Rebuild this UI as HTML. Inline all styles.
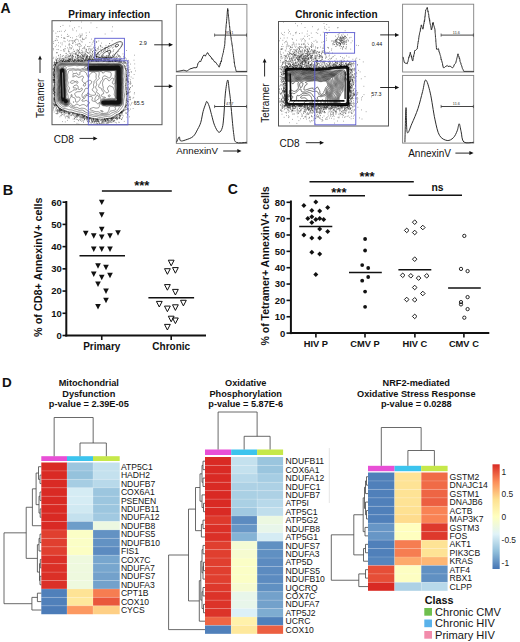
<!DOCTYPE html>
<html><head><meta charset="utf-8"><title>Figure</title>
<style>html,body{margin:0;padding:0;background:#fff;} svg{display:block;} text{font-family:"Liberation Sans",sans-serif;}</style>
</head><body>
<svg width="520" height="642" viewBox="0 0 520 642" font-family="Liberation Sans, sans-serif">
<rect width="520" height="642" fill="#fff"/>
<text x="0.6" y="13.0" font-size="14" font-weight="bold" text-anchor="start" fill="#111" >A</text>
<text x="109.2" y="17.7" font-size="10" font-weight="bold" text-anchor="middle" fill="#111" >Primary infection</text>
<g><path d="M77.0 55.8h.6M125.5 113.3h.6M77.1 60.2h.6M70.8 47.6h.6M70.7 54.3h.6M72.1 71.9h.6M127.5 75.3h.6M53.6 86.2h.6M126.8 105.5h.6M65.6 60.0h.6M74.7 60.4h.6M111.3 118.7h.6M113.8 54.6h.6M77.4 115.2h.6M85.6 59.6h.6M124.9 66.7h.6M76.9 60.5h.6M54.5 99.5h.6M126.4 94.2h.6M94.5 59.8h.6M129.4 74.3h.6M120.0 56.6h.6M70.7 59.0h.6M87.1 60.4h.6M79.0 114.8h.6M116.4 117.1h.6M129.7 69.4h.6M121.2 113.7h.6M110.9 118.3h.6M113.7 57.2h.6M107.0 59.3h.6M72.3 113.0h.6M91.6 56.0h.6M54.3 76.7h.6M117.7 117.5h.6M107.9 52.2h.6M101.4 43.1h.6M75.4 56.5h.6M115.7 60.6h.6M117.7 55.9h.6M119.7 116.4h.6M96.4 61.5h.6M53.4 90.8h.6M74.1 114.0h.6M95.1 118.8h.6M113.1 118.3h.6M100.4 53.3h.6M112.5 56.6h.6M53.1 104.9h.6M71.0 48.6h.6M54.4 95.4h.6M127.7 88.3h.6M81.0 22.0h.6M54.1 95.0h.6M121.9 112.9h.6M54.5 92.0h.6M72.1 55.3h.6M61.9 109.9h.6M55.9 62.4h.6M53.9 98.5h.6M109.7 57.8h.6M106.1 60.8h.6M90.0 59.5h.6M83.2 59.3h.6M106.6 59.6h.6M53.0 108.9h.6M93.7 123.5h.6M59.9 56.6h.6M54.8 104.5h.6M60.3 60.3h.6M98.9 59.5h.6M59.3 110.6h.6M69.4 61.3h.6M78.3 50.5h.6M68.8 59.4h.6M68.2 50.2h.6M83.4 60.9h.6M91.0 120.0h.6M77.5 55.5h.6M92.9 121.0h.6M128.5 95.0h.6M104.5 47.8h.6M74.1 60.7h.6M54.1 82.2h.6M53.8 69.5h.6M54.5 99.2h.6M120.9 112.9h.6M82.7 114.9h.6M110.1 61.7h.6M70.9 57.8h.6M54.0 69.8h.6M77.8 43.7h.6M93.7 58.4h.6M88.1 58.9h.6M112.4 60.2h.6M81.0 54.8h.6M52.8 85.3h.6M62.7 25.4h.6M98.5 60.3h.6M53.5 41.7h.6M124.2 61.1h.6M80.5 59.9h.6M127.2 78.9h.6M126.3 93.8h.6M96.3 59.5h.6M91.6 58.4h.6M66.6 113.5h.6M107.9 59.5h.6M55.6 40.5h.6M78.1 57.3h.6M84.5 56.0h.6M87.3 117.2h.6M125.1 67.8h.6M84.9 60.0h.6M77.0 114.9h.6M70.2 58.6h.6M124.4 61.0h.6M67.5 57.8h.6M53.2 71.4h.6M84.2 119.0h.6M66.9 36.5h.6M81.4 50.3h.6M99.4 123.1h.6M53.0 91.2h.6M98.3 58.6h.6M98.5 41.0h.6M127.1 96.1h.6M92.3 122.0h.6M57.1 109.8h.6M91.6 56.5h.6M132.8 108.5h.6M59.8 110.4h.6M92.5 51.7h.6M57.9 113.1h.6M64.8 41.7h.6M53.5 96.1h.6M94.2 121.7h.6M60.2 26.5h.6M58.8 108.9h.6M72.0 56.0h.6M95.7 56.6h.6M77.2 117.1h.6M74.6 116.2h.6M84.3 60.9h.6M54.0 87.9h.6M80.3 35.9h.6M105.1 120.6h.6M106.7 55.5h.6M56.3 105.4h.6M90.8 58.1h.6M121.5 111.8h.6M75.5 117.4h.6M96.9 53.7h.6M53.1 78.0h.6M81.6 117.9h.6M82.6 119.9h.6M108.2 57.6h.6M101.8 122.2h.6M75.5 39.7h.6M122.1 111.5h.6M65.7 57.7h.6M77.6 44.7h.6M79.6 59.6h.6M62.9 110.0h.6M98.7 56.9h.6M54.2 105.6h.6M89.5 52.3h.6M81.8 54.4h.6M60.6 60.5h.6M60.4 110.4h.6M124.7 62.5h.6M96.4 51.0h.6M91.0 60.0h.6M92.0 51.7h.6M80.8 115.6h.6M112.1 61.5h.6M83.8 116.0h.6M125.2 62.9h.6M106.9 123.6h.6M127.9 82.2h.6M93.9 48.3h.6M104.9 48.2h.6M52.6 80.9h.6M65.6 55.6h.6M61.6 109.8h.6M103.3 58.3h.6M109.4 118.6h.6M75.7 54.8h.6M78.5 58.8h.6M130.3 99.7h.6M114.6 61.3h.6M73.4 113.1h.6M89.6 119.9h.6M83.2 116.6h.6M105.6 56.3h.6M72.3 43.4h.6M90.2 55.5h.6M105.4 47.4h.6M67.6 54.6h.6M89.9 50.2h.6M61.2 113.3h.6M111.3 117.8h.6M109.3 122.5h.6M79.6 37.3h.6M126.5 94.3h.6M72.2 52.9h.6M127.0 104.4h.6M67.8 56.2h.6M85.6 58.6h.6M68.8 56.8h.6M81.1 54.3h.6M113.2 60.0h.6M112.2 48.1h.6M53.9 103.1h.6M77.7 56.2h.6M106.2 58.0h.6M85.0 45.0h.6M72.9 114.3h.6M53.0 93.9h.6M112.5 119.0h.6M56.2 63.2h.6M88.2 59.6h.6M119.4 60.6h.6M97.6 60.5h.6M75.5 57.2h.6M57.7 110.7h.6M127.0 109.6h.6M84.0 47.2h.6M109.6 59.5h.6M64.8 59.0h.6M54.0 99.9h.6M74.0 27.7h.6M65.0 61.3h.6M75.8 117.6h.6M117.6 115.3h.6M73.7 60.9h.6M107.4 61.2h.6M119.4 117.5h.6M108.5 118.5h.6M77.6 57.2h.6M95.3 60.1h.6M69.3 116.9h.6M104.2 119.1h.6M56.7 52.8h.6M91.5 53.8h.6M100.1 57.0h.6M75.1 42.6h.6M95.6 60.5h.6M120.4 62.1h.6M126.8 68.8h.6M125.9 85.2h.6M71.4 55.9h.6M82.1 55.6h.6M57.3 40.3h.6M78.9 43.4h.6M72.0 56.1h.6M84.1 119.3h.6M102.3 58.0h.6M95.6 123.8h.6M101.5 122.2h.6M93.7 121.1h.6M68.9 113.5h.6M119.8 113.8h.6M62.0 111.0h.6M70.3 60.2h.6M52.7 66.8h.6M101.2 58.6h.6M67.6 60.8h.6M92.6 42.3h.6M96.2 58.0h.6M103.0 123.3h.6M102.6 119.1h.6M95.5 121.7h.6M99.4 60.2h.6M127.9 92.3h.6M109.1 61.1h.6M54.0 95.8h.6M115.9 118.6h.6M126.0 91.3h.6M134.3 55.2h.6M55.8 62.7h.6M113.4 117.6h.6M128.1 108.9h.6M128.1 99.7h.6M100.5 45.4h.6M97.9 53.9h.6M52.9 104.4h.6M74.6 60.3h.6M124.3 63.4h.6M82.0 115.2h.6M88.0 60.0h.6M93.3 120.2h.6M93.2 47.1h.6M101.4 55.3h.6M94.5 56.2h.6M76.0 39.1h.6M61.0 112.6h.6M124.2 65.7h.6M58.1 107.5h.6M84.0 60.1h.6M96.3 120.7h.6M130.3 109.1h.6M76.4 58.4h.6M68.4 116.4h.6M69.5 60.7h.6M125.8 65.1h.6M53.6 99.9h.6M52.7 79.5h.6M86.8 117.2h.6M67.9 112.4h.6M84.4 117.9h.6M104.6 60.3h.6M121.6 112.8h.6M59.4 112.1h.6M101.5 123.0h.6M62.2 56.1h.6M86.8 57.0h.6M64.3 112.6h.6M58.6 111.7h.6M80.2 44.3h.6M92.5 54.1h.6M53.9 79.6h.6M60.4 54.7h.6M122.7 111.3h.6M111.7 31.1h.6M127.3 109.2h.6M89.1 118.2h.6M54.4 106.2h.6M82.8 55.7h.6M97.9 54.2h.6M93.2 60.2h.6M53.3 75.8h.6M126.3 100.6h.6M126.0 70.5h.6M126.8 99.0h.6M90.8 123.7h.6M52.7 92.1h.6M76.0 61.4h.6M126.9 80.3h.6M125.6 63.4h.6M53.6 89.2h.6M77.8 55.6h.6M54.2 64.9h.6M99.8 60.5h.6M116.8 52.9h.6M94.0 120.1h.6M53.3 108.0h.6M68.8 61.6h.6M78.3 115.7h.6M74.4 60.6h.6M119.3 59.0h.6M54.2 74.0h.6M118.8 122.5h.6M123.2 61.8h.6M63.3 110.2h.6M112.4 55.4h.6M109.5 61.2h.6M71.7 57.5h.6M72.6 40.9h.6M106.6 47.2h.6M58.8 57.9h.6M55.7 104.1h.6M53.7 73.8h.6M119.2 113.5h.6M108.1 61.6h.6M54.1 72.4h.6M59.3 111.6h.6M67.1 34.4h.6M60.5 43.0h.6M76.3 53.0h.6M78.2 60.7h.6M128.1 60.4h.6M91.0 122.0h.6M58.1 60.6h.6M127.7 89.1h.6M54.2 74.5h.6M63.7 112.4h.6M103.7 56.2h.6M126.6 79.7h.6M106.7 120.6h.6M54.2 76.7h.6M85.9 116.7h.6M56.6 111.7h.6M79.7 117.8h.6M81.8 60.5h.6M91.9 59.9h.6M71.9 57.0h.6M89.7 59.2h.6M56.0 108.0h.6M54.2 83.9h.6M125.8 87.7h.6M130.2 79.8h.6M54.2 70.2h.6M58.1 107.0h.6M65.4 60.7h.6M70.4 55.1h.6M89.6 58.7h.6M81.8 53.0h.6M86.2 57.3h.6M104.1 119.0h.6M120.4 61.8h.6M91.3 60.6h.6M127.6 70.1h.6M122.9 61.7h.6M61.6 110.2h.6M72.8 42.9h.6M81.2 28.0h.6M97.3 54.4h.6M100.7 59.9h.6M54.4 70.1h.6M107.1 119.2h.6M98.6 55.9h.6M126.6 71.6h.6M107.4 118.7h.6M93.2 57.5h.6M68.1 60.4h.6M105.3 60.6h.6M53.3 75.2h.6M107.2 120.0h.6M96.7 121.9h.6M84.4 117.1h.6M107.3 50.9h.6M82.5 38.8h.6M77.8 61.4h.6M91.2 39.1h.6M58.9 58.9h.6M108.6 118.3h.6M83.9 55.1h.6M114.3 120.1h.6M98.8 121.5h.6M120.1 112.9h.6M58.0 107.8h.6M53.3 80.6h.6M104.3 60.2h.6M54.8 62.7h.6M64.8 60.4h.6M75.7 60.6h.6M58.3 55.8h.6M63.7 110.8h.6M98.4 46.9h.6M72.5 60.5h.6M89.2 119.6h.6M100.8 47.0h.6M98.7 61.4h.6M86.3 116.6h.6M56.1 113.7h.6M69.4 114.3h.6M120.7 58.2h.6M116.1 115.2h.6M89.2 58.6h.6M127.6 63.4h.6M73.9 121.5h.6M100.7 59.5h.6M97.2 119.9h.6M107.1 120.2h.6M56.5 52.8h.6M77.7 52.2h.6M103.8 119.7h.6M60.5 115.6h.6M89.7 51.4h.6M53.4 71.0h.6M75.9 50.2h.6M75.4 114.3h.6M77.0 114.2h.6M115.7 59.1h.6M93.7 41.7h.6M104.1 60.1h.6M54.9 62.6h.6M81.6 61.2h.6M90.0 118.9h.6M105.4 60.7h.6M97.4 123.6h.6M107.3 122.0h.6M113.1 59.9h.6M80.0 56.2h.6M120.3 60.1h.6M69.5 26.0h.6M61.6 114.5h.6M68.7 61.1h.6M53.7 75.3h.6M89.2 118.6h.6M69.3 113.2h.6M81.5 116.2h.6M61.7 58.2h.6M60.9 60.0h.6M117.7 60.1h.6M89.0 60.1h.6M108.0 122.8h.6M95.5 60.9h.6M126.1 68.6h.6M54.5 82.5h.6M54.1 71.5h.6M79.5 119.5h.6M90.2 58.9h.6M58.7 109.9h.6M98.3 119.3h.6M92.7 59.4h.6M105.2 119.7h.6M52.9 81.0h.6M87.1 60.8h.6M76.5 59.8h.6M76.0 114.4h.6M87.2 46.5h.6M115.1 60.3h.6M121.4 111.5h.6M55.1 103.0h.6M101.1 52.8h.6M83.5 58.3h.6M53.2 72.5h.6M94.5 54.8h.6M118.5 51.5h.6M83.7 118.2h.6M54.5 92.6h.6M94.2 61.0h.6M55.8 63.5h.6M101.0 119.5h.6M106.6 118.9h.6M112.8 45.9h.6M74.9 59.5h.6M54.6 92.5h.6M126.5 91.4h.6M83.2 117.3h.6M78.1 57.5h.6M78.7 46.6h.6M112.6 61.2h.6M86.8 60.0h.6M79.2 49.4h.6M125.9 79.1h.6M86.0 35.6h.6M99.3 59.5h.6M53.3 103.6h.6M116.8 60.8h.6M95.1 59.8h.6M123.4 110.6h.6M120.9 46.2h.6M73.9 60.0h.6M61.5 109.6h.6M116.7 57.9h.6M126.9 101.4h.6M76.5 116.1h.6M88.9 59.3h.6M58.4 108.2h.6M92.9 118.8h.6M98.6 123.1h.6M59.6 60.7h.6M100.8 58.0h.6M74.7 53.5h.6M53.5 88.3h.6M72.5 58.5h.6M81.8 58.0h.6M86.3 116.8h.6M56.7 52.5h.6M58.0 107.1h.6M98.0 47.9h.6M53.6 102.1h.6M89.7 57.9h.6M86.9 118.5h.6M73.1 61.0h.6M90.9 57.8h.6M97.7 60.1h.6M103.7 59.9h.6M68.2 60.8h.6M126.4 70.7h.6M123.8 62.5h.6M87.6 57.3h.6M85.7 60.4h.6M78.0 61.4h.6M120.6 112.3h.6M61.1 37.5h.6M115.4 60.7h.6M111.7 51.8h.6M97.3 123.8h.6M102.4 119.4h.6M112.6 118.7h.6M104.2 58.8h.6M128.1 101.5h.6M125.5 60.7h.6M53.4 81.8h.6M93.3 57.4h.6M83.0 56.6h.6M57.3 111.4h.6M53.7 75.2h.6M106.8 47.7h.6M116.5 58.0h.6M129.4 99.7h.6M102.9 50.4h.6M92.8 59.4h.6M59.4 109.3h.6M100.2 58.9h.6M121.3 111.6h.6M65.7 111.0h.6M53.0 80.9h.6M127.1 114.6h.6M98.5 121.8h.6M55.4 105.8h.6M128.6 62.0h.6M70.6 48.9h.6M111.6 118.6h.6M66.5 55.2h.6M112.0 61.2h.6M110.7 118.5h.6M95.8 61.4h.6M112.6 120.3h.6M89.1 58.1h.6M53.5 88.6h.6M82.3 58.2h.6M54.9 64.4h.6M54.2 83.1h.6M54.9 101.8h.6M100.3 59.5h.6M127.5 108.4h.6M92.3 52.7h.6M66.7 61.2h.6M86.4 59.4h.6M116.2 117.1h.6M61.1 109.6h.6M82.2 58.3h.6M127.8 76.4h.6M83.0 57.0h.6M128.6 66.8h.6M80.3 61.3h.6M76.2 113.9h.6M82.7 116.8h.6M100.8 59.9h.6M94.0 59.3h.6M88.0 60.6h.6M135.2 70.9h.6M96.3 120.9h.6M93.6 57.7h.6M83.8 61.0h.6M90.7 61.2h.6M117.1 61.5h.6M126.3 76.6h.6M54.1 67.1h.6M129.1 76.0h.6M65.8 111.5h.6M70.5 115.6h.6M76.8 51.4h.6M64.0 115.0h.6M109.2 121.3h.6M79.6 60.0h.6M127.3 65.2h.6M91.4 60.8h.6M81.9 60.2h.6M77.5 114.1h.6M56.3 62.5h.6M60.1 111.0h.6M62.8 111.5h.6M101.3 56.7h.6M81.2 121.2h.6M75.8 54.2h.6M77.5 116.7h.6M126.7 78.7h.6M65.0 57.7h.6M120.5 112.6h.6M83.8 61.1h.6M84.5 53.8h.6M53.7 75.2h.6M92.4 121.2h.6M53.0 93.8h.6M52.7 77.4h.6M111.1 57.0h.6M56.1 62.1h.6M103.5 122.5h.6M120.5 112.8h.6M77.3 115.6h.6M90.1 49.1h.6M103.1 120.0h.6M63.2 60.3h.6M82.3 51.1h.6M101.4 120.1h.6M66.0 60.4h.6M61.1 35.2h.6M88.9 58.0h.6M53.3 89.0h.6M121.2 112.2h.6M113.6 54.0h.6M107.9 61.1h.6M84.4 55.0h.6M126.2 107.2h.6M117.4 60.8h.6M130.5 83.3h.6M108.2 120.5h.6M77.8 60.3h.6M52.7 73.3h.6M112.4 26.8h.6M52.7 103.0h.6M97.0 119.5h.6M127.7 81.3h.6M122.9 115.9h.6M87.5 60.4h.6M53.8 112.0h.6M72.5 113.0h.6M65.6 61.1h.6M54.3 64.5h.6M93.5 118.5h.6M69.1 59.7h.6M65.6 61.1h.6M69.4 59.8h.6M126.3 74.6h.6M65.5 61.7h.6M103.3 61.4h.6M71.8 58.9h.6M95.1 49.7h.6M54.0 79.7h.6M116.7 119.7h.6M88.4 117.3h.6M115.0 57.4h.6M68.9 59.5h.6M95.9 60.6h.6M53.0 73.9h.6M78.1 50.7h.6M58.0 110.8h.6M104.2 58.5h.6M81.7 59.0h.6M59.3 31.4h.6M53.3 100.7h.6M128.6 67.5h.6M96.2 119.3h.6M128.8 92.7h.6M61.0 109.9h.6M53.5 105.9h.6M89.7 54.6h.6M100.9 58.6h.6M114.5 60.4h.6M74.6 59.3h.6M97.0 118.8h.6M64.1 110.4h.6M54.6 65.0h.6M54.1 63.6h.6M128.3 70.1h.6M104.5 119.3h.6M84.8 52.8h.6M68.7 59.3h.6M84.7 56.4h.6M84.2 116.5h.6M105.1 59.9h.6M97.7 56.4h.6M86.3 58.3h.6M82.0 60.3h.6M130.0 105.1h.6M61.0 59.9h.6M65.9 116.0h.6M62.6 59.8h.6M117.6 116.8h.6M66.0 112.7h.6M81.5 114.5h.6M54.3 86.2h.6M86.5 56.5h.6M118.0 61.8h.6M59.1 109.2h.6M58.0 49.6h.6M53.4 65.0h.6M53.5 91.2h.6M116.2 115.2h.6M77.6 56.3h.6M80.6 116.2h.6M80.4 120.5h.6M92.1 48.9h.6M72.0 40.9h.6M86.8 59.4h.6M125.4 66.8h.6M128.3 105.0h.6M53.8 99.1h.6M76.2 30.9h.6M57.7 36.7h.6M78.9 60.8h.6M84.9 118.7h.6M56.7 49.5h.6M120.8 61.5h.6M119.7 57.5h.6M55.0 104.4h.6M134.0 101.2h.6M130.3 64.1h.6M63.5 114.9h.6M87.6 61.0h.6M53.3 98.5h.6M128.3 105.8h.6M119.8 115.6h.6M98.9 123.1h.6M86.2 57.3h.6M77.7 60.3h.6M103.4 121.2h.6M126.2 59.0h.6M106.7 51.5h.6M101.9 60.6h.6M114.3 61.0h.6M89.4 118.1h.6M55.9 59.8h.6M110.5 61.0h.6M105.1 48.4h.6M99.8 120.5h.6M106.1 58.4h.6M128.4 109.2h.6M59.6 61.6h.6M90.5 55.4h.6M80.3 114.9h.6M67.8 118.1h.6M65.3 30.3h.6M54.0 80.5h.6M84.8 115.9h.6M100.2 49.2h.6M111.9 122.0h.6M119.4 113.6h.6M54.2 105.5h.6M114.9 117.6h.6M105.3 120.1h.6M89.5 57.5h.6M111.4 122.4h.6M81.5 59.3h.6M66.4 61.3h.6M68.8 55.7h.6M64.2 61.3h.6M65.1 112.9h.6M85.7 37.4h.6M110.9 118.8h.6M54.2 80.7h.6M124.5 110.4h.6M108.7 59.1h.6M126.3 99.3h.6M63.4 55.5h.6M109.6 60.7h.6M77.5 50.0h.6M56.4 110.3h.6M128.7 78.8h.6M90.8 60.0h.6M52.9 69.6h.6M97.7 121.6h.6M79.2 56.1h.6M95.7 60.3h.6M87.1 56.0h.6M126.7 100.6h.6M119.4 60.9h.6M102.5 56.8h.6M127.2 94.6h.6M70.1 37.5h.6M68.1 111.8h.6M53.8 79.0h.6M74.5 115.0h.6M53.9 79.0h.6M54.0 67.7h.6M126.2 50.5h.6M123.9 62.8h.6M59.9 108.7h.6M92.0 59.7h.6M82.5 56.4h.6M87.3 55.5h.6M104.8 34.0h.6M120.1 59.9h.6M56.8 113.7h.6M93.6 118.8h.6M78.4 41.0h.6M126.7 72.4h.6M97.9 61.4h.6M117.4 118.5h.6M60.0 60.3h.6M71.7 114.2h.6M105.7 124.1h.6M115.8 61.4h.6M79.6 60.0h.6M126.9 73.3h.6M91.9 122.5h.6M81.5 57.2h.6M129.1 97.4h.6M125.4 68.9h.6M99.5 54.9h.6M87.6 121.1h.6M106.1 59.3h.6M107.6 60.0h.6M83.6 59.1h.6M86.9 119.4h.6M58.0 45.9h.6M87.9 53.1h.6M99.5 54.8h.6M125.1 107.0h.6M82.5 116.8h.6M76.5 36.6h.6M54.2 80.3h.6M57.2 62.8h.6M126.7 92.4h.6M111.2 118.4h.6M126.5 92.1h.6M69.4 61.2h.6M106.1 57.0h.6M66.9 60.7h.6M59.5 110.3h.6M72.9 61.1h.6M91.8 59.5h.6M71.6 112.3h.6M102.4 121.8h.6M68.7 41.3h.6M115.9 60.6h.6M112.3 117.6h.6M121.1 112.3h.6M96.8 59.7h.6M63.5 60.4h.6M115.8 58.9h.6M113.2 121.1h.6M87.9 46.6h.6M86.3 57.2h.6M93.1 50.5h.6M121.8 118.7h.6M69.1 58.6h.6M107.0 51.6h.6M119.0 113.5h.6M66.5 61.1h.6M125.4 85.6h.6M80.5 57.7h.6M126.1 69.8h.6M126.9 77.2h.6M126.1 104.8h.6M53.7 97.7h.6M125.1 62.4h.6M111.8 40.7h.6M82.7 115.7h.6M116.7 114.9h.6M85.1 54.1h.6M89.1 117.9h.6M76.0 119.2h.6M66.1 53.4h.6M68.6 113.4h.6M64.0 111.8h.6M54.1 77.9h.6M83.8 115.5h.6M98.7 59.9h.6M70.0 55.6h.6M85.8 60.1h.6M54.0 98.8h.6M90.9 50.3h.6M53.6 68.9h.6M94.6 60.8h.6M120.9 62.1h.6M79.4 43.9h.6M55.4 65.3h.6M87.3 58.7h.6M54.4 101.4h.6M54.0 70.7h.6M75.9 113.6h.6M53.9 91.9h.6M91.4 56.0h.6M74.2 51.3h.6M64.7 110.6h.6M119.3 115.2h.6M103.3 120.0h.6M90.8 118.0h.6M101.6 59.8h.6M128.4 92.9h.6M126.1 78.7h.6M78.3 59.6h.6M84.9 115.9h.6M68.0 112.9h.6M53.3 79.3h.6M113.5 57.6h.6M76.7 123.3h.6M74.4 118.3h.6M78.5 116.1h.6M54.5 79.9h.6M92.0 58.8h.6M98.4 58.0h.6M79.8 60.7h.6M104.4 119.2h.6M108.6 54.0h.6M118.1 55.7h.6M125.0 57.9h.6M53.9 63.8h.6M104.2 121.0h.6M61.6 110.5h.6M126.6 107.9h.6M54.8 102.2h.6M103.5 51.9h.6M62.6 110.4h.6M65.2 60.1h.6M80.9 41.7h.6M96.6 119.1h.6M83.8 56.7h.6M69.5 53.4h.6M72.3 57.7h.6M126.6 75.3h.6M52.8 110.2h.6M97.6 50.1h.6M86.7 116.9h.6M69.8 61.1h.6M55.6 105.4h.6M111.0 118.9h.6M128.9 83.3h.6M64.1 61.6h.6M84.1 119.6h.6M53.9 98.7h.6M72.3 60.7h.6M114.3 58.1h.6M105.1 120.9h.6M107.9 60.0h.6M61.0 110.8h.6M117.7 54.8h.6M82.2 55.5h.6M78.3 114.6h.6M64.5 49.0h.6M124.9 107.5h.6M81.8 56.7h.6M105.3 119.7h.6M78.9 52.5h.6M53.0 82.6h.6M101.0 123.6h.6M110.0 56.1h.6M108.3 53.0h.6M93.6 47.9h.6M57.8 58.8h.6M112.0 119.4h.6M127.7 81.8h.6M70.4 60.5h.6M95.5 120.0h.6M53.9 97.6h.6M67.4 61.6h.6M54.8 40.6h.6M130.3 91.8h.6M111.5 120.0h.6M118.6 59.5h.6M102.0 120.3h.6M81.4 117.5h.6M69.1 115.0h.6M55.1 64.3h.6M128.9 92.1h.6M128.8 104.0h.6M75.1 52.8h.6M63.0 60.8h.6M118.8 118.5h.6M64.7 111.5h.6M113.3 121.4h.6M62.9 59.7h.6M77.2 58.1h.6M91.7 122.0h.6M80.7 57.2h.6M92.3 60.9h.6M84.1 119.8h.6M87.4 52.6h.6M74.6 119.4h.6M55.6 64.6h.6M88.7 59.9h.6M120.0 61.4h.6M82.0 52.3h.6M54.5 69.5h.6M118.7 61.9h.6M54.1 85.6h.6M111.3 61.5h.6M68.6 35.9h.6M77.5 39.6h.6M89.5 118.5h.6M105.7 121.7h.6M114.5 120.6h.6M101.3 60.0h.6M112.3 60.7h.6M128.4 87.2h.6M122.0 112.2h.6M61.5 60.2h.6M121.0 112.4h.6M56.0 63.3h.6M54.4 77.7h.6M87.2 121.3h.6M61.8 56.3h.6M59.8 111.3h.6M85.0 51.3h.6M87.2 56.0h.6M116.1 60.1h.6M98.0 60.3h.6M78.0 55.3h.6M128.2 84.3h.6M54.4 70.2h.6M113.8 59.7h.6M53.5 57.3h.6M96.0 119.5h.6M113.5 118.2h.6M77.1 114.4h.6M65.3 111.4h.6M130.8 77.0h.6M114.2 60.2h.6M133.9 93.9h.6M72.6 60.1h.6M112.0 59.8h.6M119.3 55.6h.6M56.7 60.2h.6M123.9 109.7h.6M125.8 89.6h.6M53.5 72.7h.6M84.6 60.9h.6M82.4 57.0h.6M105.9 122.3h.6M64.7 38.4h.6M108.0 119.3h.6M81.1 60.7h.6M55.1 104.4h.6M68.5 51.8h.6M121.3 60.1h.6M89.1 60.1h.6M120.3 116.3h.6M84.5 54.8h.6M97.1 121.2h.6M128.4 75.6h.6M90.4 52.8h.6M86.2 57.0h.6M115.2 116.6h.6M98.1 120.3h.6M96.4 42.2h.6M67.4 116.7h.6M126.2 113.4h.6M79.8 56.8h.6M78.9 114.6h.6M106.7 51.6h.6M96.5 41.8h.6M54.9 110.8h.6M102.5 120.4h.6M62.0 114.5h.6M84.4 116.3h.6M72.8 119.1h.6M103.2 59.3h.6M82.9 116.8h.6M85.2 117.9h.6M109.2 58.3h.6M62.2 61.4h.6M69.6 59.8h.6M106.6 121.7h.6M119.2 61.3h.6M106.6 123.5h.6M95.4 53.3h.6M53.5 79.7h.6M63.7 38.0h.6M81.0 60.8h.6M122.4 117.6h.6M87.7 119.7h.6M81.2 59.9h.6M64.2 59.2h.6M125.0 109.0h.6M57.0 62.7h.6M107.8 61.5h.6M105.2 50.1h.6M75.0 60.7h.6M123.7 58.6h.6M116.7 119.6h.6M71.4 60.9h.6M55.2 102.2h.6M129.8 97.2h.6M102.6 121.3h.6M54.7 80.4h.6M88.8 56.6h.6M54.3 91.6h.6M57.2 105.9h.6M93.4 119.6h.6M74.8 113.8h.6M97.5 121.5h.6M70.2 21.5h.6M88.6 60.5h.6M107.1 119.8h.6M69.7 47.8h.6M125.7 83.8h.6M99.8 60.4h.6M85.1 60.0h.6M87.2 117.4h.6M64.2 61.5h.6M80.4 61.1h.6M112.9 50.9h.6M105.3 120.7h.6M97.0 59.6h.6M69.2 59.2h.6M60.6 112.7h.6M80.5 58.8h.6M127.2 79.2h.6M125.4 106.1h.6M77.8 114.5h.6M56.5 36.4h.6M94.4 59.1h.6M88.5 59.3h.6M128.9 96.1h.6M88.2 120.3h.6M62.6 61.0h.6M128.5 93.8h.6M54.0 76.4h.6M54.0 94.9h.6M78.6 124.1h.6M95.6 61.0h.6M104.0 119.2h.6M95.8 56.6h.6M106.5 55.5h.6M98.5 121.9h.6M75.5 58.1h.6M55.7 113.5h.6M130.6 83.3h.6M107.4 59.1h.6M105.3 118.9h.6M73.5 113.1h.6M107.8 55.8h.6M127.1 114.9h.6M126.0 65.0h.6M120.6 112.5h.6M93.2 119.5h.6M108.1 121.9h.6M54.6 104.8h.6M76.6 60.4h.6M56.6 63.0h.6M94.2 59.7h.6M84.5 115.8h.6M86.7 55.4h.6M68.0 113.4h.6M54.5 67.8h.6M54.3 70.0h.6M57.3 62.8h.6M63.7 58.4h.6M85.6 38.4h.6M87.4 117.7h.6M83.8 116.9h.6M103.8 61.4h.6M125.7 105.1h.6M69.6 40.6h.6M68.5 111.9h.6M129.4 88.9h.6M63.6 61.7h.6M100.1 61.0h.6M105.1 61.0h.6M80.2 116.6h.6M54.2 84.7h.6M98.6 49.5h.6M108.7 53.6h.6M69.6 44.5h.6M121.8 113.3h.6M76.6 44.4h.6M71.2 115.6h.6M110.0 122.4h.6M53.0 43.5h.6M60.3 109.2h.6M58.9 61.7h.6M106.5 57.1h.6M67.8 36.5h.6M120.5 112.5h.6M104.3 59.7h.6M105.7 45.4h.6M121.2 61.5h.6M56.0 105.4h.6M117.3 118.2h.6M69.0 45.1h.6M53.4 68.7h.6M108.7 48.7h.6M110.9 119.7h.6M78.6 60.6h.6M116.4 56.4h.6M109.5 43.5h.6M83.0 39.5h.6M78.7 60.0h.6M62.1 112.7h.6M80.4 56.9h.6M78.1 115.5h.6M117.6 118.7h.6M86.0 118.5h.6M128.4 90.3h.6M52.6 89.2h.6M112.3 118.4h.6M72.2 59.3h.6M129.9 81.5h.6M95.2 121.1h.6M81.8 35.0h.6M108.7 61.1h.6M126.6 93.0h.6M87.8 59.2h.6M63.8 110.7h.6M129.3 72.5h.6M56.4 61.7h.6M105.0 120.8h.6M75.3 113.3h.6M52.8 72.6h.6M80.3 36.1h.6M111.5 119.9h.6M98.2 121.3h.6M53.6 101.3h.6M52.9 48.5h.6M121.6 62.4h.6M54.7 66.2h.6M98.4 121.1h.6M108.1 119.8h.6M81.2 61.2h.6M112.8 47.5h.6M92.8 120.4h.6M52.7 89.7h.6M119.8 118.3h.6M54.4 61.7h.6M77.5 57.3h.6M102.4 47.4h.6M97.2 119.9h.6M114.5 58.0h.6M54.5 100.3h.6M119.2 61.3h.6M56.9 61.7h.6M73.9 116.9h.6M93.8 53.7h.6M85.1 60.9h.6M132.7 78.3h.6M53.9 97.8h.6M127.4 61.4h.6M119.3 60.3h.6M70.5 53.7h.6M60.7 62.0h.6M107.8 120.4h.6M56.1 105.0h.6M93.0 60.1h.6M76.1 53.0h.6M70.9 53.0h.6M126.7 80.3h.6M90.3 118.1h.6M120.0 112.8h.6M134.5 63.9h.6M129.4 116.8h.6M53.3 79.2h.6M126.6 63.1h.6M103.8 61.1h.6M66.7 56.6h.6M70.6 114.8h.6M54.2 89.3h.6M66.2 58.0h.6M120.8 58.5h.6M82.6 117.2h.6M53.9 62.4h.6M119.5 113.5h.6M127.3 69.6h.6M94.1 122.5h.6M90.7 22.9h.6M71.9 114.3h.6M84.7 48.3h.6M131.1 103.8h.6M54.2 77.0h.6M54.1 79.4h.6M84.6 118.6h.6M117.9 61.6h.6M54.5 82.2h.6M93.2 56.2h.6M86.8 56.8h.6M108.3 45.5h.6M113.2 117.4h.6M52.7 69.4h.6M91.5 119.2h.6M68.0 61.1h.6M91.3 120.3h.6M72.2 54.9h.6M67.5 60.5h.6M76.1 114.8h.6M85.7 57.5h.6M73.1 61.2h.6M79.8 52.4h.6M85.4 53.6h.6M53.7 82.0h.6M54.0 92.2h.6M97.7 119.4h.6M70.4 59.7h.6M106.7 120.7h.6M119.6 115.3h.6M90.9 57.1h.6M53.5 75.1h.6M97.7 48.4h.6M81.3 45.8h.6M87.9 118.9h.6M91.1 60.2h.6M64.9 48.7h.6M82.0 61.2h.6M97.9 59.4h.6M91.5 118.6h.6M97.7 61.3h.6M125.8 85.9h.6M94.3 57.1h.6M76.9 114.3h.6M90.0 117.8h.6M77.4 58.7h.6M119.7 118.1h.6M109.8 59.6h.6M62.5 58.5h.6M123.1 63.1h.6M59.1 61.8h.6M83.3 117.0h.6M86.4 49.3h.6M82.2 48.6h.6M53.7 93.4h.6M102.2 61.2h.6M76.2 115.5h.6M52.9 89.0h.6M112.9 120.6h.6M88.0 60.6h.6M52.7 82.6h.6M119.6 59.7h.6M132.7 98.2h.6M53.1 90.1h.6M57.3 111.9h.6M116.9 116.6h.6M113.7 117.0h.6M54.4 94.4h.6M111.0 59.9h.6M82.4 114.8h.6M59.7 111.2h.6M67.3 60.1h.6M60.7 50.5h.6M59.5 109.4h.6M128.1 102.1h.6M115.1 61.3h.6M110.5 118.4h.6M87.7 59.7h.6M54.0 76.0h.6M113.1 118.6h.6M123.3 110.2h.6M127.1 79.2h.6M69.0 56.2h.6M104.1 121.7h.6M60.9 110.0h.6M77.9 55.3h.6M77.1 49.9h.6M89.1 61.2h.6M96.5 57.8h.6M126.1 79.8h.6M91.0 120.8h.6M72.1 37.9h.6M127.6 81.2h.6M75.4 54.4h.6M105.4 121.4h.6M86.4 56.3h.6M127.5 80.7h.6M76.4 116.5h.6M112.5 60.6h.6M127.1 85.2h.6M108.4 57.5h.6M55.6 33.2h.6M126.1 105.3h.6M111.3 120.3h.6M107.4 119.5h.6M107.6 119.1h.6M128.0 75.2h.6M53.8 68.8h.6M86.3 50.0h.6M52.8 93.0h.6M91.6 60.4h.6M120.3 59.5h.6M121.1 119.3h.6M82.8 116.4h.6M82.0 60.9h.6M108.0 122.9h.6M130.2 82.3h.6M108.5 118.8h.6M125.3 69.1h.6M103.6 120.8h.6M88.8 60.7h.6M108.5 48.4h.6M109.7 56.5h.6M122.7 53.9h.6M126.1 76.3h.6M96.9 56.7h.6M125.8 88.8h.6M97.1 59.6h.6M59.9 55.0h.6M104.1 119.4h.6M63.7 59.8h.6M57.0 113.7h.6M78.3 51.8h.6M70.6 59.6h.6M60.1 110.0h.6M124.7 110.7h.6M92.9 60.6h.6M73.9 40.9h.6M96.5 57.3h.6M105.7 56.4h.6M91.0 61.0h.6M53.6 74.5h.6M61.2 115.7h.6M98.5 60.6h.6M72.8 60.6h.6M108.7 60.2h.6M61.8 61.5h.6M71.0 61.4h.6M53.9 73.8h.6M59.0 109.1h.6M69.7 113.4h.6M116.7 119.0h.6M94.4 52.4h.6M77.6 60.9h.6M126.7 98.8h.6M89.3 57.4h.6M112.5 117.2h.6M105.2 120.6h.6M81.6 115.9h.6M126.3 75.2h.6M101.5 58.9h.6M92.3 54.5h.6M130.4 97.1h.6M116.9 57.6h.6M110.3 121.3h.6M74.5 41.4h.6M74.9 57.3h.6M56.1 108.4h.6M78.0 53.7h.6M103.1 51.5h.6M55.7 64.2h.6M81.9 60.4h.6M82.9 58.5h.6M52.9 87.1h.6M105.4 120.2h.6M75.4 115.8h.6M68.8 61.7h.6M122.9 110.8h.6M63.7 112.1h.6M77.8 60.1h.6M117.0 54.3h.6M134.5 68.1h.6M127.3 101.4h.6M116.6 118.0h.6M134.4 92.6h.6M56.8 60.0h.6M62.1 61.7h.6M116.2 61.7h.6M96.1 56.0h.6M89.8 122.6h.6M59.4 110.3h.6M94.2 43.7h.6M105.7 57.5h.6M83.4 58.1h.6M53.9 64.2h.6M107.7 60.8h.6M126.9 103.3h.6M113.4 51.1h.6M52.8 79.3h.6M95.6 50.6h.6M92.3 51.5h.6M56.5 105.7h.6M55.1 103.3h.6M56.4 60.1h.6M91.1 118.9h.6M76.8 58.0h.6M62.4 61.2h.6M79.6 60.4h.6M132.2 85.7h.6M63.3 60.8h.6M104.9 49.8h.6M128.0 65.3h.6M83.5 55.3h.6M58.3 61.3h.6M61.2 112.2h.6M94.6 55.4h.6M63.3 111.5h.6M80.3 61.4h.6M55.1 64.6h.6M110.2 119.0h.6M125.3 106.5h.6M54.7 82.2h.6M54.1 90.9h.6M72.9 51.3h.6M125.6 109.4h.6M96.3 60.6h.6M55.1 109.1h.6M73.3 57.1h.6M127.2 112.3h.6M64.9 121.9h.6M101.5 60.2h.6M89.1 117.7h.6M67.3 112.1h.6M112.0 118.4h.6M115.4 61.4h.6M63.7 38.0h.6M91.3 61.1h.6M73.8 40.9h.6M87.0 52.6h.6M56.3 107.3h.6M66.7 116.4h.6M114.0 118.1h.6M119.5 59.8h.6M68.7 59.2h.6M95.1 55.0h.6M122.3 111.3h.6M86.4 119.7h.6M70.1 58.3h.6M84.1 115.5h.6M125.9 80.3h.6M64.0 61.6h.6M58.2 42.6h.6M64.3 111.9h.6M110.6 57.9h.6M60.3 46.8h.6M79.7 115.9h.6M109.7 118.5h.6M57.8 62.7h.6M56.8 106.7h.6M123.4 61.0h.6M96.1 59.4h.6M54.9 104.5h.6M56.0 60.5h.6M65.4 56.9h.6M96.3 56.9h.6M129.0 88.9h.6M79.0 114.1h.6M127.0 93.3h.6M71.7 60.6h.6M66.5 111.8h.6M113.6 121.7h.6M78.0 59.4h.6M94.9 52.5h.6M77.3 119.6h.6M52.8 68.2h.6M93.5 122.0h.6M126.9 77.7h.6M126.1 76.5h.6M95.0 59.5h.6M102.0 122.1h.6M103.3 60.2h.6M107.5 60.1h.6M78.9 60.8h.6M77.1 55.5h.6M115.5 118.5h.6M58.9 108.3h.6M125.3 106.2h.6M64.1 31.6h.6M100.9 60.7h.6M110.5 61.5h.6M79.9 46.2h.6M86.3 58.6h.6M76.5 115.4h.6M53.2 49.8h.6M55.9 38.8h.6M93.4 61.1h.6M64.5 50.9h.6M91.4 49.1h.6M103.0 61.0h.6M97.6 58.6h.6M92.0 55.2h.6M89.9 59.5h.6M107.2 118.7h.6M89.5 117.9h.6M81.1 57.4h.6M72.9 114.1h.6M65.2 46.2h.6M94.3 45.6h.6M117.3 60.4h.6M92.1 61.1h.6M86.9 56.6h.6M114.3 61.1h.6M78.8 53.0h.6M91.7 44.2h.6M75.9 54.7h.6M60.1 108.9h.6M68.3 58.6h.6M97.1 60.7h.6M108.7 56.2h.6M81.0 58.5h.6M106.2 118.7h.6M104.0 49.4h.6M114.6 116.2h.6M73.2 115.5h.6M82.8 115.0h.6M90.5 60.7h.6M117.4 60.7h.6M125.7 106.2h.6M130.4 87.5h.6M70.2 59.6h.6M59.6 59.9h.6M59.6 108.7h.6M111.7 60.8h.6M96.8 119.2h.6M115.6 59.9h.6M126.4 87.1h.6M90.4 59.4h.6M110.2 119.9h.6M81.9 42.0h.6M76.7 59.7h.6M93.2 40.8h.6M79.4 52.8h.6M59.3 108.3h.6M128.2 111.1h.6M92.7 118.9h.6M62.1 121.6h.6M128.2 82.2h.6M96.9 48.7h.6M94.5 54.8h.6M65.5 113.7h.6M79.4 116.1h.6M80.0 53.5h.6M130.3 99.1h.6M87.7 121.7h.6M61.8 58.5h.6M81.2 114.6h.6M126.9 93.5h.6M125.9 83.4h.6M57.2 106.9h.6M95.5 119.9h.6M129.5 89.7h.6M55.9 57.1h.6M86.1 50.1h.6M106.8 118.7h.6M94.2 121.5h.6M87.8 117.3h.6M107.2 122.5h.6M69.1 112.7h.6M63.2 58.3h.6M118.7 115.2h.6M128.0 91.7h.6M64.4 113.9h.6M91.4 59.9h.6M81.7 116.3h.6M118.2 60.7h.6M62.2 60.8h.6M67.8 115.5h.6M115.3 60.8h.6M53.9 90.9h.6M71.6 59.4h.6M125.9 109.5h.6M82.8 58.9h.6M83.4 56.6h.6M128.2 93.0h.6M106.7 61.4h.6M73.7 54.1h.6M100.7 120.7h.6M55.9 104.4h.6M76.1 61.3h.6M128.7 110.6h.6M114.7 59.7h.6M53.9 85.1h.6M108.7 60.6h.6M81.8 114.7h.6M53.6 80.0h.6M96.1 60.7h.6M89.1 46.7h.6M129.9 84.5h.6M104.0 61.4h.6M93.6 118.9h.6M57.0 112.7h.6M58.6 107.5h.6M95.6 118.9h.6M126.7 82.5h.6M128.7 97.8h.6M79.6 114.4h.6M52.9 93.7h.6M87.6 58.2h.6M68.8 59.3h.6M112.7 57.2h.6M89.3 60.2h.6M88.1 60.6h.6M110.8 120.8h.6M56.1 105.0h.6M73.5 56.3h.6M83.8 48.6h.6M83.0 47.9h.6M104.8 58.9h.6M62.5 111.0h.6M88.7 61.1h.6M56.7 110.0h.6M133.7 60.2h.6M116.2 60.7h.6M67.7 113.2h.6M59.9 61.8h.6M54.0 104.1h.6M131.0 72.1h.6M53.1 80.4h.6M54.3 70.1h.6M115.3 118.4h.6M72.2 112.9h.6M110.9 58.0h.6M53.7 87.1h.6M96.5 56.4h.6M108.7 59.3h.6M54.4 80.2h.6M96.6 27.6h.6M52.7 68.7h.6M83.1 59.2h.6M72.0 46.9h.6M103.1 55.4h.6M79.5 61.0h.6M109.2 61.3h.6M92.9 119.7h.6M126.6 87.7h.6M107.6 47.8h.6M60.2 110.0h.6M115.5 60.4h.6M83.8 111.4h.6M106.8 119.2h.6M78.8 115.9h.6M81.9 61.2h.6M61.2 109.7h.6M119.3 117.2h.6M63.5 67.1h.6M55.5 64.8h.6M88.6 53.3h.6M53.1 31.0h.6M124.5 66.0h.6M80.3 119.0h.6M61.2 110.7h.6M80.4 55.8h.6M115.8 56.4h.6M93.4 59.3h.6M61.9 43.0h.6M86.6 117.7h.6M54.1 94.3h.6M98.9 58.9h.6M60.8 109.6h.6M68.6 60.2h.6M67.4 60.1h.6M84.1 39.2h.6M66.5 59.7h.6M92.3 59.7h.6M113.6 49.5h.6M97.2 120.0h.6M55.5 105.9h.6M53.1 90.4h.6M78.5 115.4h.6M117.1 115.0h.6M101.5 121.0h.6M67.2 60.7h.6M113.8 117.3h.6M133.5 97.4h.6M110.8 60.5h.6M94.8 59.0h.6M63.1 49.9h.6M72.7 30.2h.6M60.9 31.2h.6M82.8 121.1h.6M118.5 114.1h.6M128.3 70.7h.6M118.9 56.1h.6M86.2 117.1h.6M91.2 119.7h.6M89.6 42.5h.6M53.6 103.8h.6M63.3 60.0h.6M87.4 118.0h.6M127.2 101.1h.6M56.4 45.0h.6M102.3 123.3h.6M62.3 61.3h.6M128.6 72.8h.6M126.9 89.4h.6M69.1 47.1h.6M112.2 117.5h.6M82.3 38.2h.6M126.3 94.2h.6M87.2 57.2h.6M70.8 56.5h.6M118.6 122.1h.6M100.9 60.3h.6M102.8 61.1h.6M54.3 87.3h.6M59.7 58.5h.6M121.7 115.1h.6M63.3 49.8h.6M96.2 56.3h.6M108.9 120.9h.6M72.4 55.6h.6M95.0 121.1h.6M126.6 88.3h.6M82.1 117.9h.6M71.2 112.3h.6M78.7 26.7h.6M74.3 60.1h.6M61.6 112.4h.6M100.0 46.5h.6M73.3 113.0h.6M54.1 88.0h.6M120.0 113.1h.6M53.8 88.7h.6M96.7 120.9h.6M126.1 77.0h.6M86.8 117.7h.6M86.7 120.0h.6M84.9 49.9h.6M53.9 79.5h.6M127.2 93.1h.6M126.6 84.5h.6M54.4 105.0h.6M109.2 43.6h.6M77.3 59.0h.6M69.1 56.9h.6M114.0 60.5h.6M79.4 47.1h.6M110.2 57.1h.6M95.6 59.1h.6M74.9 40.1h.6M113.4 61.7h.6M95.3 54.3h.6M54.3 92.9h.6M95.1 47.7h.6M54.9 64.2h.6M98.9 57.3h.6M126.5 66.8h.6M102.7 59.0h.6M109.0 120.2h.6M69.6 59.8h.6M82.7 53.1h.6M118.9 116.5h.6M111.0 58.5h.6M61.3 109.6h.6M89.7 59.3h.6M68.9 113.8h.6M118.7 60.9h.6M123.9 121.4h.6M105.3 59.2h.6M66.7 111.6h.6M55.0 59.1h.6M59.5 92.7h.6M79.0 56.8h.6M108.9 55.8h.6M54.9 65.0h.6M101.4 51.5h.6M68.4 58.0h.6M79.7 117.7h.6M83.7 52.1h.6M53.5 73.5h.6M108.5 61.5h.6M111.8 121.0h.6M64.7 112.3h.6M68.7 49.0h.6M86.8 60.7h.6M68.2 44.9h.6M86.5 54.5h.6M78.3 120.3h.6M130.8 71.7h.6M53.3 80.1h.6M74.1 51.6h.6M59.6 116.8h.6M88.9 58.8h.6M53.6 89.0h.6M63.7 51.4h.6M81.5 35.8h.6M54.3 89.7h.6M115.1 53.2h.6M61.6 60.3h.6M60.3 57.9h.6M120.4 115.5h.6M123.7 109.8h.6M112.1 61.4h.6M127.4 108.6h.6M115.6 115.6h.6M86.8 118.9h.6M114.8 116.6h.6M127.3 93.4h.6M123.4 110.9h.6M56.3 62.2h.6M127.7 81.4h.6M82.8 120.8h.6M65.4 117.9h.6M77.1 54.6h.6M116.5 117.2h.6M91.8 121.4h.6M53.8 62.5h.6M117.8 60.1h.6M54.0 74.9h.6M109.7 58.4h.6M95.6 119.5h.6M67.3 120.4h.6M97.6 61.3h.6M126.1 73.1h.6M91.8 60.9h.6M58.5 109.3h.6M70.9 40.7h.6M54.3 105.0h.6M110.1 61.6h.6M104.5 123.2h.6M118.8 56.6h.6M88.9 60.3h.6M53.9 99.0h.6M68.0 51.3h.6M85.8 32.9h.6M109.4 61.6h.6M53.8 97.6h.6M126.1 102.5h.6M106.1 61.6h.6M77.2 60.8h.6M124.2 54.7h.6M63.7 41.1h.6M83.4 118.0h.6M97.9 120.7h.6M82.0 39.6h.6M85.8 55.8h.6M127.7 87.2h.6M75.3 44.9h.6M88.2 122.4h.6M81.0 61.0h.6M89.4 56.5h.6M60.7 109.1h.6M73.2 49.3h.6M55.2 64.9h.6M70.3 55.2h.6M53.6 76.1h.6M78.5 120.8h.6M58.3 110.8h.6M66.2 111.6h.6M54.1 84.6h.6M82.9 54.8h.6M119.7 114.6h.6M106.6 118.7h.6M55.8 63.1h.6M81.8 33.9h.6M112.0 119.3h.6M128.4 71.9h.6M119.1 115.5h.6M92.1 58.8h.6M56.2 62.1h.6M53.9 80.3h.6M126.0 74.8h.6M131.7 102.6h.6M92.4 121.2h.6M59.8 112.6h.6M87.7 58.7h.6M111.7 61.7h.6M99.2 57.5h.6M53.5 71.2h.6M84.9 59.7h.6M54.1 87.1h.6M53.4 99.4h.6M69.9 113.1h.6M95.0 52.6h.6M57.2 106.1h.6M119.1 61.0h.6M127.4 68.3h.6M118.5 56.4h.6M53.2 107.3h.6M121.4 119.5h.6M90.0 56.2h.6M108.1 121.4h.6M62.2 61.3h.6M53.0 65.6h.6M56.8 105.7h.6M66.9 112.2h.6M89.3 120.1h.6M54.2 68.7h.6M53.6 74.9h.6M54.2 99.8h.6M122.2 44.7h.6M86.5 52.1h.6M71.2 59.0h.6M63.9 112.0h.6M93.9 53.4h.6M117.2 59.9h.6M63.5 113.2h.6M72.7 58.8h.6M85.0 55.0h.6M118.7 117.7h.6M89.3 48.7h.6M73.9 61.5h.6M68.4 117.5h.6M97.3 120.1h.6M131.8 86.3h.6M133.8 74.5h.6M52.6 74.7h.6M56.6 59.1h.6M106.3 118.7h.6M111.2 46.7h.6M116.3 58.7h.6M77.4 114.3h.6M55.7 60.5h.6M109.1 53.0h.6M54.9 65.8h.6M128.1 72.0h.6M106.3 119.8h.6M104.1 120.2h.6M104.0 50.7h.6M68.0 60.5h.6M99.9 123.6h.6M127.8 62.7h.6M74.1 113.5h.6M99.5 119.1h.6M114.2 56.1h.6M125.7 112.5h.6M119.9 115.9h.6M126.8 101.1h.6M54.4 62.9h.6M128.2 69.1h.6M53.8 75.9h.6M96.3 42.0h.6M88.4 48.9h.6M98.2 59.8h.6M107.3 49.4h.6M63.8 38.2h.6M102.7 121.7h.6M122.7 111.1h.6M105.4 59.1h.6M121.8 61.3h.6M78.3 60.9h.6M129.2 89.7h.6M71.8 58.0h.6M121.7 114.8h.6M88.1 60.0h.6M89.4 32.2h.6M71.7 115.2h.6M96.0 121.4h.6M94.2 57.4h.6M83.1 122.4h.6M95.2 49.8h.6M90.6 46.1h.6M119.1 117.8h.6M121.3 111.8h.6M97.4 120.0h.6M71.9 59.6h.6M77.4 115.9h.6M58.4 55.3h.6M101.1 50.1h.6M91.6 60.8h.6M57.3 110.6h.6M95.5 50.2h.6M114.9 122.4h.6M99.6 123.6h.6M72.9 53.3h.6M125.1 68.6h.6M77.1 45.4h.6M76.8 55.9h.6M67.9 114.4h.6M74.7 60.0h.6M63.0 59.4h.6M93.3 59.9h.6M89.8 56.8h.6M59.0 59.7h.6M85.6 59.2h.6M111.3 118.2h.6M88.0 61.1h.6M54.7 100.6h.6M75.1 117.1h.6M54.0 93.7h.6M85.8 60.8h.6M125.9 81.1h.6M126.6 117.1h.6M99.6 58.6h.6M118.6 114.2h.6M79.5 57.7h.6M86.0 51.4h.6M88.0 50.0h.6M94.1 119.7h.6M86.7 117.9h.6M54.3 70.9h.6M122.0 112.0h.6M95.8 61.0h.6M67.4 40.1h.6M97.7 52.3h.6M64.8 116.7h.6M69.4 118.1h.6M79.6 34.2h.6M99.9 45.5h.6M66.8 58.0h.6M85.7 59.3h.6M74.0 118.5h.6M115.1 61.5h.6M68.1 60.1h.6M68.2 61.2h.6M54.4 96.0h.6M115.4 118.1h.6M73.2 61.5h.6M122.6 63.2h.6M54.0 66.9h.6M55.0 64.0h.6M102.2 52.7h.6M84.3 46.8h.6M118.9 114.1h.6M112.4 55.4h.6M75.1 53.5h.6M80.6 117.4h.6M53.3 77.3h.6M71.5 45.5h.6M61.2 61.1h.6M92.2 118.9h.6M58.3 36.8h.6M114.3 117.8h.6M97.1 56.1h.6M84.5 60.5h.6M109.5 60.8h.6M54.6 92.6h.6M95.3 120.6h.6M94.7 121.7h.6M91.9 60.1h.6M100.9 61.0h.6M127.7 82.0h.6M124.5 59.2h.6M69.8 56.0h.6M67.0 47.9h.6M100.5 120.0h.6M78.0 55.3h.6M69.3 51.8h.6M81.8 55.1h.6M91.7 57.3h.6M84.8 60.8h.6M83.7 118.3h.6M126.9 103.5h.6M83.8 59.6h.6M82.5 61.0h.6M89.2 121.6h.6M116.3 117.6h.6M110.5 121.1h.6M96.3 122.3h.6M83.5 116.4h.6M95.5 50.4h.6M109.8 47.5h.6M109.4 61.0h.6M124.5 61.5h.6M54.4 81.1h.6M96.0 58.1h.6M91.8 55.9h.6M54.1 87.7h.6M108.8 57.4h.6M92.8 118.9h.6M119.3 118.6h.6M69.9 112.1h.6M115.8 61.0h.6M78.1 60.3h.6M68.5 61.5h.6M123.5 57.8h.6M53.7 65.3h.6M88.0 118.6h.6M97.9 53.1h.6M96.1 123.7h.6M54.1 76.8h.6M62.4 61.5h.6M88.7 56.4h.6M89.1 59.8h.6M89.4 121.3h.6M104.0 56.7h.6M78.9 51.2h.6M54.9 46.6h.6M65.6 53.4h.6M86.9 118.2h.6M64.8 111.8h.6M54.6 107.2h.6M78.7 58.3h.6M81.1 52.4h.6M75.2 60.1h.6M93.4 61.0h.6M69.7 112.4h.6M126.3 91.1h.6M125.7 63.3h.6M116.4 122.9h.6M60.6 110.9h.6M85.8 58.0h.6M53.9 101.0h.6M72.7 42.9h.6M53.3 87.4h.6M82.5 58.6h.6M73.7 113.0h.6M103.9 119.4h.6M95.8 119.2h.6M88.7 53.1h.6M68.9 43.4h.6M82.6 115.3h.6M73.3 56.3h.6M129.9 87.8h.6M52.8 58.5h.6M78.2 114.2h.6M82.5 117.7h.6M76.5 116.6h.6M80.5 37.3h.6M126.1 105.2h.6M81.8 118.1h.6M52.9 90.8h.6M68.3 56.2h.6M56.9 109.7h.6M110.5 52.0h.6M55.9 105.3h.6M72.1 28.9h.6M57.4 58.5h.6M80.4 59.0h.6M84.6 57.3h.6M59.9 108.6h.6M53.8 83.6h.6M54.6 81.7h.6M55.6 105.8h.6M114.0 120.8h.6M79.2 48.8h.6M119.4 62.2h.6M116.1 118.2h.6M78.6 35.8h.6M54.1 81.8h.6M54.3 99.7h.6M121.6 111.9h.6M74.5 59.5h.6M85.1 58.4h.6M64.5 57.1h.6M68.8 113.1h.6M120.5 112.6h.6M115.4 61.4h.6M89.1 118.6h.6M54.1 70.9h.6M57.5 31.6h.6M123.2 56.3h.6M89.8 57.0h.6M105.5 61.1h.6M109.6 118.2h.6M86.6 60.8h.6M73.9 59.1h.6M110.8 118.5h.6M77.6 114.9h.6M72.2 113.4h.6M80.9 119.2h.6M90.0 118.5h.6M68.2 113.9h.6M114.8 59.8h.6M61.8 44.8h.6M92.8 119.1h.6M80.5 40.2h.6M64.0 111.1h.6M85.7 117.5h.6" stroke="#222" stroke-width="0.75" stroke-opacity="0.8" fill="none"/>
<path d="M102.1,119.1 101.6,119.1 101.1,119.1 100.8,119.1 100.4,119.1 99.9,119.1 99.4,119.1 98.9,119.1 98.4,119.1 97.9,119.0 97.4,118.9 97.1,118.9 96.6,118.8 96.1,118.7 95.7,118.6 95.4,118.6 94.9,118.5 94.4,118.5 93.9,118.4 93.6,118.4 93.1,118.3 92.6,118.2 92.1,118.1 91.9,118.1 91.4,118.0 90.9,117.9 90.6,117.9 90.1,117.8 89.6,117.7 89.3,117.6 88.9,117.5 88.4,117.4 88.1,117.3 87.8,117.1 87.4,117.0 87.1,116.8 86.6,116.6 86.4,116.5 86.1,116.4 85.6,116.1 85.4,116.0 85.1,115.9 84.6,115.7 84.4,115.6 83.9,115.4 83.6,115.3 83.3,115.1 82.9,115.0 82.6,114.8 82.1,114.6 81.9,114.5 81.4,114.4 81.1,114.4 80.6,114.3 80.1,114.2 79.6,114.2 79.2,114.1 78.9,114.1 78.4,114.0 77.9,113.9 77.6,113.8 77.1,113.7 76.6,113.6 76.4,113.6 75.9,113.5 75.5,113.4 75.1,113.3 74.6,113.1 74.4,113.1 73.9,112.9 73.6,112.8 73.1,112.7 72.8,112.6 72.4,112.5 71.9,112.4 71.6,112.3 71.1,112.3 70.6,112.2 70.1,112.1 69.9,112.1 69.4,112.0 68.9,111.9 68.6,111.9 68.1,111.7 67.8,111.6 67.4,111.4 67.1,111.3 66.6,111.1 66.4,111.0 66.1,110.9 65.6,110.7 65.4,110.6 64.9,110.4 64.6,110.3 64.1,110.2 63.9,110.1 63.4,110.0 62.9,109.9 62.6,109.9 62.1,109.7 61.9,109.6 61.4,109.4 61.1,109.3 60.9,109.1 60.5,108.9 60.1,108.7 59.9,108.5 59.6,108.3 59.4,108.1 59.0,107.9 58.7,107.6 58.4,107.4 58.2,107.1 57.9,106.9 57.7,106.6 57.5,106.4 57.3,106.1 57.1,105.9 56.9,105.5 56.7,105.1 56.5,104.9 56.4,104.6 56.1,104.1 56.0,103.9 55.8,103.6 55.6,103.2 55.4,102.9 55.3,102.6 55.1,102.1 55.1,101.9 54.9,101.4 54.9,100.9 54.8,100.6 54.8,100.1 54.7,99.6 54.7,99.1 54.6,98.6 54.6,98.3 54.6,97.9 54.6,97.4 54.6,97.1 54.7,96.6 54.7,96.1 54.7,95.6 54.8,95.1 54.8,94.6 54.8,94.1 54.8,93.6 54.8,93.1 54.7,92.6 54.7,92.1 54.6,91.6 54.6,91.4 54.5,90.9 54.5,90.4 54.5,89.9 54.4,89.4 54.4,88.9 54.4,88.4 54.4,87.9 54.4,87.4 54.4,86.9 54.4,86.4 54.4,85.9 54.4,85.4 54.4,84.9 54.4,84.4 54.4,83.9 54.5,83.4 54.6,82.9 54.6,82.5 54.7,82.1 54.7,81.6 54.7,81.1 54.7,80.6 54.6,80.3 54.6,79.9 54.5,79.4 54.5,78.9 54.5,78.4 54.5,77.9 54.5,77.4 54.4,76.9 54.4,76.4 54.4,76.1 54.3,75.6 54.3,75.1 54.3,74.6 54.2,74.1 54.2,73.6 54.2,73.1 54.2,72.6 54.2,72.1 54.3,71.6 54.3,71.1 54.4,70.9 54.4,70.4 54.5,69.9 54.5,69.4 54.5,68.9 54.6,68.4 54.6,68.1 54.7,67.6 54.8,67.1 54.9,66.7 55.0,66.4 55.1,65.9 55.3,65.6 55.4,65.4 55.6,64.9 55.8,64.6 56.0,64.4 56.2,64.1 56.5,63.9 56.8,63.6 57.1,63.4 57.4,63.1 57.6,63.0 57.9,62.8 58.3,62.6 58.6,62.5 58.9,62.4 59.4,62.2 59.8,62.1 60.1,62.1 60.6,62.0 61.1,62.0 61.6,61.9 62.1,61.9 62.6,61.9 62.9,61.9 63.4,61.8 63.9,61.8 64.4,61.8 64.9,61.7 65.4,61.7 65.9,61.7 66.4,61.7 66.9,61.7 67.4,61.7 67.9,61.7 68.4,61.6 68.9,61.6 69.1,61.6 69.6,61.6 70.1,61.6 70.6,61.6 70.9,61.6 71.4,61.6 71.9,61.6 72.1,61.6 72.6,61.6 73.1,61.6 73.6,61.5 74.1,61.5 74.6,61.5 75.1,61.5 75.6,61.5 76.1,61.5 76.6,61.5 77.1,61.6 77.6,61.6 78.1,61.6 78.5,61.6 78.7,61.6 79.1,61.6 79.6,61.6 80.1,61.6 80.6,61.5 81.1,61.5 81.6,61.4 82.1,61.4 82.4,61.4 82.9,61.3 83.4,61.3 83.9,61.2 84.4,61.2 84.9,61.2 85.4,61.2 85.9,61.3 86.4,61.3 86.9,61.2 87.4,61.2 87.9,61.2 88.4,61.2 88.9,61.2 89.4,61.2 89.9,61.2 90.4,61.2 90.9,61.2 91.4,61.2 91.9,61.3 92.4,61.3 92.9,61.3 93.4,61.3 93.9,61.3 94.4,61.3 94.9,61.3 95.4,61.3 95.6,61.4 96.1,61.4 96.6,61.5 97.1,61.5 97.6,61.5 98.1,61.5 98.6,61.5 99.1,61.5 99.6,61.5 100.1,61.5 100.6,61.5 101.1,61.5 101.6,61.5 102.1,61.5 102.6,61.6 103.1,61.5 103.6,61.5 104.1,61.5 104.6,61.5 105.1,61.6 105.6,61.6 105.9,61.6 106.4,61.7 106.9,61.7 107.4,61.7 107.9,61.7 108.4,61.7 108.9,61.7 109.4,61.6 109.9,61.6 110.4,61.6 110.9,61.7 111.4,61.7 111.9,61.7 112.4,61.8 112.9,61.7 113.4,61.7 113.9,61.7 114.4,61.7 114.9,61.7 115.4,61.7 115.9,61.7 116.4,61.8 116.6,61.9 117.1,62.0 117.6,62.1 117.9,62.2 118.4,62.2 118.9,62.3 119.4,62.3 119.9,62.3 120.3,62.4 120.6,62.4 121.1,62.6 121.4,62.7 121.8,62.9 122.1,63.1 122.4,63.2 122.6,63.4 122.9,63.6 123.1,63.9 123.4,64.2 123.6,64.5 123.8,64.9 123.9,65.1 124.1,65.6 124.2,65.9 124.3,66.4 124.4,66.6 124.5,67.1 124.6,67.5 124.7,67.9 124.9,68.2 125.1,68.6 125.2,68.9 125.4,69.3 125.5,69.6 125.6,70.1 125.7,70.4 125.7,70.9 125.8,71.4 125.8,71.9 125.9,72.4 125.8,72.9 125.8,73.4 125.8,73.9 125.8,74.4 125.9,74.9 125.9,75.1 126.0,75.6 126.0,76.1 126.0,76.6 126.0,77.1 126.0,77.6 126.0,78.1 125.9,78.6 125.9,78.9 125.8,79.4 125.8,79.9 125.8,80.4 125.8,80.9 125.9,81.2 125.9,81.6 125.9,82.1 125.9,82.6 125.8,82.9 125.7,83.4 125.6,83.8 125.5,84.1 125.4,84.6 125.4,85.0 125.3,85.4 125.3,85.9 125.3,86.4 125.4,86.9 125.4,87.1 125.5,87.6 125.6,88.1 125.7,88.4 125.7,88.9 125.8,89.4 125.9,89.8 125.9,90.1 126.0,90.6 126.0,91.1 126.1,91.6 126.1,92.1 126.1,92.4 126.2,92.9 126.2,93.4 126.2,93.9 126.2,94.4 126.3,94.9 126.3,95.4 126.4,95.9 126.4,96.1 126.4,96.6 126.4,97.1 126.4,97.6 126.4,98.1 126.4,98.6 126.4,98.9 126.3,99.4 126.3,99.9 126.2,100.4 126.2,100.9 126.2,101.4 126.2,101.9 126.1,102.4 126.1,102.6 126.0,103.1 125.9,103.6 125.9,103.9 125.7,104.4 125.6,104.7 125.5,105.1 125.4,105.5 125.3,105.9 125.1,106.3 125.0,106.6 124.9,107.0 124.7,107.4 124.6,107.6 124.4,108.1 124.2,108.4 124.0,108.6 123.8,108.9 123.6,109.2 123.4,109.5 123.1,109.7 122.9,110.0 122.6,110.3 122.4,110.5 122.1,110.7 121.9,111.0 121.6,111.2 121.4,111.5 121.1,111.7 120.9,112.0 120.6,112.2 120.4,112.5 120.1,112.7 119.9,112.9 119.6,113.2 119.4,113.4 119.1,113.6 118.7,113.9 118.4,114.1 118.1,114.2 117.6,114.3 117.4,114.4 116.9,114.5 116.5,114.6 116.1,114.8 115.9,115.0 115.6,115.2 115.4,115.4 115.1,115.6 114.9,115.9 114.5,116.1 114.1,116.4 113.9,116.5 113.6,116.6 113.1,116.9 112.9,117.0 112.6,117.1 112.1,117.4 111.9,117.5 111.5,117.6 111.1,117.8 110.8,117.9 110.4,118.0 109.9,118.1 109.4,118.1 109.1,118.1 108.6,118.2 108.1,118.3 107.8,118.4 107.4,118.5 106.9,118.5 106.4,118.6 105.9,118.6 105.6,118.6 105.1,118.7 104.6,118.8 104.1,118.9 103.9,118.9 103.4,119.0 102.9,119.1 102.4,119.1 102.1,119.1M101.9,117.4 101.4,117.4 100.9,117.4 100.4,117.4 99.9,117.4 99.6,117.4 99.1,117.3 98.6,117.2 98.3,117.1 97.9,117.0 97.6,116.9 97.1,116.7 96.9,116.6 96.4,116.5 95.9,116.5 95.4,116.5 94.9,116.5 94.4,116.6 93.9,116.6 93.4,116.5 92.9,116.4 92.6,116.3 92.2,116.1 91.9,116.0 91.4,115.9 91.1,115.8 90.6,115.7 90.1,115.7 89.6,115.7 89.2,115.6 88.9,115.6 88.4,115.4 88.1,115.3 87.8,115.1 87.4,114.9 87.1,114.7 86.9,114.6 86.5,114.4 86.1,114.2 85.9,114.1 85.4,113.9 85.1,113.8 84.7,113.6 84.4,113.5 84.1,113.4 83.6,113.2 83.4,113.0 83.1,112.9 82.6,112.6 82.4,112.5 81.9,112.4 81.6,112.3 81.1,112.2 80.6,112.2 80.1,112.1 79.9,112.1 79.4,112.1 78.9,112.0 78.4,111.9 78.1,111.9 77.6,111.8 77.1,111.6 76.9,111.6 76.4,111.4 76.1,111.3 75.6,111.2 75.3,111.1 74.9,111.0 74.4,110.9 74.1,110.8 73.6,110.6 73.4,110.5 73.0,110.4 72.6,110.2 72.3,110.1 71.9,110.0 71.4,109.9 71.1,109.9 70.6,109.8 70.1,109.8 69.6,109.8 69.1,109.7 68.6,109.6 68.4,109.6 67.9,109.4 67.6,109.3 67.2,109.1 66.9,109.0 66.5,108.9 66.1,108.8 65.6,108.7 65.4,108.6 64.9,108.5 64.4,108.5 63.9,108.5 63.4,108.4 63.1,108.3 62.6,108.2 62.4,108.0 62.1,107.9 61.7,107.6 61.4,107.4 61.1,107.2 60.9,107.0 60.6,106.8 60.4,106.6 60.1,106.4 59.8,106.1 59.5,105.9 59.2,105.6 58.9,105.4 58.7,105.1 58.4,104.9 58.2,104.6 58.0,104.4 57.8,104.1 57.6,103.8 57.4,103.5 57.1,103.1 57.0,102.9 56.9,102.6 56.6,102.2 56.5,101.9 56.4,101.5 56.3,101.1 56.2,100.6 56.1,100.4 56.1,99.9 56.0,99.4 56.0,98.9 55.9,98.4 55.9,97.9 55.9,97.4 55.9,96.9 55.9,96.4 55.9,95.9 55.9,95.4 55.9,94.9 55.9,94.4 55.9,93.9 56.0,93.4 55.9,92.9 55.9,92.4 55.9,92.0 55.8,91.6 55.8,91.1 55.7,90.6 55.7,90.1 55.7,89.6 55.7,89.1 55.7,88.6 55.7,88.1 55.7,87.6 55.7,87.1 55.7,86.6 55.7,86.1 55.7,85.6 55.7,85.1 55.7,84.6 55.7,84.1 55.7,83.6 55.8,83.1 55.9,82.8 56.0,82.4 56.1,81.9 56.2,81.6 56.2,81.1 56.2,80.6 56.1,80.4 56.0,79.9 55.9,79.4 55.8,79.1 55.8,78.6 55.7,78.1 55.7,77.6 55.7,77.1 55.7,76.6 55.7,76.1 55.6,75.8 55.6,75.4 55.5,74.9 55.5,74.4 55.5,73.9 55.4,73.4 55.4,72.9 55.4,72.4 55.5,71.9 55.5,71.4 55.6,70.9 55.6,70.5 55.7,70.1 55.7,69.6 55.7,69.1 55.7,68.6 55.7,68.1 55.7,67.6 55.8,67.1 55.9,66.8 56.0,66.4 56.1,66.1 56.3,65.6 56.5,65.4 56.7,65.1 56.9,64.9 57.1,64.6 57.4,64.4 57.7,64.1 58.1,63.9 58.4,63.7 58.6,63.6 59.1,63.4 59.4,63.3 59.8,63.1 60.1,63.0 60.6,63.0 61.1,62.9 61.4,62.9 61.9,62.8 62.4,62.8 62.9,62.8 63.4,62.8 63.9,62.8 64.4,62.8 64.9,62.8 65.4,62.7 65.9,62.7 66.4,62.7 66.9,62.7 67.4,62.7 67.9,62.7 68.4,62.7 68.9,62.7 69.4,62.7 69.9,62.7 70.4,62.8 70.9,62.8 71.4,62.8 71.9,62.8 72.4,62.7 72.9,62.7 73.4,62.6 73.7,62.6 74.1,62.6 74.6,62.5 75.1,62.5 75.6,62.5 76.1,62.6 76.6,62.6 76.9,62.6 77.4,62.7 77.9,62.7 78.4,62.8 78.9,62.8 79.4,62.8 79.9,62.8 80.4,62.7 80.9,62.7 81.4,62.7 81.9,62.6 82.1,62.6 82.6,62.6 83.1,62.5 83.6,62.5 84.1,62.5 84.6,62.5 85.1,62.5 85.6,62.6 86.1,62.6 86.4,62.6 86.9,62.7 87.4,62.7 87.9,62.7 88.4,62.7 88.9,62.7 89.4,62.7 89.9,62.8 90.4,62.8 90.6,62.9 91.1,63.0 91.6,63.0 92.1,63.1 92.6,63.1 93.1,63.1 93.6,63.1 94.1,63.1 94.6,63.1 95.1,63.1 95.6,63.1 96.1,63.1 96.4,63.1 96.9,63.1 97.2,63.1 97.6,63.1 98.1,63.1 98.6,63.1 99.1,63.1 99.5,63.1 99.9,63.1 100.4,63.2 100.9,63.2 101.4,63.2 101.9,63.2 102.4,63.2 102.9,63.2 103.4,63.2 103.9,63.3 104.4,63.3 104.9,63.3 105.4,63.3 105.9,63.3 106.4,63.3 106.9,63.3 107.4,63.2 107.9,63.1 108.1,63.1 108.6,63.1 109.1,63.1 109.6,63.1 109.9,63.1 110.4,63.2 110.9,63.3 111.4,63.3 111.9,63.4 112.4,63.3 112.9,63.3 113.4,63.3 113.9,63.3 114.4,63.3 114.9,63.3 115.4,63.3 115.6,63.4 116.1,63.4 116.6,63.5 117.1,63.5 117.6,63.5 118.1,63.5 118.6,63.5 119.1,63.5 119.6,63.6 120.0,63.6 120.4,63.7 120.9,63.9 121.1,64.0 121.4,64.1 121.8,64.4 122.1,64.6 122.3,64.9 122.5,65.1 122.6,65.4 122.9,65.9 123.0,66.1 123.1,66.6 123.1,66.9 123.2,67.4 123.3,67.9 123.3,68.4 123.3,68.9 123.4,69.2 123.4,69.6 123.5,70.1 123.6,70.6 123.7,70.9 123.7,71.4 123.8,71.9 123.8,72.4 123.9,72.9 123.9,73.2 123.9,73.6 123.9,74.1 124.0,74.6 124.0,75.1 124.0,75.6 124.1,76.1 124.1,76.6 124.0,77.1 124.0,77.6 123.9,78.1 123.8,78.4 123.8,78.9 123.7,79.4 123.7,79.9 123.7,80.4 123.8,80.9 123.8,81.4 123.8,81.9 123.8,82.4 123.7,82.9 123.6,83.2 123.5,83.6 123.4,84.1 123.4,84.4 123.3,84.9 123.3,85.4 123.3,85.9 123.4,86.1 123.5,86.6 123.6,87.1 123.6,87.6 123.7,87.9 123.7,88.4 123.7,88.9 123.8,89.4 123.8,89.9 123.8,90.4 123.8,90.9 123.8,91.4 123.9,91.9 123.9,92.1 124.0,92.6 124.1,93.1 124.2,93.4 124.3,93.9 124.4,94.1 124.5,94.6 124.6,95.1 124.6,95.4 124.6,95.9 124.6,96.1 124.5,96.6 124.4,97.1 124.3,97.4 124.2,97.9 124.1,98.1 124.0,98.6 123.9,99.1 123.8,99.4 123.8,99.9 123.7,100.4 123.7,100.9 123.6,101.1 123.6,101.6 123.5,102.1 123.5,102.6 123.5,103.1 123.5,103.6 123.4,104.1 123.4,104.4 123.3,104.9 123.1,105.3 123.0,105.6 122.9,105.9 122.6,106.4 122.5,106.6 122.3,106.9 122.1,107.2 121.9,107.5 121.6,107.8 121.4,108.1 121.2,108.4 121.1,108.6 120.9,108.9 120.6,109.2 120.4,109.5 120.1,109.9 119.9,110.1 119.7,110.4 119.5,110.6 119.2,110.9 119.0,111.1 118.7,111.4 118.4,111.6 118.1,111.8 117.9,112.0 117.6,112.1 117.1,112.4 116.9,112.5 116.5,112.6 116.1,112.8 115.9,112.9 115.4,113.1 115.1,113.2 114.9,113.4 114.5,113.6 114.2,113.9 113.9,114.1 113.6,114.3 113.4,114.5 113.1,114.7 112.8,114.9 112.4,115.1 112.1,115.3 111.9,115.4 111.6,115.6 111.1,115.8 110.9,115.9 110.4,116.1 110.1,116.1 109.6,116.2 109.1,116.2 108.6,116.2 108.1,116.3 107.6,116.4 107.4,116.4 106.9,116.5 106.4,116.6 106.1,116.7 105.6,116.7 105.1,116.8 104.6,116.8 104.2,116.9 103.9,116.9 103.4,117.1 103.1,117.1 102.6,117.3 102.1,117.3 101.9,117.4M101.6,115.6 101.1,115.8 100.6,115.8 100.1,115.9 99.6,115.8 99.1,115.7 98.8,115.6 98.4,115.5 97.9,115.4 97.6,115.3 97.1,115.2 96.8,115.1 96.4,115.1 95.9,115.1 95.4,115.1 94.9,115.1 94.4,115.0 93.9,114.9 93.6,114.9 93.1,114.7 92.9,114.6 92.4,114.5 92.1,114.4 91.6,114.3 91.1,114.2 90.7,114.1 90.4,114.1 89.9,114.0 89.5,113.9 89.1,113.7 88.9,113.6 88.4,113.4 88.1,113.3 87.8,113.1 87.4,112.9 87.1,112.8 86.7,112.6 86.4,112.5 86.1,112.4 85.6,112.1 85.4,112.0 85.1,111.8 84.9,111.6 84.6,111.4 84.3,111.1 84.0,110.9 83.6,110.6 83.4,110.5 83.1,110.4 82.6,110.2 82.1,110.1 81.9,110.1 81.4,110.1 81.1,110.1 80.6,110.2 80.1,110.3 79.6,110.3 79.1,110.2 78.8,110.1 78.4,110.0 78.1,109.9 77.6,109.7 77.4,109.6 76.9,109.4 76.6,109.4 76.1,109.3 75.6,109.2 75.1,109.2 74.9,109.1 74.4,108.9 74.1,108.8 73.8,108.6 73.4,108.4 73.1,108.2 72.9,108.1 72.4,107.9 72.1,107.9 71.6,107.8 71.1,107.6 70.9,107.6 70.6,107.4 70.3,107.1 70.0,106.9 69.9,106.6 69.6,106.3 69.4,106.1 68.9,105.9 68.4,105.9 67.9,106.1 67.6,106.2 67.1,106.3 66.9,106.4 66.4,106.5 66.0,106.6 65.6,106.7 65.1,106.8 64.6,106.9 64.4,106.9 64.0,106.9 63.6,106.8 63.1,106.6 62.9,106.5 62.6,106.3 62.4,106.0 62.1,105.8 61.9,105.5 61.6,105.3 61.4,105.1 61.0,104.9 60.6,104.6 60.4,104.5 60.1,104.3 59.8,104.1 59.4,103.9 59.1,103.6 58.9,103.4 58.6,103.1 58.4,102.9 58.2,102.6 58.0,102.4 57.8,102.1 57.6,101.7 57.5,101.4 57.4,101.1 57.2,100.6 57.2,100.1 57.1,99.9 57.1,99.4 57.0,98.9 57.0,98.4 56.9,97.9 56.9,97.4 56.9,97.0 56.9,96.6 56.8,96.1 56.8,95.6 56.8,95.1 56.8,94.6 56.8,94.1 56.8,93.6 56.9,93.1 56.9,92.6 56.8,92.1 56.8,91.6 56.7,91.1 56.7,90.6 56.7,90.1 56.7,89.6 56.7,89.1 56.8,88.6 56.8,88.1 56.9,87.7 56.9,87.4 56.9,86.9 56.9,86.5 56.8,86.1 56.8,85.6 56.7,85.1 56.7,84.6 56.7,84.1 56.7,83.6 56.8,83.1 56.9,82.9 57.1,82.4 57.1,82.1 57.3,81.6 57.3,81.1 57.3,80.6 57.3,80.1 57.1,79.7 57.0,79.4 56.9,78.9 56.8,78.6 56.8,78.1 56.7,77.6 56.7,77.1 56.7,76.6 56.7,76.1 56.7,75.6 56.6,75.3 56.6,74.9 56.5,74.4 56.5,73.9 56.4,73.4 56.4,73.1 56.3,72.6 56.3,72.1 56.4,71.6 56.4,71.4 56.5,70.9 56.5,70.4 56.5,69.9 56.5,69.4 56.5,68.9 56.5,68.4 56.5,67.9 56.5,67.4 56.6,66.9 56.7,66.6 56.9,66.1 57.0,65.9 57.2,65.6 57.4,65.4 57.6,65.1 57.9,64.9 58.2,64.6 58.6,64.4 58.9,64.2 59.1,64.1 59.6,63.9 59.9,63.8 60.4,63.7 60.6,63.6 61.1,63.5 61.6,63.5 62.1,63.5 62.6,63.5 63.1,63.5 63.6,63.5 64.1,63.5 64.6,63.5 65.1,63.5 65.6,63.4 66.1,63.4 66.6,63.4 67.1,63.4 67.6,63.4 68.1,63.5 68.6,63.5 69.1,63.5 69.6,63.5 70.1,63.5 70.6,63.5 71.1,63.5 71.6,63.5 72.1,63.5 72.6,63.4 73.1,63.4 73.4,63.4 73.9,63.3 74.4,63.3 74.9,63.2 75.4,63.2 75.9,63.2 76.4,63.3 76.9,63.3 77.1,63.4 77.6,63.4 78.1,63.5 78.6,63.5 79.1,63.5 79.6,63.5 80.1,63.5 80.6,63.5 81.1,63.4 81.6,63.4 82.1,63.4 82.4,63.4 82.9,63.3 83.4,63.3 83.9,63.3 84.4,63.4 84.6,63.4 85.1,63.4 85.6,63.5 86.1,63.5 86.6,63.6 87.1,63.6 87.6,63.6 88.1,63.6 88.6,63.6 89.1,63.6 89.6,63.6 89.9,63.6 90.4,63.7 90.9,63.7 91.4,63.8 91.9,63.8 92.3,63.9 92.6,63.9 93.1,63.9 93.6,63.9 94.1,63.9 94.6,63.9 95.1,63.9 95.6,63.9 96.1,63.9 96.4,63.9 96.9,63.9 97.4,63.8 97.9,63.8 98.4,63.8 98.9,63.8 99.4,63.8 99.9,63.9 100.2,63.9 100.6,63.9 101.1,63.9 101.6,63.9 101.9,63.9 102.1,63.9 102.6,63.9 103.1,63.9 103.6,63.9 104.1,64.0 104.6,64.0 105.1,64.0 105.6,64.0 106.1,64.0 106.6,63.9 107.1,63.9 107.5,63.9 107.9,63.8 108.4,63.8 108.9,63.8 109.4,63.8 109.9,63.9 110.1,63.9 110.6,64.0 111.1,64.0 111.6,64.0 112.1,64.0 112.6,64.0 113.1,64.0 113.6,63.9 114.1,63.9 114.6,64.0 115.1,64.0 115.6,64.0 116.1,64.1 116.6,64.1 117.1,64.1 117.6,64.1 118.1,64.1 118.6,64.1 119.1,64.1 119.4,64.1 119.9,64.2 120.4,64.3 120.6,64.4 121.1,64.6 121.4,64.8 121.6,65.0 121.9,65.3 122.1,65.6 122.2,65.9 122.4,66.2 122.5,66.6 122.6,67.1 122.6,67.6 122.6,67.9 122.6,68.4 122.6,68.7 122.6,69.1 122.6,69.6 122.6,70.1 122.6,70.6 122.6,71.0 122.6,71.4 122.7,71.9 122.7,72.4 122.7,72.9 122.8,73.4 122.8,73.9 122.8,74.4 122.8,74.9 122.7,75.4 122.7,75.9 122.7,76.4 122.7,76.9 122.7,77.4 122.7,77.9 122.7,78.4 122.7,78.9 122.7,79.4 122.7,79.9 122.7,80.4 122.7,80.9 122.7,81.4 122.7,81.9 122.6,82.4 122.6,82.6 122.6,83.1 122.5,83.6 122.5,84.1 122.4,84.6 122.4,85.1 122.5,85.6 122.5,86.1 122.6,86.6 122.6,87.1 122.6,87.6 122.6,87.9 122.6,88.2 122.6,88.6 122.6,89.1 122.6,89.6 122.6,90.1 122.6,90.6 122.6,91.1 122.6,91.6 122.6,91.9 122.7,92.4 122.7,92.9 122.8,93.4 122.9,93.8 122.9,94.1 123.0,94.6 123.1,95.1 123.1,95.6 123.1,96.1 123.0,96.6 122.9,97.1 122.9,97.4 122.8,97.9 122.8,98.4 122.7,98.9 122.7,99.4 122.7,99.9 122.7,100.4 122.6,100.6 122.6,101.1 122.5,101.6 122.5,102.1 122.4,102.6 122.4,103.1 122.4,103.6 122.3,103.9 122.2,104.4 122.1,104.6 121.9,105.1 121.7,105.4 121.5,105.6 121.2,105.9 120.9,106.1 120.6,106.3 120.4,106.5 120.1,106.7 119.9,106.9 119.6,107.2 119.4,107.4 119.1,107.8 118.9,108.1 118.8,108.4 118.6,108.7 118.4,109.1 118.3,109.4 118.1,109.6 117.9,110.0 117.6,110.2 117.4,110.5 117.1,110.7 116.8,110.9 116.4,111.1 116.1,111.2 115.7,111.4 115.4,111.5 115.0,111.6 114.6,111.8 114.4,111.9 113.9,112.1 113.6,112.2 113.3,112.4 112.9,112.5 112.6,112.6 112.1,112.8 111.8,112.9 111.4,113.1 111.1,113.3 110.9,113.5 110.6,113.7 110.4,114.0 110.1,114.1 109.6,114.3 109.4,114.4 108.9,114.6 108.6,114.6 108.1,114.7 107.6,114.9 107.4,114.9 106.9,115.1 106.6,115.1 106.1,115.2 105.6,115.2 105.1,115.3 104.6,115.3 104.1,115.3 103.6,115.3 103.1,115.3 102.7,115.4 102.4,115.4 101.9,115.6 101.6,115.6M102.1,114.4 101.6,114.4 101.1,114.5 100.6,114.4 100.2,114.4 99.9,114.3 99.4,114.1 99.1,114.1 98.6,113.9 98.1,113.9 97.9,113.8 97.4,113.8 96.9,113.7 96.4,113.6 96.1,113.6 95.6,113.5 95.1,113.4 94.9,113.3 94.4,113.1 94.1,113.0 93.9,112.8 93.5,112.6 93.1,112.4 92.9,112.3 92.4,112.1 92.1,112.1 91.6,112.1 91.2,112.1 90.9,112.2 90.4,112.2 89.9,112.2 89.6,112.1 89.1,111.9 88.9,111.8 88.6,111.6 88.3,111.4 87.9,111.1 87.6,110.9 87.4,110.7 87.1,110.4 86.9,110.2 86.6,109.9 86.4,109.6 86.1,109.4 85.9,109.2 85.6,109.0 85.4,108.9 84.9,108.6 84.6,108.5 84.1,108.4 83.8,108.4 83.4,108.3 82.9,108.2 82.4,108.2 81.9,108.1 81.4,108.2 80.9,108.3 80.5,108.4 80.1,108.4 79.6,108.5 79.1,108.4 78.9,108.3 78.5,108.1 78.1,107.9 77.9,107.8 77.5,107.6 77.1,107.4 76.9,107.4 76.4,107.3 76.0,107.4 75.6,107.4 75.1,107.5 74.6,107.4 74.4,107.4 73.9,107.2 73.6,107.1 73.1,106.9 72.9,106.8 72.4,106.6 72.1,106.5 71.7,106.4 71.4,106.1 71.1,105.9 70.9,105.6 70.7,105.4 70.5,105.1 70.3,104.9 69.9,104.6 69.6,104.5 69.1,104.6 68.9,104.7 68.4,104.9 68.1,105.0 67.7,105.1 67.4,105.3 66.9,105.4 66.6,105.5 66.1,105.5 65.6,105.6 65.1,105.6 64.6,105.6 64.1,105.5 63.9,105.4 63.4,105.1 63.1,104.9 62.9,104.7 62.6,104.5 62.4,104.4 62.0,104.1 61.6,103.9 61.4,103.8 61.0,103.6 60.6,103.5 60.4,103.3 60.0,103.1 59.7,102.9 59.4,102.6 59.1,102.4 58.9,102.1 58.7,101.9 58.5,101.6 58.4,101.4 58.2,100.9 58.1,100.6 58.0,100.1 57.9,99.6 57.9,99.3 57.8,98.9 57.8,98.4 57.8,97.9 57.7,97.4 57.6,96.9 57.6,96.6 57.6,96.1 57.5,95.6 57.5,95.1 57.5,94.6 57.5,94.1 57.5,93.6 57.5,93.1 57.6,92.6 57.6,92.1 57.5,91.6 57.5,91.1 57.4,90.6 57.4,90.1 57.4,89.6 57.5,89.1 57.5,88.6 57.6,88.2 57.7,87.9 57.7,87.4 57.7,86.9 57.7,86.4 57.7,85.9 57.6,85.6 57.5,85.1 57.5,84.6 57.5,84.1 57.6,83.6 57.6,83.3 57.7,82.9 57.8,82.4 57.9,82.1 58.0,81.6 58.0,81.1 58.1,80.6 58.0,80.1 57.9,79.6 57.9,79.4 57.7,78.9 57.6,78.4 57.6,78.1 57.6,77.6 57.5,77.1 57.5,76.6 57.5,76.1 57.5,75.6 57.4,75.1 57.4,74.6 57.4,74.4 57.3,73.9 57.2,73.4 57.1,73.1 57.1,72.6 57.0,72.1 57.0,71.6 57.1,71.1 57.1,70.6 57.1,70.2 57.1,70.0 57.1,69.6 57.1,69.1 57.1,68.6 57.0,68.1 57.0,67.6 57.1,67.1 57.1,66.9 57.3,66.4 57.5,66.1 57.6,65.9 57.9,65.6 58.1,65.3 58.4,65.1 58.8,64.9 59.1,64.7 59.4,64.5 59.8,64.4 60.1,64.2 60.5,64.1 60.9,64.1 61.4,64.0 61.9,63.9 62.4,63.9 62.9,63.9 63.4,64.0 63.9,64.0 64.4,64.0 64.9,64.0 65.4,64.0 65.9,64.0 66.4,64.0 66.9,64.0 67.4,64.0 67.9,64.0 68.4,64.0 68.9,64.0 69.4,64.0 69.9,64.0 70.4,64.0 70.9,64.0 71.4,64.0 71.9,64.0 72.4,64.0 72.9,63.9 73.2,63.9 73.6,63.8 74.1,63.8 74.6,63.7 75.1,63.7 75.6,63.7 76.1,63.8 76.6,63.8 76.9,63.9 77.4,63.9 77.9,64.0 78.4,64.0 78.9,64.0 79.4,64.0 79.9,64.0 80.4,64.0 80.9,64.0 81.4,64.0 81.9,64.0 82.4,63.9 82.9,63.9 83.4,63.9 83.9,64.0 84.4,64.0 84.9,64.0 85.4,64.1 85.7,64.1 86.1,64.1 86.6,64.1 87.1,64.1 87.6,64.1 87.9,64.1 88.4,64.1 88.9,64.1 89.4,64.1 89.9,64.1 90.4,64.1 90.6,64.1 91.1,64.2 91.6,64.2 92.1,64.3 92.6,64.3 93.1,64.3 93.6,64.3 94.1,64.3 94.6,64.3 95.1,64.3 95.6,64.3 96.1,64.3 96.6,64.3 97.1,64.2 97.6,64.2 98.1,64.2 98.6,64.2 99.1,64.2 99.6,64.2 100.1,64.2 100.6,64.2 101.1,64.2 101.6,64.2 102.1,64.2 102.6,64.3 103.1,64.3 103.6,64.3 104.1,64.3 104.6,64.3 105.1,64.3 105.6,64.4 106.1,64.3 106.6,64.3 107.1,64.3 107.6,64.2 108.1,64.2 108.6,64.2 109.1,64.2 109.6,64.2 110.1,64.3 110.6,64.4 110.9,64.4 111.4,64.4 111.9,64.4 112.4,64.4 112.8,64.4 113.1,64.4 113.6,64.3 114.1,64.3 114.6,64.3 115.1,64.4 115.4,64.4 115.9,64.4 116.4,64.4 116.9,64.4 117.4,64.4 117.9,64.4 118.4,64.4 118.9,64.4 119.4,64.5 119.9,64.5 120.2,64.6 120.6,64.8 120.9,64.9 121.2,65.1 121.4,65.4 121.7,65.6 121.9,66.0 122.1,66.4 122.1,66.6 122.2,67.1 122.3,67.6 122.3,68.1 122.3,68.6 122.2,69.1 122.2,69.6 122.2,70.1 122.2,70.6 122.2,71.1 122.2,71.6 122.2,72.1 122.2,72.6 122.3,73.1 122.3,73.6 122.2,74.1 122.2,74.6 122.2,75.1 122.2,75.6 122.2,76.1 122.2,76.6 122.2,77.1 122.2,77.6 122.2,78.1 122.2,78.6 122.2,79.1 122.2,79.6 122.2,80.1 122.2,80.6 122.2,81.1 122.2,81.6 122.2,82.1 122.2,82.6 122.1,83.1 122.1,83.4 122.1,83.9 122.0,84.4 122.0,84.9 122.0,85.4 122.0,85.9 122.1,86.4 122.1,86.9 122.1,87.1 122.1,87.6 122.1,88.1 122.1,88.4 122.1,88.9 122.1,89.4 122.1,89.9 122.1,90.4 122.1,90.9 122.1,91.4 122.1,91.9 122.1,92.1 122.2,92.6 122.2,93.1 122.3,93.6 122.3,94.1 122.4,94.6 122.4,94.9 122.4,95.4 122.4,95.9 122.4,96.1 122.3,96.6 122.3,97.1 122.2,97.6 122.2,98.1 122.2,98.6 122.2,99.1 122.2,99.6 122.2,100.1 122.2,100.6 122.1,100.9 122.1,101.4 122.0,101.9 122.0,102.4 122.0,102.9 121.9,103.4 121.9,103.7 121.8,104.1 121.6,104.5 121.4,104.9 121.1,105.1 120.9,105.4 120.6,105.6 120.4,105.7 120.0,105.9 119.6,106.0 119.1,106.1 118.6,106.1 118.1,106.1 117.6,106.1 117.3,106.1 116.9,106.2 116.4,106.3 116.1,106.4 115.7,106.6 115.4,106.8 115.1,107.0 115.0,107.4 115.1,107.9 115.3,108.1 115.4,108.4 115.6,108.8 115.7,109.1 115.6,109.5 115.4,109.8 115.1,109.9 114.6,110.1 114.4,110.2 113.9,110.3 113.5,110.4 113.1,110.5 112.7,110.6 112.4,110.7 111.9,110.8 111.4,110.9 111.1,110.9 110.6,111.1 110.4,111.2 110.1,111.4 109.8,111.6 109.6,111.9 109.4,112.2 109.1,112.5 108.9,112.8 108.6,113.1 108.4,113.3 108.1,113.5 107.9,113.6 107.4,113.9 107.1,114.0 106.6,114.1 106.4,114.2 105.9,114.2 105.4,114.2 104.9,114.2 104.4,114.2 103.9,114.2 103.4,114.3 102.9,114.3 102.4,114.4 102.1,114.4M103.6,113.4 103.1,113.5 102.6,113.5 102.1,113.5 101.6,113.5 101.2,113.4 100.9,113.3 100.6,113.1 100.2,112.9 99.9,112.6 99.6,112.4 99.4,112.2 99.1,112.1 98.7,111.9 98.4,111.8 97.9,111.7 97.4,111.7 96.9,111.7 96.4,111.7 96.0,111.6 95.6,111.6 95.1,111.5 94.6,111.4 94.4,111.3 93.9,111.1 93.6,111.0 93.3,110.9 92.9,110.7 92.6,110.6 92.1,110.4 91.9,110.3 91.4,110.2 90.9,110.2 90.6,110.1 90.2,109.9 90.0,109.6 89.9,109.1 90.1,108.7 90.4,108.5 90.8,108.4 91.1,108.3 91.6,108.1 91.9,108.0 92.2,107.9 92.6,107.7 92.9,107.6 93.4,107.5 93.9,107.5 94.2,107.6 94.6,107.8 95.0,107.9 95.4,108.0 95.9,108.1 96.4,108.1 96.9,108.1 97.4,108.0 97.9,108.0 98.2,107.9 98.6,107.7 98.9,107.5 99.1,107.2 99.4,106.9 99.4,106.6 99.5,106.1 99.4,105.6 99.5,105.1 99.6,104.8 99.8,104.4 99.8,103.9 99.9,103.4 99.8,102.9 99.7,102.4 99.6,102.1 99.4,102.1 99.1,102.6 99.0,102.9 98.9,103.3 98.7,103.6 98.5,103.9 98.1,104.0 97.8,103.9 97.4,103.6 97.1,103.4 96.9,103.2 96.6,103.0 96.4,102.7 96.1,102.4 95.9,102.1 95.8,101.9 95.6,101.5 95.6,101.2 95.9,100.9 96.1,100.7 96.4,100.4 96.6,100.2 96.9,99.9 97.1,99.7 97.4,99.6 97.8,99.4 98.1,99.2 98.4,99.1 98.7,98.9 98.9,98.6 99.0,98.1 99.0,97.6 98.9,97.1 98.8,96.9 98.6,96.5 98.4,96.1 98.2,95.9 98.1,95.6 97.8,95.4 97.4,95.2 96.9,95.3 96.6,95.6 96.5,95.9 96.3,96.1 96.1,96.5 95.9,96.9 95.8,97.1 95.6,97.4 95.4,97.6 95.1,97.9 95.0,98.4 94.9,98.9 94.9,99.1 94.9,99.4 94.9,99.9 95.0,100.4 95.0,100.9 94.9,101.2 94.6,101.4 94.1,101.4 93.9,101.3 93.4,101.2 93.1,101.1 92.6,100.9 92.4,100.8 92.1,100.6 91.9,100.3 91.8,99.9 91.9,99.6 92.1,99.1 92.2,98.9 92.4,98.4 92.4,98.1 92.4,97.8 92.2,97.4 92.1,97.1 91.9,96.9 91.6,96.6 91.1,96.4 90.6,96.5 90.1,96.6 89.6,96.6 89.1,96.4 88.9,96.3 88.6,96.1 88.3,95.9 87.9,95.6 87.6,95.5 87.1,95.4 86.6,95.5 86.4,95.7 86.1,95.9 85.9,96.2 85.6,96.5 85.4,96.8 85.2,97.1 85.1,97.4 84.9,97.8 84.7,98.1 84.6,98.4 84.4,98.6 83.9,98.7 83.4,98.7 83.0,98.9 82.8,99.1 82.6,99.4 82.4,99.7 82.1,100.1 82.0,100.4 81.9,100.8 81.9,101.0 82.1,101.2 82.6,101.2 83.1,101.2 83.5,101.1 83.9,101.1 84.4,101.1 84.9,101.0 85.1,100.8 85.4,100.6 85.7,100.4 86.1,100.3 86.5,100.4 86.8,100.6 87.1,100.9 87.4,101.1 87.6,101.3 87.9,101.5 88.2,101.6 88.6,101.8 88.9,102.0 89.2,102.1 89.4,102.4 89.5,102.9 89.4,103.2 89.1,103.5 88.9,103.8 88.6,103.9 88.3,104.1 88.0,104.4 87.7,104.6 87.6,104.9 87.4,105.3 87.3,105.6 87.2,106.1 87.1,106.5 86.6,106.4 86.4,106.2 86.1,106.0 85.9,105.8 85.6,105.5 85.4,105.3 85.1,105.1 84.6,104.9 84.4,104.8 83.9,104.6 83.6,104.6 83.1,104.6 82.7,104.6 82.4,104.7 81.9,104.8 81.6,104.9 81.2,105.1 80.9,105.3 80.6,105.4 80.2,105.6 79.9,105.7 79.4,105.7 79.1,105.5 78.9,105.3 78.6,104.9 78.4,104.7 78.1,104.5 77.8,104.4 77.4,104.3 76.9,104.2 76.4,104.2 75.9,104.4 75.6,104.6 75.4,104.9 75.3,105.1 75.1,105.4 74.9,105.7 74.5,105.9 74.1,105.9 73.6,105.9 73.4,105.8 72.9,105.6 72.6,105.5 72.4,105.3 72.1,105.1 71.9,104.7 71.7,104.4 71.5,104.1 71.4,103.9 71.1,103.5 70.9,103.3 70.6,103.1 70.1,103.1 69.9,103.3 69.6,103.4 69.3,103.6 69.0,103.9 68.6,104.1 68.4,104.3 68.1,104.4 67.7,104.6 67.4,104.8 67.0,104.9 66.6,105.0 66.1,105.0 65.6,105.1 65.1,105.0 64.6,104.9 64.4,104.8 63.9,104.6 63.6,104.5 63.4,104.3 63.1,104.1 62.7,103.9 62.4,103.6 62.1,103.5 61.9,103.4 61.4,103.1 61.1,103.0 60.8,102.9 60.4,102.6 60.1,102.5 59.9,102.3 59.6,102.0 59.4,101.8 59.1,101.5 58.9,101.1 58.8,100.9 58.6,100.4 58.6,100.1 58.5,99.6 58.5,99.1 58.4,98.6 58.4,98.1 58.4,97.6 58.3,97.4 58.3,96.9 58.2,96.4 58.1,95.9 58.1,95.6 58.0,95.1 58.0,94.6 58.0,94.1 58.0,93.6 58.1,93.1 58.1,92.6 58.1,92.1 58.1,91.6 58.1,91.1 58.0,90.6 58.0,90.1 58.0,89.6 58.0,89.1 58.1,88.6 58.1,88.4 58.2,87.9 58.2,87.4 58.3,86.9 58.3,86.4 58.2,85.9 58.2,85.4 58.2,84.9 58.1,84.4 58.2,83.9 58.2,83.4 58.3,82.9 58.4,82.4 58.4,82.1 58.4,81.6 58.5,81.1 58.5,80.6 58.5,80.1 58.5,79.6 58.4,79.1 58.3,78.9 58.3,78.4 58.2,77.9 58.2,77.4 58.1,76.9 58.1,76.4 58.1,76.1 58.1,75.6 58.1,75.1 58.0,74.6 58.0,74.1 57.9,73.6 57.8,73.4 57.7,72.9 57.7,72.4 57.6,72.0 57.6,71.6 57.6,71.1 57.6,70.9 57.6,70.4 57.6,70.1 57.6,69.6 57.5,69.1 57.5,68.6 57.5,68.1 57.5,67.6 57.6,67.1 57.6,66.9 57.8,66.4 58.0,66.1 58.2,65.9 58.4,65.6 58.8,65.4 59.1,65.1 59.4,65.0 59.6,64.9 60.1,64.7 60.4,64.6 60.9,64.5 61.4,64.4 61.6,64.3 62.1,64.3 62.6,64.3 63.1,64.4 63.4,64.4 63.9,64.4 64.4,64.4 64.9,64.4 65.4,64.4 65.9,64.4 66.4,64.4 66.9,64.4 67.4,64.5 67.9,64.5 68.4,64.5 68.9,64.5 69.4,64.5 69.9,64.5 70.4,64.5 70.9,64.5 71.4,64.5 71.9,64.4 72.4,64.4 72.6,64.4 73.1,64.3 73.6,64.3 74.1,64.2 74.6,64.2 75.1,64.2 75.6,64.2 76.1,64.3 76.6,64.3 77.0,64.4 77.4,64.4 77.9,64.5 78.4,64.5 78.9,64.5 79.4,64.5 79.9,64.5 80.4,64.4 80.9,64.4 81.4,64.4 81.9,64.4 82.4,64.4 82.9,64.4 83.4,64.4 83.9,64.5 84.4,64.5 84.9,64.6 85.4,64.6 85.9,64.6 86.4,64.6 86.9,64.6 87.4,64.6 87.9,64.5 88.4,64.5 88.9,64.4 89.4,64.4 89.9,64.4 90.4,64.4 90.9,64.5 91.4,64.5 91.9,64.5 92.4,64.6 92.9,64.6 93.4,64.6 93.9,64.6 94.4,64.6 94.9,64.6 95.4,64.6 95.9,64.6 96.4,64.5 96.9,64.5 97.4,64.5 97.9,64.5 98.4,64.5 98.9,64.5 99.4,64.5 99.9,64.5 100.4,64.5 100.9,64.5 101.4,64.5 101.9,64.5 102.4,64.5 102.9,64.5 103.4,64.5 103.9,64.6 104.4,64.6 104.9,64.6 105.4,64.6 105.9,64.6 106.4,64.6 106.9,64.6 107.4,64.5 107.9,64.5 108.4,64.5 108.9,64.5 109.4,64.5 109.9,64.6 110.4,64.6 110.6,64.6 111.1,64.7 111.6,64.7 112.1,64.7 112.6,64.7 113.1,64.6 113.4,64.6 113.9,64.6 114.4,64.6 114.9,64.6 115.1,64.6 115.6,64.6 116.1,64.7 116.6,64.7 117.1,64.7 117.6,64.7 118.1,64.7 118.6,64.7 119.1,64.7 119.6,64.8 120.1,64.9 120.4,65.0 120.7,65.1 121.0,65.4 121.3,65.6 121.5,65.9 121.6,66.1 121.9,66.6 121.9,66.9 122.0,67.4 122.0,67.9 122.0,68.4 122.0,68.9 121.9,69.4 121.9,69.8 121.9,70.1 121.8,70.6 121.9,71.1 121.9,71.6 121.9,71.9 121.9,72.4 121.9,72.9 121.9,73.4 121.9,73.9 121.9,74.4 121.9,74.7 121.9,75.1 121.8,75.6 121.8,76.1 121.8,76.6 121.8,77.1 121.9,77.6 121.9,78.1 121.9,78.4 121.9,78.9 121.9,79.4 121.9,79.6 121.9,80.1 121.9,80.6 121.9,81.1 121.9,81.6 121.9,82.1 121.9,82.6 121.8,83.1 121.8,83.6 121.8,84.1 121.7,84.6 121.7,85.1 121.7,85.6 121.8,86.1 121.8,86.6 121.8,87.1 121.8,87.6 121.8,88.1 121.8,88.6 121.8,89.1 121.8,89.6 121.7,90.1 121.8,90.6 121.8,91.1 121.8,91.6 121.8,92.1 121.9,92.6 121.9,93.0 121.9,93.4 121.9,93.9 122.0,94.4 122.0,94.9 122.0,95.4 122.0,95.9 122.0,96.4 121.9,96.9 121.9,97.4 121.9,97.6 121.9,98.1 121.9,98.6 121.9,98.9 121.9,99.4 121.9,99.9 121.9,100.2 121.8,100.6 121.8,101.1 121.7,101.6 121.7,102.1 121.7,102.6 121.6,103.1 121.6,103.4 121.5,103.9 121.4,104.2 121.1,104.6 120.9,104.9 120.6,105.1 120.4,105.3 120.1,105.4 119.6,105.6 119.2,105.6 118.9,105.7 118.4,105.7 117.9,105.7 117.4,105.7 116.9,105.7 116.4,105.8 116.0,105.9 115.6,106.0 115.1,106.1 114.7,106.1 114.4,106.2 113.9,106.3 113.4,106.3 112.9,106.3 112.4,106.3 111.9,106.3 111.4,106.3 110.9,106.3 110.6,106.4 110.1,106.5 109.9,106.7 109.6,106.9 109.4,107.4 109.4,107.6 109.3,108.1 109.2,108.6 109.1,109.1 109.1,109.4 109.0,109.9 108.9,110.1 108.7,110.6 108.5,110.9 108.4,111.2 108.1,111.6 108.0,111.9 107.8,112.1 107.6,112.4 107.4,112.6 107.0,112.9 106.6,113.0 106.3,113.1 105.9,113.2 105.4,113.2 104.9,113.2 104.4,113.3 103.9,113.3 103.6,113.4M83.4,97.6 83.6,97.2 83.8,96.9 83.9,96.6 84.1,96.2 84.3,95.9 84.6,95.6 84.8,95.4 85.1,95.1 85.4,95.0 85.7,94.9 86.1,94.8 86.6,94.7 86.9,94.6 87.2,94.4 87.4,94.1 87.6,93.6 87.6,93.1 87.7,92.9 88.1,92.8 88.4,93.0 88.6,93.3 88.8,93.6 89.0,93.9 89.2,94.1 89.5,94.4 89.8,94.6 90.1,94.8 90.4,94.9 90.9,95.0 91.3,95.1 91.6,95.2 92.1,95.3 92.6,95.3 93.1,95.3 93.6,95.3 94.1,95.2 94.6,95.1 94.9,95.1 95.3,94.9 95.5,94.6 95.6,94.1 95.5,93.6 95.4,93.4 95.2,92.9 95.0,92.6 94.8,92.4 94.5,92.1 94.2,91.9 93.9,91.6 93.6,91.4 93.4,91.2 93.1,91.0 92.9,90.8 92.6,90.5 92.4,90.1 92.3,89.9 92.3,89.4 92.4,89.1 92.6,88.7 92.9,88.4 93.1,88.2 93.4,88.0 93.6,87.7 93.7,87.4 93.8,86.9 93.7,86.4 93.6,86.0 93.5,85.6 93.5,85.1 93.5,84.6 93.6,84.2 93.8,83.9 93.9,83.5 94.0,83.1 94.0,82.6 94.0,82.1 94.0,81.6 94.1,81.4 94.4,81.1 94.6,80.8 94.9,80.6 95.1,80.4 95.4,80.0 95.6,79.7 95.9,79.4 96.1,79.1 96.2,78.9 96.3,78.4 96.2,77.9 96.1,77.5 96.0,77.1 96.0,76.6 96.0,76.1 96.1,75.6 96.2,75.4 96.2,74.9 96.2,74.4 96.1,74.1 95.9,73.6 95.7,73.4 95.6,73.1 95.4,72.9 95.1,72.6 94.7,72.4 94.4,72.3 93.9,72.2 93.6,72.1 93.3,72.1 92.9,72.2 92.4,72.3 92.1,72.4 91.6,72.6 91.4,72.9 91.1,73.1 90.9,73.4 90.7,73.6 90.5,73.9 90.3,74.1 90.0,74.4 89.8,74.6 89.5,74.9 89.4,75.1 89.2,75.6 89.1,75.9 89.1,76.4 89.0,76.9 88.9,77.4 88.6,77.4 88.4,77.3 88.1,77.0 87.9,76.6 87.8,76.4 87.6,76.1 87.4,75.6 87.2,75.4 87.1,75.1 86.9,74.8 86.7,74.4 86.6,74.1 86.5,73.6 86.4,73.3 86.2,72.9 85.9,72.6 85.6,72.4 85.4,72.3 85.1,72.1 84.8,71.9 84.5,71.6 84.2,71.4 83.9,71.2 83.6,71.0 83.1,70.9 82.6,71.0 82.3,71.1 81.9,71.3 81.6,71.4 81.1,71.6 80.9,71.7 80.4,71.9 80.1,72.0 79.9,72.3 79.8,72.6 79.8,73.1 79.9,73.4 79.9,73.9 79.9,74.3 79.7,74.6 79.4,74.9 79.1,75.0 78.6,75.0 78.1,74.9 77.9,74.7 77.6,74.5 77.4,74.2 77.2,73.9 77.1,73.6 76.9,73.1 76.6,72.9 76.2,73.1 75.9,73.3 75.6,73.4 75.1,73.5 74.6,73.5 74.1,73.4 73.6,73.4 73.1,73.6 73.0,73.9 73.0,74.4 73.0,74.9 73.1,75.4 73.1,75.9 73.0,76.4 72.9,76.6 72.8,77.1 73.1,77.2 73.4,77.1 73.6,76.9 73.9,76.6 74.1,76.3 74.4,76.1 74.8,75.9 75.1,75.7 75.6,75.7 76.1,75.8 76.4,75.9 76.7,76.1 76.9,76.4 77.2,76.6 77.4,76.9 77.6,77.1 78.1,77.4 78.4,77.4 78.9,77.4 79.1,77.4 79.6,77.2 79.9,77.1 80.4,76.9 80.6,76.8 80.9,76.6 81.3,76.4 81.6,76.2 81.9,76.1 82.4,76.0 82.9,76.1 83.1,76.4 83.3,76.6 83.4,76.9 83.5,77.4 83.4,77.9 83.2,78.1 83.0,78.4 82.7,78.6 82.5,78.9 82.4,79.2 82.2,79.6 82.1,80.1 82.2,80.6 82.4,81.1 82.5,81.4 82.7,81.6 83.0,81.9 83.2,82.1 83.5,82.4 83.9,82.6 84.1,82.8 84.4,82.9 84.8,83.1 84.5,83.4 84.2,83.6 83.9,83.9 83.7,84.1 83.6,84.4 83.4,84.8 83.3,85.1 83.4,85.6 83.6,85.9 83.9,86.0 84.1,86.1 84.6,86.1 84.9,86.0 85.1,85.9 85.4,85.5 85.6,85.1 85.6,84.9 85.7,84.4 85.6,83.9 85.5,83.6 85.3,83.4 85.0,83.1 85.4,82.9 85.6,82.8 85.9,82.6 86.2,82.4 86.5,82.1 86.7,81.9 86.9,81.6 87.1,81.4 87.5,81.1 87.9,81.0 88.2,80.9 88.6,80.7 88.9,80.6 89.3,80.4 89.6,80.3 90.1,80.3 90.5,80.4 90.9,80.6 91.1,80.8 91.4,81.0 91.6,81.4 91.7,81.6 91.7,82.1 91.6,82.4 91.4,82.9 91.3,83.1 91.1,83.4 90.9,83.7 90.6,84.0 90.4,84.2 90.1,84.4 89.7,84.6 89.4,84.9 89.1,85.1 89.0,85.4 88.9,85.7 88.8,86.1 88.7,86.6 88.6,86.9 88.5,87.4 88.4,87.8 88.2,88.1 87.9,88.3 87.5,88.4 87.3,88.4 86.9,88.3 86.4,88.3 85.9,88.3 85.6,88.4 85.4,88.6 85.1,88.9 84.9,89.4 84.8,89.6 84.6,90.1 84.5,90.4 84.4,90.8 84.3,91.1 84.1,91.5 83.9,91.9 83.7,92.1 83.5,92.4 83.2,92.6 83.0,92.9 82.7,93.1 82.6,93.4 82.4,93.7 82.2,94.1 82.1,94.4 82.0,94.9 82.0,95.4 82.0,95.9 82.1,96.4 82.2,96.6 82.3,97.1 82.5,97.4 82.7,97.6 83.1,97.8 83.4,97.6M107.9,106.2 107.4,106.3 106.9,106.3 106.4,106.3 105.9,106.2 105.6,106.1 105.1,106.0 104.6,105.9 104.1,105.9 103.9,105.9 103.4,105.8 102.9,105.7 102.5,105.6 102.1,105.4 101.9,105.3 101.6,105.1 101.4,104.8 101.1,104.4 101.0,104.1 100.9,103.7 100.8,103.4 100.7,102.9 100.7,102.4 100.7,101.9 100.6,101.4 100.6,100.9 100.6,100.4 100.7,99.9 100.8,99.4 100.8,98.9 100.8,98.4 100.6,98.0 100.4,97.6 100.3,97.4 100.1,97.1 99.9,96.6 99.8,96.4 99.7,95.9 99.6,95.6 99.5,95.1 99.4,94.6 99.3,94.4 99.1,94.1 98.8,93.9 98.5,93.6 98.1,93.4 97.9,93.3 97.6,93.1 97.2,92.9 96.9,92.6 96.8,92.4 96.6,92.1 96.5,91.6 96.6,91.2 96.8,90.9 97.0,90.6 97.1,90.4 97.1,89.9 97.0,89.6 96.8,89.4 96.6,89.1 96.3,88.9 96.1,88.6 95.9,88.1 95.8,87.9 95.7,87.4 95.7,86.9 95.8,86.4 96.0,86.1 96.1,85.9 96.4,85.5 96.6,85.1 96.7,84.9 96.7,84.4 96.6,83.9 96.6,83.6 96.4,83.1 96.3,82.9 96.2,82.4 96.2,81.9 96.4,81.5 96.6,81.1 96.8,80.9 97.0,80.6 97.3,80.4 97.6,80.1 97.9,79.9 98.1,79.7 98.4,79.4 98.6,79.2 98.9,78.9 99.1,78.6 99.3,78.4 99.2,77.9 99.0,77.6 98.9,77.4 98.6,76.9 98.6,76.6 98.6,76.1 98.7,75.9 98.9,75.4 99.0,75.1 99.1,74.6 99.1,74.2 99.1,73.9 99.2,73.4 99.2,72.9 99.2,72.4 99.0,72.1 98.7,71.9 98.4,71.7 97.9,71.6 97.6,71.6 97.1,71.6 96.6,71.6 96.1,71.6 95.6,71.6 95.1,71.5 94.6,71.4 94.1,71.4 93.6,71.4 93.1,71.4 92.6,71.4 92.1,71.4 91.6,71.5 91.1,71.5 90.6,71.5 90.1,71.5 89.6,71.5 89.2,71.4 88.9,71.3 88.5,71.1 88.1,71.0 87.9,70.8 87.4,70.6 87.1,70.5 86.6,70.4 86.1,70.4 85.9,70.4 85.4,70.3 84.9,70.2 84.6,70.1 84.2,69.9 83.9,69.7 83.5,69.6 83.1,69.6 82.6,69.6 82.4,69.7 82.0,69.9 81.6,70.1 81.4,70.2 80.9,70.4 80.6,70.4 80.1,70.4 79.8,70.4 79.4,70.3 78.9,70.2 78.6,70.1 78.1,70.0 77.6,70.0 77.1,70.1 76.9,70.2 76.4,70.3 75.9,70.3 75.4,70.3 74.9,70.2 74.5,70.1 74.1,70.0 73.6,70.0 73.1,70.0 72.6,70.0 72.1,70.1 71.7,70.1 71.4,70.2 70.9,70.2 70.4,70.3 70.0,70.4 69.6,70.5 69.4,70.6 69.0,70.9 68.7,71.1 68.5,71.4 68.4,71.8 68.3,72.1 68.2,72.6 68.1,72.9 67.9,73.4 67.8,73.6 67.7,74.1 67.6,74.4 67.6,74.9 67.6,75.4 67.6,75.9 67.6,76.2 67.7,76.6 67.7,77.1 67.8,77.6 67.7,78.1 67.7,78.6 67.6,78.9 67.5,79.4 67.4,79.9 67.4,80.4 67.5,80.9 67.6,81.1 67.8,81.6 67.9,81.9 68.1,82.4 68.1,82.6 68.1,83.1 68.1,83.4 68.0,83.9 67.9,84.2 67.8,84.6 67.7,85.1 67.8,85.6 67.9,85.9 68.1,86.2 68.4,86.6 68.6,86.8 68.9,87.1 69.1,87.3 69.3,87.6 69.5,87.9 69.5,88.4 69.4,88.8 69.2,89.1 69.1,89.4 68.9,89.9 68.7,90.1 68.6,90.4 68.4,90.9 68.4,91.3 68.4,91.5 68.4,91.9 68.6,92.2 68.9,92.5 69.1,92.7 69.6,92.7 69.9,92.4 70.1,92.2 70.4,92.1 70.8,91.9 71.1,91.8 71.5,91.6 71.9,91.4 72.1,91.3 72.4,91.1 72.6,90.9 72.9,90.6 73.1,90.3 73.4,90.1 73.7,89.9 74.1,89.8 74.6,89.8 74.9,89.9 75.4,89.9 75.9,89.9 76.1,89.8 76.5,89.6 76.8,89.4 76.9,89.1 76.9,88.8 76.6,88.5 76.4,88.4 75.9,88.1 75.6,88.0 75.1,87.9 74.6,87.9 74.1,87.9 73.7,87.9 73.4,87.7 73.3,87.4 73.4,86.9 73.4,86.6 73.6,86.2 73.9,85.9 74.1,85.7 74.4,85.6 74.9,85.4 75.1,85.3 75.6,85.2 75.9,85.1 76.4,85.0 76.9,85.0 77.1,85.2 77.4,85.5 77.6,85.8 77.8,86.1 78.0,86.4 78.1,86.8 78.2,87.1 78.2,87.6 78.1,87.9 78.0,88.4 78.0,88.9 78.3,89.1 78.6,89.3 78.9,89.4 79.4,89.5 79.9,89.5 80.2,89.4 80.5,89.1 80.7,88.9 80.9,88.6 81.1,88.3 81.6,88.1 81.7,88.1 82.1,88.4 82.3,88.6 82.4,89.1 82.3,89.6 82.1,90.0 81.9,90.4 81.6,90.6 81.4,90.8 81.1,91.0 80.9,91.2 80.6,91.4 80.1,91.6 79.8,91.6 79.4,91.7 78.9,91.7 78.4,91.7 77.9,91.7 77.4,91.8 77.1,91.9 76.6,92.1 76.4,92.2 76.1,92.4 75.7,92.6 75.4,92.9 75.1,93.1 74.9,93.3 74.7,93.6 74.6,93.9 74.6,94.1 74.9,94.6 75.1,94.9 75.2,95.1 75.4,95.5 75.5,95.9 75.6,96.1 75.9,96.6 76.1,96.9 76.4,97.1 76.6,97.1 77.1,97.2 77.6,97.2 78.1,97.1 78.4,97.1 78.9,97.1 79.1,97.2 79.6,97.4 79.8,97.6 79.9,97.9 80.1,98.4 80.1,98.9 79.9,99.4 79.8,99.6 79.6,99.9 79.4,100.3 79.1,100.6 78.9,100.8 78.6,101.1 78.4,101.4 78.1,101.6 77.9,101.8 77.6,101.9 77.1,102.1 76.9,102.1 76.5,102.1 76.1,102.0 75.8,101.9 75.6,101.6 75.4,101.1 75.5,100.6 75.5,100.1 75.4,99.6 75.4,99.4 75.2,98.9 75.1,98.5 74.9,98.1 74.6,97.9 74.4,97.8 73.9,97.6 73.6,97.5 73.1,97.4 72.9,97.3 72.4,97.1 72.1,96.9 71.9,96.6 71.9,96.4 71.9,96.1 72.0,95.6 72.1,95.1 71.9,94.6 71.6,94.6 71.3,94.6 71.0,94.9 71.0,95.4 71.1,95.9 71.1,96.4 71.0,96.9 70.9,97.1 70.6,97.5 70.4,97.8 70.1,98.1 69.9,98.4 69.8,98.6 69.6,99.0 69.6,99.4 69.6,99.9 69.6,100.4 69.6,100.9 69.6,101.4 69.5,101.9 69.4,102.4 69.3,102.6 69.1,102.9 68.9,103.2 68.6,103.5 68.4,103.7 68.1,103.9 67.8,104.1 67.4,104.4 67.1,104.5 66.6,104.6 66.4,104.6 65.9,104.7 65.4,104.7 65.1,104.6 64.6,104.5 64.4,104.4 63.9,104.1 63.6,104.0 63.4,103.8 63.1,103.6 62.8,103.4 62.4,103.1 62.1,103.0 61.9,102.9 61.4,102.7 61.1,102.5 60.8,102.4 60.4,102.1 60.1,101.9 59.9,101.6 59.7,101.4 59.5,101.1 59.3,100.9 59.1,100.4 59.1,100.1 59.0,99.6 58.9,99.1 58.9,98.6 58.9,98.1 58.9,97.6 58.9,97.3 58.8,96.9 58.7,96.4 58.7,95.9 58.6,95.5 58.6,95.1 58.5,94.6 58.5,94.1 58.5,93.6 58.6,93.1 58.6,92.6 58.6,92.1 58.6,91.6 58.6,91.1 58.5,90.6 58.5,90.1 58.5,89.6 58.5,89.1 58.5,88.6 58.6,88.1 58.6,87.7 58.6,87.4 58.7,86.9 58.7,86.4 58.7,85.9 58.7,85.4 58.7,84.9 58.7,84.4 58.7,83.9 58.7,83.4 58.7,82.9 58.8,82.4 58.8,81.9 58.9,81.4 58.9,81.1 58.9,80.6 58.9,80.1 58.9,79.7 58.9,79.4 58.8,78.9 58.7,78.4 58.7,77.9 58.7,77.4 58.6,76.9 58.6,76.4 58.6,76.1 58.6,75.6 58.6,75.1 58.6,74.6 58.5,74.1 58.5,73.6 58.4,73.1 58.3,72.9 58.3,72.4 58.2,71.9 58.2,71.4 58.2,70.9 58.1,70.4 58.1,70.1 58.1,69.6 58.0,69.1 58.0,68.6 58.0,68.1 58.0,67.6 58.1,67.1 58.2,66.9 58.4,66.4 58.6,66.1 58.9,65.9 59.1,65.7 59.4,65.5 59.6,65.4 60.1,65.1 60.4,65.0 60.9,64.9 61.1,64.8 61.6,64.8 62.1,64.8 62.6,64.8 63.1,64.8 63.5,64.9 63.9,64.9 64.4,64.9 64.9,64.9 65.4,64.9 65.9,64.9 66.4,64.9 66.9,65.0 67.4,65.0 67.9,65.1 68.4,65.1 68.9,65.1 69.1,65.1 69.6,65.1 69.9,65.1 70.4,65.1 70.9,65.1 71.4,65.0 71.9,65.0 72.4,64.9 72.8,64.9 73.1,64.8 73.6,64.8 74.1,64.7 74.6,64.7 75.1,64.7 75.6,64.7 76.1,64.8 76.4,64.9 76.9,65.0 77.4,65.0 77.9,65.0 78.4,65.0 78.9,65.0 79.4,65.0 79.9,64.9 80.4,64.9 80.9,64.9 81.4,65.0 81.9,65.0 82.4,65.0 82.9,65.0 83.4,65.0 83.9,65.0 84.4,65.0 84.9,65.1 85.4,65.1 85.9,65.1 86.4,65.1 86.9,65.0 87.4,65.0 87.9,64.9 88.1,64.9 88.6,64.8 89.1,64.7 89.6,64.7 90.1,64.7 90.6,64.7 91.1,64.8 91.6,64.8 92.1,64.8 92.6,64.8 93.1,64.8 93.6,64.8 94.1,64.8 94.6,64.8 95.1,64.8 95.6,64.8 96.1,64.8 96.6,64.8 97.1,64.8 97.6,64.8 98.1,64.7 98.6,64.7 99.1,64.7 99.6,64.7 100.1,64.8 100.6,64.8 101.1,64.8 101.6,64.8 102.1,64.8 102.6,64.8 103.1,64.8 103.6,64.8 104.1,64.8 104.6,64.8 105.1,64.9 105.6,64.9 106.1,64.8 106.6,64.8 107.1,64.8 107.6,64.8 108.1,64.7 108.6,64.7 109.1,64.8 109.6,64.8 110.1,64.9 110.4,64.9 110.9,64.9 111.4,65.0 111.9,65.0 112.4,64.9 112.9,64.9 113.4,64.9 113.9,64.9 114.1,64.9 114.5,64.9 114.9,64.9 115.4,64.9 115.9,64.9 116.4,64.9 116.9,64.9 117.4,64.9 117.9,64.9 118.4,64.9 118.9,64.9 119.4,65.0 119.9,65.1 120.1,65.2 120.5,65.4 120.9,65.6 121.1,65.9 121.3,66.1 121.5,66.4 121.6,66.8 121.7,67.1 121.7,67.6 121.7,68.1 121.7,68.6 121.7,69.1 121.6,69.4 121.6,69.9 121.6,70.4 121.6,70.9 121.6,71.4 121.6,71.9 121.6,72.4 121.6,72.6 121.6,73.1 121.6,73.6 121.6,73.9 121.6,74.4 121.6,74.9 121.5,75.4 121.5,75.9 121.5,76.4 121.5,76.9 121.5,77.4 121.6,77.9 121.6,78.4 121.6,78.9 121.6,79.4 121.6,79.9 121.6,80.4 121.6,80.9 121.6,81.4 121.6,81.9 121.6,82.4 121.6,82.9 121.6,83.4 121.5,83.9 121.5,84.4 121.5,84.9 121.5,85.4 121.5,85.9 121.5,86.4 121.5,86.9 121.5,87.4 121.5,87.9 121.5,88.4 121.5,88.9 121.5,89.4 121.5,89.9 121.5,90.4 121.5,90.9 121.5,91.4 121.5,91.9 121.6,92.4 121.6,92.9 121.6,93.4 121.6,93.8 121.6,94.1 121.7,94.6 121.7,95.1 121.7,95.6 121.7,96.1 121.6,96.6 121.6,96.9 121.6,97.4 121.6,97.9 121.6,98.4 121.6,98.9 121.6,99.4 121.6,99.9 121.6,100.4 121.5,100.9 121.5,101.4 121.4,101.9 121.4,102.4 121.4,102.7 121.3,103.1 121.2,103.6 121.1,103.9 120.9,104.4 120.7,104.6 120.4,104.9 120.1,105.0 119.9,105.1 119.4,105.3 118.9,105.3 118.4,105.3 117.9,105.3 117.4,105.3 117.0,105.4 116.6,105.4 116.1,105.5 115.6,105.6 115.1,105.6 114.9,105.6 114.4,105.7 113.9,105.7 113.4,105.7 112.9,105.7 112.4,105.6 112.1,105.6 111.6,105.6 111.1,105.6 110.6,105.6 110.3,105.6 109.9,105.7 109.4,105.8 109.1,105.9 108.6,106.0 108.1,106.1 107.9,106.2M73.1,83.2 72.6,83.3 72.1,83.3 71.6,83.3 71.1,83.1 70.9,83.0 70.6,82.9 70.4,82.6 70.3,82.1 70.5,81.9 70.7,81.6 70.9,81.4 71.3,81.1 71.6,80.9 71.9,80.8 72.4,80.7 72.8,80.6 72.9,80.6 73.4,80.7 73.8,80.9 74.1,81.0 74.4,81.2 74.7,81.4 74.9,81.6 74.8,81.9 74.5,82.1 74.2,82.4 73.9,82.6 73.6,82.9 73.4,83.0 73.1,83.2M77.4,83.4 77.0,83.4 76.7,83.1 76.5,82.9 76.3,82.6 76.1,82.4 75.9,82.1 75.6,81.9 75.6,81.4 75.9,81.2 76.1,81.1 76.6,81.1 77.0,81.1 77.4,81.3 77.6,81.5 77.8,81.9 77.9,82.1 77.9,82.6 77.9,82.9 77.6,83.2 77.4,83.4M73.9,102.1 73.4,102.3 73.3,101.9 73.6,101.8 73.9,101.9 73.9,102.1M102.6,111.9 102.1,112.0 101.8,111.9 101.4,111.7 101.1,111.5 100.9,111.2 100.6,110.9 100.5,110.6 100.9,110.4 101.4,110.5 101.7,110.6 102.1,110.8 102.5,110.9 102.9,111.0 103.1,111.4 102.9,111.8 102.6,111.9M108.9,105.4 108.4,105.5 107.9,105.5 107.4,105.5 106.9,105.6 106.4,105.6 105.9,105.5 105.4,105.5 104.9,105.5 104.4,105.4 103.9,105.4 103.6,105.4 103.1,105.3 102.7,105.1 102.4,105.0 102.1,104.8 101.9,104.6 101.6,104.3 101.4,103.9 101.3,103.6 101.2,103.1 101.2,102.6 101.1,102.1 101.1,101.7 101.1,101.4 101.1,101.1 101.2,100.6 101.3,100.1 101.4,99.9 101.6,99.6 101.9,99.3 102.1,99.0 102.4,98.8 102.7,98.6 103.1,98.4 103.4,98.3 103.9,98.2 104.3,98.1 104.6,98.1 105.1,98.0 105.4,97.9 105.4,97.4 105.1,97.3 104.6,97.1 104.4,97.1 103.9,97.1 103.4,97.0 102.9,96.9 102.6,96.8 102.1,96.6 101.9,96.5 101.6,96.3 101.4,96.0 101.3,95.6 101.4,95.1 101.5,94.9 101.7,94.6 102.0,94.4 102.4,94.2 102.9,94.1 103.1,94.1 103.4,93.9 103.6,93.4 103.6,93.1 103.6,92.9 103.5,92.4 103.4,92.1 103.1,91.7 102.9,91.4 102.7,91.1 102.5,90.9 102.3,90.6 102.1,90.4 101.9,90.1 101.6,89.6 101.5,89.4 101.4,88.9 101.3,88.6 101.1,88.3 100.9,88.0 100.6,87.9 100.1,87.7 99.6,87.7 99.4,87.6 98.9,87.4 98.7,87.1 98.6,86.6 98.7,86.1 98.8,85.6 98.9,85.1 99.0,84.9 99.1,84.5 99.4,84.2 99.6,83.9 99.9,83.6 100.1,83.4 100.2,83.1 100.4,82.6 100.4,82.4 100.6,81.9 100.7,81.6 100.9,81.3 101.1,81.0 101.4,80.8 101.6,80.6 101.9,80.3 102.1,80.1 102.4,79.7 102.5,79.4 102.6,78.9 102.6,78.4 102.6,77.9 102.6,77.5 102.7,77.1 102.9,76.9 103.1,76.6 103.4,76.3 103.7,76.1 104.1,75.9 104.5,75.9 104.7,75.9 105.1,75.9 105.6,76.1 105.9,76.3 106.1,76.4 106.6,76.6 106.9,76.8 107.1,76.9 107.5,77.1 107.9,77.4 108.1,77.5 108.4,77.7 108.6,77.9 109.1,78.0 109.6,77.9 109.9,77.8 110.1,77.6 110.4,77.3 110.6,76.9 110.7,76.6 110.9,76.3 111.0,75.9 111.1,75.4 111.1,75.1 111.2,74.6 111.3,74.1 111.2,73.6 111.1,73.2 111.0,72.9 110.8,72.6 110.5,72.4 110.1,72.2 109.9,72.1 109.4,72.0 108.9,71.9 108.5,71.9 108.1,71.8 107.6,71.7 107.3,71.6 106.9,71.6 106.4,71.5 105.9,71.5 105.4,71.5 104.9,71.6 104.6,71.8 104.4,71.9 104.1,72.1 103.9,72.5 103.7,72.9 103.5,73.1 103.1,73.4 103.1,73.4 102.6,73.1 102.5,72.9 102.4,72.4 102.3,72.1 102.0,71.9 101.6,71.7 101.3,71.6 100.9,71.5 100.4,71.4 100.1,71.4 99.6,71.3 99.1,71.2 98.9,71.1 98.4,71.1 97.9,71.0 97.4,71.0 96.9,71.0 96.4,71.1 95.9,71.1 95.4,71.0 94.9,71.0 94.4,71.0 93.9,70.9 93.4,70.9 92.9,70.9 92.4,71.0 91.9,71.0 91.4,71.0 90.9,71.0 90.4,71.0 89.9,71.0 89.4,70.9 89.1,70.8 88.7,70.6 88.4,70.4 88.1,70.3 87.9,70.1 87.5,69.9 87.1,69.6 86.9,69.6 86.4,69.5 85.9,69.4 85.5,69.4 85.1,69.3 84.6,69.1 84.4,69.0 84.0,68.9 83.6,68.7 83.4,68.6 82.9,68.5 82.4,68.5 82.0,68.6 81.6,68.8 81.4,69.0 81.1,69.1 80.6,69.3 80.1,69.3 79.6,69.3 79.1,69.1 78.9,69.1 78.4,69.0 77.9,68.9 77.4,69.0 76.9,69.1 76.6,69.1 76.1,69.2 75.6,69.2 75.2,69.1 74.9,69.1 74.4,68.9 74.1,68.9 73.6,68.7 73.1,68.7 72.6,68.7 72.1,68.8 71.6,68.9 71.4,68.9 70.9,68.9 70.4,68.9 69.9,68.9 69.4,69.0 68.9,69.1 68.6,69.1 68.1,69.3 67.9,69.4 67.4,69.6 67.1,69.8 66.9,70.0 66.7,70.4 66.6,70.6 66.5,71.1 66.5,71.6 66.5,72.1 66.5,72.6 66.4,73.1 66.4,73.6 66.4,74.1 66.5,74.6 66.5,75.1 66.5,75.6 66.6,76.1 66.6,76.6 66.7,76.9 66.7,77.4 66.8,77.9 66.7,78.4 66.6,78.9 66.6,79.1 66.5,79.6 66.4,80.1 66.4,80.6 66.5,81.1 66.6,81.6 66.7,81.9 66.7,82.4 66.8,82.9 66.7,83.4 66.6,83.7 66.5,84.1 66.4,84.6 66.4,84.9 66.4,85.4 66.4,85.6 66.5,86.1 66.6,86.4 66.8,86.9 66.9,87.1 67.1,87.6 67.1,87.9 67.2,88.4 67.2,88.9 67.1,89.2 67.1,89.6 67.0,90.1 66.9,90.6 66.8,90.9 66.8,91.4 66.8,91.9 66.8,92.4 66.9,92.6 67.1,93.1 67.2,93.4 67.4,93.8 67.5,94.1 67.7,94.4 67.8,94.9 67.9,95.1 68.0,95.6 68.1,96.1 68.1,96.6 68.1,97.0 68.2,97.4 68.4,97.9 68.4,98.1 68.6,98.6 68.7,98.9 68.9,99.4 68.9,99.6 69.0,100.1 69.1,100.6 69.1,101.1 69.1,101.6 69.0,102.1 68.9,102.4 68.6,102.9 68.5,103.1 68.2,103.4 68.0,103.6 67.6,103.9 67.4,104.0 67.1,104.1 66.6,104.3 66.1,104.3 65.6,104.3 65.1,104.3 64.6,104.1 64.4,104.0 64.1,103.9 63.7,103.6 63.4,103.4 63.1,103.2 62.9,103.0 62.6,102.8 62.2,102.6 61.9,102.5 61.6,102.4 61.1,102.1 60.9,102.0 60.6,101.8 60.4,101.6 60.1,101.3 59.9,101.0 59.7,100.6 59.6,100.4 59.4,99.9 59.4,99.5 59.3,99.1 59.3,98.6 59.3,98.1 59.3,97.6 59.3,97.1 59.2,96.6 59.2,96.1 59.1,95.9 59.0,95.4 59.0,94.9 58.9,94.4 58.9,93.9 59.0,93.4 59.0,92.9 59.0,92.4 59.0,91.9 59.0,91.4 59.0,90.9 58.9,90.4 58.9,89.9 58.9,89.4 58.9,88.9 58.9,88.4 59.0,87.9 59.0,87.4 59.0,86.9 59.1,86.4 59.1,85.9 59.1,85.4 59.1,84.9 59.1,84.4 59.1,83.9 59.1,83.4 59.1,82.9 59.1,82.6 59.2,82.1 59.2,81.6 59.2,81.1 59.2,80.6 59.2,80.1 59.2,79.6 59.2,79.1 59.2,78.6 59.1,78.2 59.1,77.9 59.1,77.4 59.0,76.9 59.0,76.4 59.0,75.9 59.0,75.4 59.0,74.9 59.0,74.4 59.0,73.9 58.9,73.4 58.9,73.0 58.8,72.6 58.7,72.1 58.7,71.6 58.7,71.1 58.6,70.8 58.6,70.4 58.5,69.9 58.5,69.4 58.5,68.9 58.5,68.4 58.5,67.9 58.6,67.4 58.7,67.1 58.9,66.7 59.1,66.4 59.4,66.1 59.6,66.0 59.9,65.8 60.2,65.6 60.6,65.5 60.9,65.4 61.4,65.3 61.9,65.3 62.4,65.3 62.9,65.4 63.1,65.4 63.6,65.5 64.1,65.5 64.6,65.5 65.1,65.5 65.6,65.5 66.1,65.5 66.6,65.6 66.9,65.6 67.4,65.8 67.8,65.9 68.1,66.0 68.6,66.1 69.1,66.1 69.6,66.0 70.1,66.0 70.6,65.9 70.9,65.8 71.4,65.8 71.9,65.7 72.4,65.7 72.6,65.6 73.1,65.5 73.6,65.4 74.1,65.4 74.4,65.4 74.9,65.4 75.1,65.4 75.6,65.5 76.1,65.6 76.4,65.7 76.9,65.8 77.4,65.8 77.9,65.8 78.4,65.7 78.8,65.6 79.1,65.6 79.6,65.5 80.1,65.5 80.6,65.6 81.1,65.6 81.6,65.6 82.1,65.6 82.6,65.6 83.1,65.6 83.6,65.6 84.1,65.6 84.4,65.6 84.9,65.6 85.3,65.6 85.6,65.6 86.1,65.6 86.6,65.5 87.1,65.4 87.5,65.4 87.9,65.3 88.4,65.2 88.6,65.1 89.1,65.0 89.6,65.0 90.1,65.0 90.6,65.0 91.1,65.0 91.6,65.1 92.1,65.1 92.6,65.1 93.1,65.1 93.6,65.1 94.1,65.1 94.6,65.1 95.1,65.1 95.6,65.1 96.1,65.1 96.6,65.1 97.1,65.0 97.6,65.0 98.1,65.0 98.6,65.0 99.1,65.0 99.6,65.0 100.1,65.0 100.6,65.0 101.1,65.0 101.6,65.0 102.1,65.0 102.6,65.0 103.1,65.0 103.6,65.0 104.1,65.1 104.6,65.1 105.1,65.1 105.6,65.1 106.1,65.1 106.6,65.1 107.1,65.0 107.6,65.0 108.1,65.0 108.6,65.0 109.1,65.0 109.6,65.1 110.0,65.1 110.4,65.2 110.9,65.2 111.4,65.2 111.9,65.2 112.4,65.2 112.9,65.2 113.4,65.2 113.9,65.1 114.4,65.1 114.9,65.1 115.4,65.1 115.9,65.2 116.4,65.2 116.9,65.2 117.4,65.2 117.9,65.2 118.4,65.2 118.9,65.2 119.4,65.2 119.9,65.4 120.1,65.5 120.4,65.6 120.8,65.9 121.0,66.1 121.2,66.4 121.4,66.9 121.4,67.1 121.5,67.6 121.5,68.1 121.4,68.6 121.4,69.1 121.4,69.4 121.3,69.9 121.3,70.4 121.3,70.9 121.3,71.4 121.3,71.9 121.4,72.4 121.4,72.9 121.4,73.4 121.4,73.9 121.3,74.4 121.3,74.9 121.3,75.4 121.2,75.9 121.2,76.4 121.2,76.9 121.3,77.4 121.3,77.9 121.3,78.4 121.3,78.9 121.3,79.4 121.3,79.9 121.3,80.4 121.3,80.9 121.3,81.4 121.3,81.9 121.3,82.4 121.3,82.9 121.3,83.4 121.3,83.9 121.3,84.4 121.2,84.9 121.2,85.4 121.2,85.9 121.2,86.4 121.3,86.9 121.3,87.4 121.3,87.9 121.2,88.4 121.2,88.9 121.2,89.4 121.2,89.9 121.2,90.4 121.2,90.9 121.2,91.4 121.3,91.9 121.3,92.4 121.3,92.9 121.3,93.4 121.3,93.9 121.4,94.4 121.4,94.8 121.4,95.1 121.4,95.6 121.4,95.9 121.3,96.4 121.3,96.9 121.3,97.4 121.3,97.9 121.3,98.4 121.3,98.9 121.3,99.4 121.3,99.9 121.3,100.4 121.3,100.9 121.2,101.4 121.2,101.9 121.1,102.4 121.1,102.6 121.1,103.1 120.9,103.6 120.8,103.9 120.6,104.2 120.4,104.5 120.1,104.7 119.6,104.9 119.4,104.9 118.9,105.0 118.4,105.0 117.9,105.0 117.4,105.1 116.9,105.1 116.6,105.1 116.1,105.2 115.6,105.2 115.1,105.3 114.6,105.3 114.1,105.3 113.6,105.3 113.1,105.3 112.6,105.3 112.1,105.2 111.6,105.1 111.1,105.1 110.6,105.2 110.1,105.2 109.6,105.3 109.1,105.4 108.9,105.4M109.7,96.6 110.0,96.4 110.1,96.1 110.2,95.6 110.1,95.4 109.9,95.1 109.4,94.9 108.9,95.0 108.6,95.1 108.4,95.4 108.3,95.9 108.3,96.4 108.5,96.6 108.9,96.8 109.4,96.8 109.7,96.6M115.6,104.9 115.1,104.9 114.6,104.9 114.1,104.9 113.6,104.9 113.1,104.9 112.9,104.9 112.4,104.8 111.9,104.7 111.4,104.7 110.9,104.7 110.4,104.7 109.9,104.8 109.4,104.9 109.1,104.9 108.6,104.9 108.1,105.0 107.6,105.0 107.1,105.0 106.6,105.0 106.1,105.0 105.6,105.0 105.1,105.0 104.6,105.0 104.1,105.0 103.6,104.9 103.4,104.9 102.9,104.7 102.6,104.6 102.4,104.4 102.1,104.1 101.9,103.7 101.7,103.4 101.6,102.9 101.6,102.6 101.6,102.1 101.6,101.6 101.6,101.2 101.7,100.9 101.9,100.4 102.0,100.1 102.2,99.9 102.5,99.6 102.9,99.4 103.1,99.3 103.6,99.2 104.1,99.2 104.6,99.2 105.1,99.2 105.6,99.1 105.9,99.1 106.4,99.0 106.9,98.9 107.3,98.9 107.6,98.8 108.1,98.7 108.6,98.7 109.1,98.7 109.6,98.6 109.9,98.6 110.4,98.5 110.9,98.4 111.2,98.4 111.6,98.3 112.1,98.3 112.6,98.4 112.9,98.4 113.4,98.6 113.6,98.6 114.1,98.7 114.6,98.6 114.9,98.5 115.1,98.1 115.2,97.9 115.2,97.4 115.1,97.0 115.0,96.6 114.9,96.2 114.7,95.9 114.6,95.6 114.4,95.2 114.3,94.9 114.2,94.4 114.2,93.9 114.4,93.4 114.4,93.1 114.5,92.6 114.5,92.1 114.5,91.6 114.4,91.1 114.4,90.8 114.3,90.4 114.1,89.9 114.0,89.6 113.9,89.2 113.7,88.9 113.6,88.6 113.5,88.1 113.4,87.9 113.1,87.4 112.9,87.1 112.6,87.0 112.4,86.9 111.9,86.7 111.6,86.6 111.1,86.4 110.9,86.3 110.6,86.1 110.1,85.9 109.9,85.8 109.4,85.8 109.1,85.9 108.8,86.1 108.6,86.4 108.4,86.7 108.1,87.1 107.9,87.4 107.8,87.6 107.6,87.9 107.5,88.4 107.5,88.9 107.6,89.4 107.7,89.6 107.9,89.9 108.1,90.2 108.4,90.5 108.6,90.9 108.6,91.2 108.6,91.6 108.6,91.9 108.4,92.2 108.1,92.4 107.7,92.6 107.4,92.7 106.9,92.8 106.4,92.8 106.0,92.6 105.8,92.4 105.6,92.1 105.4,91.8 105.1,91.5 104.9,91.2 104.6,91.0 104.4,90.7 104.1,90.5 103.9,90.3 103.6,90.1 103.4,89.8 103.1,89.4 103.1,89.1 103.1,88.6 103.1,88.3 103.2,87.9 103.3,87.4 103.2,86.9 103.1,86.6 102.9,86.1 102.8,85.9 102.7,85.4 102.7,84.9 102.6,84.5 102.6,84.1 102.5,83.6 102.5,83.1 102.6,82.6 102.7,82.4 102.9,81.9 103.0,81.6 103.2,81.4 103.4,81.1 103.6,80.6 103.8,80.4 103.9,80.1 104.1,79.6 104.2,79.4 104.4,79.1 104.6,78.8 105.0,78.6 105.4,78.5 105.9,78.5 106.4,78.6 106.7,78.6 107.1,78.8 107.4,79.0 107.6,79.2 107.9,79.6 108.0,79.9 108.2,80.1 108.4,80.4 108.6,80.7 108.9,80.9 109.4,80.9 109.6,80.7 109.9,80.4 110.1,80.1 110.3,79.9 110.5,79.6 110.7,79.4 110.9,79.1 111.1,78.9 111.4,78.6 111.8,78.4 112.1,78.2 112.6,78.1 113.1,78.3 113.4,78.4 113.6,78.8 113.7,79.1 113.6,79.6 113.6,79.9 113.4,80.3 113.2,80.6 113.1,80.9 112.9,81.3 112.7,81.6 112.6,81.9 112.4,82.4 112.4,82.9 112.6,83.4 112.8,83.6 113.1,83.9 113.4,84.1 113.6,84.1 113.9,84.1 114.3,83.9 114.5,83.6 114.7,83.4 114.9,82.9 114.9,82.6 115.0,82.1 115.0,81.6 115.0,81.1 115.0,80.6 114.9,80.1 114.9,79.7 114.8,79.4 114.7,78.9 114.7,78.4 114.7,77.9 114.8,77.4 114.8,76.9 114.9,76.4 114.9,76.1 114.9,75.6 115.0,75.1 115.1,74.6 115.1,74.4 115.2,73.9 115.2,73.4 115.2,72.9 115.2,72.4 115.2,71.9 115.2,71.4 115.0,71.1 114.8,70.9 114.4,70.7 114.1,70.6 113.6,70.6 113.1,70.6 112.9,70.6 112.4,70.7 111.9,70.8 111.4,70.8 110.9,70.8 110.4,70.9 109.9,70.9 109.6,70.9 109.1,70.9 108.6,70.9 108.3,70.9 107.9,70.8 107.4,70.8 106.9,70.7 106.4,70.7 105.9,70.6 105.4,70.6 104.9,70.7 104.4,70.7 103.9,70.8 103.4,70.8 102.9,70.8 102.4,70.8 101.9,70.8 101.4,70.8 100.9,70.8 100.4,70.8 99.9,70.7 99.4,70.7 99.0,70.6 98.6,70.6 98.1,70.6 97.6,70.6 97.1,70.6 96.6,70.6 96.1,70.6 95.6,70.6 95.1,70.5 94.6,70.5 94.1,70.5 93.6,70.5 93.1,70.5 92.6,70.5 92.1,70.5 91.6,70.5 91.1,70.5 90.6,70.6 90.1,70.5 89.6,70.4 89.4,70.4 88.9,70.1 88.6,70.0 88.4,69.8 88.1,69.6 87.9,69.3 87.6,69.1 87.4,68.8 87.1,68.6 86.6,68.4 86.4,68.4 85.9,68.3 85.4,68.2 85.1,68.1 84.8,67.9 84.5,67.6 84.3,67.4 84.4,66.9 84.6,66.8 85.0,66.6 85.4,66.5 85.9,66.4 86.2,66.4 86.6,66.3 87.0,66.1 87.4,66.0 87.7,65.9 88.1,65.7 88.4,65.6 88.9,65.4 89.2,65.4 89.6,65.3 90.1,65.3 90.6,65.3 91.1,65.4 91.4,65.4 91.9,65.4 92.4,65.4 92.9,65.4 93.4,65.4 93.9,65.4 94.4,65.4 94.9,65.4 95.4,65.4 95.9,65.4 96.4,65.4 96.9,65.4 97.1,65.4 97.6,65.3 98.1,65.3 98.6,65.3 99.1,65.3 99.6,65.3 100.1,65.3 100.6,65.3 101.1,65.3 101.6,65.3 102.1,65.3 102.6,65.3 103.1,65.3 103.6,65.3 104.1,65.4 104.4,65.4 104.9,65.4 105.4,65.4 105.9,65.4 106.4,65.4 106.6,65.4 107.1,65.4 107.6,65.3 108.1,65.3 108.6,65.3 109.1,65.4 109.4,65.4 109.9,65.4 110.4,65.5 110.9,65.5 111.4,65.6 111.9,65.6 112.4,65.5 112.9,65.5 113.4,65.5 113.9,65.5 114.4,65.5 114.9,65.5 115.4,65.5 115.9,65.5 116.4,65.5 116.9,65.5 117.4,65.5 117.9,65.5 118.4,65.5 118.9,65.5 119.4,65.6 119.6,65.6 120.1,65.9 120.4,66.0 120.6,66.2 120.9,66.6 121.0,66.9 121.1,67.3 121.2,67.6 121.2,68.1 121.1,68.4 121.1,68.9 121.0,69.4 120.9,69.9 120.9,70.4 120.9,70.9 121.0,71.4 121.0,71.9 121.0,72.4 121.0,72.9 121.0,73.4 121.0,73.9 121.0,74.4 120.9,74.9 120.9,75.4 120.9,75.9 120.9,76.1 120.9,76.6 120.9,76.9 120.9,77.4 120.9,77.9 121.0,78.4 121.0,78.9 121.0,79.4 121.0,79.9 121.0,80.4 121.0,80.9 121.0,81.4 121.0,81.9 121.1,82.4 121.1,82.9 121.1,83.4 121.0,83.9 121.0,84.4 120.9,84.9 120.9,85.4 120.9,85.9 120.9,86.4 120.9,86.9 120.9,87.4 120.9,87.9 120.9,88.4 120.9,88.9 120.9,89.3 120.9,89.6 120.9,90.1 120.9,90.5 120.9,90.9 120.9,91.4 121.0,91.9 121.0,92.4 121.0,92.9 121.0,93.4 121.0,93.9 121.0,94.4 121.0,94.9 121.0,95.4 121.0,95.9 121.0,96.4 120.9,96.9 120.9,97.4 120.9,97.9 121.0,98.4 121.0,98.9 121.0,99.4 121.0,99.9 121.0,100.4 121.0,100.9 120.9,101.4 120.9,101.9 120.9,102.1 120.8,102.6 120.7,103.1 120.6,103.4 120.4,103.9 120.2,104.1 119.9,104.4 119.6,104.5 119.1,104.6 118.9,104.7 118.4,104.7 117.9,104.7 117.4,104.7 116.9,104.8 116.4,104.8 115.9,104.9 115.6,104.9M66.6,103.9 66.1,104.0 65.6,104.0 65.1,103.9 64.9,103.8 64.5,103.6 64.1,103.4 63.9,103.3 63.6,103.1 63.4,102.9 63.0,102.6 62.6,102.4 62.4,102.2 62.1,102.1 61.6,101.9 61.4,101.8 61.1,101.6 60.7,101.4 60.5,101.1 60.3,100.9 60.1,100.6 59.9,100.1 59.9,99.9 59.8,99.4 59.7,98.9 59.7,98.4 59.7,97.9 59.7,97.4 59.7,96.9 59.6,96.4 59.6,96.1 59.5,95.6 59.5,95.1 59.4,94.6 59.4,94.1 59.4,93.6 59.4,93.1 59.4,92.6 59.4,92.1 59.4,91.6 59.4,91.1 59.4,90.6 59.4,90.1 59.4,89.9 59.3,89.4 59.3,88.9 59.3,88.4 59.3,87.9 59.4,87.4 59.4,87.1 59.4,86.6 59.4,86.1 59.5,85.6 59.5,85.1 59.5,84.6 59.5,84.1 59.5,83.6 59.5,83.1 59.5,82.6 59.5,82.1 59.5,81.6 59.6,81.1 59.6,80.6 59.6,80.1 59.6,79.6 59.6,79.1 59.5,78.6 59.5,78.1 59.5,77.6 59.5,77.1 59.5,76.6 59.4,76.1 59.4,75.6 59.5,75.1 59.5,74.6 59.5,74.1 59.5,73.6 59.4,73.1 59.4,72.8 59.3,72.4 59.2,71.9 59.2,71.4 59.1,70.9 59.1,70.6 59.1,70.1 59.1,69.6 59.1,69.1 59.1,68.6 59.1,68.4 59.3,67.9 59.4,67.6 59.6,67.1 59.9,66.9 60.1,66.7 60.4,66.5 60.6,66.4 61.1,66.2 61.6,66.2 62.1,66.2 62.6,66.3 62.9,66.4 63.4,66.4 63.9,66.5 64.4,66.5 64.9,66.5 65.4,66.6 65.6,66.7 65.9,66.9 66.1,67.2 66.2,67.6 66.1,68.1 66.0,68.4 65.9,68.9 65.8,69.1 65.8,69.6 65.8,70.1 65.8,70.6 65.8,71.1 65.8,71.6 65.7,72.1 65.7,72.6 65.7,73.1 65.7,73.6 65.7,74.1 65.8,74.6 65.8,75.1 65.8,75.6 65.8,76.1 65.8,76.6 65.9,77.1 65.9,77.4 65.9,77.9 65.9,78.4 65.9,78.6 65.8,79.1 65.8,79.6 65.7,80.1 65.7,80.6 65.7,81.1 65.7,81.6 65.8,82.1 65.8,82.6 65.8,83.1 65.7,83.6 65.7,84.1 65.6,84.4 65.6,84.9 65.6,85.4 65.6,85.7 65.7,86.1 65.8,86.6 65.8,87.1 65.9,87.6 65.9,87.9 65.9,88.4 66.0,88.9 66.0,89.4 66.0,89.9 66.0,90.4 66.0,90.9 65.9,91.4 65.9,91.9 66.0,92.4 66.0,92.9 66.1,93.3 66.2,93.6 66.3,94.1 66.4,94.6 66.4,94.9 66.4,95.4 66.4,95.6 66.3,96.1 66.1,96.6 66.1,96.9 66.1,97.3 66.3,97.6 66.6,97.9 66.9,98.0 67.1,98.2 67.4,98.4 67.7,98.6 68.0,98.9 68.1,99.1 68.4,99.6 68.5,99.9 68.6,100.4 68.6,100.6 68.7,101.1 68.6,101.6 68.6,101.9 68.4,102.4 68.3,102.6 68.1,102.9 67.9,103.2 67.6,103.4 67.3,103.6 66.9,103.8 66.6,103.9M118.1,104.4 117.6,104.4 117.1,104.4 116.6,104.5 116.1,104.5 115.6,104.6 115.1,104.6 114.6,104.6 114.1,104.6 113.6,104.6 113.1,104.5 112.6,104.5 112.1,104.4 111.9,104.3 111.4,104.3 110.9,104.3 110.4,104.3 110.0,104.4 109.6,104.4 109.1,104.5 108.6,104.5 108.1,104.5 107.6,104.6 107.1,104.6 106.6,104.6 106.1,104.6 105.6,104.6 105.1,104.6 104.6,104.6 104.1,104.6 103.6,104.5 103.2,104.4 102.9,104.2 102.6,104.0 102.4,103.7 102.2,103.4 102.1,103.1 102.1,102.6 102.0,102.1 102.0,101.6 102.1,101.1 102.2,100.9 102.4,100.5 102.6,100.2 102.9,100.0 103.3,99.9 103.6,99.8 104.1,99.7 104.6,99.7 105.1,99.7 105.6,99.7 106.1,99.6 106.4,99.6 106.9,99.5 107.4,99.4 107.9,99.4 108.1,99.4 108.6,99.3 109.1,99.3 109.6,99.3 110.1,99.3 110.6,99.3 111.1,99.3 111.6,99.2 112.1,99.2 112.6,99.2 113.1,99.3 113.6,99.3 114.1,99.3 114.6,99.3 115.1,99.1 115.4,98.9 115.6,98.6 115.7,98.4 115.8,97.9 115.8,97.4 115.7,96.9 115.6,96.4 115.6,96.1 115.5,95.6 115.4,95.1 115.4,94.6 115.4,94.1 115.5,93.6 115.5,93.1 115.5,92.6 115.5,92.1 115.5,91.6 115.5,91.1 115.5,90.6 115.4,90.1 115.4,89.8 115.3,89.4 115.2,88.9 115.1,88.4 115.1,88.1 115.0,87.6 114.9,87.1 114.9,86.7 114.8,86.4 114.8,85.9 114.8,85.4 114.9,85.1 115.0,84.6 115.1,84.4 115.3,83.9 115.4,83.5 115.4,83.1 115.5,82.6 115.6,82.1 115.6,81.6 115.6,81.1 115.6,80.6 115.6,80.1 115.6,79.6 115.6,79.1 115.6,78.6 115.6,78.1 115.6,77.6 115.6,77.1 115.5,76.6 115.6,76.1 115.6,75.6 115.6,75.4 115.7,74.9 115.8,74.4 115.8,73.9 115.8,73.4 115.8,72.9 115.8,72.4 115.8,71.9 115.8,71.4 115.7,70.9 115.5,70.6 115.2,70.4 114.9,70.2 114.6,70.1 114.1,70.0 113.6,70.0 113.1,70.1 112.6,70.1 112.4,70.1 111.9,70.2 111.4,70.2 110.9,70.2 110.4,70.3 109.9,70.3 109.4,70.3 108.9,70.3 108.4,70.3 107.9,70.3 107.4,70.3 106.9,70.2 106.4,70.2 105.9,70.1 105.6,70.1 105.1,70.1 104.8,70.1 104.4,70.2 103.9,70.2 103.4,70.3 102.9,70.3 102.4,70.3 101.9,70.3 101.4,70.3 100.9,70.3 100.4,70.3 99.9,70.3 99.4,70.3 98.9,70.2 98.4,70.2 97.9,70.2 97.4,70.2 96.9,70.2 96.4,70.2 95.9,70.2 95.4,70.1 95.1,70.1 94.6,70.1 94.1,70.1 93.6,70.1 93.1,70.1 92.6,70.1 92.1,70.1 91.9,70.1 91.4,70.2 90.9,70.2 90.4,70.2 90.0,70.1 89.6,70.0 89.2,69.9 88.9,69.7 88.6,69.4 88.4,69.2 88.2,68.9 88.0,68.6 87.8,68.4 87.6,67.9 87.5,67.6 87.5,67.1 87.6,66.8 87.9,66.5 88.1,66.2 88.4,66.1 88.8,65.9 89.1,65.8 89.6,65.7 90.1,65.6 90.6,65.7 91.1,65.7 91.6,65.7 92.1,65.8 92.6,65.8 93.1,65.8 93.6,65.7 94.1,65.7 94.6,65.7 95.1,65.8 95.6,65.8 96.1,65.8 96.6,65.8 97.1,65.7 97.6,65.7 98.0,65.6 98.4,65.6 98.9,65.6 99.4,65.6 99.9,65.6 100.1,65.6 100.6,65.6 100.9,65.6 101.4,65.6 101.9,65.6 102.4,65.6 102.9,65.6 103.4,65.6 103.6,65.6 104.1,65.7 104.6,65.7 105.1,65.7 105.6,65.7 106.1,65.7 106.6,65.7 107.1,65.7 107.6,65.7 108.1,65.7 108.6,65.7 109.1,65.7 109.6,65.8 110.1,65.8 110.6,65.9 110.9,65.9 111.4,65.9 111.9,65.9 112.4,65.9 112.9,65.9 113.1,65.9 113.6,65.8 114.1,65.8 114.6,65.8 115.1,65.8 115.6,65.8 116.1,65.8 116.6,65.8 117.1,65.8 117.6,65.8 118.1,65.8 118.6,65.8 119.1,65.9 119.4,65.9 119.9,66.1 120.1,66.3 120.4,66.5 120.6,66.9 120.7,67.1 120.8,67.6 120.8,68.1 120.8,68.6 120.7,69.1 120.6,69.4 120.6,69.9 120.6,70.4 120.6,70.9 120.6,71.2 120.7,71.6 120.7,72.1 120.7,72.6 120.7,73.1 120.7,73.6 120.7,74.1 120.6,74.6 120.6,74.9 120.6,75.4 120.5,75.9 120.5,76.4 120.5,76.9 120.6,77.4 120.6,77.9 120.6,78.1 120.7,78.6 120.7,79.1 120.7,79.6 120.6,80.1 120.7,80.6 120.7,81.1 120.7,81.6 120.8,82.1 120.8,82.6 120.8,83.1 120.8,83.6 120.7,84.1 120.7,84.6 120.6,85.0 120.6,85.4 120.6,85.9 120.6,86.4 120.6,86.9 120.6,87.4 120.6,87.9 120.6,88.4 120.6,88.9 120.5,89.4 120.5,89.9 120.5,90.4 120.6,90.9 120.6,91.4 120.6,91.6 120.7,92.1 120.7,92.6 120.7,93.1 120.7,93.6 120.7,94.1 120.7,94.6 120.7,95.1 120.7,95.6 120.6,96.1 120.6,96.4 120.6,96.9 120.6,97.4 120.6,97.9 120.6,98.1 120.7,98.6 120.7,99.1 120.7,99.6 120.7,100.1 120.7,100.6 120.7,101.1 120.6,101.6 120.6,101.9 120.5,102.4 120.4,102.9 120.4,103.1 120.1,103.6 119.9,103.9 119.6,104.1 119.4,104.2 118.9,104.3 118.4,104.4 118.1,104.4M66.1,103.6 65.6,103.6 65.4,103.6 64.9,103.4 64.6,103.3 64.3,103.1 63.9,102.9 63.6,102.6 63.4,102.4 63.1,102.2 62.9,102.1 62.4,101.9 62.1,101.7 61.8,101.6 61.4,101.4 61.1,101.2 60.9,101.0 60.6,100.7 60.4,100.4 60.3,100.1 60.2,99.6 60.1,99.2 60.1,98.9 60.1,98.4 60.1,97.9 60.1,97.4 60.1,96.9 60.0,96.4 59.9,95.9 59.9,95.4 59.8,95.1 59.8,94.6 59.8,94.1 59.8,93.6 59.8,93.1 59.8,92.6 59.8,92.1 59.8,91.6 59.8,91.1 59.8,90.6 59.7,90.1 59.7,89.6 59.7,89.1 59.6,88.6 59.6,88.1 59.7,87.6 59.7,87.1 59.7,86.6 59.8,86.1 59.8,85.6 59.8,85.1 59.8,84.6 59.9,84.1 59.9,83.6 59.9,83.1 59.9,82.6 59.9,82.1 59.9,81.6 59.9,81.3 59.9,80.9 59.9,80.4 59.9,79.9 59.9,79.4 59.9,78.9 59.9,78.4 59.9,78.1 59.9,77.6 59.8,77.1 59.8,76.6 59.8,76.1 59.8,75.6 59.9,75.1 59.9,74.9 59.9,74.4 59.9,73.9 59.9,73.4 59.9,73.0 59.8,72.6 59.7,72.1 59.7,71.6 59.6,71.4 59.6,70.9 59.5,70.4 59.5,69.9 59.5,69.4 59.6,68.9 59.7,68.6 59.9,68.3 60.1,68.0 60.4,67.8 60.6,67.6 61.1,67.4 61.4,67.4 61.9,67.3 62.3,67.4 62.6,67.4 63.1,67.5 63.6,67.6 63.9,67.7 64.2,67.9 64.5,68.1 64.7,68.4 64.9,68.8 65.0,69.1 65.1,69.6 65.2,69.9 65.2,70.4 65.3,70.9 65.3,71.4 65.3,71.9 65.2,72.4 65.2,72.9 65.2,73.4 65.2,73.9 65.2,74.4 65.3,74.9 65.3,75.4 65.3,75.9 65.3,76.4 65.3,76.9 65.3,77.4 65.3,77.9 65.3,78.4 65.3,78.9 65.3,79.4 65.2,79.9 65.2,80.4 65.2,80.9 65.2,81.4 65.2,81.9 65.2,82.4 65.2,82.9 65.2,83.4 65.2,83.9 65.1,84.3 65.1,84.6 65.1,85.1 65.1,85.5 65.2,85.9 65.2,86.4 65.3,86.9 65.3,87.4 65.3,87.9 65.4,88.4 65.4,88.6 65.4,89.1 65.5,89.6 65.5,90.1 65.5,90.6 65.4,91.1 65.4,91.6 65.4,92.1 65.4,92.6 65.5,93.1 65.5,93.6 65.6,94.1 65.6,94.6 65.6,95.1 65.5,95.6 65.5,96.1 65.4,96.6 65.3,96.9 65.3,97.4 65.4,97.8 65.6,98.1 65.9,98.3 66.1,98.4 66.6,98.6 66.9,98.7 67.2,98.9 67.5,99.1 67.7,99.4 67.9,99.6 68.1,100.1 68.2,100.4 68.3,100.9 68.3,101.4 68.2,101.9 68.1,102.1 67.9,102.6 67.6,102.9 67.4,103.1 67.1,103.3 66.9,103.4 66.4,103.6 66.1,103.6M116.9,104.1 116.4,104.2 115.9,104.2 115.4,104.3 114.9,104.3 114.4,104.3 113.9,104.3 113.4,104.2 112.9,104.1 112.6,104.1 112.1,104.0 111.6,103.9 111.4,103.9 110.9,103.8 110.4,103.9 110.1,103.9 109.6,104.0 109.1,104.1 108.6,104.1 108.1,104.1 107.9,104.1 107.4,104.1 106.9,104.2 106.4,104.2 105.9,104.2 105.4,104.2 104.9,104.2 104.4,104.2 103.9,104.1 103.6,104.1 103.2,103.9 102.9,103.6 102.7,103.4 102.6,103.1 102.5,102.6 102.5,102.1 102.5,101.6 102.6,101.3 102.8,100.9 103.0,100.6 103.4,100.4 103.6,100.3 104.1,100.2 104.6,100.2 105.1,100.2 105.6,100.1 105.9,100.1 106.4,100.0 106.9,100.0 107.4,99.9 107.6,99.9 108.1,99.8 108.6,99.8 109.1,99.8 109.6,99.8 110.1,99.8 110.6,99.8 111.1,99.8 111.6,99.8 112.1,99.8 112.6,99.8 113.1,99.8 113.6,99.8 114.1,99.8 114.6,99.8 115.1,99.7 115.4,99.5 115.6,99.3 115.9,99.0 116.1,98.6 116.1,98.4 116.2,97.9 116.2,97.4 116.2,96.9 116.1,96.5 116.1,96.1 116.0,95.6 116.0,95.1 116.0,94.6 116.0,94.1 116.0,93.6 116.1,93.1 116.1,92.6 116.1,92.2 116.1,91.9 116.2,91.4 116.2,90.9 116.1,90.6 116.1,90.1 115.9,89.6 115.9,89.2 115.8,88.9 115.8,88.4 115.7,87.9 115.7,87.4 115.6,86.9 115.6,86.6 115.6,86.1 115.6,85.6 115.6,85.1 115.6,84.9 115.7,84.4 115.8,83.9 115.9,83.4 115.9,83.1 115.9,82.6 116.0,82.1 116.0,81.6 116.0,81.1 116.0,80.6 116.0,80.1 116.1,79.6 116.1,79.1 116.1,78.6 116.1,78.1 116.1,77.6 116.0,77.1 116.0,76.6 116.0,76.1 116.1,75.6 116.1,75.2 116.2,74.9 116.2,74.4 116.3,73.9 116.3,73.4 116.3,72.9 116.3,72.4 116.3,71.9 116.3,71.4 116.2,70.9 116.1,70.6 115.9,70.3 115.6,70.0 115.4,69.9 114.9,69.7 114.6,69.6 114.1,69.6 113.6,69.5 113.1,69.6 112.6,69.6 112.4,69.6 111.9,69.7 111.4,69.7 110.9,69.7 110.4,69.8 109.9,69.8 109.4,69.8 108.9,69.8 108.4,69.8 107.9,69.8 107.4,69.8 106.9,69.8 106.4,69.7 105.9,69.7 105.4,69.6 105.1,69.6 104.9,69.6 104.4,69.7 103.9,69.7 103.4,69.8 102.9,69.8 102.5,69.9 102.1,69.9 101.6,69.9 101.1,70.0 100.6,70.0 100.1,69.9 99.6,69.9 99.3,69.9 98.9,69.8 98.4,69.8 97.9,69.8 97.4,69.8 96.9,69.8 96.4,69.8 95.9,69.8 95.4,69.7 94.9,69.7 94.4,69.6 93.9,69.6 93.6,69.6 93.3,69.6 92.9,69.6 92.4,69.7 91.9,69.7 91.4,69.8 90.9,69.8 90.4,69.8 89.9,69.7 89.6,69.6 89.2,69.4 88.9,69.1 88.7,68.9 88.5,68.6 88.4,68.3 88.2,67.9 88.2,67.4 88.3,66.9 88.5,66.6 88.8,66.4 89.1,66.2 89.4,66.1 89.9,66.0 90.4,66.0 90.9,66.1 91.4,66.1 91.6,66.1 92.1,66.1 92.6,66.1 93.1,66.1 93.4,66.1 93.9,66.1 94.4,66.1 94.9,66.1 95.1,66.1 95.6,66.2 96.1,66.2 96.6,66.2 96.9,66.1 97.4,66.1 97.9,66.0 98.4,66.0 98.9,65.9 99.4,66.0 99.9,66.0 100.4,66.0 100.9,66.0 101.4,65.9 101.9,65.9 102.4,65.9 102.9,65.9 103.4,65.9 103.9,66.0 104.4,66.0 104.9,66.0 105.4,66.0 105.9,66.0 106.4,66.0 106.9,66.0 107.4,66.0 107.9,66.0 108.4,66.0 108.9,66.1 109.4,66.1 109.6,66.1 110.1,66.2 110.6,66.2 111.1,66.3 111.6,66.3 112.1,66.3 112.6,66.3 113.1,66.3 113.6,66.2 114.1,66.2 114.6,66.1 114.9,66.1 115.4,66.1 115.9,66.1 116.4,66.1 116.9,66.1 117.4,66.1 117.9,66.1 118.4,66.1 118.6,66.1 119.1,66.2 119.5,66.4 119.9,66.6 120.1,66.8 120.3,67.1 120.4,67.4 120.5,67.9 120.4,68.4 120.4,68.6 120.3,69.1 120.2,69.6 120.2,70.1 120.2,70.6 120.3,71.1 120.3,71.6 120.4,72.1 120.4,72.4 120.4,72.9 120.4,73.4 120.4,73.6 120.3,74.1 120.3,74.6 120.2,75.1 120.2,75.6 120.2,76.1 120.2,76.6 120.2,77.1 120.2,77.6 120.3,78.1 120.3,78.6 120.3,79.1 120.3,79.6 120.3,80.1 120.3,80.6 120.4,81.1 120.4,81.4 120.5,81.9 120.5,82.4 120.5,82.9 120.5,83.4 120.5,83.9 120.4,84.4 120.4,84.6 120.3,85.1 120.2,85.6 120.2,86.1 120.2,86.6 120.2,87.1 120.2,87.6 120.2,88.1 120.2,88.6 120.2,89.1 120.2,89.6 120.2,90.1 120.2,90.6 120.3,91.1 120.3,91.6 120.4,92.1 120.4,92.6 120.4,92.9 120.4,93.1 120.4,93.6 120.3,94.1 120.3,94.6 120.3,95.1 120.3,95.6 120.3,96.1 120.2,96.6 120.2,97.1 120.3,97.6 120.3,98.1 120.4,98.6 120.4,98.9 120.4,99.4 120.5,99.9 120.4,100.4 120.4,100.9 120.4,101.2 120.3,101.6 120.3,102.1 120.2,102.6 120.1,102.9 119.9,103.4 119.7,103.6 119.4,103.8 119.1,103.9 118.6,104.0 118.1,104.1 117.6,104.1 117.1,104.1 116.9,104.1M66.6,103.2 66.1,103.3 65.6,103.3 65.1,103.2 64.9,103.1 64.5,102.9 64.2,102.6 63.9,102.4 63.6,102.2 63.4,102.0 63.1,101.8 62.8,101.6 62.4,101.5 62.1,101.4 61.6,101.1 61.4,101.0 61.1,100.8 60.9,100.5 60.7,100.1 60.6,99.9 60.5,99.4 60.4,98.9 60.4,98.4 60.4,97.9 60.4,97.4 60.4,96.9 60.4,96.6 60.3,96.1 60.2,95.6 60.2,95.1 60.2,94.6 60.1,94.1 60.1,93.6 60.2,93.1 60.2,92.6 60.2,92.1 60.1,91.6 60.1,91.1 60.1,90.6 60.1,90.4 60.1,89.9 60.0,89.4 60.0,88.9 59.9,88.4 59.9,87.9 60.0,87.4 60.0,86.9 60.1,86.4 60.1,85.9 60.1,85.6 60.2,85.1 60.2,84.6 60.2,84.1 60.2,83.6 60.2,83.1 60.2,82.6 60.2,82.1 60.2,81.6 60.2,81.1 60.2,80.6 60.2,80.1 60.2,79.6 60.2,79.1 60.2,78.6 60.2,78.1 60.2,77.6 60.2,77.1 60.2,76.6 60.2,76.1 60.2,75.6 60.3,75.1 60.3,74.6 60.4,74.1 60.4,73.9 60.4,73.4 60.4,73.1 60.3,72.6 60.2,72.1 60.1,71.9 60.0,71.4 59.9,70.9 59.9,70.4 59.9,69.9 60.0,69.4 60.1,69.0 60.4,68.7 60.6,68.4 60.9,68.3 61.3,68.1 61.6,68.1 62.1,68.0 62.6,68.1 62.9,68.1 63.4,68.3 63.6,68.4 63.9,68.6 64.2,68.9 64.4,69.1 64.6,69.6 64.7,69.9 64.8,70.4 64.9,70.9 64.9,71.1 64.9,71.6 64.9,71.9 64.8,72.4 64.8,72.9 64.8,73.4 64.8,73.9 64.8,74.4 64.9,74.9 64.9,75.3 64.9,75.5 64.9,75.9 64.9,76.4 64.8,76.9 64.9,77.4 64.9,77.8 64.9,78.1 64.9,78.6 64.9,79.1 64.9,79.4 64.8,79.9 64.8,80.4 64.8,80.9 64.7,81.4 64.7,81.9 64.7,82.4 64.7,82.9 64.7,83.4 64.7,83.9 64.7,84.4 64.7,84.9 64.7,85.4 64.8,85.9 64.8,86.4 64.8,86.9 64.9,87.4 64.9,87.8 64.9,88.1 65.0,88.6 65.0,89.1 65.0,89.6 65.1,90.1 65.1,90.6 65.0,91.1 65.0,91.6 65.0,92.1 65.0,92.6 65.0,93.1 65.0,93.6 65.0,94.1 65.0,94.6 65.0,95.1 65.0,95.6 64.9,96.1 64.9,96.4 64.8,96.9 64.7,97.4 64.8,97.9 64.9,98.2 65.1,98.5 65.4,98.7 65.9,98.9 66.1,99.0 66.6,99.1 66.9,99.2 67.1,99.4 67.4,99.6 67.6,100.0 67.8,100.4 67.9,100.8 67.9,101.1 67.9,101.4 67.8,101.9 67.6,102.2 67.4,102.6 67.1,102.9 66.9,103.0 66.6,103.2M116.1,103.9 115.6,103.9 115.1,104.0 114.6,104.0 114.1,104.0 113.6,103.9 113.3,103.9 112.9,103.8 112.4,103.7 112.1,103.6 111.6,103.4 111.3,103.4 110.9,103.3 110.5,103.4 110.1,103.4 109.6,103.5 109.1,103.6 108.9,103.6 108.4,103.7 107.9,103.7 107.4,103.7 106.9,103.7 106.4,103.8 105.9,103.8 105.4,103.8 104.9,103.8 104.4,103.7 103.9,103.6 103.6,103.5 103.4,103.3 103.2,102.9 103.1,102.6 103.1,102.1 103.2,101.9 103.3,101.4 103.5,101.1 103.9,100.9 104.1,100.8 104.6,100.7 105.1,100.6 105.4,100.6 105.9,100.5 106.4,100.5 106.9,100.4 107.1,100.4 107.6,100.3 108.1,100.2 108.6,100.2 109.1,100.2 109.6,100.2 110.1,100.3 110.6,100.3 111.1,100.3 111.6,100.3 112.1,100.2 112.6,100.2 113.1,100.2 113.6,100.2 114.1,100.2 114.6,100.2 114.9,100.1 115.4,100.0 115.6,99.9 115.9,99.6 116.1,99.4 116.4,98.9 116.5,98.6 116.5,98.1 116.6,97.6 116.6,97.1 116.6,96.6 116.5,96.1 116.5,95.6 116.5,95.1 116.5,94.6 116.5,94.1 116.5,93.6 116.6,93.1 116.6,92.6 116.6,92.4 116.7,91.9 116.7,91.4 116.7,90.9 116.6,90.4 116.6,90.1 116.4,89.6 116.4,89.3 116.3,88.9 116.2,88.4 116.2,87.9 116.2,87.4 116.2,86.9 116.1,86.4 116.1,86.1 116.1,85.6 116.1,85.1 116.1,84.6 116.1,84.4 116.2,83.9 116.2,83.4 116.3,82.9 116.3,82.4 116.3,81.9 116.3,81.4 116.4,80.9 116.4,80.6 116.4,80.1 116.4,79.6 116.5,79.1 116.5,78.6 116.5,78.1 116.5,77.6 116.4,77.1 116.4,76.6 116.4,76.1 116.5,75.6 116.6,75.1 116.6,74.6 116.7,74.4 116.7,73.9 116.7,73.4 116.7,72.9 116.7,72.4 116.7,71.9 116.7,71.4 116.7,70.9 116.6,70.5 116.4,70.1 116.2,69.9 115.9,69.6 115.6,69.5 115.3,69.4 114.9,69.2 114.4,69.1 114.1,69.1 113.6,69.0 113.1,69.0 112.6,69.1 112.4,69.1 111.9,69.2 111.4,69.2 110.9,69.2 110.4,69.3 109.9,69.3 109.4,69.3 108.9,69.3 108.4,69.4 107.9,69.4 107.4,69.4 106.9,69.3 106.4,69.3 105.9,69.2 105.4,69.2 104.9,69.2 104.4,69.2 103.9,69.3 103.4,69.3 103.1,69.4 102.6,69.4 102.1,69.5 101.6,69.5 101.1,69.6 100.6,69.6 100.1,69.6 99.6,69.5 99.1,69.5 98.6,69.4 98.1,69.4 97.6,69.4 97.1,69.4 96.6,69.4 96.4,69.4 95.9,69.3 95.4,69.3 94.9,69.2 94.4,69.1 94.1,69.1 93.6,69.1 93.1,69.1 92.7,69.1 92.4,69.2 91.9,69.3 91.4,69.3 91.1,69.4 90.6,69.4 90.1,69.4 89.9,69.3 89.5,69.1 89.2,68.9 89.0,68.6 88.9,68.4 88.7,67.9 88.7,67.4 88.9,67.0 89.1,66.7 89.4,66.5 89.9,66.4 90.4,66.4 90.9,66.5 91.4,66.5 91.9,66.6 92.4,66.6 92.9,66.6 93.4,66.6 93.9,66.5 94.4,66.5 94.9,66.5 95.4,66.6 95.6,66.6 96.1,66.7 96.6,66.6 96.9,66.6 97.4,66.5 97.9,66.4 98.1,66.4 98.6,66.3 99.1,66.3 99.6,66.3 100.1,66.4 100.6,66.3 101.1,66.3 101.6,66.3 102.1,66.2 102.6,66.2 103.1,66.2 103.6,66.3 104.1,66.3 104.6,66.3 105.1,66.4 105.6,66.4 106.1,66.4 106.6,66.4 107.1,66.4 107.6,66.4 107.9,66.4 108.4,66.4 108.9,66.5 109.4,66.5 109.9,66.6 110.3,66.6 110.6,66.7 111.1,66.7 111.6,66.8 112.1,66.8 112.6,66.8 113.1,66.8 113.6,66.7 114.0,66.6 114.4,66.6 114.9,66.5 115.4,66.4 115.9,66.4 116.4,66.4 116.9,66.4 117.4,66.4 117.9,66.4 118.4,66.5 118.9,66.5 119.1,66.6 119.6,66.9 119.8,67.1 119.9,67.4 120.0,67.9 120.0,68.4 119.9,68.9 119.8,69.1 119.7,69.6 119.7,70.1 119.8,70.6 119.9,71.1 119.9,71.4 120.0,71.9 120.0,72.4 120.0,72.9 120.0,73.4 120.0,73.9 119.9,74.4 119.9,74.9 119.9,75.1 119.8,75.6 119.8,76.1 119.8,76.6 119.8,77.1 119.9,77.6 119.9,77.9 120.0,78.4 120.0,78.9 120.0,79.4 120.0,79.9 120.0,80.4 120.0,80.9 120.1,81.4 120.1,81.6 120.2,82.1 120.3,82.6 120.3,83.1 120.2,83.6 120.2,84.1 120.1,84.4 120.0,84.9 119.9,85.4 119.8,85.6 119.8,86.1 119.7,86.6 119.7,87.1 119.8,87.6 119.8,88.1 119.8,88.6 119.8,89.1 119.8,89.6 119.8,90.1 119.8,90.6 119.9,91.0 119.9,91.4 120.0,91.9 120.0,92.4 120.0,92.9 120.0,93.4 120.0,93.9 119.9,94.4 119.9,94.9 119.9,95.4 119.9,95.6 119.8,96.1 119.8,96.6 119.8,97.1 119.9,97.4 120.0,97.9 120.0,98.4 120.1,98.9 120.2,99.1 120.2,99.6 120.2,100.1 120.2,100.6 120.1,100.9 120.1,101.4 120.0,101.9 119.9,102.4 119.8,102.6 119.6,103.1 119.4,103.4 119.1,103.5 118.9,103.6 118.4,103.7 117.9,103.8 117.4,103.8 116.9,103.8 116.4,103.9 116.1,103.9M66.1,102.9 65.6,102.9 65.4,102.9 64.9,102.7 64.6,102.5 64.4,102.3 64.1,102.1 63.9,101.9 63.5,101.6 63.1,101.4 62.9,101.3 62.4,101.1 62.1,101.0 61.8,100.9 61.5,100.6 61.2,100.4 61.1,100.1 60.9,99.7 60.8,99.4 60.8,98.9 60.8,98.4 60.8,97.9 60.7,97.4 60.7,96.9 60.7,96.4 60.6,96.1 60.6,95.6 60.5,95.1 60.5,94.6 60.5,94.1 60.5,93.6 60.5,93.1 60.5,92.6 60.5,92.1 60.5,91.6 60.4,91.1 60.4,90.6 60.4,90.1 60.4,89.8 60.3,89.4 60.3,88.9 60.2,88.4 60.2,87.9 60.2,87.4 60.3,86.9 60.3,86.4 60.4,86.0 60.4,85.6 60.5,85.1 60.5,84.6 60.5,84.1 60.5,83.6 60.5,83.1 60.5,82.6 60.5,82.1 60.5,81.6 60.5,81.1 60.4,80.6 60.5,80.1 60.5,79.6 60.5,79.1 60.5,78.6 60.5,78.1 60.5,77.6 60.5,77.1 60.5,76.6 60.6,76.1 60.6,75.6 60.6,75.4 60.7,74.9 60.8,74.4 60.9,74.0 60.9,73.6 60.9,73.2 60.8,72.9 60.7,72.4 60.6,72.1 60.5,71.6 60.4,71.3 60.3,70.9 60.3,70.4 60.3,69.9 60.4,69.5 60.6,69.1 60.8,68.9 61.1,68.7 61.4,68.6 61.9,68.5 62.4,68.5 62.8,68.6 63.1,68.7 63.4,68.9 63.8,69.1 64.0,69.4 64.2,69.6 64.4,70.1 64.4,70.4 64.5,70.9 64.6,71.4 64.5,71.9 64.5,72.4 64.4,72.9 64.4,73.4 64.4,73.9 64.4,74.4 64.5,74.9 64.5,75.4 64.5,75.9 64.5,76.4 64.4,76.9 64.4,77.4 64.5,77.9 64.5,78.4 64.5,78.9 64.5,79.4 64.5,79.9 64.4,80.4 64.4,80.9 64.4,81.2 64.3,81.6 64.3,82.1 64.3,82.6 64.3,83.1 64.3,83.6 64.3,84.1 64.3,84.6 64.4,85.1 64.4,85.4 64.4,85.9 64.5,86.4 64.5,86.9 64.5,87.4 64.5,87.9 64.6,88.4 64.6,88.9 64.7,89.1 64.7,89.6 64.7,90.1 64.7,90.6 64.7,91.1 64.6,91.6 64.6,91.9 64.6,92.4 64.6,92.9 64.6,93.4 64.6,93.9 64.6,94.4 64.6,94.9 64.5,95.4 64.5,95.9 64.4,96.4 64.4,96.6 64.3,97.1 64.2,97.6 64.3,98.1 64.4,98.4 64.6,98.7 64.9,99.0 65.2,99.1 65.6,99.3 66.0,99.4 66.4,99.5 66.7,99.6 67.0,99.9 67.2,100.1 67.4,100.4 67.5,100.9 67.5,101.4 67.4,101.8 67.2,102.1 67.1,102.4 66.8,102.6 66.4,102.8 66.1,102.9" stroke="#111" stroke-width=".45" fill="none" stroke-linejoin="round"/>
<path d="M62.2,70.5 L63.4,99.3" stroke="#111" stroke-width="4.6" stroke-linecap="round" fill="none"/>
<path d="M62.5,72.5 L63.2,97.5" stroke="#ccc" stroke-width="0.6" fill="none"/>
<circle cx="65.8" cy="101.2" r="2.1" fill="#111"/>
<path d="M89.5,68.2 L118.6,68.0 L118.8,102.3 L103.5,102.6" stroke="#111" stroke-width="4.4" stroke-linejoin="round" stroke-linecap="round" fill="none"/>
<path d="M96,56.3 C95.5,53 104,48.5 112,45 C116,43 119,41 121.5,41.8 C123.2,43 122,46 120,48.3 C117.5,51 115,54.5 112.7,57.3 C108,58.6 99,58.2 96,56.3 Z" stroke="#111" stroke-width=".7" fill="none"/>
<path d="M101.8,56.8 C102.3,53.6 106,51 110.2,50.2 C111.2,51.3 109.6,54.8 107.6,57.3 C105.5,57.7 103.2,57.4 101.8,56.8 Z" stroke="#111" stroke-width=".7" fill="none"/>
<ellipse cx="116.8" cy="45.6" rx="1.9" ry="1.1" transform="rotate(-30 116.8 45.6)" stroke="#111" stroke-width=".7" fill="none"/></g>
<rect x="52" y="20.7" width="110" height="104" fill="none" stroke="#555" stroke-width="1"/>
<rect x="94.8" y="38.3" width="29.6" height="20.6" fill="none" stroke="#5c5cd2" stroke-width="0.9"/>
<rect x="88.3" y="60.8" width="39.6" height="64" fill="none" stroke="#5c5cd2" stroke-width="0.9"/>
<text x="139.2" y="45" font-size="5.5" text-anchor="start" fill="#111" >2.9</text>
<text x="133.8" y="104.5" font-size="5.3" text-anchor="start" fill="#111" >65.5</text>
<line x1="154.2" y1="44.8" x2="169.3" y2="44.8" stroke="#111" stroke-width="0.9" />
<path d="M173,44.8 L168.8,42.8 L168.8,46.8 Z" fill="#111"/>
<line x1="154.2" y1="86.3" x2="169.3" y2="86.3" stroke="#111" stroke-width="0.9" />
<path d="M173,86.3 L168.8,84.3 L168.8,88.3 Z" fill="#111"/>
<text transform="translate(44,118) rotate(-90)" font-size="10" fill="#111" font-family="Liberation Sans, sans-serif">Tetramer</text>
<line x1="40" y1="73" x2="40" y2="59.1" stroke="#111" stroke-width="0.9" />
<path d="M40,55.6 L38.1,59.6 L41.9,59.6 Z" fill="#111"/>
<text x="53.7" y="142.6" font-size="10" text-anchor="start" fill="#111" >CD8</text>
<line x1="79.5" y1="138.4" x2="93.8" y2="138.4" stroke="#111" stroke-width="0.9" />
<path d="M97.5,138.4 L93.3,136.4 L93.3,140.4 Z" fill="#111"/>
<text x="336.4" y="17.7" font-size="10" font-weight="bold" text-anchor="middle" fill="#111" >Chronic infection</text>
<g><path d="M327.7 67.8h.6M307.0 53.5h.6M319.1 112.7h.6M304.9 55.6h.6M321.1 53.6h.6M336.0 63.4h.6M287.3 68.4h.6M352.0 86.1h.6M284.3 108.2h.6M295.1 68.8h.6M305.8 61.9h.6M301.3 66.7h.6M310.0 65.3h.6M293.0 61.0h.6M316.6 66.2h.6M351.5 98.1h.6M293.2 55.0h.6M319.0 56.0h.6M345.6 113.6h.6M322.1 110.2h.6M350.2 107.8h.6M304.7 46.1h.6M296.7 112.7h.6M297.7 105.5h.6M315.6 40.3h.6M352.8 82.5h.6M307.9 54.2h.6M283.1 87.8h.6M291.2 66.6h.6M356.0 72.4h.6M353.7 81.0h.6M310.9 66.8h.6M338.5 114.2h.6M286.0 86.9h.6M311.7 55.5h.6M298.5 56.9h.6M288.0 68.8h.6M339.7 62.4h.6M331.0 106.8h.6M283.8 38.0h.6M347.8 103.1h.6M348.4 101.4h.6M283.4 89.7h.6M333.3 107.2h.6M315.5 105.0h.6M307.6 49.1h.6M335.5 64.0h.6M287.9 51.5h.6M314.4 51.2h.6M326.5 57.6h.6M300.4 68.7h.6M342.3 62.1h.6M293.1 64.7h.6M285.4 91.6h.6M321.8 59.0h.6M349.8 95.9h.6M296.9 68.1h.6M293.2 53.2h.6M321.1 59.2h.6M309.6 105.6h.6M351.3 70.2h.6M353.5 89.2h.6M292.9 58.0h.6M284.0 99.0h.6M302.7 108.5h.6M282.2 64.3h.6M341.7 114.3h.6M312.7 105.1h.6M350.4 99.6h.6M283.8 87.9h.6M319.7 69.0h.6M346.8 65.5h.6M297.3 66.2h.6M350.8 96.2h.6M284.9 101.4h.6M285.6 89.8h.6M300.2 63.3h.6M289.2 59.6h.6M322.3 57.4h.6M348.2 108.6h.6M323.7 116.0h.6M286.7 44.7h.6M291.8 66.6h.6M284.4 81.7h.6M318.1 67.9h.6M280.9 101.7h.6M296.4 63.9h.6M285.3 81.8h.6M349.5 62.7h.6M301.2 23.7h.6M298.8 105.6h.6M299.5 65.4h.6M285.6 56.2h.6M349.8 92.9h.6M280.8 69.8h.6M281.1 76.5h.6M285.1 93.9h.6M348.5 102.2h.6M289.7 68.1h.6M332.9 112.2h.6M351.7 107.9h.6M340.9 63.0h.6M315.7 68.5h.6M349.6 92.0h.6M295.9 67.3h.6M282.7 91.1h.6M353.3 81.9h.6M344.1 112.2h.6M349.2 102.7h.6M304.3 60.0h.6M351.2 76.3h.6M300.8 67.4h.6M346.2 65.9h.6M284.3 70.0h.6M321.2 56.9h.6M348.4 78.1h.6M354.6 74.9h.6M282.8 69.7h.6M329.2 61.1h.6M337.7 62.9h.6M297.6 60.0h.6M349.8 81.5h.6M357.2 102.1h.6M303.5 58.8h.6M308.9 105.2h.6M319.0 110.8h.6M339.7 62.6h.6M333.0 66.7h.6M301.4 56.8h.6M344.4 108.3h.6M351.2 93.9h.6M361.7 119.0h.6M302.0 68.8h.6M315.6 109.2h.6M328.0 53.2h.6M347.9 105.1h.6M350.6 90.2h.6M296.2 53.8h.6M316.6 110.0h.6M339.7 104.9h.6M285.6 104.4h.6M314.9 108.7h.6M319.2 67.8h.6M281.8 92.8h.6M309.2 65.9h.6M285.2 96.1h.6M337.7 108.1h.6M307.8 62.7h.6M352.2 79.8h.6M306.1 62.2h.6M311.8 120.9h.6M313.3 59.1h.6M349.1 65.0h.6M285.6 67.4h.6M346.9 66.2h.6M351.8 71.4h.6M289.1 105.0h.6M295.1 60.4h.6M319.9 115.7h.6M284.0 74.4h.6M348.5 112.9h.6M344.0 66.0h.6M293.5 67.6h.6M286.6 106.1h.6M284.5 90.8h.6M297.8 57.5h.6M302.5 64.4h.6M332.3 65.6h.6M308.1 62.0h.6M307.2 107.7h.6M331.4 105.3h.6M314.6 50.6h.6M317.6 106.2h.6M281.1 73.8h.6M349.0 105.6h.6M321.0 106.8h.6M285.8 76.2h.6M287.0 54.8h.6M291.8 38.5h.6M291.7 62.7h.6M325.9 107.5h.6M308.3 68.8h.6M283.9 91.9h.6M283.4 86.4h.6M350.3 90.6h.6M285.5 108.6h.6M288.8 105.9h.6M327.4 107.6h.6M282.5 104.9h.6M338.3 66.9h.6M325.2 105.3h.6M353.0 84.5h.6M351.9 70.7h.6M304.5 36.2h.6M309.0 67.7h.6M292.1 106.3h.6M295.7 110.9h.6M322.5 51.8h.6M335.7 113.7h.6M281.4 69.1h.6M318.6 69.4h.6M299.4 108.5h.6M312.9 52.7h.6M315.9 32.6h.6M281.1 92.8h.6M305.1 58.3h.6M319.4 58.4h.6M349.7 77.9h.6M285.2 99.0h.6M326.9 64.1h.6M283.9 91.1h.6M308.8 35.5h.6M304.7 59.8h.6M326.4 29.7h.6M295.8 68.6h.6M297.8 53.2h.6M331.9 40.9h.6M302.4 65.2h.6M313.2 69.4h.6M289.2 53.2h.6M296.2 40.2h.6M292.9 57.9h.6M288.2 68.4h.6M338.4 106.3h.6M286.4 65.8h.6M301.1 107.1h.6M313.3 66.3h.6M285.9 47.1h.6M284.1 83.4h.6M311.3 47.0h.6M329.1 108.6h.6M291.1 68.2h.6M348.6 64.2h.6M312.8 59.5h.6M307.4 108.9h.6M340.4 65.4h.6M283.8 67.2h.6M362.9 61.9h.6M338.8 33.5h.6M292.8 105.4h.6M335.6 65.2h.6M284.3 91.7h.6M305.4 108.2h.6M313.4 120.1h.6M321.7 111.7h.6M346.8 105.7h.6M309.2 49.0h.6M332.2 106.2h.6M348.6 82.0h.6M307.3 55.1h.6M292.2 110.6h.6M349.9 75.4h.6M324.7 51.7h.6M331.0 107.1h.6M298.4 50.8h.6M349.4 98.7h.6M313.5 69.1h.6M324.5 105.7h.6M333.8 67.2h.6M294.6 66.0h.6M348.6 94.8h.6M299.8 110.5h.6M285.0 81.3h.6M284.9 88.9h.6M290.3 108.9h.6M289.1 105.9h.6M283.8 57.2h.6M317.9 107.0h.6M350.8 72.5h.6M283.8 96.1h.6M285.4 77.2h.6M283.4 88.4h.6M290.4 105.7h.6M293.4 67.7h.6M333.9 64.9h.6M318.8 52.3h.6M348.7 112.0h.6M281.5 79.4h.6M305.5 58.4h.6M309.9 105.3h.6M285.4 72.7h.6M300.5 68.2h.6M315.9 62.2h.6M333.7 65.0h.6M350.6 77.0h.6M348.8 88.5h.6M286.6 105.7h.6M316.0 112.6h.6M305.3 61.5h.6M284.8 74.1h.6M294.7 53.0h.6M314.8 106.1h.6M313.7 106.0h.6M302.6 60.3h.6M332.7 64.2h.6M322.1 57.7h.6M352.9 111.8h.6M349.9 62.8h.6M348.9 81.6h.6M301.1 106.3h.6M285.7 88.7h.6M294.1 49.8h.6M341.9 107.0h.6M310.5 111.5h.6M285.6 71.1h.6M303.4 113.0h.6M348.2 64.0h.6M301.4 58.1h.6M311.7 108.4h.6M313.5 105.7h.6M304.1 105.3h.6M283.8 78.1h.6M348.4 72.4h.6M321.6 112.2h.6M285.1 104.7h.6M305.8 60.5h.6M350.6 88.9h.6M336.7 62.5h.6M308.2 114.0h.6M330.7 109.8h.6M328.3 68.4h.6M293.7 114.1h.6M307.1 56.8h.6M336.9 106.5h.6M329.1 66.1h.6M329.1 63.8h.6M327.7 61.9h.6M352.7 107.1h.6M284.5 90.6h.6M361.2 99.9h.6M285.4 94.7h.6M328.9 30.3h.6M307.0 105.2h.6M352.6 59.3h.6M325.7 106.0h.6M281.1 74.6h.6M350.4 69.0h.6M296.0 58.0h.6M349.4 106.3h.6M343.9 67.0h.6M282.4 74.6h.6M350.4 87.1h.6M294.7 55.2h.6M308.3 107.5h.6M344.0 66.9h.6M320.7 105.4h.6M323.5 52.3h.6M302.6 105.0h.6M321.7 67.3h.6M305.8 68.8h.6M285.8 84.7h.6M327.1 47.4h.6M351.5 73.1h.6M351.1 110.5h.6M320.4 111.2h.6M319.9 115.4h.6M323.4 105.9h.6M301.7 57.4h.6M300.8 52.8h.6M334.9 105.9h.6M285.9 87.7h.6M334.8 108.0h.6M290.1 104.8h.6M300.2 67.8h.6M279.7 102.3h.6M299.7 47.7h.6M348.8 86.2h.6M285.3 73.2h.6M303.6 106.3h.6M280.9 109.1h.6M284.8 83.5h.6M302.6 104.9h.6M348.7 90.6h.6M349.7 96.3h.6M332.9 105.6h.6M281.3 49.5h.6M311.6 112.5h.6M285.7 80.0h.6M351.8 74.8h.6M303.0 53.7h.6M354.1 76.9h.6M311.0 44.5h.6M280.2 38.3h.6M285.5 57.1h.6M305.7 68.0h.6M285.7 60.4h.6M294.9 108.2h.6M314.3 115.4h.6M285.1 74.3h.6M351.6 103.4h.6M281.1 93.1h.6M283.9 73.2h.6M317.4 55.1h.6M340.2 105.0h.6M293.6 42.9h.6M340.3 105.0h.6M310.2 68.9h.6M285.0 85.6h.6M299.0 58.2h.6M349.6 91.3h.6M317.0 60.2h.6M297.0 68.8h.6M356.3 76.4h.6M300.5 67.1h.6M297.6 55.4h.6M281.8 107.3h.6M301.0 104.8h.6M306.9 66.1h.6M333.5 63.7h.6M310.4 51.0h.6M290.6 109.3h.6M349.2 67.4h.6M353.5 103.6h.6M314.9 123.8h.6M332.0 62.8h.6M348.2 75.6h.6M300.1 65.3h.6M353.5 93.8h.6M306.5 105.1h.6M351.5 113.3h.6M324.1 105.9h.6M330.1 66.7h.6M348.4 74.0h.6M309.1 117.4h.6M346.1 105.2h.6M306.5 65.4h.6M320.7 60.5h.6M338.5 106.5h.6M306.4 119.1h.6M347.6 104.9h.6M317.4 60.6h.6M283.4 91.0h.6M309.7 107.2h.6M287.4 66.0h.6M348.7 67.3h.6M285.9 76.6h.6M325.8 107.6h.6M314.9 58.5h.6M326.0 68.1h.6M324.1 62.6h.6M323.5 61.1h.6M311.4 67.3h.6M287.7 106.9h.6M295.1 106.0h.6M323.7 62.2h.6M335.9 65.5h.6M306.7 67.3h.6M286.1 68.1h.6M304.9 106.4h.6M340.5 110.7h.6M340.4 113.3h.6M345.7 66.3h.6M309.6 53.6h.6M282.0 67.5h.6M349.6 87.3h.6M319.9 118.2h.6M311.8 110.7h.6M284.3 72.1h.6M316.5 66.8h.6M318.2 69.0h.6M308.5 58.4h.6M299.5 57.7h.6M353.1 104.8h.6M334.4 105.0h.6M292.2 64.6h.6M311.9 109.9h.6M297.2 58.8h.6M285.1 91.0h.6M350.1 109.2h.6M311.5 108.7h.6M311.0 65.0h.6M301.9 106.3h.6M349.0 96.3h.6M343.7 66.8h.6M351.4 77.3h.6M344.7 107.8h.6M280.8 72.0h.6M308.2 63.7h.6M324.4 106.3h.6M324.1 106.5h.6M293.2 68.5h.6M282.4 90.8h.6M305.7 116.4h.6M326.4 108.9h.6M341.4 106.2h.6M333.0 105.2h.6M295.1 66.2h.6M285.9 86.9h.6M353.6 94.7h.6M283.8 117.3h.6M329.2 51.9h.6M281.2 74.7h.6M319.5 109.1h.6M290.4 105.9h.6M291.5 62.2h.6M285.7 103.6h.6M285.1 100.4h.6M296.4 32.2h.6M349.2 87.2h.6M298.8 106.0h.6M334.9 105.9h.6M320.2 107.7h.6M282.8 92.4h.6M298.4 105.9h.6M299.8 61.7h.6M306.7 106.7h.6M340.1 106.5h.6M347.4 105.5h.6M357.4 102.2h.6M312.9 51.8h.6M284.4 96.4h.6M283.8 79.4h.6M307.2 108.1h.6M283.5 101.6h.6M325.4 54.4h.6M341.4 104.8h.6M304.5 51.0h.6M325.5 107.4h.6M304.3 61.5h.6M349.7 85.4h.6M303.9 61.8h.6M335.8 111.0h.6M284.4 86.1h.6M293.4 68.9h.6M325.2 68.6h.6M284.7 67.4h.6M335.4 107.4h.6M335.9 108.4h.6M297.5 59.7h.6M317.5 65.3h.6M353.9 80.1h.6M284.8 93.2h.6M326.0 109.1h.6M314.7 106.9h.6M346.1 55.9h.6M335.3 106.7h.6M298.3 64.4h.6M348.3 64.5h.6M325.3 105.9h.6M328.5 105.1h.6M335.9 110.1h.6M320.1 55.5h.6M300.3 56.2h.6M307.6 43.2h.6M331.0 108.2h.6M303.4 56.6h.6M295.6 66.2h.6M349.3 81.2h.6M302.6 58.5h.6M315.5 60.8h.6M292.9 108.1h.6M291.3 53.8h.6M304.3 65.0h.6M300.2 65.9h.6M285.9 97.6h.6M292.9 53.5h.6M341.2 61.2h.6M302.8 62.4h.6M348.0 99.4h.6M283.6 105.3h.6M307.3 56.5h.6M320.1 55.8h.6M349.4 82.5h.6M294.6 52.6h.6M313.6 112.5h.6M291.0 59.2h.6M285.0 68.5h.6M288.1 68.9h.6M301.7 68.9h.6M290.5 109.0h.6M327.7 114.0h.6M348.6 92.5h.6M348.7 90.4h.6M317.3 68.5h.6M311.0 106.2h.6M317.7 63.3h.6M289.3 66.3h.6M290.3 33.9h.6M305.2 56.1h.6M281.8 58.4h.6M312.4 65.2h.6M353.2 90.3h.6M322.4 111.5h.6M285.9 77.3h.6M282.5 73.2h.6M307.2 68.9h.6M313.8 67.5h.6M281.3 111.1h.6M350.7 92.1h.6M350.0 95.8h.6M325.8 105.1h.6M283.2 101.5h.6M301.2 66.9h.6M355.7 81.0h.6M317.5 106.9h.6M352.8 106.4h.6M293.7 56.7h.6M352.4 77.8h.6M285.9 106.0h.6M349.1 91.7h.6M318.3 56.7h.6M345.1 110.8h.6M310.0 46.5h.6M317.2 55.9h.6M284.1 69.3h.6M323.7 67.1h.6M304.9 50.0h.6M284.5 73.5h.6M319.6 111.7h.6M285.0 80.5h.6M286.0 86.7h.6M344.2 58.1h.6M342.8 59.0h.6M291.9 68.5h.6M285.5 70.4h.6M315.5 104.8h.6M341.3 61.9h.6M330.9 67.6h.6M301.9 106.1h.6M332.2 114.3h.6M307.3 50.8h.6M311.6 68.6h.6M331.3 118.3h.6M288.7 110.4h.6M296.7 65.7h.6M326.8 52.4h.6M340.6 106.5h.6M341.2 64.3h.6M356.2 94.2h.6M349.5 88.5h.6M284.0 32.4h.6M300.4 64.8h.6M293.0 63.3h.6M348.1 95.6h.6M328.5 68.5h.6M299.6 56.7h.6M348.4 92.3h.6M299.7 111.0h.6M336.8 105.8h.6M295.4 106.9h.6M348.7 70.9h.6M283.8 63.3h.6M343.7 60.8h.6M310.2 64.8h.6M299.4 67.5h.6M343.2 63.7h.6M351.2 102.0h.6M289.8 106.4h.6M303.5 61.3h.6M306.7 57.0h.6M334.5 107.8h.6M287.8 46.6h.6M298.4 68.7h.6M285.1 91.7h.6M282.3 34.5h.6M348.1 105.5h.6M348.7 69.2h.6M306.8 105.1h.6M292.1 56.2h.6M299.1 68.5h.6M311.9 109.9h.6M349.3 97.1h.6M327.2 33.6h.6M310.8 105.6h.6M340.3 113.6h.6M315.6 68.2h.6M353.6 70.4h.6M294.2 60.4h.6M339.0 64.9h.6M305.1 55.9h.6M348.4 72.7h.6M349.3 83.8h.6M293.4 104.9h.6M336.0 107.2h.6M285.4 64.1h.6M301.3 67.9h.6M294.9 59.7h.6M310.8 69.1h.6M303.3 48.3h.6M294.8 55.8h.6M350.6 108.2h.6M351.0 101.3h.6M299.9 105.5h.6M281.4 99.6h.6M345.6 66.9h.6M350.7 80.4h.6M350.8 90.8h.6M345.4 106.6h.6M301.0 61.6h.6M314.2 107.4h.6M282.1 101.5h.6M319.6 111.9h.6M350.7 98.6h.6M305.6 62.7h.6M304.4 51.6h.6M333.8 107.1h.6M350.3 72.7h.6M328.0 68.3h.6M348.5 106.3h.6M282.9 83.7h.6M318.5 69.5h.6M329.8 110.8h.6M307.1 50.0h.6M340.1 56.5h.6M305.7 66.2h.6M349.0 63.4h.6M295.1 32.5h.6M327.2 106.1h.6M282.0 75.8h.6M282.7 71.0h.6M349.8 96.8h.6M327.4 107.2h.6M299.7 55.2h.6M304.5 55.6h.6M316.9 47.7h.6M291.8 66.0h.6M292.4 54.6h.6M295.5 65.5h.6M310.6 55.3h.6M290.2 63.8h.6M300.0 105.7h.6M310.4 68.1h.6M330.1 107.1h.6M314.0 68.2h.6M329.5 111.7h.6M313.1 64.7h.6M284.1 91.1h.6M298.5 60.9h.6M298.6 44.0h.6M296.2 58.1h.6M348.9 104.3h.6M319.9 68.3h.6M323.3 50.7h.6M319.6 106.4h.6M286.4 115.6h.6M295.8 46.2h.6M333.4 64.4h.6M285.7 65.8h.6M280.9 77.9h.6M284.3 95.6h.6M341.8 105.1h.6M328.3 104.9h.6M284.9 81.5h.6M319.7 105.9h.6M348.8 76.7h.6M309.6 56.8h.6M350.1 103.9h.6M285.6 79.6h.6M285.2 79.1h.6M323.4 109.6h.6M290.6 53.9h.6M323.2 62.9h.6M316.1 65.5h.6M289.9 65.4h.6M299.4 105.8h.6M302.3 50.6h.6M348.7 82.9h.6M333.8 109.7h.6M325.9 35.5h.6M348.3 78.1h.6M320.9 113.5h.6M310.1 57.9h.6M299.7 67.4h.6M308.1 68.6h.6M296.8 52.3h.6M352.1 82.1h.6M350.6 63.1h.6M290.9 68.3h.6M340.0 108.1h.6M328.6 105.2h.6M290.5 68.7h.6M311.6 50.9h.6M340.5 105.6h.6M343.7 65.0h.6M349.4 64.5h.6M311.4 56.9h.6M288.3 67.6h.6M284.2 95.1h.6M356.2 98.9h.6M319.4 64.1h.6M357.6 107.3h.6M330.8 112.0h.6M309.3 54.1h.6M319.9 112.6h.6M285.5 67.1h.6M301.0 105.8h.6M294.3 54.3h.6M310.1 105.0h.6M283.9 78.3h.6M328.5 109.8h.6M285.3 41.6h.6M316.9 68.7h.6M297.5 57.0h.6M305.0 47.4h.6M289.3 68.8h.6M313.0 65.1h.6M341.9 114.9h.6M349.2 85.3h.6M317.1 62.9h.6M314.0 112.0h.6M348.0 102.8h.6M320.7 108.9h.6M335.7 67.4h.6M325.6 52.6h.6M336.8 67.0h.6M302.6 67.9h.6M317.5 33.4h.6M322.2 48.2h.6M299.0 59.3h.6M303.5 68.2h.6M285.3 66.2h.6M284.6 91.8h.6M289.9 64.7h.6M352.6 109.9h.6M311.3 106.2h.6M293.9 105.6h.6M348.4 69.8h.6M351.0 79.2h.6M285.1 74.3h.6M318.3 69.2h.6M343.5 113.8h.6M350.1 109.1h.6M327.4 106.1h.6M349.4 81.9h.6M290.1 46.5h.6M299.4 105.4h.6M301.3 55.1h.6M325.5 66.8h.6M352.8 95.6h.6M290.0 66.3h.6M317.4 64.8h.6M326.5 32.9h.6M285.9 69.8h.6M340.1 66.9h.6M283.2 83.8h.6M311.0 64.2h.6M285.5 105.5h.6M304.0 104.8h.6M302.3 105.0h.6M279.3 91.2h.6M349.3 104.0h.6M336.9 108.9h.6M357.2 65.1h.6M319.3 68.0h.6M285.0 60.8h.6M307.1 108.7h.6M341.8 62.3h.6M307.4 108.2h.6M284.2 88.6h.6M296.5 67.6h.6M295.9 51.0h.6M323.2 107.0h.6M301.2 64.7h.6M311.8 62.2h.6M294.0 104.8h.6M329.0 67.1h.6M322.7 67.7h.6M350.9 92.4h.6M322.1 68.9h.6M338.8 117.0h.6M283.0 83.8h.6M348.6 89.0h.6M316.3 105.2h.6M326.2 106.5h.6M318.2 68.4h.6M283.0 71.0h.6M285.1 80.3h.6M315.4 118.4h.6M312.3 53.0h.6M304.2 105.2h.6M285.6 74.8h.6M332.3 105.2h.6M285.0 79.7h.6M319.0 56.6h.6M340.1 105.6h.6M309.3 49.2h.6M338.5 104.8h.6M299.6 60.3h.6M288.2 117.6h.6M305.1 50.8h.6M311.4 69.1h.6M304.1 105.7h.6M327.5 106.7h.6M285.7 96.6h.6M330.1 62.1h.6M310.1 67.2h.6M298.1 51.7h.6M291.6 112.0h.6M331.3 106.0h.6M335.1 66.0h.6M285.5 95.8h.6M310.6 58.2h.6M310.2 55.8h.6M300.9 108.7h.6M349.9 91.0h.6M325.5 68.8h.6M305.1 59.8h.6M290.9 49.5h.6M357.6 98.4h.6M284.4 94.7h.6M300.8 68.9h.6M299.8 65.1h.6M351.1 63.4h.6M302.2 105.3h.6M350.5 74.0h.6M328.5 105.4h.6M290.2 53.3h.6M335.2 67.3h.6M322.1 119.7h.6M305.2 107.1h.6M303.6 43.5h.6M352.6 64.9h.6M294.2 46.0h.6M311.1 60.7h.6M355.8 92.9h.6M332.7 107.0h.6M281.9 48.8h.6M348.5 78.9h.6M304.1 107.6h.6M318.7 105.7h.6M310.8 105.7h.6M313.9 51.1h.6M353.6 77.1h.6M341.4 104.9h.6M284.9 106.6h.6M323.3 48.4h.6M323.7 23.5h.6M305.1 57.8h.6M329.9 59.1h.6M346.4 65.5h.6M315.6 52.6h.6M320.3 35.1h.6M337.3 104.8h.6M293.2 108.0h.6M327.0 106.2h.6M320.5 107.1h.6M352.2 79.7h.6M313.8 106.7h.6M304.7 41.9h.6M300.3 63.2h.6M298.8 54.9h.6M295.2 59.2h.6M318.9 113.9h.6M292.8 52.0h.6M301.1 55.2h.6M281.2 82.2h.6M306.1 64.9h.6M315.3 109.9h.6M321.6 66.5h.6M311.0 57.0h.6M306.6 57.4h.6M301.9 69.0h.6M295.8 55.1h.6M345.6 63.6h.6M286.1 60.3h.6M350.7 67.0h.6M298.7 64.6h.6M347.4 65.0h.6M332.5 65.5h.6M348.4 68.9h.6M297.4 25.8h.6M353.3 76.7h.6M285.7 69.9h.6M335.9 104.9h.6M303.3 107.3h.6M292.2 67.2h.6M309.6 67.6h.6M324.8 104.9h.6M340.8 64.1h.6M296.4 51.4h.6M304.2 104.9h.6M308.2 64.2h.6M318.5 105.2h.6M305.6 57.7h.6M342.7 64.9h.6M316.2 61.4h.6M308.3 55.7h.6M349.0 81.3h.6M287.8 107.2h.6M294.8 65.5h.6M341.5 108.8h.6M348.2 107.1h.6M285.3 58.4h.6M279.2 98.6h.6M352.1 79.2h.6M285.2 80.5h.6M346.9 60.4h.6M339.0 105.2h.6M307.6 108.4h.6M350.3 77.6h.6M326.1 68.2h.6M296.9 108.9h.6M283.9 73.7h.6M350.4 80.9h.6M329.2 63.8h.6M318.8 117.4h.6M371.1 96.9h.6M348.3 65.1h.6M289.2 105.5h.6M307.8 107.6h.6M307.9 63.7h.6M322.9 107.6h.6M347.9 115.9h.6M337.0 66.0h.6M284.1 78.8h.6M284.4 61.8h.6M318.6 68.4h.6M294.3 59.8h.6M351.5 105.4h.6M328.9 64.7h.6M323.5 61.7h.6M315.8 107.0h.6M317.7 60.7h.6M287.1 57.6h.6M309.7 67.8h.6M352.4 69.2h.6M348.3 79.0h.6M306.0 56.2h.6M288.0 67.8h.6M325.9 106.7h.6M327.3 105.5h.6M335.4 111.8h.6M285.5 102.3h.6M283.1 72.9h.6M329.6 63.2h.6M307.5 48.8h.6M298.7 64.6h.6M318.0 61.7h.6M303.2 56.9h.6M291.9 60.2h.6M289.4 107.2h.6M315.6 56.9h.6M321.4 53.8h.6M298.6 104.9h.6M316.2 111.7h.6M325.2 107.1h.6M286.0 69.1h.6M350.4 86.6h.6M332.8 66.4h.6M294.9 68.8h.6M348.0 74.0h.6M328.3 108.6h.6M313.0 109.2h.6M281.1 46.5h.6M348.0 70.5h.6M305.6 62.3h.6M345.7 65.0h.6M324.5 41.2h.6M292.9 106.4h.6M321.7 63.6h.6M314.8 67.1h.6M328.1 66.3h.6M342.3 105.2h.6M348.5 104.1h.6M344.2 66.7h.6M350.2 69.3h.6M279.9 76.4h.6M349.6 89.9h.6M285.9 66.9h.6M347.9 65.5h.6M285.5 93.8h.6M287.2 58.6h.6M332.4 53.0h.6M309.9 51.4h.6M284.5 106.1h.6M324.4 107.5h.6M320.1 112.9h.6M339.3 65.0h.6M348.6 87.3h.6M349.2 85.1h.6M283.2 81.0h.6M340.5 65.8h.6M298.8 59.3h.6M350.8 76.7h.6M295.6 63.3h.6M300.2 106.2h.6M294.1 66.5h.6M287.4 66.3h.6M348.5 78.3h.6M348.2 96.0h.6M345.0 105.3h.6M305.3 62.0h.6M287.0 106.1h.6M310.8 106.8h.6M346.7 107.6h.6M299.4 49.5h.6M333.2 114.8h.6M300.5 65.4h.6M286.2 65.7h.6M301.1 68.9h.6M302.5 58.5h.6M355.4 69.0h.6M348.6 95.2h.6M283.3 88.9h.6M285.2 102.1h.6M334.2 63.8h.6M306.1 104.8h.6M340.0 37.6h.6M300.5 60.0h.6M289.1 105.4h.6M291.2 57.8h.6M307.7 52.2h.6M350.0 90.3h.6M309.0 48.4h.6M336.3 66.4h.6M354.7 77.9h.6M319.5 67.4h.6M314.6 69.5h.6M281.0 74.4h.6M355.2 85.2h.6M315.9 53.7h.6M317.5 109.1h.6M315.3 55.7h.6M333.4 65.3h.6M285.7 101.9h.6M324.8 68.3h.6M326.4 106.8h.6M348.3 98.3h.6M349.6 89.4h.6M300.0 51.0h.6M320.4 110.7h.6M293.1 63.9h.6M327.8 53.0h.6M284.3 94.3h.6M300.1 105.0h.6M298.6 120.6h.6M283.7 84.5h.6M349.0 88.7h.6M350.0 76.8h.6M351.6 98.7h.6M283.4 73.3h.6M303.7 64.6h.6M348.3 99.0h.6M352.5 91.3h.6M313.9 57.1h.6M288.8 56.3h.6M289.4 108.0h.6M350.0 86.5h.6M294.3 65.2h.6M353.4 93.1h.6M283.3 102.3h.6M304.9 65.3h.6M354.4 88.6h.6M285.5 69.1h.6M329.6 65.8h.6M321.3 61.9h.6M339.3 64.3h.6M300.4 51.2h.6M313.2 106.0h.6M351.6 113.0h.6M284.9 66.7h.6M294.4 105.5h.6M356.5 58.1h.6M284.4 95.6h.6M303.8 110.0h.6M314.9 59.1h.6M327.7 106.5h.6M316.7 58.1h.6M345.4 104.8h.6M283.9 83.8h.6M322.8 67.3h.6M332.8 109.1h.6M312.6 49.9h.6M289.3 58.5h.6M305.4 45.1h.6M285.4 83.5h.6M299.0 46.5h.6M314.8 61.3h.6M286.7 66.1h.6M349.0 80.9h.6M354.0 115.0h.6M309.5 61.5h.6M320.5 69.1h.6M308.9 68.1h.6M318.9 52.6h.6M325.1 57.1h.6M283.4 87.8h.6M285.4 75.8h.6M313.5 110.6h.6M297.0 66.5h.6M284.2 96.0h.6M316.6 62.9h.6M343.4 106.1h.6M310.1 106.3h.6M284.6 55.4h.6M329.5 58.3h.6M341.0 106.4h.6M339.0 66.6h.6M289.7 104.8h.6M311.7 45.9h.6M298.2 58.0h.6M308.8 106.3h.6M317.5 68.9h.6M303.8 66.6h.6M283.6 68.9h.6M319.8 60.5h.6M320.0 67.5h.6M285.3 71.1h.6M344.8 109.9h.6M320.3 62.7h.6M295.3 23.4h.6M313.2 53.3h.6M281.1 105.9h.6M296.8 109.5h.6M282.2 81.6h.6M283.1 81.7h.6M348.7 63.4h.6M329.4 105.2h.6M306.0 106.3h.6M344.5 107.9h.6M317.9 117.0h.6M347.8 104.6h.6M346.2 66.2h.6M302.2 62.0h.6M330.9 65.7h.6M287.4 106.2h.6M342.9 104.8h.6M292.2 110.4h.6M344.1 107.9h.6M282.5 62.1h.6M285.7 92.5h.6M339.5 64.5h.6M297.1 56.9h.6M284.6 105.4h.6M349.1 89.5h.6M284.8 105.4h.6M349.1 103.0h.6M297.4 104.8h.6M319.4 113.4h.6M300.1 57.4h.6M318.6 112.4h.6M288.9 45.9h.6M306.0 65.9h.6M286.4 105.0h.6M306.8 34.0h.6M285.7 83.7h.6M284.8 78.1h.6M304.4 44.1h.6M311.1 116.0h.6M312.2 43.7h.6M305.8 54.2h.6M295.3 63.6h.6M316.7 41.9h.6M322.1 57.1h.6M361.0 97.9h.6M354.6 106.0h.6M290.4 66.0h.6M323.7 67.7h.6M292.4 106.4h.6M292.5 59.6h.6M288.5 105.0h.6M291.0 110.5h.6M334.6 55.4h.6M280.7 85.7h.6M311.0 106.1h.6M283.6 106.4h.6M352.2 80.4h.6M285.4 103.9h.6M283.9 77.4h.6M334.4 123.1h.6M310.9 33.1h.6M346.5 65.9h.6M302.7 67.8h.6M316.0 52.5h.6M349.6 71.8h.6M307.6 109.3h.6M319.7 106.1h.6M283.8 67.4h.6M284.4 70.0h.6M294.0 54.8h.6M282.9 97.7h.6M353.2 84.4h.6M300.8 66.0h.6M331.3 108.6h.6M312.4 106.4h.6M305.2 60.4h.6M298.0 106.8h.6M287.5 107.5h.6M306.8 51.6h.6M307.1 105.0h.6M292.8 109.9h.6M312.3 107.9h.6M299.3 68.5h.6M323.4 68.2h.6M303.0 58.9h.6M292.3 54.8h.6M312.8 66.9h.6M318.0 29.1h.6M302.9 106.3h.6M344.1 106.2h.6M295.7 56.4h.6M342.2 107.0h.6M293.2 105.6h.6M293.5 105.0h.6M324.7 64.8h.6M304.0 66.5h.6M324.0 64.1h.6M302.3 54.9h.6M348.9 92.9h.6M318.0 68.3h.6M350.6 81.3h.6M354.6 73.8h.6M349.4 98.2h.6M352.2 97.3h.6M328.6 65.2h.6M313.2 111.5h.6M285.3 82.1h.6M314.4 68.6h.6M316.0 105.0h.6M302.4 61.5h.6M301.8 58.5h.6M284.0 94.7h.6M352.6 63.4h.6M312.1 26.7h.6M319.9 67.8h.6M314.7 56.6h.6M301.2 62.7h.6M350.6 64.7h.6M311.4 42.8h.6M350.7 111.7h.6M349.8 94.6h.6M321.3 67.7h.6M321.7 108.3h.6M315.6 118.4h.6M305.7 55.8h.6M302.0 105.3h.6M332.4 67.8h.6M291.9 105.4h.6M344.4 65.2h.6M348.1 104.1h.6M342.4 112.1h.6M299.8 112.1h.6M298.4 61.6h.6M334.9 62.3h.6M302.8 56.3h.6M332.1 61.8h.6M325.7 107.9h.6M297.7 61.3h.6M282.0 96.5h.6M312.3 106.5h.6M331.3 105.7h.6M315.6 67.2h.6M328.5 61.9h.6M322.6 52.7h.6M317.7 116.8h.6M348.6 107.0h.6M280.6 68.1h.6M282.8 84.2h.6M287.8 110.9h.6M298.1 47.9h.6M284.9 50.2h.6M320.4 57.1h.6M321.8 51.9h.6M280.9 98.8h.6M317.3 60.8h.6M345.8 111.8h.6M304.8 108.4h.6M319.8 60.8h.6M348.9 106.7h.6M321.5 68.4h.6M289.9 68.6h.6M290.1 105.0h.6M295.8 67.4h.6M283.3 89.0h.6M300.0 46.8h.6M284.3 93.0h.6M283.7 99.4h.6M301.3 66.6h.6M299.0 53.4h.6M323.5 112.2h.6M289.9 56.1h.6M321.7 121.2h.6M300.8 110.7h.6M320.7 56.4h.6M317.5 29.9h.6M293.0 68.0h.6M359.5 59.4h.6M306.5 68.5h.6M322.5 64.6h.6M311.2 63.4h.6M288.2 64.6h.6M309.6 54.8h.6M317.1 69.4h.6M339.6 105.5h.6M279.8 66.6h.6M284.5 42.7h.6M308.0 109.9h.6M300.7 68.0h.6M285.2 83.3h.6M317.1 48.3h.6M281.3 100.1h.6M285.9 105.0h.6M325.8 106.0h.6M313.0 51.9h.6M316.9 61.3h.6M302.1 64.6h.6M323.3 41.7h.6M352.6 103.2h.6M349.2 97.3h.6M323.8 111.3h.6M310.3 69.1h.6M354.1 68.2h.6M301.5 55.0h.6M281.0 99.7h.6M282.9 80.5h.6M286.9 37.9h.6M332.0 107.5h.6M319.7 105.0h.6M302.1 63.2h.6M282.2 64.3h.6M290.1 60.3h.6M285.4 95.2h.6M316.6 64.8h.6M330.6 108.3h.6M307.8 67.1h.6M296.9 113.8h.6M307.6 55.2h.6M326.2 40.2h.6M349.9 90.8h.6M296.4 44.1h.6M285.3 98.9h.6M349.5 91.0h.6M305.8 58.4h.6M300.9 54.7h.6M326.0 63.7h.6M307.0 54.6h.6M299.5 56.7h.6M299.7 59.1h.6M312.1 106.7h.6M284.0 59.0h.6M305.8 114.9h.6M295.1 67.6h.6M298.2 58.4h.6M315.8 110.0h.6M312.4 106.0h.6M347.7 65.2h.6M279.9 101.3h.6M350.7 79.7h.6M293.6 67.9h.6M320.7 105.6h.6M287.6 107.9h.6M303.9 58.4h.6M311.7 37.5h.6M317.4 68.4h.6M320.0 65.7h.6M306.6 53.3h.6M304.6 62.8h.6M282.6 73.0h.6M317.5 107.8h.6M341.2 66.4h.6M350.7 37.4h.6M348.2 67.4h.6M348.2 109.1h.6M329.6 67.3h.6M354.6 106.0h.6M319.4 106.5h.6M293.9 51.8h.6M348.7 87.5h.6M295.5 107.8h.6M293.7 67.5h.6M308.2 51.6h.6M282.2 77.5h.6M313.2 68.0h.6M337.6 105.4h.6M301.3 109.7h.6M309.7 113.3h.6M312.0 107.2h.6M323.8 105.1h.6M305.3 66.9h.6M297.2 67.4h.6M285.7 75.9h.6M291.8 67.1h.6M304.1 49.7h.6M325.7 107.4h.6M282.6 105.1h.6M293.4 65.5h.6M332.9 107.7h.6M292.2 106.4h.6M285.8 84.3h.6M307.9 58.3h.6M305.3 40.7h.6M312.3 57.4h.6M340.6 105.0h.6M289.2 67.0h.6M350.4 91.7h.6M311.1 105.1h.6M284.6 98.0h.6M353.5 102.4h.6M337.8 66.9h.6M348.7 69.6h.6M312.1 106.1h.6M340.7 63.8h.6M323.1 66.7h.6M344.4 65.3h.6M291.9 44.4h.6M324.9 104.9h.6M296.4 62.2h.6M314.0 53.0h.6M350.6 93.7h.6M304.7 27.5h.6M308.0 68.7h.6M306.6 58.2h.6M312.3 63.8h.6M339.7 105.3h.6M336.6 109.3h.6M349.5 82.1h.6M325.4 68.6h.6M300.6 63.0h.6M346.0 64.1h.6M319.0 66.3h.6M312.3 55.5h.6M317.6 109.5h.6M341.6 62.4h.6M351.9 75.5h.6M328.7 62.3h.6M304.8 64.0h.6M291.1 68.3h.6M310.8 107.9h.6M298.6 68.0h.6M335.6 114.2h.6M285.2 104.8h.6M300.6 56.9h.6M302.1 68.7h.6M283.2 97.9h.6M282.4 81.7h.6M290.4 68.5h.6M329.2 67.6h.6M313.3 66.0h.6M291.2 60.7h.6M289.0 105.1h.6M337.7 34.6h.6M300.5 104.9h.6M349.6 100.4h.6M285.1 87.8h.6M313.9 58.3h.6M351.4 75.1h.6M285.7 75.7h.6M284.7 103.4h.6M326.2 66.3h.6M348.7 112.0h.6M315.4 57.6h.6M348.8 85.0h.6M294.9 65.5h.6M330.3 68.0h.6M291.9 66.9h.6M301.8 105.9h.6M288.8 54.4h.6M347.8 105.4h.6M283.7 71.5h.6M348.6 91.1h.6M294.7 106.2h.6M348.9 82.4h.6M335.0 111.6h.6M316.1 60.1h.6M349.5 97.4h.6M320.3 69.0h.6M290.3 64.6h.6M285.6 85.3h.6M317.2 114.6h.6M351.8 84.1h.6M334.4 67.4h.6M330.3 114.1h.6M301.3 68.2h.6M292.4 60.5h.6M351.0 65.0h.6M312.6 87.6h.6M301.2 63.0h.6M304.6 58.6h.6M349.5 87.4h.6M307.1 56.2h.6M292.4 68.3h.6M318.1 106.1h.6M322.9 106.3h.6M328.9 109.0h.6M293.4 56.2h.6M335.6 112.4h.6M303.8 61.2h.6M350.6 70.8h.6M301.1 68.3h.6M288.5 67.1h.6M330.1 66.5h.6M289.5 52.4h.6M286.3 56.5h.6M326.9 65.4h.6M330.5 63.9h.6M324.7 60.8h.6M282.4 90.4h.6M347.5 66.9h.6M285.1 72.4h.6M314.7 58.2h.6M353.4 63.8h.6M293.6 108.3h.6M285.1 84.0h.6M314.7 52.0h.6M299.1 49.0h.6M312.6 60.2h.6M287.0 105.6h.6M349.9 87.1h.6M284.6 67.0h.6M316.0 110.1h.6M320.6 112.9h.6M318.8 108.9h.6M283.1 90.3h.6M289.6 58.2h.6M282.7 46.5h.6M326.5 24.5h.6M351.2 97.7h.6M329.2 106.8h.6M344.7 106.4h.6M303.2 64.6h.6M339.7 114.8h.6M306.1 110.7h.6M287.2 63.6h.6M288.4 105.5h.6M299.5 105.0h.6M286.9 66.7h.6M344.1 117.3h.6M352.7 94.3h.6M280.4 60.5h.6M348.9 97.7h.6M292.4 105.3h.6M293.5 67.6h.6M347.6 65.1h.6M310.2 53.8h.6M307.1 49.5h.6M311.7 65.2h.6M352.9 118.4h.6M297.3 49.5h.6M311.6 59.0h.6M328.2 106.8h.6M321.2 106.4h.6M312.5 61.5h.6M329.3 61.8h.6M313.1 106.9h.6M323.2 47.0h.6M302.5 66.8h.6M354.8 82.3h.6M299.9 61.6h.6M335.9 65.9h.6M298.1 113.2h.6M353.8 94.2h.6M334.6 60.6h.6M337.2 109.1h.6M298.5 53.3h.6M307.0 59.5h.6M315.8 55.7h.6M284.6 95.6h.6M315.5 58.2h.6M293.4 65.4h.6M339.4 64.9h.6M335.2 110.9h.6M292.9 68.3h.6M324.2 54.0h.6M325.4 67.7h.6M350.7 65.2h.6M318.0 115.9h.6M285.6 77.9h.6M348.1 98.0h.6M307.0 68.0h.6M322.4 107.3h.6M323.8 61.6h.6M338.7 108.4h.6M316.0 110.8h.6M327.9 105.4h.6M319.0 106.1h.6M308.9 106.5h.6M294.9 67.2h.6M342.1 110.8h.6M332.3 111.0h.6M301.2 104.8h.6M325.5 118.8h.6M311.2 45.6h.6M349.2 97.5h.6M315.9 61.0h.6M353.6 78.2h.6M284.9 83.7h.6M311.5 67.7h.6M299.0 105.6h.6M328.9 68.0h.6M324.9 108.5h.6M328.2 105.2h.6M350.8 74.0h.6M326.9 67.9h.6M315.9 104.9h.6M350.6 100.3h.6M286.6 108.6h.6M350.7 95.9h.6M317.4 67.3h.6M342.3 106.7h.6M281.9 95.8h.6M346.1 106.2h.6M285.4 96.3h.6M282.5 68.1h.6M353.0 82.9h.6M342.9 67.0h.6M334.3 108.2h.6M322.3 67.6h.6M340.8 105.0h.6M342.1 57.6h.6M298.2 59.7h.6M351.1 70.9h.6M305.7 117.6h.6M293.7 55.0h.6M322.3 106.5h.6M282.5 67.4h.6M341.4 111.6h.6M341.0 105.8h.6M285.6 70.9h.6M349.4 88.0h.6M349.8 69.7h.6M294.2 52.3h.6M315.8 69.1h.6M287.9 106.6h.6M281.0 69.5h.6M351.7 83.5h.6M311.1 64.3h.6M349.3 89.2h.6M289.4 64.1h.6M318.3 52.7h.6M279.1 40.8h.6M354.3 70.9h.6M346.5 107.5h.6M316.1 69.3h.6M315.7 56.0h.6M311.4 57.1h.6M307.3 68.9h.6M328.0 47.8h.6M344.3 65.6h.6M282.1 106.5h.6M319.5 52.3h.6M281.5 65.2h.6M320.4 107.9h.6M313.7 105.9h.6M342.4 117.1h.6M289.1 63.0h.6M348.4 91.0h.6M319.3 61.4h.6M309.2 108.7h.6M322.0 117.6h.6M316.5 68.3h.6M287.9 64.3h.6M323.4 67.9h.6M285.6 105.5h.6M308.6 66.3h.6M303.1 38.4h.6M348.6 91.3h.6M284.5 91.1h.6M320.6 108.9h.6M351.0 99.0h.6M291.0 65.5h.6M282.6 111.1h.6M314.9 69.4h.6M285.9 72.7h.6M349.5 81.5h.6M344.6 110.0h.6M340.6 66.1h.6M285.7 73.5h.6M304.1 106.8h.6M348.9 82.8h.6M337.0 62.3h.6M291.9 57.3h.6M282.6 62.7h.6M349.4 77.0h.6M293.5 65.8h.6M299.6 106.5h.6M293.2 62.4h.6M350.5 78.8h.6M354.5 63.8h.6M303.4 59.0h.6M306.6 53.2h.6M318.5 58.4h.6M285.6 89.5h.6M303.4 68.5h.6M343.6 66.9h.6M303.4 60.4h.6M292.1 47.2h.6M304.3 52.8h.6M312.4 110.8h.6M336.4 106.3h.6M284.1 83.1h.6M350.8 66.1h.6M349.0 95.4h.6M282.9 75.4h.6M284.6 60.9h.6M350.6 95.2h.6M350.2 84.6h.6M326.7 107.9h.6M280.4 79.1h.6M281.1 67.1h.6M290.1 61.5h.6M352.0 74.4h.6M324.9 109.3h.6M294.8 50.1h.6M327.3 105.0h.6M293.8 104.8h.6M282.5 85.9h.6M311.2 47.5h.6M314.3 105.4h.6M303.3 67.7h.6M300.3 66.2h.6M347.9 108.6h.6M300.3 109.3h.6M325.2 112.6h.6M322.9 32.2h.6M286.6 46.1h.6M338.6 117.9h.6M301.3 67.1h.6M296.5 68.5h.6M349.8 79.4h.6M325.7 68.6h.6M343.5 65.5h.6M290.3 66.3h.6M283.6 79.1h.6M327.9 112.1h.6M328.8 67.3h.6M287.0 53.5h.6M311.0 57.0h.6M304.0 60.6h.6M341.4 67.1h.6M282.0 102.2h.6M351.5 84.5h.6M357.5 93.0h.6M289.3 64.9h.6M313.9 108.3h.6M315.7 117.0h.6M285.5 63.8h.6M299.2 111.6h.6M308.7 113.3h.6M281.3 80.5h.6M313.0 105.4h.6M323.3 107.3h.6M350.8 98.6h.6M311.2 53.3h.6M349.5 103.9h.6M304.6 60.1h.6M289.9 58.7h.6M322.0 61.3h.6M312.7 106.4h.6M281.8 101.3h.6M288.4 67.0h.6M323.5 69.1h.6M349.8 72.0h.6M353.3 65.9h.6M348.8 98.4h.6M322.9 67.4h.6M308.3 110.2h.6M356.2 90.7h.6M307.9 55.0h.6M307.2 58.6h.6M305.2 67.8h.6M279.9 93.4h.6M284.2 99.9h.6M297.2 59.1h.6M307.8 65.8h.6M335.8 65.3h.6M298.9 68.3h.6M301.0 40.9h.6M292.8 67.2h.6M336.1 111.5h.6M311.5 105.1h.6M284.8 89.4h.6M337.8 64.9h.6M280.3 84.8h.6M326.4 66.9h.6M283.2 74.4h.6M323.3 66.5h.6M287.6 67.6h.6M351.8 77.3h.6M281.5 84.5h.6M282.9 68.9h.6M318.5 108.2h.6M284.8 60.0h.6M350.8 91.4h.6M351.6 90.5h.6M299.0 48.5h.6M323.8 106.9h.6M300.7 39.1h.6M297.6 111.4h.6M350.1 73.1h.6M348.4 80.6h.6M283.2 77.4h.6M319.5 51.8h.6M351.3 87.3h.6M302.8 44.1h.6M299.7 57.1h.6M334.0 64.5h.6M349.3 100.2h.6M296.6 104.8h.6M281.4 101.9h.6M324.0 63.4h.6M339.1 108.2h.6M299.3 105.8h.6M305.0 111.5h.6M284.6 70.1h.6M352.3 97.8h.6M349.6 90.6h.6M345.3 112.9h.6M352.5 81.7h.6M299.1 58.0h.6M324.8 105.5h.6M317.4 111.5h.6M332.6 66.6h.6M310.2 61.4h.6M341.0 63.9h.6M306.5 59.3h.6M338.9 66.5h.6M283.1 22.1h.6M337.2 121.0h.6M283.4 74.4h.6M349.0 69.3h.6M311.1 120.7h.6M340.0 106.5h.6M324.1 107.8h.6M289.8 106.7h.6M299.5 56.9h.6M304.6 106.6h.6M324.7 65.4h.6M285.0 68.9h.6M281.5 99.2h.6M289.2 48.7h.6M311.5 64.9h.6M297.5 56.1h.6M330.0 105.0h.6M348.8 104.3h.6M308.8 69.2h.6M314.0 109.3h.6M338.4 108.8h.6M355.2 86.2h.6M348.3 101.4h.6M334.2 105.6h.6M289.6 111.6h.6M352.4 74.9h.6M348.3 99.3h.6M284.8 103.2h.6M284.8 104.1h.6M283.5 71.3h.6M303.3 54.9h.6M300.6 56.3h.6M291.3 58.4h.6M338.9 110.3h.6M331.7 67.1h.6M303.8 68.3h.6M348.2 75.0h.6M283.6 79.2h.6M319.5 108.7h.6M316.4 106.7h.6M304.2 109.7h.6M349.6 77.2h.6M311.1 49.6h.6M347.6 108.5h.6M345.6 65.5h.6M288.1 107.4h.6M321.9 106.9h.6M353.1 77.5h.6M341.2 64.3h.6M281.4 33.2h.6M280.4 105.3h.6M304.0 116.9h.6M295.9 68.0h.6M294.0 105.2h.6M289.5 59.4h.6M305.4 46.7h.6M342.9 110.8h.6M299.3 108.2h.6M316.6 104.8h.6M355.6 60.3h.6M313.3 52.9h.6M309.1 52.8h.6M316.7 112.4h.6M295.0 55.4h.6M333.5 110.4h.6M348.6 100.2h.6M348.6 90.1h.6M294.3 105.3h.6M284.4 99.0h.6M286.0 48.8h.6M316.6 67.9h.6M343.8 66.7h.6M315.7 68.5h.6M303.8 60.4h.6M345.3 108.3h.6M315.9 105.5h.6M288.1 55.8h.6M341.8 65.2h.6M300.8 104.8h.6M315.0 105.6h.6M292.3 68.7h.6M286.9 67.7h.6M285.9 57.8h.6M318.2 106.2h.6M312.6 54.2h.6M316.6 105.0h.6M348.7 64.5h.6M287.9 61.7h.6M331.1 108.6h.6M343.8 66.8h.6M328.1 67.8h.6M331.8 67.6h.6M303.9 59.3h.6M351.0 85.4h.6M338.1 108.4h.6M285.4 85.6h.6M293.0 68.6h.6M302.9 61.7h.6M281.4 88.5h.6M282.4 91.4h.6M347.3 107.2h.6M291.9 58.7h.6M298.0 65.6h.6M345.3 63.5h.6M354.6 78.2h.6M313.4 107.4h.6M333.7 109.4h.6M297.9 60.0h.6M285.1 105.5h.6M350.8 69.3h.6M343.0 61.5h.6M311.6 58.6h.6M352.9 76.1h.6M298.0 63.8h.6M309.6 112.1h.6M348.1 95.9h.6M285.0 89.6h.6M341.5 66.9h.6M331.4 106.6h.6M324.8 107.3h.6M324.3 107.8h.6M304.1 65.0h.6M296.2 105.2h.6M348.9 90.8h.6M327.4 64.9h.6M307.6 46.5h.6M292.1 119.4h.6M299.4 62.6h.6M285.2 75.6h.6M329.3 55.1h.6M353.9 68.7h.6M285.1 85.7h.6M333.2 56.6h.6M306.5 53.6h.6M279.9 69.0h.6M321.4 109.8h.6M345.9 64.3h.6M343.4 105.3h.6M316.4 111.8h.6M301.1 106.5h.6M332.3 105.3h.6M331.2 114.7h.6M296.0 65.3h.6M348.3 63.8h.6M280.4 54.1h.6M324.4 111.8h.6M295.1 47.3h.6M332.1 67.6h.6M354.8 60.8h.6M319.8 65.8h.6M335.6 66.4h.6M322.3 67.2h.6M288.4 115.8h.6M292.2 64.4h.6M293.8 108.8h.6M314.8 69.0h.6M337.3 67.1h.6M284.6 99.1h.6M311.7 55.2h.6M282.3 67.0h.6M292.5 64.2h.6M301.4 114.0h.6M348.8 84.0h.6M325.8 67.8h.6M321.3 65.7h.6M298.1 105.5h.6M349.4 95.8h.6M281.7 70.3h.6M292.0 51.6h.6M348.9 89.5h.6M305.5 48.3h.6M329.3 108.9h.6M314.3 55.1h.6M301.3 105.8h.6M290.4 49.6h.6M333.9 105.9h.6M285.5 73.1h.6M353.5 98.4h.6M359.3 117.9h.6M350.1 98.1h.6M323.6 109.1h.6M311.6 106.4h.6M308.0 51.6h.6M311.3 106.7h.6M328.9 64.4h.6M283.8 55.5h.6M347.8 106.0h.6M341.7 114.4h.6M317.2 112.7h.6M311.4 49.9h.6M309.4 107.9h.6M310.6 68.0h.6M314.6 53.4h.6M341.9 66.9h.6M279.1 88.7h.6M349.2 83.3h.6M312.4 107.3h.6M285.2 96.2h.6M308.0 109.9h.6M318.7 67.3h.6M296.5 50.6h.6M349.2 90.7h.6M350.1 87.8h.6M349.7 84.0h.6M285.1 98.3h.6M349.6 104.4h.6M310.1 53.1h.6M348.5 74.5h.6M308.5 114.4h.6M326.4 38.1h.6M307.5 65.9h.6M291.6 106.1h.6M294.6 108.0h.6M319.1 68.1h.6M345.1 63.1h.6M312.8 46.7h.6M283.5 62.0h.6M286.3 105.7h.6M285.5 89.9h.6M348.9 77.2h.6M340.0 43.4h.6M320.3 110.9h.6M347.9 66.9h.6M349.5 79.1h.6M283.9 71.5h.6M342.0 106.2h.6M301.0 67.5h.6M329.2 107.1h.6M330.8 66.9h.6M350.3 108.7h.6M284.8 91.1h.6M321.6 42.3h.6M281.7 114.2h.6M301.9 116.2h.6M319.3 55.4h.6M313.3 66.9h.6M290.5 104.9h.6M284.5 68.5h.6M316.4 109.5h.6M304.5 50.5h.6M309.5 65.9h.6M326.1 104.9h.6M345.9 61.8h.6M339.7 106.2h.6M296.8 64.0h.6M284.5 68.3h.6M351.7 86.4h.6M299.4 33.5h.6M285.3 62.6h.6M308.5 61.9h.6M325.3 61.6h.6M286.3 55.3h.6M283.4 87.2h.6M318.2 66.7h.6M316.6 56.2h.6M308.9 54.4h.6M310.5 64.7h.6M345.6 64.2h.6M291.6 104.8h.6M312.5 116.8h.6M331.4 66.4h.6M303.6 67.2h.6M351.4 70.1h.6M284.9 77.2h.6M301.8 63.0h.6M355.5 98.5h.6M301.8 58.3h.6M285.3 102.3h.6M332.0 57.0h.6M292.1 107.1h.6M297.2 105.5h.6M315.2 106.2h.6M306.6 113.8h.6M296.6 123.4h.6M291.8 58.9h.6M285.2 81.3h.6M288.2 63.6h.6M289.2 63.4h.6M288.3 56.7h.6M342.8 106.6h.6M308.4 50.8h.6M351.7 95.8h.6M349.7 108.7h.6M308.6 108.8h.6M348.9 70.9h.6M284.6 105.9h.6M350.0 105.2h.6M305.1 53.7h.6M308.2 63.3h.6M349.4 75.3h.6M312.0 67.9h.6M292.9 67.7h.6M316.7 42.2h.6M282.7 66.5h.6M365.8 111.7h.6M326.6 68.5h.6M292.3 114.1h.6M285.2 87.0h.6M333.7 119.0h.6M285.2 92.0h.6M292.9 66.7h.6M282.9 52.9h.6M345.5 105.1h.6M291.9 110.9h.6M348.6 79.7h.6M288.6 68.7h.6M296.4 49.3h.6M348.5 70.4h.6M335.9 58.9h.6M306.5 105.8h.6M294.2 106.6h.6M285.6 79.7h.6M291.2 54.5h.6M304.3 56.5h.6M345.7 66.4h.6M357.5 92.7h.6M348.6 61.3h.6M349.0 105.6h.6M282.7 63.1h.6M349.8 87.3h.6M335.8 107.4h.6M282.1 106.0h.6M300.8 63.2h.6M309.9 69.0h.6M357.1 64.6h.6M315.6 67.2h.6M285.9 86.4h.6M326.4 66.5h.6M311.8 113.5h.6M279.9 51.3h.6M345.8 110.8h.6M300.9 53.1h.6M330.9 68.0h.6M348.9 68.8h.6M285.4 77.9h.6M351.8 79.7h.6M351.7 93.7h.6M315.7 65.7h.6M353.0 62.7h.6M342.5 64.4h.6M308.6 66.9h.6M297.6 116.8h.6M309.8 68.2h.6M280.5 62.1h.6M317.9 67.7h.6M318.4 107.7h.6M302.6 51.1h.6M284.4 96.7h.6M335.2 65.0h.6M301.4 47.0h.6M348.9 74.7h.6M279.7 100.7h.6M310.7 65.8h.6M306.0 66.4h.6M293.4 67.0h.6M319.0 67.7h.6M350.0 94.8h.6M349.4 79.2h.6M350.6 79.5h.6M347.0 65.1h.6M282.4 108.2h.6M293.8 113.9h.6M288.0 30.0h.6M309.9 110.7h.6M348.4 106.2h.6M349.0 101.7h.6M302.9 57.3h.6M285.6 72.5h.6M302.8 68.9h.6M307.3 112.7h.6M286.6 107.7h.6M315.3 48.0h.6M289.0 66.9h.6M312.5 69.2h.6M330.0 116.2h.6M347.6 107.0h.6M290.4 47.5h.6M295.7 106.4h.6M303.1 60.6h.6M300.6 58.8h.6M304.9 105.4h.6M319.9 105.2h.6M299.8 106.6h.6M350.8 112.5h.6M349.9 88.4h.6M303.9 107.7h.6M293.8 105.2h.6M310.3 65.2h.6M313.5 61.4h.6M349.0 83.6h.6M301.8 68.7h.6M337.3 27.8h.6M281.9 82.6h.6M287.3 109.6h.6M351.9 81.3h.6M351.2 105.4h.6M286.2 65.7h.6M336.2 67.0h.6M325.8 67.2h.6M325.6 55.2h.6M284.8 101.9h.6M303.9 106.4h.6M322.0 67.9h.6M351.1 88.1h.6M335.9 105.1h.6M283.0 62.0h.6M356.9 99.7h.6M328.7 67.4h.6M345.7 65.4h.6M332.7 67.4h.6M286.0 102.2h.6M350.7 94.1h.6M284.8 84.0h.6M308.5 57.7h.6M284.1 86.0h.6M355.8 97.7h.6M341.3 61.4h.6M342.8 112.9h.6M297.6 110.5h.6M338.3 66.2h.6M293.0 106.5h.6M311.2 109.2h.6M292.5 106.2h.6M285.1 100.0h.6M316.2 69.2h.6M284.6 89.8h.6M291.8 47.8h.6M306.9 63.5h.6M307.3 31.1h.6M298.5 67.3h.6M317.6 116.6h.6M285.4 74.6h.6M337.7 117.3h.6M323.1 109.3h.6M289.4 61.2h.6M305.8 55.6h.6M284.6 85.6h.6M349.1 105.7h.6M284.1 94.5h.6M349.6 79.1h.6M308.4 69.1h.6M349.0 105.3h.6M281.0 56.4h.6M307.3 105.8h.6M349.5 117.4h.6M284.2 87.5h.6M294.7 67.3h.6M301.1 105.5h.6M299.6 106.2h.6M337.4 66.3h.6M323.9 108.0h.6M316.4 69.3h.6M303.8 55.4h.6M319.3 109.8h.6M341.0 107.1h.6M335.3 62.3h.6M323.5 108.6h.6M326.9 105.0h.6M327.2 67.0h.6M285.1 72.1h.6M311.3 56.3h.6M285.4 78.3h.6M330.2 108.8h.6M289.1 57.8h.6M352.1 72.3h.6M336.5 66.1h.6M292.4 68.4h.6M348.1 72.5h.6M348.4 91.4h.6M342.7 106.8h.6M288.2 105.5h.6M323.0 105.3h.6M317.8 105.6h.6M335.5 64.0h.6M339.1 106.2h.6M322.6 105.7h.6M309.5 105.6h.6M313.1 61.4h.6M289.5 108.0h.6M334.3 66.4h.6M319.6 65.1h.6M330.4 62.1h.6M282.5 49.0h.6M282.8 69.1h.6M279.1 89.5h.6M286.0 61.7h.6M316.8 63.4h.6M320.3 69.2h.6M325.7 67.9h.6M302.2 68.3h.6M302.3 60.0h.6M289.6 105.5h.6M306.3 49.2h.6M286.0 76.8h.6M334.7 67.2h.6M331.8 106.3h.6M281.7 57.3h.6M307.3 107.0h.6M313.7 118.3h.6M319.8 60.7h.6M285.8 100.7h.6M314.5 105.0h.6M349.0 86.3h.6M308.3 59.4h.6M299.0 108.4h.6M282.0 78.8h.6M311.8 57.2h.6M324.8 68.8h.6M296.3 68.2h.6M348.6 92.4h.6M294.7 54.6h.6M331.7 107.6h.6M316.8 67.5h.6M352.1 80.5h.6M348.8 78.1h.6M325.7 119.5h.6M325.6 105.5h.6M306.4 60.9h.6M348.7 96.5h.6M346.0 64.9h.6M354.0 69.5h.6M299.3 65.4h.6M292.9 53.5h.6M285.6 94.2h.6M321.7 52.3h.6M348.7 103.7h.6M356.4 103.7h.6M308.5 67.8h.6M350.9 66.6h.6M299.0 57.4h.6M308.0 67.8h.6M348.4 95.9h.6M309.5 68.0h.6M289.1 66.5h.6M285.9 87.1h.6M305.0 105.2h.6M319.0 69.4h.6M312.6 50.8h.6M311.5 110.2h.6M285.9 75.2h.6M316.4 108.2h.6M326.4 67.5h.6M352.1 98.8h.6M307.6 67.9h.6M332.8 106.3h.6M348.6 73.2h.6M294.7 68.1h.6M319.6 108.7h.6M354.0 103.8h.6M309.1 67.1h.6M284.8 102.2h.6M301.5 116.2h.6M314.4 52.3h.6M294.3 55.6h.6M285.3 79.3h.6M306.6 68.0h.6M279.6 101.8h.6M286.9 62.1h.6M295.1 62.8h.6M305.0 62.4h.6M317.3 107.9h.6M284.0 76.9h.6M288.0 107.5h.6M340.7 104.8h.6M333.2 67.5h.6M346.3 63.0h.6M297.5 59.4h.6M298.7 60.5h.6M304.5 56.9h.6M282.3 104.1h.6M327.4 116.9h.6M308.9 67.3h.6M300.6 105.4h.6M350.0 99.1h.6M311.5 108.1h.6M311.4 46.9h.6M344.8 30.7h.6M328.4 105.3h.6M309.9 64.7h.6M298.0 55.7h.6M284.4 88.4h.6M293.5 56.9h.6M323.8 68.7h.6M294.4 68.1h.6M292.0 110.3h.6M356.5 73.7h.6M356.8 94.5h.6M308.7 51.6h.6M284.8 105.1h.6M326.0 56.7h.6M315.9 53.6h.6M344.3 105.4h.6M313.2 45.0h.6M309.9 64.5h.6M333.3 109.5h.6M340.1 65.9h.6M282.3 71.4h.6M316.4 57.9h.6M350.1 81.7h.6M317.1 61.5h.6M285.3 84.0h.6M282.6 40.3h.6M352.9 90.8h.6M350.6 64.7h.6M297.3 106.4h.6M334.7 67.6h.6M350.9 63.1h.6M302.2 58.8h.6M305.1 106.2h.6M304.0 60.6h.6M298.9 50.8h.6M310.8 66.6h.6M284.3 98.6h.6M286.9 67.0h.6M285.7 61.0h.6M286.4 41.2h.6M279.9 52.8h.6M337.1 104.9h.6M331.1 64.1h.6M298.9 44.3h.6M302.4 62.9h.6M294.0 106.3h.6M301.2 44.7h.6M315.8 67.4h.6M285.6 74.1h.6M324.6 28.6h.6M303.6 68.9h.6M307.1 67.5h.6M281.3 103.7h.6M299.5 46.8h.6M298.0 60.0h.6M299.3 61.3h.6M307.5 114.4h.6M316.3 60.4h.6M285.4 80.3h.6M296.6 66.8h.6M347.2 106.9h.6M324.4 50.2h.6M284.1 69.1h.6M285.8 63.2h.6M353.3 95.5h.6M307.2 36.4h.6M298.6 63.6h.6M342.3 108.7h.6M340.3 63.2h.6M280.7 58.8h.6M296.1 68.0h.6M295.4 51.0h.6M352.8 89.0h.6M290.3 106.8h.6M305.9 107.6h.6M310.2 56.7h.6M337.3 106.7h.6M349.3 74.3h.6M293.4 49.7h.6M339.3 64.2h.6M311.2 108.1h.6M351.7 98.0h.6M309.5 110.8h.6M284.8 96.2h.6M333.0 66.5h.6M343.4 121.2h.6M287.4 67.3h.6M304.2 107.1h.6M316.3 62.1h.6M333.9 66.4h.6M301.5 56.1h.6M314.8 106.6h.6M305.6 53.5h.6M289.4 107.7h.6M285.1 104.6h.6M314.4 62.7h.6M352.3 68.4h.6M288.3 60.9h.6M308.2 63.1h.6M291.9 105.7h.6M283.3 91.1h.6M299.5 106.0h.6M307.2 60.1h.6M294.6 57.3h.6M280.1 49.2h.6M301.5 62.1h.6M313.5 106.2h.6M349.0 103.4h.6M289.5 61.3h.6M344.5 105.2h.6M321.7 67.1h.6M282.9 84.8h.6M337.3 66.7h.6M342.6 65.2h.6M343.6 65.5h.6M321.1 55.2h.6M325.7 63.9h.6M343.6 112.3h.6M283.0 98.3h.6M348.4 79.2h.6M354.1 73.4h.6M297.3 59.0h.6M350.1 80.8h.6M301.8 69.0h.6M347.8 68.3h.6M320.4 47.1h.6M285.9 88.1h.6M345.9 67.0h.6M323.7 105.1h.6M281.9 95.1h.6M280.5 109.8h.6M347.6 64.5h.6M337.3 67.0h.6M285.4 62.9h.6M341.4 107.7h.6M315.4 65.9h.6M348.8 94.1h.6M308.7 118.5h.6M306.1 63.7h.6M308.5 107.9h.6M306.4 67.5h.6M298.8 67.5h.6M349.7 72.5h.6M283.9 88.3h.6M350.0 83.4h.6M338.1 106.7h.6M288.3 68.1h.6M285.7 60.9h.6M353.4 85.0h.6M294.9 55.0h.6M349.4 86.1h.6M301.3 44.1h.6M333.3 115.2h.6M320.9 68.5h.6M341.5 62.7h.6M293.0 68.6h.6M296.5 51.9h.6M303.0 118.5h.6M344.6 106.8h.6M283.7 78.9h.6M340.5 107.8h.6M314.5 65.4h.6M302.7 55.0h.6M351.0 70.0h.6M358.2 70.4h.6M316.5 51.3h.6M348.8 109.0h.6M282.1 108.2h.6M334.9 105.6h.6M285.3 76.6h.6M330.3 109.7h.6M293.7 69.0h.6M323.0 65.8h.6M285.8 98.2h.6M301.0 60.8h.6M331.3 106.5h.6M292.8 42.3h.6M294.2 63.7h.6M341.4 65.3h.6M309.5 120.8h.6M292.3 64.6h.6M309.5 106.7h.6M285.8 97.9h.6M346.7 109.0h.6M326.0 106.5h.6M325.9 105.6h.6M325.3 69.0h.6M344.1 105.5h.6M296.1 105.9h.6M302.0 61.5h.6M323.6 67.5h.6M314.5 108.8h.6M318.4 108.4h.6M294.1 105.1h.6M314.6 113.0h.6M315.8 59.3h.6M297.7 57.1h.6M295.6 106.6h.6M291.0 106.6h.6M304.6 63.8h.6M317.1 61.2h.6M284.3 73.6h.6M309.8 106.9h.6M322.7 108.9h.6M291.3 68.3h.6M341.3 105.2h.6M305.8 60.5h.6M310.9 68.4h.6M322.1 59.4h.6M296.6 68.1h.6M351.6 71.7h.6M300.8 51.2h.6M319.9 69.3h.6M308.2 58.5h.6M340.9 65.8h.6M331.5 105.1h.6M314.9 106.2h.6M347.8 102.3h.6M350.0 92.4h.6M349.2 85.1h.6M328.8 67.1h.6M319.2 118.3h.6M349.3 86.8h.6M290.4 85.4h.6M282.2 44.3h.6M339.9 106.2h.6M330.0 113.1h.6M303.1 68.9h.6M338.7 109.3h.6M308.2 59.5h.6M285.6 55.6h.6M345.7 107.7h.6M335.7 62.5h.6M317.7 47.7h.6M283.1 93.8h.6M284.2 106.3h.6M313.7 41.3h.6M284.0 92.9h.6M297.8 55.3h.6M302.3 115.0h.6M349.1 82.4h.6M302.0 54.3h.6M345.9 65.8h.6M299.8 105.3h.6M338.4 65.6h.6M343.8 110.5h.6M321.6 107.7h.6M283.3 80.9h.6M352.8 93.0h.6M301.9 62.6h.6M348.1 105.0h.6M300.8 47.6h.6M340.9 105.1h.6M312.1 106.2h.6M356.9 101.0h.6M342.5 104.9h.6M316.9 60.5h.6M307.8 104.9h.6M289.1 66.4h.6M350.9 70.1h.6M290.4 50.8h.6M308.0 109.9h.6M281.1 111.0h.6M300.4 105.5h.6M304.7 63.3h.6M319.4 56.6h.6M327.9 59.5h.6M294.9 57.9h.6M303.4 68.2h.6M292.1 63.0h.6M282.4 98.4h.6M338.7 67.0h.6M287.2 107.0h.6M282.9 77.9h.6M350.3 78.3h.6M332.0 105.7h.6M292.3 108.5h.6M312.5 51.2h.6M349.7 108.2h.6M285.6 51.1h.6M308.8 62.8h.6M353.8 92.2h.6M306.9 61.7h.6M348.5 91.6h.6M284.5 67.2h.6M290.8 62.2h.6M307.9 58.2h.6M296.0 69.0h.6M308.0 55.5h.6M337.8 27.6h.6M293.7 58.1h.6M291.7 54.0h.6M326.9 119.2h.6M305.5 107.4h.6M284.2 100.6h.6M345.1 104.8h.6M282.8 92.7h.6M340.3 66.1h.6M356.4 95.4h.6M307.3 60.1h.6M307.0 52.8h.6M295.5 68.1h.6M321.1 108.4h.6M308.5 57.4h.6M350.8 103.4h.6M296.4 58.0h.6M312.9 106.1h.6M309.9 121.9h.6M286.0 67.0h.6M306.5 109.2h.6M360.9 78.8h.6M284.5 82.7h.6M351.0 83.1h.6M319.0 67.9h.6M299.6 56.1h.6M350.5 64.7h.6M297.4 107.9h.6M288.6 106.0h.6M286.0 95.3h.6M349.1 103.7h.6M301.0 63.2h.6M284.6 66.8h.6M331.9 107.8h.6M280.1 94.5h.6M284.5 75.5h.6M322.1 67.8h.6M297.9 59.9h.6M285.9 97.0h.6M346.1 66.0h.6M349.2 82.2h.6M314.8 50.4h.6M281.8 78.0h.6M350.5 49.1h.6M309.3 59.9h.6M352.8 90.4h.6M293.0 68.2h.6M306.2 109.0h.6M291.8 109.4h.6M321.3 68.3h.6M336.2 65.1h.6M322.1 66.2h.6M285.4 100.1h.6M285.1 90.7h.6M349.3 62.5h.6M288.3 108.7h.6M318.4 63.6h.6M289.3 122.7h.6M324.0 111.5h.6M349.4 107.4h.6M352.1 96.1h.6M337.3 105.1h.6M350.9 116.2h.6M297.3 65.4h.6M310.7 55.4h.6M340.8 66.0h.6M351.7 85.6h.6M337.5 106.4h.6M349.6 91.6h.6M335.4 106.1h.6M281.7 79.0h.6M303.5 106.0h.6M339.7 109.1h.6M346.8 116.4h.6M333.8 110.5h.6M302.8 59.4h.6M283.8 100.5h.6M361.2 109.9h.6M284.7 70.8h.6M313.2 69.2h.6M340.1 65.6h.6M296.5 68.8h.6M288.4 62.0h.6M281.0 49.0h.6M312.6 67.9h.6M314.0 115.4h.6M337.6 106.8h.6M330.2 107.5h.6M347.8 106.2h.6M285.9 100.1h.6M329.6 64.9h.6M300.2 67.5h.6M308.7 109.6h.6M352.3 106.4h.6M296.6 68.2h.6M317.2 64.2h.6M316.9 69.4h.6M352.0 87.3h.6M285.0 90.2h.6M286.7 66.6h.6M315.8 65.3h.6M329.3 118.1h.6M348.8 92.9h.6M304.8 109.9h.6M328.7 105.5h.6M294.1 65.8h.6M282.8 91.2h.6M287.5 68.1h.6M283.8 92.3h.6M285.8 79.9h.6M314.3 108.4h.6M306.4 68.6h.6M301.9 49.5h.6M284.6 80.3h.6M284.4 91.5h.6M301.0 66.2h.6M304.4 47.0h.6M280.2 72.3h.6M285.8 69.4h.6M353.8 74.7h.6M302.1 59.4h.6M309.9 68.2h.6M346.4 66.7h.6M292.8 105.2h.6M332.5 112.9h.6M353.4 94.2h.6M354.4 94.7h.6M285.5 91.1h.6M281.7 100.5h.6M313.7 107.3h.6M321.1 108.0h.6M305.3 61.4h.6M350.1 95.8h.6M349.7 80.4h.6M309.4 68.8h.6M311.6 66.4h.6M339.6 108.0h.6M298.7 56.8h.6M299.5 68.1h.6M326.3 68.1h.6M334.6 106.7h.6M316.8 117.0h.6M293.5 110.9h.6M339.4 111.1h.6M315.0 58.6h.6M348.1 72.6h.6M313.4 108.0h.6M317.5 110.7h.6M282.8 100.7h.6M288.7 107.3h.6M327.2 107.5h.6M280.8 56.1h.6M281.8 107.9h.6M300.3 110.7h.6M350.0 64.3h.6M307.3 106.4h.6M299.6 51.5h.6M295.1 67.8h.6M285.2 89.1h.6M311.3 109.3h.6M296.4 65.8h.6M307.4 55.0h.6M285.3 71.6h.6M288.9 54.3h.6M318.9 54.5h.6M346.1 107.8h.6M304.5 68.5h.6M316.6 68.8h.6M294.1 64.3h.6M318.7 68.4h.6M295.4 61.8h.6M294.0 68.8h.6M282.9 102.6h.6M307.7 107.5h.6M341.5 65.7h.6M348.7 103.6h.6M289.3 68.7h.6M282.3 79.7h.6M285.6 86.6h.6M325.5 65.7h.6M356.1 45.3h.6M281.3 48.9h.6M351.5 78.3h.6M312.6 106.6h.6M349.9 86.8h.6M320.3 109.8h.6M330.3 66.1h.6M283.9 79.1h.6M341.2 106.8h.6M287.1 61.5h.6M309.8 112.5h.6M302.0 68.7h.6M281.2 72.6h.6M289.9 53.5h.6M289.4 106.2h.6M321.6 110.8h.6M289.2 31.5h.6M307.0 105.0h.6M308.9 117.3h.6M328.7 27.3h.6M313.7 104.8h.6M350.1 105.3h.6M314.4 64.7h.6M346.5 65.9h.6M285.2 79.8h.6M294.6 44.3h.6M359.8 71.9h.6M345.9 66.3h.6M317.2 64.0h.6M350.0 92.9h.6M312.4 68.7h.6M287.6 106.9h.6M284.6 91.7h.6M307.2 68.3h.6M306.5 56.4h.6M340.8 65.6h.6M293.0 105.4h.6M284.7 92.4h.6M346.6 110.4h.6M287.9 109.9h.6M314.9 68.8h.6M284.7 102.9h.6M333.2 113.5h.6M348.1 73.4h.6M299.2 49.7h.6M346.6 109.6h.6M301.8 66.5h.6M304.0 39.9h.6M298.1 113.4h.6M322.4 68.4h.6M344.2 61.1h.6M324.9 107.5h.6M334.1 67.7h.6M332.9 112.5h.6M297.7 47.3h.6M286.3 113.0h.6M290.6 67.3h.6M348.7 57.2h.6M283.1 81.6h.6M349.9 88.1h.6M283.9 105.4h.6M287.8 45.4h.6M293.1 44.0h.6M352.6 93.1h.6M325.0 58.4h.6M300.0 55.4h.6M315.7 105.0h.6M353.6 83.5h.6M350.2 96.5h.6M284.9 97.6h.6M318.5 67.8h.6M310.4 58.2h.6M287.8 68.1h.6M346.8 63.9h.6M289.7 66.8h.6M345.0 108.6h.6M348.1 96.1h.6M296.3 55.3h.6M341.9 107.3h.6M302.4 54.4h.6M313.8 50.4h.6M325.9 105.3h.6M350.3 103.5h.6M348.7 101.1h.6M328.3 48.0h.6M290.1 64.7h.6M326.1 117.7h.6M348.8 87.8h.6M319.6 106.3h.6M337.0 63.5h.6M354.4 94.1h.6M324.3 26.9h.6M314.4 69.3h.6M302.7 67.9h.6M330.9 58.6h.6M330.7 67.8h.6M324.4 106.6h.6M314.1 106.9h.6M350.2 70.2h.6M295.6 33.7h.6M284.2 77.0h.6M294.8 62.5h.6M282.8 77.3h.6M284.9 98.8h.6M315.6 106.0h.6M349.6 98.4h.6M348.7 84.3h.6M299.7 63.9h.6M308.9 58.0h.6M349.9 83.2h.6M285.9 98.5h.6M348.5 100.7h.6M304.1 111.3h.6M288.8 68.0h.6M348.3 93.0h.6M284.0 103.6h.6M330.4 108.6h.6M350.0 102.2h.6M284.9 112.6h.6M307.2 68.8h.6M290.4 61.0h.6M328.1 66.0h.6M331.1 50.2h.6M334.3 111.0h.6M320.5 68.8h.6M352.6 69.5h.6M338.7 106.8h.6M294.6 68.8h.6M347.8 101.4h.6M303.6 68.9h.6M304.7 50.9h.6M291.0 104.8h.6M355.3 91.2h.6M339.6 66.6h.6M310.3 110.7h.6M301.4 55.5h.6M285.9 68.6h.6M352.0 63.8h.6M307.9 53.2h.6M286.3 112.2h.6M303.7 57.3h.6M363.7 94.6h.6M340.6 65.8h.6M316.7 108.3h.6M286.8 42.4h.6M288.7 105.5h.6M310.8 68.5h.6M300.5 56.0h.6M304.9 47.4h.6M284.6 102.5h.6M290.6 47.1h.6M331.4 58.1h.6M351.0 92.3h.6M309.0 67.7h.6M317.8 105.8h.6M316.3 115.9h.6M300.4 60.4h.6M295.5 54.2h.6M354.0 109.7h.6M330.2 66.9h.6M324.5 68.0h.6M283.3 90.2h.6M302.3 105.0h.6M293.6 68.3h.6M310.0 104.8h.6M351.3 91.8h.6M325.1 66.1h.6M351.6 87.7h.6M308.8 54.9h.6M305.1 112.5h.6M352.2 97.3h.6M282.9 71.9h.6M339.7 109.7h.6M284.3 99.1h.6M288.5 105.7h.6M336.5 112.6h.6M308.9 64.7h.6M305.5 109.6h.6M305.1 116.6h.6M285.0 101.9h.6M298.1 105.9h.6M285.2 56.5h.6M312.3 105.4h.6M280.3 104.7h.6M292.1 39.5h.6M307.8 62.8h.6M315.1 51.0h.6M317.4 51.5h.6M317.0 64.4h.6M313.3 51.3h.6M308.6 47.7h.6M287.4 66.9h.6M347.8 100.4h.6M342.6 105.3h.6M296.5 68.2h.6M302.8 68.4h.6M283.6 91.8h.6M347.2 107.0h.6M334.7 65.7h.6M339.6 104.8h.6M349.3 109.8h.6M333.6 66.5h.6M316.5 62.5h.6M302.2 61.5h.6M302.3 39.2h.6M308.4 104.9h.6M307.6 52.5h.6M337.2 61.2h.6M295.0 62.6h.6M279.7 68.7h.6M301.1 67.3h.6M315.3 68.8h.6M315.6 108.6h.6M314.0 106.7h.6M287.2 66.5h.6M303.6 53.1h.6M338.4 67.5h.6M307.7 66.3h.6M346.5 105.4h.6M301.1 65.4h.6M354.5 94.7h.6M302.5 108.2h.6M315.7 64.4h.6M290.0 68.3h.6M351.7 113.6h.6M282.8 85.2h.6M340.3 64.3h.6M302.5 47.4h.6M350.5 84.8h.6M299.2 67.2h.6M294.1 108.5h.6M305.0 105.2h.6M298.7 66.7h.6M347.8 105.4h.6M333.9 67.3h.6M335.6 64.5h.6M349.5 73.4h.6M311.9 53.3h.6M285.4 95.2h.6M348.7 104.6h.6M310.7 58.1h.6M322.4 105.4h.6M292.3 105.6h.6M285.8 103.8h.6M285.3 65.2h.6M345.5 105.5h.6M350.8 85.6h.6M350.8 118.8h.6M285.9 83.2h.6M324.3 109.6h.6M343.5 110.9h.6M347.9 102.7h.6M311.1 63.0h.6M287.3 68.2h.6M282.3 97.6h.6M305.4 63.9h.6M336.6 106.9h.6M296.7 62.8h.6M320.9 105.9h.6M322.1 69.2h.6M333.6 106.7h.6M303.6 68.7h.6M284.1 109.6h.6M350.7 90.1h.6M306.5 46.7h.6M284.6 100.4h.6M348.7 87.9h.6M297.8 48.4h.6M309.0 109.5h.6M288.9 52.9h.6M329.7 63.5h.6M310.7 55.8h.6M280.7 81.6h.6M279.8 76.2h.6M351.3 101.1h.6M297.7 112.2h.6M301.1 68.6h.6M345.8 104.8h.6M296.9 62.1h.6M295.7 107.7h.6M309.9 64.8h.6M313.4 67.7h.6M314.3 63.5h.6M350.9 95.1h.6M341.3 46.6h.6M339.8 60.4h.6M350.9 87.3h.6M348.4 75.0h.6M321.6 68.7h.6M281.3 93.9h.6M293.3 64.1h.6M346.3 66.4h.6M304.1 68.8h.6M345.3 113.3h.6M310.0 110.9h.6M290.4 107.9h.6M288.4 64.0h.6M290.2 107.6h.6M351.3 85.7h.6M362.4 96.6h.6M323.8 68.4h.6M341.5 60.3h.6M331.9 116.4h.6M317.8 69.0h.6M309.5 54.1h.6M312.2 55.7h.6M330.5 114.9h.6M306.9 113.3h.6M321.3 57.0h.6M340.0 106.8h.6M285.8 93.9h.6M321.3 60.3h.6M304.3 58.0h.6M281.1 66.0h.6M337.2 63.7h.6M338.7 105.3h.6M283.9 77.9h.6M324.3 68.4h.6M333.3 65.6h.6M292.4 66.8h.6M308.4 44.5h.6M348.3 79.3h.6M334.5 106.9h.6M344.4 109.3h.6M288.4 54.8h.6M307.6 55.2h.6M306.3 59.0h.6M348.8 66.9h.6M298.7 68.1h.6M290.8 105.5h.6M294.9 64.9h.6M351.7 85.0h.6M339.6 113.2h.6M356.9 97.6h.6M292.4 67.1h.6M349.4 85.6h.6M347.7 105.0h.6M352.5 80.7h.6M283.7 35.1h.6M298.3 52.6h.6M309.7 108.9h.6M284.4 71.4h.6M347.3 105.7h.6M302.0 52.1h.6M306.7 58.6h.6M333.0 64.4h.6M299.2 66.6h.6M321.0 64.3h.6M353.0 116.1h.6M315.7 105.1h.6M306.5 51.6h.6M347.7 64.5h.6M293.9 69.0h.6M348.5 102.7h.6M284.5 97.5h.6M299.2 105.0h.6M329.9 65.9h.6M284.5 91.1h.6M288.4 32.9h.6M349.5 102.7h.6M308.6 62.1h.6M281.6 77.7h.6M303.5 44.5h.6M310.1 108.5h.6M349.8 77.2h.6M349.1 73.8h.6M305.6 68.6h.6M332.3 67.3h.6M350.7 81.1h.6M279.4 92.9h.6M347.4 106.0h.6M315.1 107.7h.6M328.1 65.3h.6M328.0 105.6h.6M344.9 116.8h.6M315.7 114.9h.6M318.0 112.0h.6M299.2 59.4h.6M306.1 65.3h.6M301.3 51.3h.6M280.3 110.5h.6M307.4 106.2h.6M286.0 89.3h.6M300.8 59.9h.6M318.2 67.2h.6M285.4 99.2h.6M318.9 54.5h.6M301.2 67.1h.6M320.0 67.6h.6M304.8 62.2h.6M348.1 69.0h.6M301.8 67.2h.6M338.2 105.8h.6M348.3 68.2h.6M307.7 50.3h.6M335.1 62.1h.6M332.2 64.8h.6M351.7 88.7h.6M308.3 61.2h.6M318.9 108.4h.6M350.2 76.4h.6M279.1 86.1h.6M300.0 54.0h.6M331.8 106.5h.6M348.1 68.4h.6M350.7 88.1h.6M288.9 68.7h.6M326.3 108.0h.6M292.6 68.1h.6M349.4 71.0h.6M290.8 47.6h.6M349.1 76.7h.6M349.1 106.0h.6M364.7 76.6h.6M353.0 96.2h.6M300.1 118.8h.6M353.0 69.0h.6M327.3 66.2h.6M348.2 101.4h.6M347.3 66.5h.6M345.5 66.3h.6M304.7 60.0h.6M301.5 68.7h.6M285.0 101.2h.6M311.0 60.4h.6M343.4 107.1h.6M289.6 50.9h.6M285.8 92.4h.6M311.0 108.1h.6M320.8 119.5h.6M343.9 105.3h.6M344.3 66.9h.6M299.7 68.7h.6M302.3 63.2h.6M354.6 32.8h.6M283.1 102.8h.6M347.0 107.7h.6M308.3 63.5h.6M282.2 63.0h.6M295.0 50.2h.6M315.8 63.7h.6M285.3 87.8h.6M305.9 67.0h.6M340.4 65.5h.6M312.5 110.6h.6M350.4 91.8h.6M328.5 115.9h.6M288.4 68.9h.6M338.0 105.3h.6M284.4 73.5h.6M305.2 65.9h.6M331.1 111.7h.6M284.9 70.4h.6M300.3 52.2h.6M331.6 66.9h.6M330.6 105.9h.6M315.7 69.0h.6M311.5 116.6h.6M283.8 105.9h.6M321.9 56.3h.6M293.9 54.4h.6M304.8 110.4h.6M284.2 73.8h.6M341.4 107.8h.6M296.2 68.5h.6M286.0 100.8h.6M348.6 76.3h.6M349.5 103.2h.6M353.4 100.7h.6M347.9 66.4h.6M299.0 68.9h.6M315.4 46.8h.6M298.4 64.5h.6M290.9 59.0h.6M334.2 63.9h.6M314.2 64.4h.6M284.5 72.0h.6M285.7 68.0h.6M327.1 105.7h.6M349.1 83.3h.6M311.3 115.8h.6M315.9 106.2h.6M296.3 65.3h.6M295.5 67.6h.6M297.4 65.2h.6M304.6 104.8h.6M348.1 76.2h.6M285.0 74.5h.6M303.8 111.6h.6M287.1 66.3h.6M341.3 111.9h.6M280.9 54.5h.6M283.8 66.6h.6M349.0 80.5h.6M355.0 59.1h.6M317.1 108.8h.6M287.6 68.2h.6M333.8 116.4h.6M309.7 109.4h.6M296.0 57.6h.6M303.5 113.5h.6M284.6 97.4h.6M348.6 97.6h.6M337.6 66.9h.6M321.9 50.8h.6M318.6 105.6h.6M291.8 45.4h.6M334.7 105.7h.6M284.5 107.1h.6M285.2 64.9h.6M305.1 57.9h.6M293.2 68.2h.6M317.9 68.9h.6M317.8 105.7h.6M351.0 105.0h.6M305.7 62.2h.6M308.3 108.8h.6M318.8 63.4h.6M316.7 60.5h.6M348.1 98.9h.6M322.6 120.6h.6M291.6 111.4h.6M354.4 95.5h.6M349.0 91.3h.6M288.8 116.8h.6M301.8 57.1h.6M326.0 68.4h.6M283.1 107.3h.6M300.1 107.3h.6M288.0 112.3h.6M343.3 115.5h.6M328.2 107.8h.6M311.8 112.7h.6M283.3 96.9h.6M349.9 80.9h.6M363.6 86.3h.6M294.6 110.8h.6M349.2 69.3h.6M304.1 59.1h.6M298.2 68.1h.6M324.8 53.8h.6M339.1 64.8h.6M349.1 103.8h.6M351.0 69.3h.6M304.5 111.8h.6M307.7 51.4h.6M292.9 108.2h.6M285.1 71.8h.6M314.0 66.5h.6M349.0 89.8h.6M349.6 68.4h.6M303.1 111.8h.6M325.2 108.7h.6M287.3 67.3h.6M300.2 106.5h.6M287.1 43.8h.6M325.1 68.1h.6M335.7 62.9h.6M324.4 67.6h.6M287.3 106.0h.6M307.9 65.4h.6M299.5 56.7h.6M300.4 63.4h.6M343.5 62.6h.6M354.2 94.0h.6M324.2 112.1h.6M302.4 53.3h.6M324.3 112.8h.6M328.7 56.1h.6M301.8 33.0h.6M292.8 35.4h.6M323.4 68.1h.6M308.1 58.9h.6M314.6 49.8h.6M283.6 70.3h.6M350.3 86.9h.6M311.4 59.0h.6M352.6 79.7h.6M319.1 57.2h.6M310.1 68.9h.6M310.3 68.4h.6M280.4 57.0h.6M284.0 81.8h.6M316.3 67.0h.6M322.1 62.5h.6M280.1 93.5h.6M341.6 106.4h.6M285.8 102.9h.6M317.7 66.5h.6M307.1 64.8h.6M353.8 110.4h.6M297.6 62.2h.6M283.5 73.7h.6M317.7 53.9h.6M310.3 57.6h.6M285.8 106.1h.6M297.8 110.2h.6M344.0 109.5h.6M337.4 104.8h.6M292.1 61.3h.6M323.8 107.7h.6M308.9 38.9h.6M314.6 60.0h.6M302.3 64.0h.6M330.0 105.5h.6M311.2 107.8h.6M332.3 108.6h.6M323.2 109.8h.6M290.3 68.0h.6M285.6 97.2h.6M292.4 107.3h.6M281.3 80.7h.6M334.5 65.5h.6M317.7 52.0h.6M349.1 87.2h.6M285.4 94.9h.6M281.2 89.6h.6M290.1 65.3h.6M295.6 106.5h.6M323.4 45.0h.6M283.0 73.0h.6M320.4 106.6h.6M284.4 100.7h.6M315.5 68.5h.6M298.5 106.3h.6M303.6 57.1h.6M316.1 68.9h.6M349.8 102.1h.6M338.7 39.6h.6M337.3 38.2h.6M339.2 38.6h.6M336.2 46.2h.6M344.0 44.1h.6M343.8 38.1h.6M343.5 47.3h.6M337.5 42.7h.6M346.0 37.6h.6M336.5 42.2h.6M340.3 43.6h.6M343.5 37.5h.6M342.9 37.5h.6M342.9 37.3h.6M340.3 36.7h.6M333.0 41.9h.6M341.0 42.5h.6M340.4 45.4h.6M340.4 37.6h.6M331.0 41.0h.6M342.6 42.5h.6M334.7 42.5h.6M337.4 45.0h.6M343.7 39.9h.6M349.0 37.8h.6M346.6 40.3h.6M341.4 40.4h.6M345.4 36.5h.6M339.9 41.8h.6M336.8 38.0h.6M333.4 44.0h.6M343.4 41.2h.6M342.3 37.0h.6M341.5 41.4h.6M339.4 37.4h.6M340.3 41.7h.6M334.4 44.6h.6M346.1 42.0h.6M339.9 41.0h.6M346.3 44.5h.6M342.5 36.7h.6M340.7 40.4h.6M338.3 36.8h.6M347.5 39.2h.6M338.7 42.8h.6M345.8 44.1h.6M347.9 41.2h.6M337.7 45.3h.6M336.2 39.6h.6M344.4 43.1h.6M332.6 44.8h.6M345.2 36.3h.6M347.1 34.9h.6M344.7 41.7h.6M334.6 42.1h.6M337.1 42.0h.6M336.2 44.6h.6M341.4 35.0h.6M342.8 43.1h.6M340.5 48.3h.6M337.3 44.5h.6M335.9 41.2h.6M340.5 44.4h.6M350.7 42.8h.6M344.2 41.4h.6M335.1 40.1h.6M342.8 34.2h.6M345.9 47.6h.6M338.4 39.6h.6M332.4 43.7h.6M333.4 42.9h.6M339.3 45.5h.6M344.3 36.9h.6M338.8 43.5h.6M331.5 48.8h.6M335.0 40.2h.6M343.5 42.2h.6M341.0 37.3h.6M338.7 42.7h.6M338.5 44.0h.6M342.1 38.4h.6M342.8 39.6h.6M345.8 40.4h.6M339.7 39.7h.6M343.1 46.4h.6M341.5 43.1h.6M335.2 36.2h.6M340.7 40.8h.6M339.9 44.1h.6M336.5 39.7h.6M343.7 42.4h.6M344.9 48.6h.6M338.6 35.2h.6M335.2 46.5h.6M341.9 42.4h.6M345.9 37.8h.6M335.8 43.8h.6M342.6 44.2h.6M342.3 49.4h.6M340.4 38.0h.6M343.7 41.9h.6M340.3 38.7h.6M341.8 37.5h.6M335.8 42.0h.6M343.0 38.4h.6M337.0 38.7h.6M346.3 42.2h.6M345.1 38.4h.6M348.3 40.4h.6M342.6 40.1h.6M339.3 40.4h.6M340.3 44.4h.6M343.2 44.2h.6M340.8 38.4h.6M341.7 35.8h.6M340.5 40.0h.6M341.5 41.8h.6M343.4 38.1h.6M343.9 44.0h.6M342.1 40.5h.6M339.8 44.0h.6M333.8 40.9h.6M341.3 39.8h.6M335.7 42.0h.6M336.9 42.2h.6M341.1 42.2h.6M339.9 43.5h.6M335.3 41.5h.6M336.4 43.5h.6M341.4 39.6h.6M345.7 41.2h.6M340.3 44.7h.6M338.6 42.6h.6M340.8 38.4h.6M333.7 41.0h.6M345.2 42.3h.6M344.3 39.8h.6M344.3 38.7h.6M336.2 43.9h.6M345.9 46.5h.6M342.6 40.3h.6M336.3 40.1h.6M343.1 46.4h.6M342.2 48.5h.6M342.0 38.8h.6M333.9 44.5h.6M344.7 37.1h.6M342.2 47.3h.6M342.8 41.3h.6M342.3 43.4h.6M337.0 39.6h.6M340.8 46.5h.6M339.2 43.4h.6M339.0 46.1h.6M338.4 37.0h.6M338.9 42.6h.6M358.4 45.6h.6M335.9 41.3h.6M336.6 40.4h.6M351.9 40.9h.6M340.0 40.7h.6M341.1 38.5h.6M339.3 40.2h.6M339.7 39.2h.6M335.4 40.5h.6M344.5 35.8h.6M344.1 36.4h.6M335.8 39.4h.6M341.7 40.5h.6M345.8 48.9h.6" stroke="#222" stroke-width="0.75" stroke-opacity="0.8" fill="none"/>
<path d="M347.6,105.1 347.1,105.2 346.6,105.2 346.1,105.2 345.6,105.2 345.1,105.2 344.6,105.2 344.1,105.2 343.6,105.2 343.1,105.2 342.6,105.2 342.1,105.2 341.6,105.2 341.1,105.2 340.6,105.2 340.1,105.2 339.6,105.2 339.1,105.1 338.6,105.1 338.1,105.1 337.6,105.1 337.4,105.1 336.9,105.1 336.4,105.1 335.9,105.1 335.4,105.1 334.9,105.1 334.4,105.1 333.9,105.1 333.4,105.1 332.9,105.1 332.4,105.1 331.9,105.1 331.4,105.1 330.9,105.0 330.4,105.0 329.9,105.0 329.4,105.0 328.9,105.0 328.4,105.0 327.9,105.0 327.4,104.9 326.9,104.9 326.4,104.9 325.9,104.9 325.4,104.9 324.9,105.0 324.4,105.1 324.1,105.1 323.6,105.1 323.1,105.1 322.7,105.1 322.4,105.1 321.9,105.1 321.4,105.1 320.9,105.1 320.4,105.1 319.9,105.1 319.4,105.1 318.9,105.1 318.4,105.1 317.9,105.1 317.4,105.1 316.9,105.0 316.5,104.9 316.1,104.8 315.6,104.8 315.1,104.8 314.6,104.8 314.1,104.9 313.6,104.9 313.1,104.9 312.6,104.9 312.1,104.9 311.6,104.9 311.1,104.9 310.6,104.9 310.1,104.8 309.6,104.8 309.1,104.8 308.6,104.8 308.1,104.9 307.6,104.9 307.1,104.9 306.6,104.9 306.1,104.9 305.6,104.9 305.1,104.9 304.6,104.9 304.1,104.8 303.6,104.8 303.1,104.8 302.6,104.8 302.1,104.8 301.6,104.8 301.1,104.8 300.6,104.8 300.1,104.8 299.6,104.8 299.1,104.8 298.6,104.9 298.1,104.9 297.6,104.9 297.1,104.9 296.8,104.9 296.4,104.9 295.9,104.9 295.4,104.9 294.9,104.9 294.6,104.9 294.1,104.9 293.6,104.9 293.1,104.8 292.6,104.8 292.1,104.8 291.6,104.8 291.1,104.8 290.6,104.8 290.1,104.8 289.6,104.8 289.1,104.8 288.8,104.9 288.4,105.0 287.9,105.1 287.4,105.1 286.9,105.1 286.4,105.0 286.1,104.9 285.9,104.4 285.9,103.9 285.9,103.4 285.9,102.9 285.9,102.4 285.9,101.9 285.9,101.4 285.9,101.1 285.9,100.6 285.9,100.1 285.8,99.6 285.8,99.1 285.9,98.6 285.9,98.2 285.9,97.9 285.9,97.4 285.9,96.9 286.0,96.4 286.0,95.9 286.1,95.4 286.2,95.1 286.3,94.6 286.6,94.4 286.9,94.7 287.1,94.9 287.5,95.1 287.9,95.2 288.1,95.1 288.6,94.9 288.9,94.7 289.1,94.5 289.3,94.1 289.4,93.9 289.5,93.4 289.5,92.9 289.4,92.4 289.4,91.9 289.4,91.6 289.4,91.1 289.4,90.9 289.6,90.5 289.9,90.3 290.4,90.1 290.6,90.1 290.9,90.1 291.4,90.2 291.8,90.4 292.1,90.5 292.4,90.6 292.8,90.9 293.1,91.0 293.4,91.2 293.9,91.4 294.1,91.4 294.6,91.4 295.0,91.4 295.4,91.2 295.6,91.1 295.9,90.9 296.2,90.6 296.5,90.4 296.7,90.1 297.0,89.9 297.2,89.6 297.5,89.4 297.7,89.1 297.9,88.9 298.1,88.5 298.3,88.1 298.4,87.7 298.4,87.4 298.4,87.0 298.3,86.6 298.2,86.1 298.2,85.6 298.1,85.1 298.1,84.9 298.0,84.4 298.0,83.9 298.0,83.4 298.1,83.1 298.4,82.7 298.5,82.4 298.4,82.1 298.1,81.9 297.6,81.7 297.4,81.6 296.9,81.5 296.4,81.4 295.9,81.5 295.4,81.6 295.1,81.6 294.6,81.9 294.4,82.0 294.1,82.2 293.9,82.6 293.8,82.9 293.6,83.3 293.4,83.5 293.1,83.6 292.6,83.6 292.4,83.6 291.9,83.4 291.6,83.1 291.4,82.9 291.3,82.6 291.1,82.4 290.7,82.1 290.4,82.0 290.1,81.9 289.6,81.7 289.4,81.6 288.9,81.5 288.4,81.4 288.1,81.3 287.6,81.3 287.1,81.2 286.9,81.1 286.4,81.0 286.1,80.6 286.0,80.4 285.9,79.9 285.9,79.4 285.8,79.1 285.8,78.6 285.8,78.1 285.7,77.6 285.7,77.1 285.7,76.6 285.7,76.1 285.7,75.6 285.7,75.1 285.6,74.6 285.6,74.1 285.6,73.6 285.6,73.1 285.6,72.8 285.6,72.4 285.6,71.9 285.6,71.4 285.6,70.9 285.6,70.4 285.6,69.9 285.6,69.4 285.7,69.1 285.9,68.8 286.3,68.6 286.6,68.6 287.1,68.6 287.6,68.6 288.1,68.6 288.6,68.6 289.1,68.6 289.6,68.6 290.1,68.6 290.6,68.6 291.1,68.6 291.6,68.6 292.1,68.6 292.6,68.6 293.1,68.6 293.6,68.6 294.1,68.6 294.6,68.6 295.1,68.6 295.6,68.6 296.1,68.6 296.6,68.6 297.1,68.6 297.6,68.6 298.1,68.6 298.6,68.6 299.1,68.6 299.6,68.6 300.1,68.6 300.6,68.6 301.1,68.6 301.6,68.6 302.1,68.6 302.6,68.6 303.1,68.6 303.6,68.6 304.1,68.6 304.6,68.6 305.1,68.6 305.5,68.6 305.9,68.7 306.4,68.8 306.9,68.8 307.4,68.8 307.9,68.8 308.4,68.8 308.9,68.8 309.4,68.8 309.9,68.8 310.4,68.8 310.9,68.8 311.4,68.8 311.9,68.8 312.4,68.8 312.7,68.9 313.1,68.9 313.6,69.1 314.1,69.1 314.6,69.1 315.1,69.1 315.6,69.1 316.1,69.1 316.6,69.1 317.1,69.1 317.6,69.1 318.1,69.1 318.6,69.1 319.1,69.1 319.6,69.1 320.1,69.1 320.6,69.1 321.1,69.1 321.6,69.0 322.1,68.9 322.4,68.8 322.9,68.8 323.4,68.8 323.9,68.6 324.1,68.6 324.6,68.6 325.1,68.6 325.6,68.4 326.0,68.4 326.4,68.3 326.9,68.3 327.4,68.2 327.8,68.1 328.1,68.1 328.6,68.1 329.1,68.0 329.6,67.9 329.9,67.9 330.4,67.8 330.9,67.8 331.4,67.6 331.6,67.6 332.1,67.6 332.6,67.6 333.1,67.4 333.5,67.4 333.9,67.3 334.4,67.3 334.9,67.2 335.2,67.1 335.6,67.1 336.1,67.1 336.6,67.1 337.1,67.1 337.6,67.1 338.1,67.1 338.6,67.1 339.1,67.0 339.6,66.9 339.9,66.8 340.4,66.8 340.9,66.8 341.4,66.8 341.9,66.8 342.4,66.8 342.9,66.8 343.4,66.8 343.9,66.7 344.2,66.6 344.6,66.6 345.1,66.6 345.6,66.6 346.1,66.6 346.6,66.6 347.1,66.6 347.5,66.6 347.9,66.8 348.1,67.1 348.1,67.4 348.2,67.9 348.2,68.4 348.2,68.9 348.2,69.4 348.2,69.9 348.2,70.4 348.2,70.9 348.2,71.4 348.4,71.9 348.4,72.1 348.4,72.6 348.4,73.1 348.4,73.6 348.4,74.1 348.4,74.6 348.4,75.1 348.4,75.6 348.5,76.1 348.6,76.6 348.6,76.9 348.7,77.4 348.7,77.9 348.7,78.4 348.7,78.9 348.7,79.4 348.7,79.9 348.7,80.4 348.7,80.9 348.9,81.4 348.9,81.6 348.9,82.1 348.9,82.6 348.9,83.1 348.9,83.6 348.9,84.1 348.9,84.6 348.9,85.1 349.0,85.6 349.1,86.1 349.0,86.6 349.0,87.1 349.0,87.6 349.0,88.1 349.0,88.6 349.0,89.1 349.0,89.6 349.0,90.1 348.9,90.6 348.8,90.9 348.7,91.4 348.7,91.9 348.7,92.4 348.7,92.9 348.7,93.4 348.7,93.9 348.7,94.4 348.7,94.9 348.6,95.4 348.6,95.6 348.5,96.1 348.5,96.6 348.5,97.1 348.5,97.6 348.5,98.1 348.5,98.6 348.5,99.1 348.4,99.6 348.4,99.9 348.3,100.4 348.2,100.9 348.2,101.4 348.2,101.9 348.2,102.4 348.2,102.9 348.2,103.4 348.2,103.9 348.2,104.4 348.1,104.6 347.9,105.0 347.6,105.1M322.2,94.1 322.6,93.9 322.9,93.6 323.1,93.4 323.4,93.1 323.6,92.9 323.7,92.6 323.9,92.2 323.9,91.9 324.0,91.4 324.1,91.1 324.4,90.8 324.6,90.5 324.8,90.1 324.9,89.9 325.0,89.4 325.1,89.1 325.3,88.6 325.4,88.4 325.6,87.9 325.8,87.6 325.9,87.4 326.2,87.1 326.4,86.9 326.7,86.6 327.0,86.4 327.2,86.1 327.4,85.9 327.6,85.5 327.7,85.1 327.7,84.6 327.6,84.4 327.5,83.9 327.4,83.6 327.2,83.1 327.1,82.9 326.9,82.4 326.8,82.1 326.6,81.6 326.4,81.4 326.1,81.2 325.6,81.2 325.1,81.2 324.6,81.2 324.1,81.2 323.6,81.2 323.1,81.3 322.8,81.4 322.4,81.4 321.9,81.5 321.4,81.6 320.9,81.6 320.4,81.6 319.9,81.5 319.4,81.5 319.0,81.4 318.6,81.3 318.1,81.1 317.9,81.1 317.4,80.9 317.1,80.9 316.6,80.8 316.1,80.7 315.6,80.7 315.1,80.7 314.6,80.7 314.1,80.8 313.6,80.8 313.3,80.9 312.9,80.9 312.4,81.0 311.9,81.0 311.4,81.1 311.1,81.1 310.6,81.2 310.1,81.2 309.6,81.3 309.1,81.4 308.9,81.4 308.4,81.4 307.9,81.5 307.4,81.5 306.9,81.6 306.6,81.7 306.1,81.8 305.8,81.9 305.4,82.1 305.4,82.2 305.6,82.5 306.0,82.6 306.4,82.8 306.6,83.0 306.9,83.3 307.0,83.6 306.9,84.1 306.8,84.4 306.6,84.6 306.3,84.9 305.9,85.1 305.6,85.3 305.4,85.4 305.1,85.6 304.9,86.0 304.7,86.4 304.6,86.6 304.4,87.1 304.3,87.4 304.2,87.9 304.1,88.1 304.0,88.6 303.9,89.1 304.0,89.6 304.2,89.9 304.6,90.1 304.9,90.1 305.2,90.1 305.6,90.0 306.1,89.9 306.4,89.8 306.7,89.6 307.1,89.5 307.5,89.4 307.9,89.2 308.2,89.1 308.6,89.0 309.0,88.9 309.4,88.7 309.7,88.6 310.1,88.5 310.4,88.4 310.9,88.3 311.4,88.2 311.9,88.3 312.1,88.4 312.6,88.6 312.9,88.8 313.1,88.9 313.5,89.1 313.9,89.2 314.4,89.3 314.9,89.1 315.1,89.0 315.4,88.9 315.6,88.6 315.9,88.3 316.1,88.0 316.4,87.6 316.6,87.4 316.9,87.2 317.1,87.1 317.4,87.1 317.9,87.4 318.1,87.6 318.2,87.9 318.4,88.2 318.5,88.6 318.7,88.9 318.9,89.3 319.0,89.6 319.2,89.9 319.4,90.2 319.6,90.6 319.7,90.9 319.8,91.4 319.8,91.9 319.8,92.4 319.9,92.7 319.9,93.1 320.1,93.6 320.3,93.9 320.6,94.1 320.9,94.3 321.4,94.4 321.9,94.3 322.2,94.1M347.9,104.9 347.4,105.1 346.9,105.1 346.4,105.1 345.9,105.1 345.4,105.1 344.9,105.1 344.4,105.1 343.9,105.1 343.4,105.1 342.9,105.1 342.4,105.1 341.9,105.1 341.4,105.1 340.9,105.1 340.4,105.1 339.9,105.1 339.4,105.1 338.9,105.1 338.4,105.1 337.9,105.1 337.4,105.1 336.9,105.0 336.4,105.0 335.9,105.0 335.4,105.0 334.9,105.0 334.4,105.0 333.9,105.0 333.4,105.0 332.9,105.0 332.4,105.0 331.9,104.9 331.4,104.9 330.9,104.9 330.4,104.9 329.9,104.9 329.6,104.9 329.1,104.9 328.6,104.8 328.1,104.8 327.6,104.8 327.1,104.8 326.6,104.8 326.1,104.7 325.6,104.7 325.1,104.7 324.6,104.9 324.4,104.9 323.9,105.0 323.4,105.0 322.9,105.0 322.4,104.9 321.9,104.9 321.4,104.9 320.9,104.9 320.4,104.9 319.9,104.9 319.5,104.9 319.1,104.9 318.6,104.8 318.1,104.8 317.6,104.8 317.1,104.8 316.6,104.7 316.3,104.6 315.9,104.6 315.6,104.6 315.1,104.6 314.6,104.7 314.1,104.7 313.6,104.7 313.1,104.7 312.6,104.7 312.1,104.7 311.6,104.7 311.1,104.7 310.6,104.7 310.1,104.7 309.6,104.7 309.1,104.7 308.6,104.7 308.1,104.7 307.6,104.7 307.1,104.7 306.6,104.7 306.1,104.7 305.6,104.7 305.1,104.7 304.6,104.7 304.1,104.7 303.6,104.6 303.1,104.6 302.9,104.6 302.4,104.6 301.9,104.6 301.4,104.6 301.0,104.6 300.6,104.6 300.1,104.6 299.6,104.7 299.1,104.7 298.6,104.7 298.1,104.7 297.6,104.7 297.1,104.7 296.6,104.7 296.1,104.7 295.6,104.7 295.1,104.7 294.6,104.7 294.1,104.7 293.6,104.7 293.1,104.6 292.6,104.6 292.4,104.6 291.9,104.6 291.4,104.6 290.9,104.6 290.4,104.6 289.9,104.6 289.4,104.6 289.1,104.6 288.6,104.7 288.2,104.9 287.9,104.9 287.4,104.9 286.9,104.9 286.6,104.9 286.2,104.6 286.1,104.1 286.1,103.6 286.1,103.4 286.1,102.9 286.1,102.4 286.1,101.9 286.1,101.4 286.0,100.9 286.0,100.4 286.0,99.9 286.0,99.4 286.0,98.9 286.0,98.4 286.1,97.9 286.1,97.4 286.1,97.1 286.2,96.6 286.4,96.1 286.6,96.0 287.0,96.1 287.4,96.2 287.9,96.2 288.4,96.1 288.6,96.1 289.0,95.9 289.4,95.7 289.6,95.5 289.9,95.3 290.1,95.1 290.4,94.9 290.6,94.6 290.9,94.3 291.1,94.0 291.4,93.6 291.6,93.4 291.9,93.1 292.1,93.1 292.5,93.1 292.9,93.3 293.1,93.4 293.6,93.6 293.9,93.7 294.2,93.6 294.6,93.5 294.9,93.4 295.2,93.1 295.6,92.9 295.9,92.6 296.1,92.4 296.4,92.2 296.6,92.0 296.9,91.7 297.1,91.5 297.4,91.2 297.6,90.9 297.9,90.7 298.1,90.4 298.4,90.2 298.6,90.0 298.9,89.8 299.1,89.6 299.4,89.4 299.8,89.1 300.1,88.9 300.4,88.8 300.6,88.9 300.9,89.4 300.9,89.6 301.1,90.1 301.1,90.4 301.2,90.9 301.4,91.3 301.6,91.6 301.9,91.8 302.4,91.9 302.6,91.9 303.1,91.9 303.6,92.0 304.1,92.0 304.6,92.0 305.1,92.1 305.6,92.1 306.1,92.0 306.4,91.9 306.9,91.6 307.1,91.5 307.4,91.3 307.8,91.1 308.1,90.9 308.4,90.8 308.9,90.7 309.1,90.6 309.6,90.5 310.1,90.5 310.6,90.6 310.9,90.7 311.4,90.9 311.6,91.0 312.0,91.1 312.4,91.3 312.9,91.4 313.1,91.4 313.6,91.4 314.0,91.4 314.4,91.3 314.9,91.3 315.4,91.2 315.9,91.2 316.4,91.3 316.8,91.4 317.1,91.5 317.4,91.7 317.6,92.0 317.8,92.4 318.0,92.6 318.1,93.0 318.3,93.4 318.4,93.6 318.6,94.0 318.9,94.4 319.1,94.6 319.4,94.9 319.6,95.1 319.9,95.2 320.2,95.4 320.6,95.5 321.1,95.6 321.6,95.5 322.1,95.4 322.4,95.3 322.7,95.1 323.1,94.9 323.4,94.9 323.9,94.7 324.2,94.6 324.6,94.5 325.1,94.4 325.3,94.1 325.4,93.9 325.6,93.4 325.7,93.1 325.8,92.6 325.8,92.1 325.9,91.6 325.9,91.4 325.9,90.9 326.0,90.4 326.1,89.9 326.2,89.6 326.3,89.1 326.4,88.9 326.6,88.5 326.9,88.2 327.1,87.9 327.4,87.7 327.6,87.5 327.9,87.2 328.1,87.0 328.4,86.6 328.5,86.4 328.6,86.1 328.7,85.6 328.8,85.1 328.7,84.6 328.6,84.4 328.5,83.9 328.4,83.6 328.2,83.1 328.1,82.8 328.0,82.4 327.9,82.1 327.7,81.6 327.6,81.2 327.5,80.9 327.1,80.7 326.7,80.6 326.4,80.6 325.9,80.6 325.4,80.5 324.9,80.5 324.4,80.4 323.9,80.4 323.4,80.5 322.9,80.6 322.6,80.6 322.1,80.8 321.6,80.9 321.4,80.9 320.9,80.9 320.4,80.9 319.9,80.9 319.6,80.8 319.1,80.7 318.9,80.6 318.4,80.5 318.0,80.4 317.6,80.3 317.1,80.1 316.9,80.1 316.4,80.0 315.9,80.0 315.4,80.0 314.9,80.0 314.4,80.1 313.9,80.1 313.6,80.2 313.1,80.2 312.6,80.3 312.1,80.3 311.7,80.4 311.4,80.4 310.9,80.4 310.4,80.5 309.9,80.5 309.4,80.5 308.9,80.6 308.4,80.5 307.9,80.5 307.4,80.5 306.9,80.5 306.4,80.5 305.9,80.5 305.4,80.6 305.1,80.6 304.6,80.8 304.3,80.9 303.9,81.0 303.6,81.1 303.1,81.3 302.9,81.4 302.4,81.6 302.1,81.6 301.6,81.7 301.1,81.7 300.8,81.6 300.4,81.5 299.9,81.4 299.6,81.3 299.1,81.2 298.7,81.1 298.4,81.0 297.9,80.9 297.6,80.9 297.1,80.7 296.6,80.7 296.4,80.6 295.9,80.6 295.6,80.6 295.1,80.8 294.8,80.9 294.4,81.1 294.1,81.2 293.6,81.4 293.4,81.5 292.9,81.6 292.4,81.6 291.9,81.6 291.4,81.5 290.9,81.4 290.6,81.3 290.1,81.2 289.7,81.1 289.4,81.0 288.9,81.0 288.4,80.9 288.1,80.8 287.6,80.7 287.1,80.6 286.9,80.6 286.4,80.4 286.2,80.1 286.1,79.8 286.0,79.4 286.0,78.9 285.9,78.4 285.9,77.9 285.9,77.6 285.8,77.1 285.8,76.6 285.8,76.1 285.8,75.6 285.8,75.1 285.7,74.6 285.7,74.1 285.7,73.6 285.7,73.1 285.7,72.6 285.7,72.1 285.7,71.6 285.7,71.1 285.7,70.6 285.7,70.1 285.7,69.6 285.7,69.1 285.9,68.9 286.4,68.7 286.9,68.7 287.4,68.7 287.9,68.7 288.4,68.7 288.9,68.7 289.4,68.7 289.9,68.7 290.4,68.7 290.9,68.7 291.4,68.7 291.9,68.7 292.4,68.7 292.9,68.7 293.4,68.7 293.9,68.7 294.4,68.7 294.9,68.7 295.4,68.7 295.9,68.7 296.4,68.7 296.9,68.7 297.4,68.7 297.9,68.7 298.4,68.7 298.9,68.7 299.4,68.7 299.9,68.7 300.4,68.7 300.9,68.7 301.4,68.7 301.9,68.7 302.4,68.7 302.9,68.7 303.4,68.7 303.9,68.7 304.4,68.7 304.9,68.7 305.4,68.7 305.9,68.8 306.1,68.9 306.6,68.9 307.1,68.9 307.6,68.9 308.1,68.9 308.6,68.9 309.1,68.9 309.6,68.9 310.1,68.9 310.6,68.9 311.1,68.9 311.6,68.9 312.1,68.9 312.6,68.9 313.1,69.1 313.4,69.1 313.9,69.2 314.4,69.2 314.9,69.2 315.4,69.2 315.9,69.2 316.4,69.2 316.9,69.2 317.4,69.2 317.9,69.2 318.4,69.2 318.9,69.2 319.4,69.2 319.9,69.2 320.4,69.2 320.9,69.2 321.4,69.2 321.7,69.1 322.1,69.0 322.6,68.9 323.1,68.9 323.5,68.9 323.9,68.7 324.4,68.7 324.9,68.7 325.4,68.6 325.6,68.5 326.1,68.4 326.6,68.4 327.1,68.4 327.4,68.3 327.9,68.2 328.4,68.2 328.9,68.2 329.2,68.1 329.6,68.0 330.1,67.9 330.6,67.9 330.9,67.9 331.4,67.7 331.9,67.7 332.4,67.7 332.9,67.6 333.1,67.5 333.6,67.4 334.1,67.4 334.6,67.4 334.9,67.3 335.4,67.2 335.9,67.2 336.4,67.2 336.9,67.2 337.4,67.2 337.9,67.2 338.4,67.2 338.9,67.2 339.2,67.1 339.6,67.0 340.1,66.9 340.6,66.9 341.1,66.9 341.6,66.9 342.1,66.9 342.6,66.9 343.1,66.9 343.6,66.9 343.9,66.8 344.4,66.7 344.9,66.7 345.4,66.7 345.9,66.7 346.4,66.7 346.9,66.7 347.4,66.7 347.8,66.9 348.0,67.1 348.1,67.6 348.1,68.1 348.1,68.6 348.1,69.1 348.1,69.6 348.1,70.1 348.1,70.6 348.1,71.1 348.1,71.4 348.3,71.9 348.3,72.4 348.3,72.9 348.3,73.4 348.3,73.9 348.3,74.4 348.3,74.9 348.3,75.4 348.3,75.9 348.4,76.2 348.5,76.6 348.6,77.1 348.6,77.6 348.6,78.1 348.6,78.6 348.6,79.1 348.6,79.6 348.6,80.1 348.6,80.6 348.6,81.0 348.8,81.4 348.8,81.9 348.8,82.4 348.8,82.9 348.8,83.4 348.8,83.9 348.8,84.4 348.8,84.9 348.8,85.4 348.9,85.7 349.0,86.1 348.9,86.6 348.9,86.9 348.8,87.4 348.8,87.9 348.8,88.4 348.8,88.9 348.8,89.4 348.8,89.9 348.8,90.4 348.7,90.9 348.6,91.1 348.6,91.6 348.6,92.1 348.6,92.6 348.6,93.1 348.6,93.6 348.6,94.1 348.6,94.6 348.6,95.1 348.5,95.6 348.4,95.9 348.4,96.4 348.4,96.9 348.4,97.4 348.4,97.9 348.4,98.4 348.4,98.9 348.4,99.4 348.3,99.9 348.1,100.4 348.1,100.6 348.1,101.1 348.1,101.6 348.1,102.1 348.1,102.6 348.1,103.1 348.1,103.6 348.1,104.1 348.1,104.6 347.9,104.9M300.9,87.8 300.5,87.6 300.3,87.4 300.1,87.0 300.0,86.6 299.9,86.4 299.7,85.9 299.7,85.4 299.6,84.9 299.6,84.6 299.6,84.1 299.6,83.9 299.9,83.4 300.1,83.1 300.4,82.9 300.6,82.8 301.1,82.6 301.4,82.6 301.9,82.6 302.1,82.7 302.5,82.9 302.8,83.1 302.9,83.4 303.0,83.9 302.9,84.4 302.8,84.6 302.6,85.0 302.5,85.4 302.4,85.7 302.2,86.1 302.1,86.4 301.9,86.7 301.6,87.1 301.4,87.4 301.1,87.6 300.9,87.8M347.6,105.0 347.1,105.1 346.6,105.1 346.1,105.1 345.6,105.1 345.1,105.1 344.6,105.1 344.1,105.1 343.6,105.1 343.1,105.0 342.6,105.0 342.1,105.0 341.6,105.0 341.1,105.0 340.6,105.0 340.1,105.0 339.6,105.0 339.1,105.0 338.6,105.0 338.1,105.0 337.6,105.0 337.1,105.0 336.6,105.0 336.1,105.0 335.6,104.9 335.1,104.9 334.6,104.9 334.1,104.9 333.6,104.9 333.4,104.9 332.9,104.9 332.4,104.9 331.9,104.8 331.4,104.8 330.9,104.8 330.4,104.8 329.9,104.8 329.4,104.8 328.9,104.7 328.4,104.7 327.9,104.7 327.4,104.7 326.9,104.6 326.6,104.6 326.1,104.6 325.6,104.5 325.1,104.5 324.7,104.6 324.4,104.7 323.9,104.8 323.4,104.8 322.9,104.8 322.4,104.7 321.9,104.7 321.4,104.7 320.9,104.7 320.4,104.6 320.0,104.6 319.6,104.6 319.1,104.5 318.6,104.4 318.1,104.4 317.7,104.4 317.4,104.4 316.9,104.3 316.4,104.2 315.9,104.3 315.4,104.3 315.1,104.4 314.6,104.4 314.1,104.4 313.6,104.5 313.1,104.5 312.6,104.5 312.1,104.5 311.6,104.5 311.1,104.4 310.6,104.4 310.1,104.4 309.6,104.4 309.1,104.4 308.6,104.4 308.1,104.4 307.6,104.5 307.1,104.5 306.6,104.5 306.1,104.5 305.6,104.5 305.1,104.5 304.6,104.5 304.1,104.4 303.6,104.4 303.4,104.4 302.9,104.3 302.4,104.2 301.9,104.2 301.4,104.2 300.9,104.3 300.4,104.3 300.1,104.4 299.6,104.4 299.1,104.4 298.6,104.4 298.1,104.4 297.6,104.5 297.1,104.5 296.6,104.5 296.1,104.5 295.6,104.5 295.1,104.5 294.6,104.5 294.1,104.5 293.6,104.4 293.1,104.4 292.9,104.3 292.4,104.1 292.3,103.9 292.5,103.6 292.7,103.4 292.9,103.1 293.1,102.9 293.4,102.6 293.6,102.4 293.9,102.1 294.1,101.9 294.4,101.6 294.6,101.4 294.9,101.1 295.1,100.9 295.4,100.6 295.7,100.4 296.0,100.1 296.2,99.9 296.4,99.6 296.5,99.1 296.6,98.6 296.6,98.1 296.6,97.6 296.6,97.1 296.6,96.8 296.8,96.4 296.9,96.1 297.1,95.6 297.2,95.4 297.6,95.4 297.9,95.5 298.3,95.6 298.6,95.7 299.0,95.6 299.4,95.5 299.7,95.4 300.1,95.2 300.4,95.0 300.6,94.9 300.9,94.6 301.3,94.4 301.6,94.1 301.9,93.9 302.1,93.7 302.4,93.6 302.9,93.4 303.1,93.3 303.6,93.3 304.1,93.3 304.6,93.3 304.9,93.4 305.4,93.5 305.9,93.5 306.4,93.5 306.8,93.4 307.1,93.3 307.5,93.1 307.9,92.9 308.1,92.8 308.6,92.7 308.9,92.6 309.4,92.6 309.6,92.7 310.1,92.8 310.4,92.9 310.7,93.1 311.1,93.4 311.4,93.6 311.6,93.8 311.9,94.1 312.1,94.4 312.2,94.6 312.4,94.9 312.6,95.4 312.8,95.6 313.0,95.9 313.2,96.1 313.4,96.4 313.7,96.6 314.0,96.9 314.2,97.1 314.4,97.4 314.6,97.8 314.8,98.1 315.1,98.4 315.3,98.6 315.6,98.9 315.8,99.1 316.0,99.4 316.1,99.7 316.2,100.1 316.3,100.6 316.4,100.9 316.5,101.4 316.7,101.6 316.9,101.9 317.4,102.1 317.9,101.9 318.1,101.6 318.2,101.4 318.4,100.9 318.3,100.4 318.2,99.9 318.0,99.6 317.8,99.4 317.6,99.1 317.4,98.6 317.4,98.2 317.4,97.9 317.4,97.6 317.5,97.1 317.7,96.9 318.0,96.6 318.4,96.4 318.9,96.4 319.4,96.5 319.9,96.6 320.1,96.6 320.6,96.7 321.1,96.7 321.5,96.6 321.9,96.5 322.3,96.4 322.6,96.2 322.9,96.1 323.4,96.0 323.9,95.9 324.1,95.9 324.4,95.9 324.9,95.9 325.2,95.9 325.5,95.6 325.7,95.4 325.9,95.0 326.1,94.6 326.2,94.4 326.3,93.9 326.4,93.6 326.5,93.1 326.6,92.6 326.6,92.1 326.6,91.9 326.7,91.4 326.8,90.9 326.9,90.5 327.0,90.1 327.1,89.9 327.4,89.4 327.6,89.1 327.8,88.9 328.1,88.6 328.4,88.4 328.6,88.2 328.9,87.9 329.1,87.6 329.2,87.4 329.4,87.1 329.6,86.6 329.6,86.3 329.7,85.9 329.7,85.4 329.7,84.9 329.6,84.6 329.5,84.1 329.4,83.6 329.3,83.4 329.2,82.9 329.1,82.6 329.0,82.1 328.9,81.6 328.9,81.4 328.7,80.9 328.6,80.5 328.4,80.2 328.1,80.1 327.6,80.0 327.1,80.0 326.6,80.0 326.1,79.9 325.8,79.9 325.4,79.8 324.9,79.7 324.4,79.7 323.9,79.6 323.4,79.6 322.9,79.7 322.4,79.8 322.1,79.9 321.6,80.1 321.3,80.1 320.9,80.2 320.4,80.2 319.9,80.1 319.6,80.1 319.1,80.0 318.8,79.9 318.4,79.7 318.0,79.6 317.6,79.5 317.1,79.4 316.8,79.4 316.4,79.3 315.9,79.3 315.4,79.3 314.9,79.3 314.4,79.4 314.1,79.4 313.6,79.5 313.1,79.6 312.6,79.6 312.4,79.7 311.9,79.7 311.4,79.7 310.9,79.8 310.4,79.8 309.9,79.8 309.4,79.8 308.9,79.8 308.4,79.7 307.9,79.7 307.4,79.6 307.1,79.6 306.6,79.6 306.1,79.6 305.6,79.6 305.4,79.7 304.9,79.7 304.4,79.8 304.1,79.9 303.6,80.0 303.3,80.1 302.9,80.2 302.4,80.4 302.1,80.4 301.6,80.5 301.1,80.5 300.6,80.5 300.1,80.5 299.6,80.4 299.2,80.4 298.9,80.3 298.4,80.3 297.9,80.2 297.6,80.1 297.1,80.0 296.6,79.9 296.2,79.9 295.9,79.9 295.4,79.9 295.1,79.9 294.6,80.0 294.4,80.1 293.9,80.3 293.6,80.5 293.2,80.6 292.9,80.7 292.4,80.8 291.9,80.8 291.4,80.8 290.9,80.7 290.5,80.6 290.1,80.6 289.6,80.5 289.1,80.4 288.7,80.4 288.4,80.3 287.9,80.3 287.4,80.2 287.1,80.1 286.6,80.0 286.4,79.8 286.2,79.4 286.1,79.0 286.1,78.6 286.0,78.1 286.0,77.6 285.9,77.1 285.9,76.6 285.9,76.1 285.9,75.6 285.9,75.4 285.8,74.9 285.8,74.4 285.8,73.9 285.8,73.4 285.8,72.9 285.8,72.4 285.7,71.9 285.7,71.4 285.7,70.9 285.7,70.4 285.7,69.9 285.7,69.4 285.9,69.1 286.1,68.8 286.6,68.7 287.1,68.7 287.6,68.7 288.1,68.7 288.6,68.7 289.1,68.7 289.6,68.7 290.1,68.7 290.6,68.7 291.1,68.7 291.6,68.7 292.1,68.7 292.6,68.7 293.1,68.7 293.6,68.7 294.1,68.7 294.6,68.7 295.1,68.7 295.6,68.7 296.1,68.7 296.6,68.7 297.1,68.7 297.6,68.7 298.1,68.7 298.6,68.7 299.1,68.7 299.6,68.7 300.1,68.7 300.6,68.7 301.1,68.7 301.6,68.7 302.1,68.7 302.6,68.7 303.1,68.7 303.6,68.7 304.1,68.7 304.6,68.7 305.1,68.7 305.6,68.8 305.9,68.9 306.4,69.0 306.9,69.0 307.4,69.0 307.9,69.0 308.4,69.0 308.9,69.0 309.4,69.0 309.9,69.0 310.4,69.0 310.9,69.0 311.4,69.0 311.9,69.0 312.4,69.0 312.9,69.0 313.1,69.1 313.6,69.2 314.1,69.2 314.6,69.2 315.1,69.2 315.6,69.2 316.1,69.2 316.6,69.2 317.1,69.2 317.6,69.2 318.1,69.2 318.6,69.2 319.1,69.2 319.6,69.2 320.1,69.2 320.6,69.2 321.1,69.2 321.6,69.2 321.9,69.1 322.4,69.0 322.9,69.0 323.4,68.9 323.7,68.9 324.1,68.7 324.6,68.7 325.1,68.7 325.6,68.6 325.9,68.5 326.4,68.5 326.9,68.5 327.4,68.4 327.6,68.3 328.1,68.2 328.6,68.2 329.1,68.2 329.4,68.1 329.9,68.0 330.4,68.0 330.9,67.9 331.2,67.9 331.6,67.7 332.1,67.7 332.6,67.7 333.1,67.6 333.4,67.5 333.9,67.5 334.4,67.5 334.9,67.4 335.1,67.3 335.6,67.2 336.1,67.2 336.6,67.2 337.1,67.2 337.6,67.2 338.1,67.2 338.6,67.2 339.1,67.2 339.4,67.1 339.9,67.0 340.4,67.0 340.9,67.0 341.4,67.0 341.9,67.0 342.4,67.0 342.9,67.0 343.4,67.0 343.9,66.9 344.1,66.8 344.6,66.7 345.1,66.7 345.6,66.7 346.1,66.7 346.6,66.7 347.1,66.7 347.6,66.8 347.9,67.1 348.0,67.4 348.0,67.9 348.0,68.4 348.0,68.9 348.0,69.4 348.0,69.9 348.0,70.4 348.0,70.9 348.1,71.4 348.1,71.7 348.3,72.1 348.3,72.6 348.3,73.1 348.3,73.6 348.3,74.1 348.3,74.6 348.3,75.1 348.3,75.6 348.3,76.1 348.4,76.5 348.5,76.9 348.5,77.4 348.5,77.9 348.5,78.4 348.5,78.9 348.5,79.4 348.5,79.9 348.5,80.4 348.5,80.9 348.6,81.2 348.8,81.6 348.8,82.1 348.8,82.6 348.8,83.1 348.8,83.6 348.8,84.1 348.8,84.6 348.8,85.1 348.8,85.6 348.9,86.1 348.9,86.1 348.8,86.6 348.8,87.1 348.8,87.6 348.8,88.1 348.8,88.6 348.8,89.1 348.8,89.6 348.8,90.1 348.7,90.6 348.6,90.9 348.6,91.4 348.5,91.9 348.5,92.4 348.5,92.9 348.5,93.4 348.5,93.9 348.5,94.4 348.5,94.9 348.5,95.4 348.4,95.7 348.3,96.1 348.3,96.6 348.3,97.1 348.3,97.6 348.3,98.1 348.3,98.6 348.3,99.1 348.3,99.6 348.1,100.1 348.1,100.4 348.1,100.9 348.1,101.4 348.1,101.9 348.1,102.4 348.1,102.9 348.1,103.4 348.1,103.9 348.0,104.4 347.9,104.8 347.6,105.0M287.9,104.6 287.4,104.6 287.0,104.6 286.6,104.5 286.5,104.1 286.5,103.6 286.4,103.1 286.4,102.6 286.4,102.4 286.3,101.9 286.3,101.4 286.2,100.9 286.2,100.4 286.2,99.9 286.2,99.4 286.2,98.9 286.2,98.4 286.3,97.9 286.4,97.4 286.5,97.1 286.9,97.1 287.2,97.1 287.6,97.2 288.0,97.1 288.4,97.1 288.9,96.9 289.1,96.8 289.6,96.6 289.9,96.5 290.1,96.4 290.6,96.1 290.9,96.0 291.3,95.9 291.6,95.8 292.0,95.9 292.4,96.1 292.6,96.4 292.7,96.6 292.8,97.1 292.6,97.5 292.4,97.9 292.2,98.1 292.0,98.4 291.8,98.6 291.5,98.9 291.2,99.1 291.0,99.4 290.8,99.6 290.5,99.9 290.3,100.1 290.1,100.4 289.9,100.8 289.7,101.1 289.5,101.4 289.4,101.6 289.1,102.1 289.1,102.4 289.0,102.9 289.1,103.3 289.3,103.6 289.5,103.9 289.4,104.2 288.9,104.3 288.6,104.4 288.1,104.6 287.9,104.6M299.2,100.9 299.1,100.5 298.9,100.3 298.4,100.3 298.1,100.6 298.4,100.9 298.9,101.1 299.2,100.9M347.6,104.9 347.1,105.0 346.6,105.0 346.1,105.0 345.6,105.0 345.1,105.0 344.6,105.0 344.1,105.0 343.6,105.0 343.1,105.0 342.6,105.0 342.1,105.0 341.6,105.0 341.1,105.0 340.6,105.0 340.1,105.0 339.6,104.9 339.1,104.9 338.6,104.9 338.1,104.9 337.6,104.9 337.1,104.9 336.6,104.9 336.1,104.9 335.9,104.9 335.4,104.9 334.9,104.8 334.4,104.8 333.9,104.8 333.4,104.8 332.9,104.8 332.4,104.8 331.9,104.8 331.4,104.7 330.9,104.7 330.4,104.7 329.9,104.7 329.4,104.7 328.9,104.6 328.6,104.6 328.1,104.5 327.6,104.5 327.1,104.5 326.6,104.4 326.4,104.4 325.9,104.2 325.6,104.0 325.6,103.6 325.6,103.3 325.6,102.9 325.6,102.5 325.6,102.1 325.6,101.6 325.6,101.4 325.7,100.9 325.8,100.4 325.9,99.9 325.9,99.6 326.0,99.1 326.0,98.6 326.0,98.1 326.0,97.6 326.0,97.1 326.1,96.9 326.4,96.4 326.5,96.1 326.6,95.8 326.8,95.4 326.9,95.1 327.0,94.6 327.1,94.1 327.2,93.9 327.3,93.4 327.3,92.9 327.4,92.6 327.4,92.1 327.5,91.6 327.6,91.3 327.8,90.9 327.9,90.6 328.1,90.3 328.4,90.0 328.6,89.7 328.9,89.5 329.1,89.2 329.4,89.0 329.6,88.7 329.9,88.4 330.0,88.1 330.1,87.9 330.3,87.4 330.4,87.1 330.5,86.6 330.5,86.1 330.6,85.6 330.6,85.1 330.5,84.6 330.5,84.1 330.4,83.6 330.4,83.2 330.4,82.9 330.3,82.4 330.3,81.9 330.2,81.4 330.1,81.1 330.0,80.6 329.9,80.2 329.8,79.9 329.6,79.6 329.1,79.4 328.6,79.4 328.1,79.4 327.6,79.4 327.1,79.4 326.9,79.4 326.4,79.3 325.9,79.2 325.4,79.1 325.1,79.1 324.6,79.0 324.1,78.9 323.9,78.9 323.4,78.9 323.1,78.9 322.6,78.9 322.1,79.1 321.9,79.1 321.4,79.3 320.9,79.3 320.4,79.4 320.3,79.4 319.9,79.3 319.4,79.3 318.9,79.1 318.6,79.1 318.1,79.0 317.8,78.9 317.4,78.8 316.9,78.7 316.4,78.6 316.1,78.6 315.6,78.6 315.1,78.6 314.9,78.6 314.4,78.7 313.9,78.8 313.4,78.9 313.1,78.9 312.6,79.0 312.1,79.0 311.6,79.1 311.1,79.1 310.6,79.1 310.1,79.1 309.6,79.1 309.1,79.1 308.6,79.1 308.1,79.0 307.6,79.0 307.1,78.9 306.6,78.9 306.1,78.9 305.6,78.9 305.1,79.0 304.6,79.0 304.1,79.1 303.9,79.2 303.4,79.3 302.9,79.4 302.6,79.4 302.1,79.5 301.6,79.6 301.1,79.6 300.9,79.6 300.4,79.7 299.9,79.7 299.4,79.6 298.9,79.6 298.6,79.6 298.1,79.5 297.6,79.5 297.2,79.4 296.9,79.3 296.4,79.2 295.9,79.1 295.6,79.1 295.1,79.1 294.9,79.1 294.4,79.2 293.9,79.4 293.6,79.4 293.2,79.6 292.9,79.7 292.4,79.9 292.1,79.9 291.6,79.9 291.1,79.9 290.6,79.9 290.1,79.9 289.9,79.9 289.4,79.8 288.9,79.8 288.4,79.8 287.9,79.7 287.4,79.6 287.1,79.6 286.6,79.4 286.4,79.2 286.3,78.9 286.2,78.4 286.1,78.1 286.1,77.6 286.0,77.1 286.0,76.6 286.0,76.1 285.9,75.6 285.9,75.1 285.9,74.6 285.9,74.1 285.9,73.8 285.9,73.4 285.8,72.9 285.8,72.4 285.8,71.9 285.8,71.4 285.8,70.9 285.8,70.4 285.8,69.9 285.8,69.4 285.9,69.1 286.2,68.9 286.6,68.8 287.1,68.8 287.6,68.8 288.1,68.8 288.6,68.8 289.1,68.8 289.6,68.8 290.1,68.8 290.6,68.8 291.1,68.8 291.6,68.8 292.1,68.8 292.6,68.8 293.1,68.8 293.6,68.8 294.1,68.8 294.6,68.8 295.1,68.8 295.6,68.8 296.1,68.8 296.6,68.8 297.1,68.8 297.6,68.8 298.1,68.8 298.6,68.8 299.1,68.8 299.6,68.8 300.1,68.8 300.6,68.8 301.1,68.8 301.6,68.8 302.1,68.8 302.6,68.8 303.1,68.8 303.6,68.8 304.1,68.8 304.6,68.8 305.1,68.8 305.6,68.9 305.9,68.9 306.4,69.0 306.9,69.0 307.4,69.0 307.9,69.0 308.4,69.0 308.9,69.0 309.4,69.0 309.9,69.0 310.4,69.0 310.9,69.0 311.4,69.0 311.9,69.0 312.4,69.0 312.9,69.1 313.1,69.2 313.6,69.3 314.1,69.3 314.6,69.3 315.1,69.3 315.6,69.3 316.1,69.3 316.6,69.3 317.1,69.3 317.6,69.3 318.1,69.3 318.6,69.3 319.1,69.3 319.6,69.3 320.1,69.3 320.6,69.3 321.1,69.3 321.6,69.3 322.1,69.1 322.4,69.1 322.9,69.0 323.4,69.0 323.9,68.9 324.1,68.8 324.6,68.8 325.1,68.8 325.6,68.7 325.9,68.6 326.4,68.5 326.9,68.5 327.4,68.4 327.6,68.4 328.1,68.3 328.6,68.3 329.1,68.3 329.6,68.1 329.9,68.1 330.4,68.0 330.9,68.0 331.3,67.9 331.6,67.8 332.1,67.8 332.6,67.8 333.1,67.7 333.4,67.6 333.9,67.5 334.4,67.5 334.9,67.4 335.1,67.3 335.6,67.3 336.1,67.3 336.6,67.3 337.1,67.3 337.6,67.3 338.1,67.3 338.6,67.3 339.1,67.2 339.6,67.1 339.9,67.0 340.4,67.0 340.9,67.0 341.4,67.0 341.9,67.0 342.4,67.0 342.9,67.0 343.4,67.0 343.9,66.9 344.1,66.9 344.6,66.8 345.1,66.8 345.6,66.8 346.1,66.8 346.6,66.8 347.1,66.8 347.5,66.9 347.8,67.1 347.9,67.4 348.0,67.9 348.0,68.4 348.0,68.9 348.0,69.4 348.0,69.9 348.0,70.4 348.0,70.9 348.0,71.4 348.1,71.9 348.2,72.1 348.2,72.6 348.2,73.1 348.2,73.6 348.2,74.1 348.2,74.6 348.2,75.1 348.2,75.6 348.2,76.1 348.4,76.6 348.4,76.9 348.4,77.4 348.4,77.9 348.4,78.4 348.4,78.9 348.5,79.4 348.5,79.9 348.5,80.4 348.5,80.9 348.6,81.4 348.7,81.6 348.7,82.1 348.7,82.6 348.7,83.1 348.7,83.6 348.7,84.1 348.7,84.6 348.7,85.1 348.8,85.6 348.8,86.1 348.8,86.6 348.7,87.1 348.7,87.6 348.7,88.1 348.7,88.6 348.7,89.1 348.7,89.6 348.7,90.1 348.7,90.6 348.6,90.9 348.5,91.4 348.5,91.9 348.5,92.4 348.5,92.9 348.5,93.4 348.5,93.9 348.5,94.4 348.5,94.9 348.4,95.4 348.3,95.6 348.3,96.1 348.3,96.6 348.3,97.1 348.3,97.6 348.3,98.1 348.3,98.6 348.3,99.1 348.2,99.6 348.1,100.0 348.0,100.4 348.0,100.9 348.0,101.4 348.0,101.9 348.0,102.4 348.0,102.9 348.0,103.4 348.0,103.9 348.0,104.4 347.9,104.7 347.6,104.9M307.6,103.9 307.1,104.0 306.6,104.1 306.1,104.1 305.6,104.1 305.1,103.9 304.9,103.7 304.6,103.5 304.4,103.1 304.4,102.9 304.4,102.4 304.5,102.1 304.6,101.9 304.9,101.6 305.2,101.4 305.6,101.1 305.9,101.0 306.4,100.9 306.6,100.8 307.0,100.6 307.3,100.4 307.4,100.1 307.3,99.9 307.1,99.5 306.9,99.2 306.6,99.0 306.4,98.8 306.1,98.6 305.9,98.4 305.4,98.1 305.1,98.0 304.8,97.9 304.4,97.8 303.9,97.8 303.4,97.9 303.1,97.9 302.6,98.0 302.2,98.1 301.9,98.2 301.4,98.1 301.1,98.0 300.8,97.9 300.6,97.6 300.5,97.1 300.7,96.9 300.9,96.6 301.2,96.4 301.6,96.1 301.9,95.9 302.1,95.8 302.4,95.6 302.9,95.4 303.1,95.3 303.6,95.2 304.1,95.2 304.6,95.3 305.1,95.3 305.6,95.4 306.1,95.3 306.6,95.2 307.1,95.1 307.4,95.1 307.9,95.0 308.4,94.9 308.9,94.9 309.4,95.1 309.6,95.2 309.9,95.4 310.2,95.6 310.4,95.9 310.6,96.2 310.9,96.5 311.1,96.9 311.3,97.1 311.4,97.4 311.5,97.9 311.6,98.4 311.7,98.6 311.8,99.1 311.9,99.5 312.0,99.9 312.1,100.3 312.2,100.6 312.4,101.0 312.5,101.4 312.6,101.6 312.8,102.1 312.6,102.6 312.4,102.8 311.9,102.9 311.4,102.8 310.9,102.8 310.4,102.8 309.9,102.9 309.6,103.0 309.2,103.1 308.9,103.3 308.6,103.4 308.3,103.6 307.9,103.8 307.6,103.9M286.9,100.9 286.6,100.7 286.6,100.4 286.5,99.9 286.5,99.4 286.6,98.9 286.7,98.6 287.1,98.6 287.4,98.7 287.9,98.8 288.3,98.9 288.6,99.1 288.5,99.6 288.4,99.9 288.1,100.2 287.9,100.5 287.6,100.7 287.1,100.9 286.9,100.9M323.6,104.2 323.1,104.2 322.9,104.1 322.6,103.9 322.2,103.6 321.9,103.5 321.6,103.3 321.4,103.1 321.1,102.9 320.9,102.4 320.8,102.1 320.8,101.6 320.9,101.3 321.0,100.9 321.2,100.6 321.4,100.4 321.7,100.1 322.1,99.9 322.6,99.9 323.1,100.1 323.4,100.3 323.6,100.5 323.9,100.9 324.0,101.1 324.1,101.6 324.2,101.9 324.1,102.4 324.1,102.6 324.0,103.1 323.9,103.6 323.8,103.9 323.6,104.2M347.4,104.9 346.9,105.0 346.4,105.0 345.9,105.0 345.4,105.0 344.9,105.0 344.4,105.0 343.9,105.0 343.4,104.9 342.9,104.9 342.4,104.9 341.9,104.9 341.4,104.9 340.9,104.9 340.4,104.9 339.9,104.9 339.4,104.9 339.1,104.9 338.6,104.9 338.1,104.9 337.6,104.9 337.1,104.8 336.6,104.8 336.1,104.8 335.6,104.8 335.1,104.8 334.6,104.8 334.1,104.8 333.6,104.7 333.1,104.7 332.6,104.7 332.1,104.7 331.6,104.7 331.1,104.6 330.7,104.6 330.4,104.6 329.9,104.6 329.4,104.5 328.9,104.5 328.4,104.4 328.1,104.4 327.6,104.2 327.4,104.0 327.3,103.6 327.4,103.1 327.4,102.7 327.4,102.4 327.4,101.9 327.4,101.4 327.5,100.9 327.5,100.4 327.5,99.9 327.5,99.4 327.5,98.9 327.4,98.4 327.4,97.9 327.4,97.6 327.3,97.1 327.4,96.8 327.5,96.4 327.6,95.9 327.6,95.6 327.7,95.1 327.8,94.6 327.9,94.4 328.0,93.9 328.1,93.4 328.2,93.1 328.3,92.6 328.4,92.3 328.5,91.9 328.7,91.6 328.9,91.2 329.1,90.9 329.4,90.6 329.6,90.4 329.8,90.1 330.0,89.9 330.2,89.6 330.4,89.4 330.6,88.9 330.8,88.6 330.9,88.4 331.0,87.9 331.1,87.6 331.2,87.1 331.3,86.6 331.4,86.1 331.4,85.9 331.5,85.4 331.5,84.9 331.6,84.4 331.6,83.9 331.6,83.6 331.7,83.1 331.7,82.6 331.7,82.1 331.7,81.6 331.6,81.4 331.5,80.9 331.4,80.6 331.2,80.1 331.1,79.8 331.0,79.4 330.9,78.9 330.6,78.7 330.1,78.6 329.6,78.7 329.1,78.7 328.6,78.7 328.1,78.8 327.6,78.8 327.1,78.7 326.6,78.7 326.4,78.6 325.9,78.5 325.4,78.4 325.1,78.4 324.6,78.3 324.1,78.2 323.6,78.2 323.1,78.2 322.6,78.2 322.1,78.3 321.7,78.4 321.4,78.4 320.9,78.5 320.4,78.6 319.9,78.6 319.4,78.5 318.9,78.4 318.6,78.3 318.1,78.2 317.6,78.2 317.4,78.1 316.9,78.0 316.4,78.0 315.9,78.0 315.4,78.0 314.9,78.0 314.4,78.0 313.9,78.1 313.6,78.2 313.1,78.2 312.6,78.3 312.1,78.4 311.9,78.4 311.4,78.4 310.9,78.4 310.4,78.4 309.9,78.4 309.4,78.4 308.9,78.4 308.4,78.4 307.9,78.4 307.6,78.4 307.1,78.3 306.6,78.3 306.1,78.3 305.6,78.3 305.1,78.3 304.6,78.4 304.4,78.4 303.9,78.5 303.4,78.5 302.9,78.6 302.6,78.7 302.1,78.8 301.6,78.8 301.3,78.9 300.9,78.9 300.4,79.0 299.9,79.0 299.4,79.0 298.9,79.0 298.4,78.9 297.9,78.9 297.6,78.8 297.1,78.7 296.6,78.6 296.4,78.6 295.9,78.5 295.4,78.4 295.1,78.4 294.6,78.3 294.1,78.3 293.8,78.4 293.4,78.5 293.0,78.6 292.6,78.7 292.2,78.9 291.9,79.0 291.4,79.1 290.9,79.1 290.6,79.1 290.1,79.1 289.6,79.2 289.1,79.2 288.6,79.1 288.4,79.1 287.9,79.1 287.4,79.0 286.9,78.9 286.6,78.8 286.4,78.5 286.3,78.1 286.2,77.6 286.1,77.1 286.1,76.9 286.1,76.4 286.0,75.9 286.0,75.4 286.0,74.9 286.0,74.4 285.9,73.9 285.9,73.4 285.9,72.9 285.9,72.4 285.9,71.9 285.9,71.6 285.9,71.1 285.9,70.6 285.8,70.1 285.8,69.6 285.9,69.4 286.1,69.0 286.4,68.9 286.9,68.8 287.4,68.8 287.9,68.8 288.4,68.8 288.9,68.8 289.4,68.8 289.9,68.8 290.4,68.9 290.9,68.9 291.4,68.9 291.9,68.9 292.4,68.9 292.9,68.9 293.4,68.9 293.6,68.9 294.1,68.9 294.6,68.9 294.9,68.9 295.4,68.9 295.9,68.9 296.4,68.9 296.9,68.9 297.4,68.9 297.9,68.9 298.4,68.9 298.9,68.9 299.4,68.9 299.9,68.9 300.4,68.9 300.9,68.9 301.4,68.9 301.9,68.9 302.4,68.8 302.9,68.8 303.4,68.8 303.9,68.8 304.4,68.8 304.9,68.8 305.4,68.9 305.6,68.9 306.1,69.1 306.6,69.1 307.1,69.1 307.6,69.1 308.1,69.1 308.6,69.1 309.1,69.1 309.6,69.1 310.1,69.1 310.6,69.1 311.1,69.1 311.6,69.1 312.1,69.1 312.6,69.1 312.9,69.2 313.4,69.3 313.9,69.4 314.4,69.4 314.9,69.4 315.4,69.4 315.9,69.4 316.1,69.4 316.6,69.4 317.1,69.4 317.6,69.4 317.9,69.4 318.4,69.4 318.9,69.4 319.4,69.4 319.9,69.4 320.4,69.4 320.9,69.3 321.4,69.3 321.9,69.2 322.4,69.1 322.6,69.1 323.1,69.1 323.6,69.0 324.1,68.9 324.4,68.8 324.9,68.8 325.4,68.8 325.9,68.7 326.1,68.6 326.6,68.6 327.1,68.6 327.6,68.4 327.9,68.4 328.4,68.3 328.9,68.3 329.4,68.2 329.9,68.1 330.1,68.1 330.6,68.1 331.1,68.0 331.6,67.9 331.9,67.8 332.4,67.8 332.9,67.8 333.4,67.7 333.6,67.6 334.1,67.6 334.6,67.5 335.1,67.4 335.4,67.4 335.9,67.3 336.4,67.3 336.9,67.3 337.4,67.3 337.9,67.3 338.4,67.3 338.9,67.3 339.4,67.2 339.8,67.1 340.1,67.1 340.6,67.1 341.1,67.1 341.6,67.1 342.1,67.1 342.6,67.1 343.1,67.1 343.6,67.1 344.1,66.9 344.4,66.9 344.9,66.8 345.4,66.8 345.9,66.8 346.4,66.8 346.9,66.8 347.4,66.9 347.6,67.0 347.9,67.4 347.9,67.6 347.9,68.1 347.9,68.6 347.9,69.1 347.9,69.6 347.9,70.1 347.9,70.6 347.9,71.1 348.0,71.6 348.1,72.1 348.1,72.4 348.1,72.9 348.1,73.4 348.1,73.9 348.1,74.4 348.1,74.9 348.1,75.4 348.1,75.9 348.2,76.4 348.4,76.9 348.4,77.1 348.4,77.6 348.4,78.1 348.4,78.6 348.4,79.1 348.4,79.6 348.4,80.1 348.4,80.6 348.5,81.1 348.6,81.6 348.6,81.9 348.7,82.4 348.7,82.9 348.7,83.4 348.7,83.9 348.7,84.4 348.7,84.9 348.7,85.4 348.8,85.9 348.8,86.4 348.7,86.9 348.7,87.4 348.7,87.9 348.7,88.4 348.7,88.9 348.7,89.4 348.7,89.9 348.7,90.4 348.6,90.6 348.5,91.1 348.4,91.6 348.4,92.1 348.4,92.6 348.4,93.1 348.4,93.6 348.4,94.1 348.4,94.6 348.4,95.1 348.4,95.4 348.2,95.9 348.2,96.4 348.2,96.9 348.2,97.4 348.2,97.9 348.2,98.4 348.2,98.9 348.2,99.4 348.1,99.8 348.0,100.1 348.0,100.6 348.0,101.1 348.0,101.6 348.0,102.1 348.0,102.6 348.0,103.1 348.0,103.6 348.0,104.1 347.9,104.6 347.6,104.9 347.4,104.9M347.4,104.9 346.9,104.9 346.4,104.9 345.9,104.9 345.4,104.9 344.9,104.9 344.4,104.9 343.9,104.9 343.4,104.9 342.9,104.9 342.6,104.9 342.1,104.9 341.6,104.9 341.1,104.9 340.6,104.8 340.1,104.8 339.6,104.8 339.1,104.8 338.6,104.8 338.1,104.8 337.6,104.8 337.1,104.8 336.6,104.8 336.1,104.8 335.6,104.8 335.1,104.7 334.6,104.7 334.1,104.7 333.6,104.7 333.1,104.6 332.7,104.6 332.4,104.6 331.9,104.6 331.4,104.5 330.9,104.5 330.4,104.5 329.9,104.4 329.5,104.4 329.1,104.2 328.8,104.1 328.8,103.6 328.9,103.1 328.9,102.9 329.0,102.4 329.1,101.9 329.1,101.4 329.1,100.9 329.0,100.4 328.9,99.9 328.9,99.6 328.8,99.1 328.6,98.6 328.6,98.4 328.4,97.9 328.4,97.6 328.3,97.1 328.3,96.6 328.4,96.2 328.4,95.9 328.5,95.4 328.6,94.9 328.7,94.6 328.8,94.1 328.9,93.8 329.0,93.4 329.1,93.1 329.3,92.6 329.4,92.4 329.6,92.0 329.9,91.6 330.0,91.4 330.2,91.1 330.4,90.9 330.6,90.6 330.9,90.2 331.1,89.9 331.2,89.6 331.4,89.3 331.6,88.9 331.7,88.6 331.8,88.1 331.9,87.9 332.0,87.4 332.1,86.9 332.2,86.6 332.3,86.1 332.4,85.8 332.5,85.4 332.6,85.0 332.7,84.6 332.8,84.1 332.9,83.9 333.0,83.4 333.0,82.9 333.0,82.4 333.0,81.9 332.9,81.4 332.9,81.1 332.8,80.6 332.7,80.1 332.6,79.8 332.6,79.4 332.6,78.9 332.6,78.6 332.7,78.1 332.6,77.8 332.4,77.6 331.9,77.6 331.6,77.6 331.1,77.7 330.6,77.8 330.2,77.9 329.9,77.9 329.4,78.0 328.9,78.0 328.4,78.1 327.9,78.1 327.4,78.1 326.9,78.0 326.4,77.9 326.0,77.9 325.6,77.8 325.1,77.7 324.6,77.6 324.4,77.6 323.9,77.5 323.4,77.5 322.9,77.5 322.4,77.6 321.9,77.6 321.6,77.6 321.1,77.7 320.6,77.8 320.1,77.8 319.6,77.7 319.1,77.7 318.8,77.6 318.4,77.6 317.9,77.5 317.4,77.4 316.9,77.4 316.6,77.4 316.1,77.3 315.6,77.3 315.1,77.3 314.6,77.3 314.2,77.4 313.9,77.4 313.4,77.5 312.9,77.6 312.6,77.6 312.1,77.7 311.6,77.7 311.1,77.8 310.6,77.8 310.1,77.8 309.6,77.8 309.1,77.8 308.6,77.8 308.1,77.8 307.6,77.8 307.1,77.8 306.6,77.7 306.1,77.7 305.6,77.7 305.1,77.7 304.6,77.7 304.1,77.7 303.6,77.8 303.1,77.8 302.7,77.9 302.4,77.9 301.9,78.0 301.4,78.1 301.1,78.2 300.6,78.2 300.1,78.3 299.6,78.3 299.1,78.4 298.6,78.3 298.1,78.3 297.6,78.2 297.1,78.1 296.9,78.1 296.4,78.0 296.1,77.9 295.6,77.7 295.2,77.6 294.9,77.5 294.4,77.4 293.9,77.4 293.6,77.4 293.4,77.4 292.9,77.5 292.5,77.6 292.1,77.8 291.9,77.9 291.4,78.1 291.1,78.1 290.6,78.3 290.1,78.3 289.6,78.4 289.4,78.4 288.9,78.4 288.4,78.4 287.9,78.4 287.6,78.4 287.1,78.3 286.6,78.2 286.4,77.9 286.3,77.6 286.3,77.1 286.2,76.6 286.1,76.1 286.1,75.9 286.1,75.4 286.0,74.9 286.0,74.4 286.0,73.9 286.0,73.4 286.0,72.9 285.9,72.4 285.9,71.9 285.9,71.4 285.9,70.9 285.9,70.4 285.9,69.9 285.9,69.4 286.1,69.0 286.6,68.9 287.1,68.9 287.6,68.9 288.1,68.9 288.6,68.9 289.1,68.9 289.6,68.9 290.1,68.9 290.6,68.9 291.1,68.9 291.6,68.9 292.1,68.9 292.6,68.9 293.1,68.9 293.6,68.9 294.1,68.9 294.6,68.9 295.1,68.9 295.6,68.9 296.1,68.9 296.6,68.9 297.1,68.9 297.6,68.9 298.1,68.9 298.6,68.9 299.1,68.9 299.6,68.9 300.1,68.9 300.6,68.9 301.1,68.9 301.6,68.9 302.1,68.9 302.6,68.9 303.1,68.9 303.6,68.9 304.1,68.9 304.6,68.9 305.1,68.9 305.6,69.0 306.1,69.1 306.4,69.1 306.9,69.1 307.4,69.1 307.9,69.1 308.4,69.1 308.9,69.1 309.4,69.1 309.9,69.1 310.4,69.1 310.9,69.1 311.4,69.1 311.9,69.1 312.4,69.1 312.9,69.2 313.4,69.4 313.6,69.4 314.1,69.4 314.6,69.4 315.1,69.4 315.6,69.4 316.1,69.4 316.6,69.4 317.1,69.4 317.6,69.4 318.1,69.4 318.6,69.4 319.1,69.4 319.6,69.4 320.1,69.4 320.6,69.4 321.1,69.4 321.6,69.4 321.9,69.3 322.4,69.2 322.9,69.1 323.3,69.1 323.6,69.0 324.1,68.9 324.6,68.9 325.1,68.9 325.4,68.9 325.9,68.7 326.4,68.6 326.9,68.6 327.1,68.6 327.6,68.5 328.1,68.4 328.6,68.4 329.1,68.4 329.4,68.3 329.9,68.2 330.4,68.1 330.8,68.1 331.1,68.0 331.6,67.9 332.1,67.9 332.6,67.9 332.9,67.9 333.4,67.7 333.9,67.6 334.4,67.6 334.6,67.6 335.1,67.4 335.6,67.4 336.1,67.4 336.6,67.4 337.1,67.4 337.6,67.4 338.1,67.4 338.6,67.4 338.9,67.4 339.4,67.3 339.9,67.2 340.4,67.1 340.9,67.1 341.4,67.1 341.9,67.1 342.4,67.1 342.9,67.1 343.4,67.1 343.6,67.1 344.1,67.0 344.6,66.9 345.1,66.9 345.6,66.9 346.1,66.9 346.6,66.9 347.1,66.9 347.6,67.0 347.8,67.4 347.9,67.9 347.9,68.4 347.9,68.9 347.9,69.4 347.9,69.9 347.9,70.4 347.9,70.9 347.9,71.3 348.0,71.6 348.1,72.1 348.1,72.6 348.1,73.1 348.1,73.6 348.1,74.1 348.1,74.6 348.1,75.1 348.1,75.6 348.1,76.1 348.2,76.4 348.3,76.9 348.3,77.4 348.3,77.9 348.3,78.4 348.3,78.9 348.3,79.4 348.3,79.9 348.3,80.4 348.4,80.9 348.4,81.1 348.6,81.6 348.6,82.1 348.6,82.6 348.6,83.1 348.6,83.6 348.6,84.1 348.6,84.6 348.6,85.1 348.6,85.4 348.7,85.9 348.7,86.4 348.6,86.9 348.6,87.4 348.6,87.9 348.6,88.4 348.6,88.9 348.6,89.4 348.6,89.9 348.6,90.2 348.6,90.6 348.4,91.1 348.4,91.6 348.4,92.1 348.4,92.6 348.4,93.1 348.4,93.6 348.4,94.1 348.4,94.6 348.4,95.0 348.3,95.4 348.2,95.9 348.1,96.4 348.1,96.9 348.2,97.4 348.1,97.9 348.1,98.4 348.1,98.9 348.1,99.4 348.1,99.6 348.0,100.1 347.9,100.6 347.9,101.1 347.9,101.6 347.9,102.1 347.9,102.6 347.9,103.1 347.9,103.6 347.9,104.1 347.9,104.4 347.6,104.8 347.4,104.9M346.9,104.9 346.4,104.9 345.9,104.9 345.4,104.9 345.1,104.9 344.6,104.9 344.1,104.9 343.6,104.9 343.1,104.8 342.6,104.8 342.1,104.8 341.6,104.8 341.1,104.8 340.6,104.8 340.1,104.8 339.6,104.8 339.1,104.8 338.6,104.8 338.1,104.8 337.6,104.8 337.1,104.7 336.6,104.7 336.1,104.7 335.6,104.7 335.1,104.7 334.6,104.6 334.2,104.6 333.9,104.6 333.4,104.6 332.9,104.5 332.4,104.5 331.9,104.5 331.4,104.4 330.9,104.4 330.6,104.3 330.1,104.2 330.0,103.9 330.1,103.4 330.2,103.1 330.3,102.6 330.4,102.1 330.4,101.9 330.4,101.4 330.4,101.0 330.3,100.6 330.2,100.1 330.1,99.9 330.0,99.4 329.9,99.1 329.7,98.6 329.6,98.4 329.4,97.9 329.3,97.6 329.2,97.1 329.2,96.6 329.2,96.1 329.3,95.6 329.4,95.1 329.4,94.9 329.5,94.4 329.6,94.1 329.8,93.6 329.9,93.4 330.1,92.9 330.2,92.6 330.4,92.4 330.6,92.0 330.9,91.6 331.0,91.4 331.2,91.1 331.4,90.9 331.6,90.5 331.8,90.1 332.0,89.9 332.1,89.6 332.3,89.1 332.4,88.9 332.6,88.4 332.7,88.1 332.8,87.6 332.9,87.4 333.0,86.9 333.1,86.6 333.3,86.1 333.4,85.9 333.6,85.4 333.7,85.1 333.8,84.6 333.9,84.4 334.0,83.9 334.0,83.4 334.1,82.9 334.1,82.4 334.1,81.9 334.0,81.4 334.0,80.9 334.0,80.4 334.1,79.9 334.1,79.6 334.2,79.1 334.3,78.6 334.3,78.1 334.2,77.6 334.1,77.4 333.9,77.0 333.6,76.8 333.1,76.8 332.6,76.8 332.1,76.9 331.9,76.9 331.4,76.9 330.9,77.0 330.4,77.1 330.1,77.1 329.6,77.2 329.1,77.2 328.6,77.3 328.1,77.3 327.6,77.3 327.1,77.3 326.6,77.3 326.1,77.2 325.6,77.1 325.4,77.1 324.9,77.1 324.4,77.0 323.9,77.0 323.4,76.9 322.9,76.9 322.4,76.9 321.9,76.9 321.4,76.9 320.9,77.0 320.4,77.0 319.9,76.9 319.4,76.9 319.1,76.9 318.6,76.8 318.1,76.8 317.6,76.7 317.1,76.7 316.6,76.7 316.1,76.6 315.9,76.6 315.4,76.6 314.9,76.6 314.6,76.6 314.1,76.7 313.6,76.8 313.1,76.9 312.9,76.9 312.4,77.0 311.9,77.0 311.4,77.1 310.9,77.1 310.6,77.1 310.1,77.2 309.6,77.2 309.1,77.2 308.6,77.2 308.1,77.2 307.6,77.2 307.1,77.1 306.6,77.1 306.4,77.1 305.9,77.1 305.4,77.1 304.9,77.0 304.4,77.0 303.9,76.9 303.4,76.9 302.9,77.0 302.4,77.1 302.1,77.1 301.6,77.3 301.2,77.4 300.9,77.5 300.4,77.6 300.0,77.6 299.6,77.7 299.1,77.7 298.6,77.7 298.1,77.7 297.7,77.6 297.4,77.6 296.9,77.4 296.6,77.4 296.1,77.2 295.9,77.1 295.4,76.9 295.1,76.8 294.6,76.6 294.4,76.5 293.9,76.4 293.6,76.3 293.1,76.3 292.9,76.4 292.4,76.5 292.1,76.6 291.7,76.9 291.4,77.0 291.1,77.1 290.6,77.3 290.4,77.4 289.9,77.5 289.4,77.5 288.9,77.6 288.4,77.6 288.1,77.6 287.6,77.6 287.3,77.6 286.9,77.6 286.6,77.4 286.4,77.0 286.3,76.6 286.2,76.1 286.2,75.6 286.1,75.2 286.1,74.9 286.1,74.4 286.0,73.9 286.0,73.4 286.0,72.9 286.0,72.4 286.0,71.9 286.0,71.4 286.0,70.9 285.9,70.4 285.9,69.9 286.0,69.4 286.1,69.1 286.6,68.9 287.1,68.9 287.6,68.9 288.1,68.9 288.6,68.9 289.1,68.9 289.6,68.9 290.1,68.9 290.6,68.9 291.1,68.9 291.6,69.0 292.1,69.0 292.6,69.0 293.1,69.0 293.6,69.0 294.1,69.0 294.6,69.0 295.1,69.0 295.6,69.0 296.1,69.0 296.6,69.0 297.1,69.0 297.6,68.9 298.1,68.9 298.6,68.9 299.1,69.0 299.6,69.0 300.1,69.0 300.6,69.0 301.1,68.9 301.6,68.9 302.1,68.9 302.6,68.9 303.1,68.9 303.6,68.9 304.1,68.9 304.6,68.9 305.1,68.9 305.6,69.0 306.0,69.1 306.4,69.2 306.9,69.2 307.4,69.2 307.9,69.2 308.4,69.2 308.9,69.2 309.4,69.2 309.9,69.2 310.4,69.2 310.9,69.2 311.4,69.2 311.9,69.2 312.4,69.2 312.9,69.3 313.2,69.4 313.6,69.4 314.1,69.5 314.6,69.5 315.1,69.5 315.6,69.5 316.1,69.5 316.6,69.5 317.1,69.5 317.6,69.5 318.1,69.5 318.6,69.5 319.1,69.5 319.6,69.5 320.1,69.4 320.6,69.4 321.1,69.4 321.6,69.4 321.9,69.4 322.4,69.2 322.9,69.2 323.4,69.2 323.6,69.1 324.1,69.0 324.6,68.9 325.1,68.9 325.5,68.9 325.9,68.8 326.4,68.7 326.9,68.7 327.3,68.6 327.6,68.5 328.1,68.4 328.6,68.4 329.1,68.4 329.4,68.4 329.9,68.2 330.4,68.2 330.9,68.2 331.1,68.1 331.6,68.0 332.1,67.9 332.6,67.9 333.0,67.9 333.4,67.7 333.9,67.7 334.4,67.7 334.7,67.6 335.1,67.5 335.6,67.4 336.1,67.4 336.6,67.4 337.1,67.4 337.6,67.4 338.1,67.4 338.6,67.4 339.1,67.4 339.4,67.3 339.9,67.2 340.4,67.2 340.9,67.2 341.4,67.2 341.9,67.2 342.4,67.2 342.9,67.2 343.4,67.2 343.7,67.1 344.1,67.0 344.6,66.9 345.1,66.9 345.6,66.9 346.1,66.9 346.6,66.9 347.1,66.9 347.6,67.1 347.8,67.4 347.8,67.9 347.8,68.4 347.8,68.9 347.8,69.4 347.8,69.9 347.8,70.4 347.8,70.9 347.8,71.4 347.9,71.6 348.0,72.1 348.1,72.6 348.1,73.1 348.1,73.6 348.0,74.1 348.0,74.6 348.0,75.1 348.0,75.6 348.1,76.1 348.1,76.4 348.3,76.9 348.3,77.4 348.3,77.9 348.3,78.4 348.3,78.9 348.3,79.4 348.3,79.9 348.3,80.4 348.3,80.9 348.4,81.1 348.5,81.6 348.6,82.1 348.6,82.6 348.6,83.1 348.6,83.6 348.6,84.1 348.6,84.6 348.6,85.1 348.6,85.6 348.7,85.9 348.7,86.4 348.6,86.6 348.6,87.1 348.6,87.6 348.6,88.1 348.6,88.6 348.6,89.1 348.6,89.6 348.6,90.1 348.5,90.6 348.4,91.1 348.4,91.4 348.3,91.9 348.3,92.4 348.3,92.9 348.3,93.4 348.3,93.9 348.3,94.4 348.3,94.9 348.3,95.4 348.1,95.9 348.1,96.1 348.1,96.6 348.1,97.1 348.1,97.6 348.1,98.1 348.1,98.6 348.1,99.1 348.1,99.6 348.0,100.1 347.9,100.5 347.9,100.9 347.9,101.4 347.9,101.9 347.9,102.4 347.9,102.9 347.9,103.4 347.9,103.9 347.8,104.4 347.6,104.8 347.1,104.9 346.9,104.9M347.6,104.7 347.1,104.8 346.6,104.8 346.1,104.8 345.6,104.8 345.1,104.8 344.6,104.8 344.1,104.8 343.6,104.8 343.1,104.8 342.6,104.8 342.1,104.8 341.6,104.8 341.1,104.8 340.6,104.8 340.1,104.8 339.6,104.7 339.1,104.7 338.6,104.7 338.1,104.7 337.6,104.7 337.1,104.7 336.6,104.7 336.1,104.7 335.6,104.6 335.4,104.6 334.9,104.6 334.4,104.5 333.9,104.5 333.4,104.5 332.9,104.4 332.4,104.4 332.1,104.3 331.6,104.2 331.3,104.1 331.3,103.6 331.4,103.4 331.6,102.9 331.6,102.6 331.7,102.1 331.7,101.6 331.6,101.2 331.6,100.9 331.4,100.4 331.3,100.1 331.1,99.6 331.0,99.4 330.9,99.0 330.7,98.6 330.5,98.4 330.4,98.0 330.2,97.6 330.1,97.4 330.0,96.9 330.0,96.4 330.0,95.9 330.1,95.4 330.1,95.1 330.3,94.6 330.4,94.3 330.5,93.9 330.6,93.6 330.8,93.1 331.0,92.9 331.1,92.6 331.4,92.2 331.6,91.9 331.7,91.6 331.9,91.4 332.1,91.0 332.4,90.7 332.6,90.4 332.7,90.1 332.9,89.9 333.1,89.4 333.3,89.1 333.4,88.9 333.6,88.4 333.7,88.1 333.9,87.6 333.9,87.4 334.1,86.9 334.2,86.6 334.3,86.1 334.4,85.9 334.6,85.4 334.7,85.1 334.8,84.6 334.8,84.1 334.9,83.7 334.9,83.4 335.0,82.9 335.0,82.4 335.1,81.9 335.1,81.4 335.2,81.1 335.2,80.6 335.3,80.1 335.4,79.8 335.4,79.4 335.5,78.9 335.5,78.4 335.4,77.9 335.3,77.6 335.2,77.1 335.1,76.9 334.9,76.5 334.6,76.3 334.1,76.2 333.6,76.2 333.1,76.2 332.6,76.2 332.1,76.2 331.6,76.3 331.1,76.3 330.6,76.3 330.2,76.4 329.9,76.4 329.4,76.5 328.9,76.5 328.4,76.5 327.9,76.6 327.4,76.6 326.9,76.6 326.4,76.5 325.9,76.5 325.4,76.5 324.9,76.5 324.4,76.4 323.9,76.4 323.6,76.4 323.1,76.3 322.6,76.3 322.1,76.2 321.6,76.2 321.1,76.2 320.7,76.1 320.4,76.1 319.9,76.0 319.4,76.0 318.9,75.9 318.4,75.9 317.9,75.9 317.4,75.9 316.9,75.9 316.4,75.9 315.9,75.9 315.4,75.9 314.9,75.9 314.4,75.9 313.9,76.0 313.4,76.1 313.1,76.1 312.6,76.2 312.1,76.3 311.6,76.4 311.4,76.4 310.9,76.4 310.4,76.5 309.9,76.5 309.4,76.5 308.9,76.5 308.4,76.5 307.9,76.5 307.4,76.5 306.9,76.5 306.4,76.4 305.9,76.4 305.6,76.3 305.1,76.3 304.6,76.2 304.3,76.1 303.9,76.1 303.4,76.0 302.9,76.0 302.4,76.1 302.1,76.2 301.6,76.3 301.4,76.4 300.9,76.6 300.6,76.7 300.1,76.9 299.9,76.9 299.4,77.0 298.9,77.0 298.4,77.0 297.9,77.0 297.4,76.9 297.1,76.8 296.6,76.7 296.4,76.6 295.9,76.4 295.6,76.2 295.4,76.1 294.9,75.9 294.6,75.7 294.4,75.6 293.9,75.5 293.4,75.4 292.9,75.4 292.4,75.6 292.1,75.7 291.7,75.9 291.4,76.0 291.1,76.2 290.7,76.4 290.4,76.5 289.9,76.6 289.6,76.7 289.1,76.8 288.6,76.8 288.1,76.9 287.9,76.9 287.4,76.9 286.9,76.9 286.6,76.8 286.4,76.4 286.4,76.1 286.3,75.6 286.2,75.1 286.2,74.6 286.1,74.3 286.1,73.9 286.1,73.4 286.1,72.9 286.0,72.4 286.0,71.9 286.0,71.4 286.0,70.9 286.0,70.4 286.0,69.9 286.0,69.4 286.2,69.1 286.6,69.0 287.1,69.0 287.6,69.0 288.1,69.0 288.6,69.0 289.1,69.0 289.6,69.0 290.1,69.0 290.6,69.0 291.1,69.0 291.6,69.0 292.1,69.0 292.6,69.0 293.1,69.0 293.6,69.0 294.1,69.0 294.6,69.0 295.1,69.0 295.6,69.0 296.1,69.0 296.6,69.0 297.1,69.0 297.6,69.0 298.1,69.0 298.6,69.0 299.1,69.0 299.6,69.0 300.1,69.0 300.6,69.0 301.1,69.0 301.6,69.0 302.1,69.0 302.6,69.0 303.1,69.0 303.6,69.0 304.1,69.0 304.6,69.0 305.1,69.0 305.6,69.1 305.9,69.1 306.4,69.2 306.9,69.2 307.4,69.2 307.9,69.2 308.4,69.2 308.9,69.2 309.4,69.2 309.9,69.2 310.4,69.2 310.9,69.2 311.4,69.2 311.9,69.2 312.4,69.2 312.9,69.3 313.1,69.4 313.6,69.5 314.1,69.5 314.6,69.5 315.1,69.5 315.6,69.5 316.1,69.5 316.6,69.5 317.1,69.5 317.6,69.5 318.1,69.5 318.6,69.5 319.1,69.5 319.6,69.5 320.1,69.5 320.6,69.5 321.1,69.5 321.6,69.5 321.9,69.4 322.4,69.3 322.9,69.2 323.4,69.2 323.7,69.1 324.1,69.0 324.6,69.0 325.1,69.0 325.6,68.9 325.9,68.8 326.4,68.7 326.9,68.7 327.4,68.6 327.6,68.6 328.1,68.5 328.6,68.5 329.1,68.5 329.5,68.4 329.9,68.3 330.4,68.2 330.9,68.2 331.2,68.1 331.6,68.0 332.1,68.0 332.6,68.0 333.1,67.9 333.4,67.8 333.9,67.7 334.4,67.7 334.9,67.6 335.1,67.5 335.6,67.5 336.1,67.5 336.6,67.5 337.1,67.5 337.6,67.5 338.1,67.5 338.6,67.5 339.1,67.4 339.4,67.4 339.9,67.2 340.4,67.2 340.9,67.2 341.4,67.2 341.9,67.2 342.4,67.2 342.9,67.2 343.4,67.2 343.9,67.1 344.1,67.0 344.6,67.0 345.1,67.0 345.6,67.0 346.1,67.0 346.6,67.0 347.1,67.0 347.6,67.1 347.7,67.4 347.8,67.9 347.8,68.4 347.8,68.9 347.8,69.4 347.8,69.9 347.8,70.4 347.8,70.9 347.8,71.4 347.9,71.7 348.0,72.1 348.0,72.6 348.0,73.1 348.0,73.6 348.0,74.1 348.0,74.6 348.0,75.1 348.0,75.6 348.0,76.1 348.1,76.5 348.2,76.9 348.2,77.4 348.2,77.9 348.2,78.4 348.2,78.9 348.3,79.4 348.3,79.9 348.3,80.4 348.3,80.9 348.4,81.2 348.5,81.6 348.5,82.1 348.5,82.6 348.5,83.1 348.5,83.6 348.5,84.1 348.5,84.6 348.5,85.1 348.6,85.6 348.6,86.0 348.6,86.3 348.6,86.6 348.6,87.1 348.6,87.6 348.6,88.1 348.6,88.6 348.6,89.1 348.6,89.6 348.6,90.1 348.5,90.6 348.4,91.0 348.3,91.4 348.3,91.9 348.3,92.4 348.3,92.9 348.3,93.4 348.3,93.9 348.3,94.4 348.3,94.9 348.2,95.4 348.1,95.7 348.1,96.1 348.1,96.6 348.1,97.1 348.1,97.6 348.1,98.1 348.1,98.6 348.1,99.1 348.1,99.6 347.9,100.1 347.8,100.4 347.8,100.9 347.8,101.4 347.8,101.9 347.8,102.4 347.8,102.9 347.8,103.4 347.8,103.9 347.8,104.4 347.6,104.7M347.6,104.7 347.1,104.8 346.6,104.8 346.1,104.8 345.6,104.8 345.1,104.8 344.6,104.8 344.1,104.8 343.6,104.8 343.1,104.8 342.6,104.8 342.1,104.7 341.6,104.7 341.1,104.7 340.6,104.7 340.1,104.7 339.6,104.7 339.1,104.7 338.6,104.7 338.1,104.7 337.6,104.7 337.1,104.6 336.7,104.6 336.4,104.6 335.9,104.6 335.4,104.5 334.9,104.5 334.4,104.4 333.9,104.4 333.6,104.4 333.1,104.2 332.7,104.1 332.7,103.6 332.9,103.1 332.9,102.9 333.0,102.4 333.0,101.9 332.9,101.4 332.8,101.1 332.6,100.6 332.5,100.4 332.4,100.0 332.2,99.6 332.1,99.4 331.9,99.0 331.7,98.6 331.5,98.4 331.4,98.1 331.1,97.6 331.0,97.4 330.9,96.9 330.8,96.6 330.8,96.1 330.9,95.6 330.9,95.4 331.0,94.9 331.1,94.5 331.2,94.1 331.4,93.8 331.6,93.4 331.7,93.1 331.9,92.8 332.1,92.4 332.3,92.1 332.4,91.9 332.6,91.6 332.9,91.3 333.1,90.9 333.4,90.6 333.6,90.4 333.7,90.1 333.9,89.9 334.1,89.6 334.4,89.2 334.5,88.9 334.7,88.6 334.9,88.1 335.0,87.9 335.1,87.4 335.1,87.1 335.2,86.6 335.3,86.1 335.4,85.8 335.5,85.4 335.5,84.9 335.6,84.4 335.6,84.1 335.7,83.6 335.8,83.1 335.9,82.8 336.0,82.4 336.1,81.9 336.1,81.6 336.2,81.1 336.3,80.6 336.4,80.2 336.4,79.9 336.4,79.4 336.4,78.9 336.4,78.4 336.4,78.1 336.3,77.6 336.1,77.1 336.0,76.9 335.9,76.4 335.7,76.1 335.5,75.9 335.1,75.7 334.6,75.7 334.1,75.7 333.6,75.7 333.1,75.7 332.6,75.7 332.1,75.7 331.6,75.7 331.1,75.7 330.6,75.7 330.1,75.7 329.6,75.7 329.1,75.8 328.6,75.8 328.1,75.8 327.6,75.9 327.1,75.9 326.9,75.9 326.4,75.9 325.9,75.9 325.6,75.9 325.1,75.9 324.6,75.8 324.1,75.8 323.6,75.8 323.1,75.7 322.7,75.6 322.4,75.6 321.9,75.5 321.4,75.4 321.1,75.3 320.6,75.3 320.1,75.2 319.8,75.1 319.4,75.1 318.9,75.0 318.4,75.0 317.9,75.1 317.4,75.1 316.9,75.1 316.4,75.1 316.0,75.1 315.6,75.1 315.1,75.1 314.6,75.2 314.1,75.2 313.6,75.3 313.2,75.4 312.9,75.4 312.4,75.5 311.9,75.6 311.6,75.6 311.1,75.7 310.6,75.7 310.1,75.8 309.6,75.8 309.1,75.8 308.6,75.8 308.1,75.8 307.6,75.8 307.1,75.8 306.6,75.7 306.2,75.6 305.9,75.6 305.4,75.5 304.9,75.4 304.6,75.3 304.1,75.3 303.6,75.2 303.1,75.2 302.6,75.2 302.1,75.3 301.9,75.4 301.4,75.6 301.1,75.6 300.6,75.9 300.4,75.9 299.9,76.1 299.6,76.2 299.1,76.3 298.6,76.3 298.1,76.3 297.6,76.2 297.3,76.1 296.9,76.0 296.6,75.9 296.1,75.6 295.9,75.5 295.6,75.4 295.1,75.1 294.9,75.0 294.6,74.9 294.1,74.7 293.6,74.6 293.4,74.6 292.9,74.6 292.6,74.7 292.1,74.8 291.9,75.0 291.5,75.1 291.1,75.4 290.9,75.5 290.6,75.6 290.1,75.8 289.9,75.9 289.4,76.0 288.9,76.1 288.6,76.2 288.1,76.2 287.6,76.2 287.1,76.3 286.6,76.1 286.5,75.9 286.4,75.6 286.3,75.1 286.2,74.6 286.2,74.1 286.1,73.6 286.1,73.3 286.1,72.9 286.1,72.4 286.1,71.9 286.1,71.4 286.0,70.9 286.0,70.4 286.0,69.9 286.1,69.4 286.3,69.1 286.6,69.0 287.1,69.0 287.6,69.0 288.1,69.0 288.6,69.0 289.1,69.0 289.6,69.0 290.1,69.0 290.6,69.0 291.1,69.0 291.6,69.0 292.1,69.0 292.6,69.1 293.1,69.1 293.6,69.1 294.1,69.1 294.6,69.1 295.1,69.1 295.6,69.1 296.1,69.0 296.6,69.0 297.1,69.0 297.6,69.0 298.1,69.0 298.6,69.0 299.1,69.0 299.6,69.0 300.1,69.0 300.6,69.0 301.1,69.0 301.6,69.0 302.1,69.0 302.6,69.0 303.1,69.0 303.6,69.0 304.1,69.0 304.6,69.0 305.1,69.0 305.6,69.1 305.9,69.2 306.4,69.3 306.9,69.3 307.4,69.3 307.9,69.3 308.4,69.3 308.9,69.3 309.4,69.2 309.9,69.2 310.4,69.3 310.9,69.3 311.4,69.3 311.9,69.3 312.4,69.3 312.9,69.4 313.1,69.5 313.6,69.5 314.1,69.5 314.6,69.5 315.1,69.6 315.6,69.6 316.1,69.6 316.6,69.6 317.1,69.6 317.6,69.6 318.1,69.6 318.6,69.6 319.1,69.5 319.6,69.5 320.1,69.5 320.6,69.5 321.1,69.5 321.6,69.5 322.1,69.4 322.4,69.3 322.9,69.3 323.4,69.3 323.8,69.1 324.1,69.0 324.6,69.0 325.1,69.0 325.6,68.9 325.9,68.8 326.4,68.8 326.9,68.8 327.4,68.7 327.6,68.6 328.1,68.5 328.6,68.5 329.1,68.5 329.6,68.4 329.9,68.3 330.4,68.3 330.9,68.2 331.3,68.1 331.6,68.0 332.1,68.0 332.6,68.0 333.1,67.9 333.4,67.8 333.9,67.8 334.4,67.7 334.9,67.7 335.1,67.6 335.6,67.5 336.1,67.5 336.6,67.5 337.1,67.5 337.6,67.5 338.1,67.5 338.6,67.5 339.1,67.5 339.5,67.4 339.9,67.3 340.4,67.3 340.9,67.3 341.4,67.3 341.9,67.3 342.4,67.3 342.9,67.3 343.4,67.3 343.9,67.2 344.1,67.1 344.6,67.0 345.1,67.0 345.6,67.0 346.1,67.0 346.6,67.0 347.1,67.0 347.5,67.1 347.7,67.4 347.7,67.9 347.7,68.4 347.7,68.9 347.7,69.4 347.7,69.9 347.7,70.4 347.7,70.9 347.7,71.4 347.9,71.8 348.0,72.1 348.0,72.6 348.0,73.1 348.0,73.6 348.0,74.1 348.0,74.6 348.0,75.1 348.0,75.6 348.0,76.1 348.1,76.6 348.2,76.9 348.2,77.4 348.2,77.9 348.2,78.4 348.2,78.9 348.2,79.4 348.2,79.9 348.2,80.4 348.2,80.9 348.4,81.3 348.4,81.6 348.5,82.1 348.5,82.6 348.5,83.1 348.5,83.6 348.5,84.1 348.5,84.6 348.5,85.1 348.5,85.6 348.6,86.1 348.5,86.6 348.5,87.1 348.5,87.6 348.5,88.1 348.5,88.6 348.5,89.1 348.5,89.6 348.5,90.1 348.4,90.6 348.4,90.9 348.3,91.4 348.3,91.9 348.3,92.4 348.3,92.9 348.3,93.4 348.3,93.9 348.3,94.4 348.3,94.9 348.2,95.4 348.1,95.6 348.0,96.1 348.0,96.6 348.0,97.1 348.0,97.6 348.0,98.1 348.0,98.6 348.0,99.1 348.0,99.6 347.9,100.1 347.8,100.4 347.8,100.9 347.8,101.4 347.8,101.9 347.8,102.4 347.8,102.9 347.8,103.4 347.8,103.9 347.8,104.4 347.6,104.7M347.4,104.7 346.9,104.8 346.4,104.8 345.9,104.8 345.4,104.8 344.9,104.8 344.4,104.8 343.9,104.7 343.4,104.7 342.9,104.7 342.4,104.7 341.9,104.7 341.4,104.7 340.9,104.7 340.4,104.7 339.9,104.7 339.4,104.6 338.9,104.6 338.5,104.6 338.1,104.6 337.6,104.6 337.1,104.6 336.6,104.5 336.1,104.5 335.6,104.5 335.1,104.4 334.6,104.4 334.4,104.3 333.9,104.2 333.7,103.9 333.8,103.4 333.9,103.0 333.9,102.6 333.9,102.1 333.9,101.9 333.8,101.4 333.6,100.9 333.6,100.6 333.4,100.1 333.3,99.9 333.1,99.6 332.9,99.1 332.8,98.9 332.6,98.6 332.4,98.2 332.2,97.9 332.1,97.6 331.9,97.2 331.8,96.9 331.7,96.4 331.7,95.9 331.8,95.4 331.9,95.1 332.0,94.6 332.1,94.2 332.3,93.9 332.4,93.6 332.6,93.2 332.8,92.9 333.0,92.6 333.1,92.4 333.4,92.0 333.6,91.7 333.9,91.4 334.1,91.1 334.3,90.9 334.5,90.6 334.7,90.4 334.9,90.1 335.1,89.9 335.4,89.5 335.6,89.2 335.8,88.9 335.9,88.6 336.1,88.1 336.1,87.8 336.2,87.4 336.2,86.9 336.2,86.4 336.2,85.9 336.3,85.4 336.4,84.9 336.4,84.6 336.4,84.1 336.5,83.6 336.6,83.3 336.8,82.9 336.9,82.5 337.0,82.1 337.1,81.6 337.2,81.4 337.2,80.9 337.3,80.4 337.3,79.9 337.3,79.4 337.3,78.9 337.2,78.4 337.2,77.9 337.1,77.6 337.0,77.1 336.9,76.7 336.8,76.4 336.6,75.9 336.5,75.6 336.3,75.4 335.9,75.2 335.4,75.2 334.9,75.2 334.4,75.2 333.9,75.2 333.4,75.2 332.9,75.2 332.4,75.2 331.9,75.2 331.4,75.1 330.9,75.1 330.4,75.1 329.9,75.1 329.4,75.1 328.9,75.2 328.4,75.2 327.9,75.2 327.4,75.2 326.9,75.2 326.4,75.2 325.9,75.2 325.4,75.2 324.9,75.2 324.4,75.2 323.9,75.1 323.6,75.1 323.1,75.0 322.6,74.9 322.4,74.8 321.9,74.7 321.5,74.6 321.1,74.6 320.6,74.5 320.1,74.4 319.9,74.4 319.4,74.3 318.9,74.3 318.4,74.2 317.9,74.3 317.4,74.3 316.9,74.3 316.4,74.3 315.9,74.4 315.6,74.4 315.1,74.4 314.6,74.4 314.1,74.5 313.6,74.6 313.3,74.6 312.9,74.7 312.4,74.8 311.9,74.8 311.6,74.9 311.1,74.9 310.6,75.0 310.1,75.0 309.6,75.1 309.1,75.1 308.6,75.1 308.1,75.1 307.6,75.0 307.1,75.0 306.6,74.9 306.4,74.9 305.9,74.8 305.4,74.7 304.9,74.6 304.6,74.6 304.1,74.6 303.6,74.5 303.1,74.5 302.6,74.5 302.1,74.6 301.9,74.6 301.4,74.8 301.0,74.9 300.6,75.0 300.3,75.1 299.9,75.3 299.4,75.4 299.1,75.4 298.6,75.5 298.1,75.4 297.8,75.4 297.4,75.3 297.0,75.1 296.6,75.0 296.4,74.9 295.9,74.6 295.6,74.5 295.3,74.4 294.9,74.2 294.6,74.1 294.1,74.0 293.6,73.9 293.1,73.9 292.6,74.0 292.1,74.1 291.9,74.2 291.6,74.4 291.2,74.6 290.9,74.8 290.6,74.9 290.2,75.1 289.9,75.3 289.5,75.4 289.1,75.5 288.6,75.6 288.1,75.6 287.9,75.6 287.4,75.7 286.9,75.6 286.6,75.5 286.4,75.1 286.4,74.9 286.3,74.4 286.2,73.9 286.2,73.4 286.2,72.9 286.1,72.4 286.1,72.1 286.1,71.6 286.1,71.1 286.1,70.6 286.1,70.1 286.1,69.6 286.1,69.4 286.4,69.1 286.9,69.1 287.4,69.1 287.9,69.1 288.4,69.1 288.9,69.1 289.4,69.1 289.9,69.1 290.4,69.1 290.9,69.1 291.4,69.1 291.9,69.1 292.4,69.1 292.9,69.1 293.4,69.1 293.9,69.1 294.4,69.1 294.9,69.1 295.4,69.1 295.9,69.1 296.4,69.1 296.9,69.1 297.4,69.1 297.9,69.1 298.4,69.1 298.9,69.1 299.4,69.1 299.9,69.1 300.4,69.1 300.9,69.1 301.4,69.1 301.9,69.1 302.4,69.1 302.9,69.1 303.4,69.1 303.9,69.1 304.4,69.1 304.9,69.1 305.4,69.1 305.6,69.1 306.1,69.3 306.6,69.3 307.1,69.3 307.6,69.3 308.1,69.3 308.6,69.3 309.1,69.3 309.6,69.3 310.1,69.3 310.6,69.3 311.1,69.3 311.6,69.3 312.1,69.3 312.6,69.3 312.9,69.4 313.4,69.6 313.9,69.6 314.4,69.6 314.9,69.6 315.4,69.6 315.9,69.6 316.4,69.6 316.9,69.6 317.4,69.6 317.9,69.6 318.4,69.6 318.9,69.6 319.4,69.6 319.9,69.6 320.4,69.6 320.9,69.6 321.4,69.6 321.9,69.5 322.2,69.4 322.6,69.3 323.1,69.3 323.6,69.2 324.0,69.1 324.4,69.1 324.9,69.1 325.4,69.0 325.9,68.9 326.1,68.8 326.6,68.8 327.1,68.8 327.6,68.7 327.9,68.6 328.4,68.6 328.9,68.6 329.4,68.5 329.7,68.4 330.1,68.3 330.6,68.3 331.1,68.2 331.4,68.1 331.9,68.1 332.4,68.1 332.9,68.0 333.4,67.9 333.6,67.8 334.1,67.8 334.6,67.8 335.1,67.6 335.4,67.6 335.9,67.5 336.4,67.5 336.9,67.5 337.4,67.5 337.9,67.5 338.4,67.5 338.9,67.5 339.4,67.5 339.6,67.4 340.1,67.3 340.6,67.3 341.1,67.3 341.6,67.3 342.1,67.3 342.6,67.3 343.1,67.3 343.6,67.3 344.1,67.1 344.4,67.1 344.9,67.0 345.4,67.0 345.9,67.0 346.4,67.1 346.9,67.1 347.4,67.1 347.6,67.3 347.7,67.6 347.7,68.1 347.7,68.6 347.7,69.1 347.7,69.6 347.7,70.1 347.7,70.6 347.7,71.1 347.8,71.6 347.9,72.0 347.9,72.4 347.9,72.9 347.9,73.4 347.9,73.9 347.9,74.4 347.9,74.9 347.9,75.4 347.9,75.9 348.0,76.4 348.1,76.8 348.2,77.1 348.2,77.6 348.2,78.1 348.2,78.6 348.2,79.1 348.2,79.6 348.2,80.1 348.2,80.6 348.2,81.1 348.4,81.5 348.4,81.9 348.4,82.4 348.4,82.9 348.4,83.4 348.5,83.9 348.5,84.4 348.5,84.9 348.5,85.4 348.5,85.9 348.5,86.4 348.5,86.9 348.5,87.4 348.5,87.9 348.5,88.4 348.5,88.9 348.5,89.4 348.5,89.9 348.5,90.4 348.4,90.7 348.3,91.1 348.2,91.6 348.2,92.1 348.2,92.6 348.2,93.1 348.2,93.6 348.2,94.1 348.2,94.6 348.2,95.1 348.1,95.5 348.0,95.9 348.0,96.4 348.0,96.9 348.0,97.4 348.0,97.9 348.0,98.4 348.0,98.9 348.0,99.4 347.9,99.9 347.8,100.1 347.8,100.6 347.8,101.1 347.8,101.6 347.8,102.1 347.8,102.6 347.8,103.1 347.8,103.6 347.8,104.1 347.6,104.6 347.4,104.7M347.4,104.7 346.9,104.7 346.4,104.7 345.9,104.7 345.4,104.7 344.9,104.7 344.4,104.7 343.9,104.7 343.4,104.7 342.9,104.7 342.4,104.7 341.9,104.7 341.4,104.7 340.9,104.6 340.4,104.6 340.1,104.6 339.6,104.6 339.1,104.6 338.6,104.6 338.1,104.5 337.6,104.5 337.1,104.5 336.6,104.5 336.1,104.4 335.6,104.4 335.4,104.4 334.9,104.2 334.6,104.1 334.6,103.6 334.6,103.1 334.6,102.7 334.6,102.5 334.6,102.1 334.6,101.6 334.5,101.1 334.4,100.7 334.3,100.4 334.1,99.9 334.0,99.6 333.9,99.3 333.7,98.9 333.6,98.6 333.4,98.2 333.2,97.9 333.1,97.6 332.9,97.2 332.8,96.9 332.8,96.4 332.8,95.9 332.9,95.6 333.0,95.1 333.1,94.8 333.3,94.4 333.4,94.1 333.6,93.8 333.9,93.4 334.0,93.1 334.2,92.9 334.4,92.6 334.6,92.2 334.8,91.9 335.0,91.6 335.2,91.4 335.4,91.1 335.6,90.7 335.9,90.4 336.1,90.1 336.3,89.9 336.5,89.6 336.7,89.4 336.9,89.0 337.1,88.6 337.1,88.4 337.2,87.9 337.2,87.4 337.2,86.9 337.1,86.4 337.1,85.9 337.2,85.4 337.2,84.9 337.3,84.4 337.4,83.9 337.4,83.6 337.6,83.1 337.7,82.9 337.8,82.4 337.9,82.1 338.0,81.6 338.1,81.1 338.1,80.6 338.1,80.4 338.1,79.9 338.1,79.4 338.1,78.9 338.1,78.6 338.1,78.1 338.0,77.6 337.9,77.1 337.9,76.9 337.8,76.4 337.7,75.9 337.6,75.6 337.5,75.1 337.4,74.8 337.1,74.6 336.6,74.6 336.1,74.6 335.7,74.6 335.4,74.6 334.9,74.7 334.4,74.7 333.9,74.7 333.4,74.7 332.9,74.7 332.4,74.7 331.9,74.6 331.4,74.6 331.1,74.6 330.6,74.6 330.1,74.6 329.6,74.6 329.1,74.6 328.6,74.6 328.1,74.6 327.6,74.6 327.1,74.6 326.6,74.6 326.1,74.6 325.6,74.6 325.1,74.6 324.6,74.5 324.1,74.5 323.7,74.4 323.4,74.3 322.9,74.2 322.6,74.1 322.1,74.0 321.6,73.9 321.3,73.9 320.9,73.8 320.4,73.7 319.9,73.7 319.4,73.6 319.1,73.6 318.6,73.6 318.1,73.5 317.6,73.5 317.1,73.6 316.6,73.6 316.1,73.6 315.9,73.6 315.4,73.7 314.9,73.7 314.4,73.8 313.9,73.8 313.6,73.9 313.1,74.0 312.6,74.0 312.1,74.1 311.7,74.1 311.4,74.2 310.9,74.2 310.4,74.2 309.9,74.3 309.4,74.3 308.9,74.3 308.4,74.3 307.9,74.3 307.4,74.3 306.9,74.2 306.4,74.1 306.1,74.1 305.6,74.1 305.1,74.0 304.6,74.0 304.1,74.0 303.6,73.9 303.1,73.9 302.6,73.9 302.1,74.0 301.6,74.0 301.1,74.1 300.9,74.2 300.4,74.3 300.0,74.4 299.6,74.4 299.1,74.5 298.6,74.5 298.1,74.4 297.7,74.4 297.4,74.3 296.9,74.1 296.6,74.1 296.1,73.9 295.9,73.8 295.4,73.7 295.1,73.6 294.6,73.4 294.4,73.4 293.9,73.3 293.4,73.2 292.9,73.3 292.4,73.4 292.1,73.5 291.8,73.6 291.4,73.8 291.1,74.0 290.9,74.1 290.5,74.4 290.1,74.5 289.9,74.7 289.4,74.8 289.1,74.9 288.6,75.0 288.1,75.1 287.6,75.1 287.1,75.1 286.6,75.0 286.5,74.6 286.4,74.3 286.3,73.9 286.3,73.4 286.2,72.9 286.2,72.4 286.2,71.9 286.1,71.4 286.1,70.9 286.1,70.6 286.1,70.1 286.1,69.6 286.2,69.4 286.6,69.1 286.9,69.1 287.4,69.1 287.9,69.1 288.4,69.1 288.9,69.1 289.4,69.1 289.9,69.1 290.4,69.1 290.9,69.1 291.4,69.1 291.6,69.1 292.1,69.1 292.6,69.1 293.1,69.2 293.6,69.2 294.1,69.2 294.6,69.2 295.1,69.2 295.6,69.1 296.1,69.1 296.6,69.1 297.1,69.1 297.4,69.1 297.9,69.1 298.4,69.1 298.9,69.1 299.1,69.1 299.6,69.1 300.1,69.1 300.6,69.1 301.0,69.1 301.4,69.1 301.9,69.1 302.4,69.1 302.9,69.1 303.4,69.1 303.9,69.1 304.4,69.1 304.9,69.1 305.4,69.1 305.6,69.2 306.1,69.3 306.6,69.4 307.1,69.3 307.6,69.3 308.1,69.3 308.6,69.3 309.1,69.3 309.6,69.3 310.1,69.3 310.6,69.3 311.1,69.3 311.6,69.3 312.1,69.4 312.6,69.4 312.9,69.5 313.4,69.6 313.8,69.6 314.1,69.6 314.6,69.6 315.1,69.7 315.6,69.7 316.1,69.7 316.6,69.7 317.1,69.7 317.6,69.7 318.1,69.7 318.6,69.6 319.1,69.6 319.6,69.6 319.9,69.6 320.4,69.6 320.9,69.6 321.4,69.6 321.9,69.5 322.4,69.4 322.6,69.4 323.1,69.4 323.6,69.3 324.1,69.1 324.4,69.1 324.9,69.1 325.4,69.1 325.9,69.0 326.1,68.9 326.6,68.9 327.1,68.8 327.6,68.7 327.9,68.6 328.4,68.6 328.9,68.6 329.4,68.5 329.9,68.4 330.1,68.4 330.6,68.4 331.1,68.3 331.6,68.1 331.9,68.1 332.4,68.1 332.9,68.1 333.4,67.9 333.6,67.9 334.1,67.8 334.6,67.8 335.1,67.7 335.4,67.6 335.9,67.6 336.4,67.6 336.9,67.6 337.4,67.6 337.9,67.6 338.4,67.6 338.9,67.6 339.4,67.5 339.8,67.4 340.1,67.3 340.6,67.3 341.1,67.3 341.6,67.3 342.1,67.3 342.6,67.3 343.1,67.3 343.6,67.3 344.1,67.2 344.4,67.1 344.9,67.1 345.4,67.1 345.9,67.1 346.4,67.1 346.9,67.1 347.2,67.1 347.6,67.4 347.6,67.6 347.6,68.1 347.6,68.6 347.6,69.1 347.6,69.6 347.6,70.1 347.6,70.6 347.6,71.1 347.7,71.6 347.9,72.1 347.9,72.4 347.9,72.9 347.9,73.4 347.9,73.9 347.9,74.1 347.9,74.6 347.9,75.1 347.9,75.6 347.9,75.9 347.9,76.4 348.1,76.9 348.1,77.4 348.1,77.9 348.1,78.4 348.1,78.9 348.1,79.4 348.1,79.9 348.1,80.3 348.1,80.6 348.2,81.1 348.4,81.6 348.4,81.9 348.4,82.4 348.4,82.9 348.4,83.4 348.4,83.9 348.4,84.4 348.4,84.9 348.4,85.4 348.5,85.9 348.5,86.4 348.4,86.9 348.4,87.4 348.4,87.9 348.4,88.4 348.4,88.9 348.4,89.4 348.4,89.9 348.4,90.4 348.4,90.6 348.2,91.1 348.2,91.6 348.2,92.1 348.2,92.6 348.2,93.1 348.2,93.6 348.2,94.1 348.2,94.6 348.2,95.1 348.1,95.4 348.0,95.9 348.0,96.4 348.0,96.9 348.0,97.4 348.0,97.9 348.0,98.4 348.0,98.9 348.0,99.4 347.9,99.9 347.8,100.1 347.7,100.6 347.7,101.1 347.7,101.6 347.7,102.1 347.7,102.6 347.7,103.1 347.7,103.6 347.7,104.1 347.6,104.5 347.4,104.7M347.4,104.7 346.9,104.7 346.4,104.7 345.9,104.7 345.4,104.7 344.9,104.7 344.4,104.7 343.9,104.7 343.4,104.7 342.9,104.7 342.4,104.6 341.9,104.6 341.6,104.6 341.1,104.6 340.6,104.6 340.1,104.6 339.6,104.5 339.1,104.5 338.6,104.5 338.1,104.5 337.6,104.5 337.1,104.4 336.6,104.4 336.4,104.4 335.9,104.3 335.4,104.1 335.3,103.9 335.3,103.4 335.3,102.9 335.3,102.4 335.2,101.9 335.2,101.4 335.1,101.1 335.1,100.6 335.0,100.1 334.9,99.8 334.8,99.4 334.7,98.9 334.6,98.6 334.4,98.1 334.3,97.9 334.2,97.4 334.1,97.1 334.1,96.6 334.2,96.4 334.3,95.9 334.5,95.6 334.6,95.3 334.9,94.9 335.0,94.6 335.1,94.4 335.3,93.9 335.4,93.6 335.6,93.1 335.7,92.9 335.8,92.4 335.9,92.1 336.1,91.6 336.3,91.4 336.4,91.1 336.6,90.8 336.9,90.5 337.1,90.1 337.3,89.9 337.5,89.6 337.7,89.4 337.9,89.1 338.1,88.7 338.2,88.4 338.3,87.9 338.3,87.4 338.3,86.9 338.2,86.4 338.2,85.9 338.2,85.4 338.2,84.9 338.3,84.4 338.4,83.9 338.4,83.6 338.6,83.1 338.6,82.9 338.8,82.4 338.9,81.9 338.9,81.6 338.9,81.1 339.0,80.6 339.0,80.1 339.0,79.6 339.1,79.1 339.1,78.7 339.2,78.4 339.2,77.9 339.2,77.4 339.1,76.9 339.1,76.6 339.0,76.1 338.9,75.6 338.8,75.4 338.8,74.9 338.7,74.4 338.6,73.9 338.4,73.8 337.9,73.8 337.4,73.8 337.1,73.9 336.6,73.9 336.1,74.0 335.6,74.1 335.1,74.1 334.8,74.1 334.4,74.2 333.9,74.2 333.4,74.2 332.9,74.2 332.4,74.2 331.9,74.2 331.4,74.1 331.1,74.1 330.6,74.1 330.1,74.1 329.6,74.0 329.1,74.0 328.6,74.0 328.1,73.9 327.6,73.9 327.1,73.9 326.6,73.9 326.1,73.9 325.8,73.9 325.4,73.9 324.9,73.8 324.4,73.7 323.9,73.6 323.6,73.6 323.1,73.5 322.6,73.4 322.4,73.4 321.9,73.3 321.4,73.3 320.9,73.2 320.4,73.1 320.1,73.1 319.6,73.1 319.1,73.0 318.6,72.9 318.1,72.9 317.9,72.9 317.4,72.8 316.9,72.8 316.4,72.9 316.1,72.9 315.6,72.9 315.1,73.0 314.6,73.1 314.3,73.1 313.9,73.2 313.4,73.3 312.9,73.3 312.4,73.4 312.1,73.4 311.6,73.4 311.1,73.5 310.6,73.5 310.1,73.6 309.6,73.6 309.2,73.6 308.9,73.6 308.4,73.6 308.1,73.6 307.6,73.6 307.1,73.5 306.6,73.5 306.1,73.5 305.6,73.4 305.1,73.4 304.6,73.4 304.1,73.4 303.7,73.4 303.4,73.4 302.9,73.4 302.4,73.4 302.0,73.4 301.6,73.4 301.1,73.4 300.6,73.5 300.1,73.5 299.6,73.6 299.1,73.6 298.6,73.5 298.1,73.5 297.6,73.4 297.3,73.4 296.9,73.3 296.4,73.2 296.1,73.1 295.6,73.0 295.1,72.9 294.9,72.8 294.4,72.7 294.1,72.6 293.6,72.6 293.1,72.6 292.7,72.6 292.4,72.7 292.0,72.9 291.6,73.0 291.4,73.2 291.1,73.4 290.7,73.6 290.4,73.8 290.1,74.0 289.8,74.1 289.4,74.3 289.1,74.4 288.6,74.5 288.1,74.6 287.6,74.6 287.1,74.6 286.6,74.4 286.5,74.1 286.4,73.6 286.3,73.4 286.3,72.9 286.3,72.4 286.2,71.9 286.2,71.4 286.2,70.9 286.2,70.4 286.2,69.9 286.2,69.4 286.6,69.2 287.1,69.2 287.6,69.2 288.1,69.2 288.6,69.2 289.1,69.2 289.6,69.2 290.1,69.2 290.6,69.2 291.1,69.2 291.6,69.2 292.1,69.2 292.6,69.2 293.1,69.2 293.6,69.2 294.1,69.2 294.6,69.2 295.1,69.2 295.6,69.2 296.1,69.2 296.6,69.2 297.1,69.2 297.6,69.2 298.1,69.2 298.6,69.2 299.1,69.2 299.6,69.2 300.1,69.2 300.6,69.2 301.1,69.2 301.6,69.2 302.1,69.2 302.6,69.2 303.1,69.2 303.6,69.2 304.1,69.1 304.6,69.1 305.1,69.2 305.6,69.2 306.1,69.4 306.4,69.4 306.9,69.4 307.4,69.4 307.9,69.4 308.4,69.4 308.6,69.4 309.1,69.4 309.6,69.4 310.1,69.4 310.6,69.4 310.9,69.4 311.4,69.4 311.9,69.4 312.4,69.4 312.9,69.5 313.3,69.6 313.6,69.7 314.1,69.7 314.6,69.7 315.1,69.7 315.6,69.7 316.1,69.7 316.6,69.7 317.1,69.7 317.6,69.7 318.1,69.7 318.6,69.7 319.1,69.7 319.6,69.7 320.1,69.7 320.6,69.7 321.1,69.7 321.6,69.6 321.9,69.6 322.4,69.4 322.9,69.4 323.4,69.4 323.6,69.3 324.1,69.2 324.6,69.2 325.1,69.2 325.4,69.1 325.9,69.0 326.4,68.9 326.9,68.9 327.1,68.9 327.6,68.8 328.1,68.7 328.6,68.7 329.1,68.6 329.4,68.6 329.9,68.4 330.4,68.4 330.9,68.4 331.1,68.3 331.6,68.2 332.1,68.1 332.6,68.1 332.9,68.1 333.4,68.0 333.9,67.9 334.1,67.9 334.6,67.9 335.1,67.7 335.6,67.6 335.9,67.6 336.4,67.6 336.9,67.6 337.4,67.6 337.9,67.6 338.4,67.6 338.9,67.6 339.4,67.6 339.9,67.4 340.4,67.4 340.9,67.4 341.4,67.4 341.9,67.4 342.4,67.4 342.9,67.4 343.4,67.4 343.6,67.4 344.1,67.2 344.6,67.1 344.9,67.1 345.4,67.1 345.7,67.1 346.1,67.1 346.6,67.1 347.1,67.2 347.5,67.4 347.6,67.9 347.6,68.4 347.6,68.9 347.6,69.4 347.6,69.9 347.6,70.4 347.6,70.9 347.6,71.4 347.7,71.6 347.8,72.1 347.8,72.6 347.8,73.1 347.8,73.6 347.8,74.1 347.8,74.6 347.8,75.1 347.8,75.6 347.8,76.1 347.9,76.4 348.0,76.9 348.0,77.4 348.0,77.9 348.0,78.4 348.1,78.9 348.1,79.4 348.1,79.9 348.1,80.4 348.1,80.9 348.1,81.1 348.3,81.6 348.3,82.1 348.3,82.6 348.4,83.1 348.4,83.6 348.4,83.9 348.4,84.4 348.4,84.9 348.4,85.4 348.4,85.9 348.5,86.4 348.4,86.9 348.4,87.4 348.4,87.9 348.4,88.4 348.4,88.9 348.4,89.4 348.4,89.9 348.4,90.4 348.3,90.6 348.2,91.1 348.2,91.6 348.2,92.1 348.2,92.6 348.2,93.1 348.2,93.6 348.2,94.1 348.2,94.6 348.1,95.1 348.1,95.4 347.9,95.9 347.9,96.4 347.9,96.9 347.9,97.4 347.9,97.9 347.9,98.4 347.9,98.9 347.9,99.4 347.9,99.7 347.8,100.1 347.7,100.6 347.7,101.1 347.7,101.6 347.7,102.1 347.7,102.6 347.7,103.1 347.7,103.6 347.7,104.1 347.6,104.4 347.4,104.7M347.4,104.6 346.9,104.7 346.4,104.7 345.9,104.7 345.4,104.7 344.9,104.7 344.4,104.7 343.9,104.6 343.4,104.6 343.1,104.6 342.6,104.6 342.1,104.6 341.6,104.6 341.1,104.5 340.6,104.5 340.1,104.5 339.6,104.5 339.1,104.4 338.6,104.4 338.1,104.4 337.6,104.4 337.4,104.4 336.9,104.3 336.4,104.2 336.1,104.0 336.0,103.6 336.0,103.1 335.9,102.6 335.9,102.1 335.9,101.9 335.8,101.4 335.8,100.9 335.7,100.4 335.7,99.9 335.6,99.4 335.6,99.1 335.6,98.6 335.6,98.1 335.5,97.6 335.5,97.1 335.6,96.8 335.8,96.4 335.9,96.1 336.1,95.7 336.3,95.4 336.4,95.1 336.5,94.6 336.6,94.1 336.7,93.9 336.7,93.4 336.7,92.9 336.8,92.4 336.9,92.1 337.1,91.6 337.2,91.4 337.4,91.1 337.6,90.8 337.9,90.5 338.1,90.2 338.4,89.9 338.6,89.6 338.8,89.4 339.0,89.1 339.1,88.8 339.3,88.4 339.4,88.0 339.4,87.6 339.4,87.1 339.4,86.6 339.4,86.4 339.4,85.9 339.4,85.5 339.4,85.1 339.4,84.8 339.4,84.4 339.4,84.1 339.4,83.6 339.5,83.1 339.6,82.6 339.7,82.4 339.7,81.9 339.8,81.4 339.9,80.9 339.9,80.6 340.0,80.1 340.1,79.6 340.2,79.4 340.3,78.9 340.4,78.6 340.5,78.1 340.6,77.8 340.7,77.4 340.6,76.9 340.6,76.6 340.4,76.1 340.4,75.9 340.2,75.4 340.1,75.1 340.0,74.6 340.0,74.1 340.0,73.6 340.0,73.1 339.9,72.9 339.4,72.8 338.9,72.8 338.5,72.9 338.1,72.9 337.6,73.1 337.3,73.1 336.9,73.2 336.4,73.3 335.9,73.4 335.6,73.4 335.1,73.5 334.6,73.5 334.1,73.6 333.7,73.6 333.4,73.6 332.9,73.7 332.4,73.7 331.9,73.6 331.6,73.6 331.1,73.6 330.6,73.6 330.1,73.5 329.6,73.5 329.1,73.4 328.8,73.4 328.4,73.3 327.9,73.3 327.4,73.2 326.9,73.2 326.4,73.2 325.9,73.1 325.6,73.1 325.1,73.1 324.6,73.0 324.1,72.9 323.9,72.9 323.4,72.8 322.9,72.8 322.4,72.7 321.9,72.7 321.4,72.7 320.9,72.6 320.6,72.6 320.1,72.6 319.6,72.5 319.1,72.4 318.9,72.4 318.4,72.3 317.9,72.2 317.4,72.2 316.9,72.1 316.4,72.1 315.9,72.2 315.4,72.3 314.9,72.3 314.6,72.4 314.1,72.5 313.6,72.6 313.3,72.6 312.9,72.7 312.4,72.7 311.9,72.8 311.4,72.8 310.9,72.9 310.6,72.9 310.1,72.9 309.6,73.0 309.1,73.0 308.6,73.0 308.1,73.0 307.6,73.0 307.1,72.9 306.6,72.9 306.4,72.9 305.9,72.9 305.4,72.9 304.9,72.8 304.4,72.8 303.9,72.8 303.4,72.8 302.9,72.8 302.4,72.8 301.9,72.8 301.4,72.8 300.9,72.8 300.4,72.8 299.9,72.7 299.4,72.7 298.9,72.7 298.4,72.7 297.9,72.6 297.6,72.6 297.1,72.6 296.6,72.5 296.1,72.4 295.9,72.4 295.4,72.2 294.9,72.1 294.6,72.0 294.1,71.9 293.6,71.9 293.1,71.9 292.6,72.0 292.2,72.1 291.9,72.3 291.6,72.4 291.2,72.6 290.9,72.9 290.6,73.0 290.4,73.2 290.1,73.4 289.6,73.6 289.4,73.7 289.0,73.9 288.6,74.0 288.1,74.1 287.6,74.1 287.1,74.0 286.7,73.9 286.6,73.6 286.4,73.1 286.4,72.9 286.3,72.4 286.3,71.9 286.3,71.4 286.2,70.9 286.2,70.4 286.2,69.9 286.3,69.4 286.6,69.2 287.1,69.2 287.6,69.2 288.1,69.2 288.6,69.2 289.1,69.2 289.6,69.2 290.1,69.2 290.6,69.2 291.1,69.2 291.6,69.3 292.1,69.3 292.6,69.3 293.1,69.3 293.6,69.3 294.1,69.3 294.6,69.3 295.1,69.3 295.6,69.3 296.1,69.3 296.6,69.3 297.1,69.3 297.6,69.2 298.1,69.2 298.6,69.2 299.1,69.2 299.6,69.3 300.1,69.3 300.6,69.3 301.1,69.2 301.6,69.2 302.1,69.2 302.6,69.2 303.1,69.2 303.6,69.2 304.1,69.2 304.6,69.2 305.1,69.2 305.6,69.3 305.9,69.4 306.4,69.5 306.9,69.5 307.4,69.5 307.9,69.4 308.4,69.4 308.9,69.4 309.4,69.4 309.9,69.4 310.4,69.4 310.9,69.4 311.4,69.4 311.9,69.5 312.4,69.5 312.9,69.6 313.1,69.7 313.6,69.7 314.1,69.8 314.6,69.8 315.1,69.8 315.6,69.8 316.1,69.8 316.6,69.8 317.1,69.8 317.6,69.8 318.1,69.8 318.6,69.8 319.1,69.8 319.6,69.8 320.1,69.7 320.6,69.7 321.1,69.7 321.6,69.7 321.9,69.6 322.4,69.5 322.9,69.5 323.4,69.5 323.7,69.4 324.1,69.3 324.6,69.2 325.1,69.2 325.6,69.1 325.9,69.1 326.4,69.0 326.9,69.0 327.4,68.9 327.6,68.8 328.1,68.7 328.6,68.7 329.1,68.7 329.4,68.6 329.9,68.5 330.4,68.5 330.9,68.4 331.1,68.4 331.6,68.2 332.1,68.2 332.6,68.2 333.0,68.1 333.4,68.0 333.9,67.9 334.4,67.9 334.7,67.9 335.1,67.8 335.6,67.7 336.1,67.7 336.6,67.7 337.1,67.7 337.6,67.7 338.1,67.7 338.6,67.7 339.1,67.7 339.4,67.6 339.9,67.5 340.4,67.4 340.9,67.4 341.4,67.4 341.9,67.4 342.4,67.4 342.9,67.4 343.4,67.4 343.8,67.4 344.1,67.3 344.6,67.2 345.1,67.2 345.6,67.2 346.1,67.2 346.6,67.2 347.1,67.2 347.5,67.4 347.5,67.9 347.5,68.4 347.5,68.9 347.5,69.4 347.5,69.9 347.5,70.4 347.5,70.9 347.6,71.4 347.6,71.7 347.7,72.1 347.8,72.6 347.8,73.1 347.8,73.6 347.8,74.1 347.7,74.6 347.7,75.1 347.7,75.6 347.8,76.1 347.9,76.5 348.0,76.9 348.0,77.4 348.0,77.9 348.0,78.4 348.0,78.9 348.0,79.4 348.0,79.9 348.0,80.4 348.0,80.9 348.1,81.2 348.2,81.6 348.3,82.1 348.3,82.6 348.3,83.1 348.3,83.6 348.3,84.1 348.3,84.6 348.3,85.1 348.4,85.6 348.4,85.9 348.4,86.4 348.4,86.8 348.4,87.1 348.4,87.6 348.4,88.1 348.4,88.6 348.4,89.1 348.4,89.6 348.4,90.1 348.3,90.6 348.1,91.1 348.1,91.6 348.1,92.1 348.1,92.6 348.1,92.9 348.1,93.4 348.1,93.9 348.1,94.4 348.1,94.9 348.0,95.4 347.9,95.9 347.9,96.4 347.9,96.9 347.9,97.4 347.9,97.9 347.9,98.4 347.9,98.9 347.9,99.4 347.9,99.6 347.7,100.1 347.7,100.6 347.7,101.1 347.7,101.6 347.7,102.1 347.7,102.6 347.7,103.1 347.7,103.6 347.7,104.1 347.6,104.4 347.4,104.6M347.1,104.6 346.6,104.6 346.1,104.6 345.6,104.6 345.1,104.6 344.6,104.6 344.4,104.6 343.9,104.6 343.4,104.6 342.9,104.6 342.4,104.5 341.9,104.5 341.4,104.5 340.9,104.5 340.4,104.4 339.9,104.4 339.4,104.4 339.0,104.4 338.6,104.3 338.1,104.3 337.6,104.2 337.2,104.1 336.9,103.9 336.8,103.6 336.7,103.1 336.6,102.6 336.6,102.4 336.6,101.9 336.5,101.4 336.5,100.9 336.5,100.4 336.5,99.9 336.5,99.4 336.6,98.9 336.6,98.4 336.6,98.1 336.7,97.6 336.8,97.1 336.9,96.8 337.1,96.4 337.2,96.1 337.4,95.6 337.5,95.4 337.6,94.9 337.6,94.6 337.7,94.1 337.7,93.6 337.7,93.1 337.7,92.6 337.8,92.1 337.9,91.9 338.1,91.5 338.4,91.1 338.6,90.9 338.8,90.6 339.1,90.4 339.3,90.1 339.6,89.9 339.8,89.6 339.9,89.4 340.1,89.0 340.3,88.6 340.4,88.2 340.4,87.9 340.5,87.4 340.5,86.9 340.5,86.4 340.6,85.9 340.6,85.4 340.5,84.9 340.5,84.4 340.4,83.9 340.4,83.4 340.5,82.9 340.6,82.4 340.6,82.1 340.7,81.6 340.8,81.1 340.9,80.9 341.0,80.4 341.1,80.1 341.3,79.6 341.4,79.4 341.6,78.9 341.7,78.6 341.8,78.1 341.9,77.7 341.9,77.4 341.9,76.9 341.9,76.6 341.7,76.1 341.6,75.9 341.4,75.4 341.3,75.1 341.1,74.7 341.0,74.4 341.0,73.9 341.0,73.4 341.1,72.9 341.1,72.6 341.1,72.3 340.9,72.1 340.4,71.9 339.9,71.9 339.4,71.9 338.9,72.0 338.4,72.0 338.1,72.1 337.6,72.2 337.1,72.4 336.9,72.4 336.4,72.5 335.9,72.6 335.6,72.7 335.1,72.8 334.6,72.9 334.4,72.9 333.9,73.0 333.4,73.0 332.9,73.1 332.4,73.1 331.9,73.1 331.4,73.1 330.9,73.0 330.4,73.0 329.9,72.9 329.6,72.9 329.1,72.8 328.6,72.7 328.2,72.6 327.9,72.6 327.4,72.5 326.9,72.5 326.4,72.4 326.0,72.4 325.6,72.3 325.1,72.3 324.6,72.2 324.1,72.2 323.6,72.1 323.1,72.1 322.9,72.1 322.4,72.1 321.9,72.1 321.4,72.1 320.9,72.1 320.4,72.0 319.9,72.0 319.5,71.9 319.1,71.8 318.6,71.7 318.4,71.6 317.9,71.5 317.4,71.4 316.9,71.4 316.4,71.4 315.9,71.5 315.4,71.5 315.0,71.6 314.6,71.7 314.1,71.8 313.9,71.9 313.4,72.0 312.9,72.1 312.5,72.1 312.1,72.2 311.6,72.2 311.1,72.3 310.6,72.3 310.1,72.3 309.8,72.4 309.4,72.4 308.9,72.4 308.4,72.4 307.9,72.4 307.6,72.4 307.1,72.3 306.6,72.3 306.1,72.3 305.6,72.3 305.1,72.3 304.6,72.3 304.1,72.3 303.6,72.3 303.1,72.3 302.6,72.2 302.1,72.2 301.6,72.1 301.4,72.1 300.9,72.1 300.4,72.0 299.9,72.0 299.4,72.0 298.9,71.9 298.4,71.9 297.9,71.9 297.4,71.9 297.1,71.9 296.6,71.8 296.1,71.7 295.7,71.6 295.4,71.5 294.9,71.4 294.6,71.3 294.1,71.2 293.6,71.2 293.1,71.3 292.6,71.4 292.4,71.4 291.9,71.6 291.6,71.7 291.4,71.9 291.0,72.1 290.6,72.4 290.4,72.5 290.1,72.7 289.8,72.9 289.4,73.1 289.1,73.2 288.7,73.4 288.4,73.5 287.9,73.5 287.4,73.5 286.9,73.4 286.6,73.1 286.6,72.9 286.5,72.4 286.4,72.0 286.4,71.6 286.3,71.1 286.3,70.6 286.3,70.1 286.3,69.6 286.4,69.4 286.9,69.3 287.4,69.3 287.9,69.3 288.4,69.3 288.9,69.3 289.4,69.3 289.9,69.3 290.4,69.3 290.9,69.3 291.4,69.3 291.9,69.3 292.4,69.3 292.9,69.3 293.4,69.4 293.9,69.4 294.4,69.4 294.9,69.4 295.4,69.3 295.9,69.3 296.4,69.3 296.9,69.3 297.4,69.3 297.9,69.3 298.4,69.3 298.9,69.3 299.4,69.3 299.9,69.3 300.4,69.3 300.9,69.3 301.4,69.3 301.9,69.3 302.4,69.3 302.9,69.3 303.4,69.3 303.9,69.3 304.4,69.3 304.9,69.3 305.4,69.3 305.7,69.4 306.1,69.5 306.6,69.5 307.1,69.5 307.6,69.5 308.1,69.5 308.6,69.5 309.1,69.5 309.6,69.5 310.1,69.5 310.6,69.5 311.1,69.5 311.6,69.5 312.1,69.5 312.6,69.6 312.9,69.6 313.4,69.8 313.9,69.8 314.4,69.8 314.9,69.8 315.4,69.9 315.9,69.9 316.4,69.9 316.9,69.9 317.4,69.9 317.9,69.9 318.4,69.8 318.9,69.8 319.4,69.8 319.9,69.8 320.4,69.8 320.9,69.8 321.4,69.8 321.9,69.7 322.1,69.6 322.6,69.5 323.1,69.5 323.6,69.5 323.9,69.4 324.4,69.3 324.9,69.3 325.4,69.3 325.8,69.1 326.1,69.0 326.6,69.0 327.1,69.0 327.6,68.9 327.9,68.8 328.4,68.8 328.9,68.8 329.4,68.7 329.6,68.6 330.1,68.5 330.6,68.5 331.1,68.5 331.4,68.4 331.9,68.3 332.4,68.3 332.9,68.2 333.2,68.1 333.6,68.0 334.1,68.0 334.6,68.0 334.9,67.9 335.4,67.8 335.9,67.7 336.4,67.7 336.9,67.7 337.4,67.7 337.9,67.7 338.4,67.7 338.9,67.7 339.4,67.7 339.6,67.6 340.1,67.5 340.6,67.5 341.1,67.5 341.6,67.5 342.1,67.5 342.6,67.5 343.1,67.5 343.6,67.5 344.0,67.4 344.4,67.3 344.9,67.2 345.4,67.2 345.9,67.2 346.4,67.3 346.9,67.3 347.4,67.4 347.5,67.6 347.5,68.1 347.5,68.6 347.5,69.1 347.5,69.6 347.5,70.1 347.5,70.6 347.5,71.1 347.5,71.6 347.6,71.9 347.7,72.4 347.7,72.9 347.7,73.4 347.7,73.9 347.7,74.4 347.7,74.9 347.7,75.4 347.7,75.9 347.7,76.4 347.9,76.8 347.9,77.1 347.9,77.6 347.9,78.1 347.9,78.6 347.9,79.1 347.9,79.6 347.9,80.1 347.9,80.6 348.0,81.1 348.1,81.4 348.2,81.9 348.2,82.4 348.2,82.9 348.2,83.4 348.3,83.9 348.3,84.4 348.3,84.9 348.3,85.4 348.4,85.9 348.4,86.1 348.4,86.4 348.3,86.9 348.3,87.4 348.3,87.9 348.3,88.4 348.3,88.9 348.3,89.4 348.3,89.9 348.3,90.4 348.1,90.9 348.1,91.1 348.1,91.6 348.1,92.1 348.1,92.6 348.1,93.1 348.1,93.6 348.1,94.1 348.1,94.6 348.0,95.1 347.9,95.6 347.9,95.9 347.8,96.4 347.8,96.9 347.8,97.4 347.8,97.9 347.8,98.4 347.8,98.9 347.8,99.4 347.7,99.9 347.6,100.4 347.6,100.6 347.6,101.1 347.6,101.6 347.6,101.9 347.6,102.4 347.6,102.9 347.6,103.4 347.6,103.9 347.6,104.2 347.4,104.6 347.1,104.6M347.4,104.5 346.9,104.6 346.4,104.6 345.9,104.6 345.4,104.6 344.9,104.6 344.4,104.6 343.9,104.5 343.4,104.5 342.9,104.5 342.4,104.5 341.9,104.5 341.4,104.4 340.9,104.4 340.4,104.4 340.1,104.3 339.6,104.3 339.1,104.2 338.6,104.1 338.4,104.1 338.1,103.9 337.9,103.4 337.8,103.1 337.6,102.8 337.5,102.4 337.4,101.9 337.3,101.6 337.3,101.1 337.3,100.6 337.3,100.1 337.4,99.6 337.4,99.4 337.4,98.9 337.5,98.4 337.6,97.9 337.6,97.5 337.7,97.1 337.9,96.7 338.0,96.4 338.1,96.1 338.4,95.6 338.4,95.4 338.6,94.9 338.6,94.6 338.7,94.1 338.7,93.6 338.7,93.1 338.7,92.6 338.9,92.1 339.0,91.9 339.2,91.6 339.4,91.4 339.6,91.1 339.9,90.9 340.2,90.6 340.4,90.4 340.6,90.1 340.9,89.8 341.1,89.4 341.2,89.1 341.3,88.6 341.4,88.2 341.4,87.9 341.5,87.4 341.6,86.9 341.6,86.4 341.6,86.1 341.6,85.6 341.6,85.1 341.6,84.9 341.5,84.4 341.4,83.9 341.4,83.4 341.4,82.9 341.5,82.4 341.6,82.0 341.7,81.6 341.9,81.2 342.0,80.9 342.1,80.5 342.2,80.1 342.4,79.7 342.5,79.4 342.6,78.9 342.7,78.6 342.8,78.1 342.9,77.9 343.0,77.4 343.0,76.9 342.9,76.4 342.9,76.1 342.7,75.6 342.6,75.4 342.4,74.9 342.3,74.6 342.1,74.2 342.1,73.9 342.0,73.4 342.1,72.9 342.1,72.6 342.3,72.1 342.3,71.6 341.9,71.4 341.6,71.3 341.1,71.3 340.6,71.2 340.1,71.2 339.6,71.2 339.1,71.2 338.6,71.2 338.1,71.3 337.9,71.4 337.4,71.5 336.9,71.6 336.6,71.7 336.1,71.8 335.8,71.9 335.4,72.0 334.9,72.1 334.5,72.1 334.1,72.2 333.6,72.3 333.2,72.4 332.9,72.4 332.4,72.5 331.9,72.5 331.4,72.4 330.9,72.4 330.6,72.4 330.1,72.3 329.6,72.2 329.4,72.1 328.9,72.0 328.4,71.9 328.1,71.9 327.6,71.8 327.1,71.7 326.6,71.7 326.1,71.6 325.9,71.6 325.4,71.6 324.9,71.5 324.4,71.5 323.9,71.5 323.4,71.5 322.9,71.5 322.4,71.5 321.9,71.6 321.4,71.6 320.9,71.5 320.4,71.5 320.0,71.4 319.6,71.3 319.1,71.1 318.9,71.1 318.4,70.9 318.1,70.8 317.6,70.7 317.1,70.7 316.6,70.6 316.1,70.7 315.6,70.8 315.1,70.9 314.9,70.9 314.4,71.1 314.1,71.2 313.6,71.3 313.3,71.4 312.9,71.5 312.4,71.5 311.9,71.6 311.6,71.6 311.1,71.7 310.6,71.8 310.1,71.8 309.6,71.8 309.1,71.9 308.6,71.9 308.1,71.8 307.6,71.8 307.1,71.7 306.6,71.7 306.1,71.7 305.6,71.7 305.1,71.7 304.6,71.7 304.1,71.7 303.6,71.7 303.1,71.7 302.6,71.6 302.4,71.6 301.9,71.5 301.4,71.5 300.9,71.4 300.6,71.3 300.1,71.3 299.6,71.3 299.1,71.2 298.6,71.2 298.1,71.2 297.6,71.2 297.1,71.2 296.7,71.1 296.4,71.1 295.9,71.0 295.6,70.9 295.1,70.8 294.6,70.6 294.4,70.6 293.9,70.5 293.4,70.6 293.0,70.6 292.6,70.7 292.1,70.9 291.9,71.0 291.6,71.1 291.1,71.3 290.9,71.5 290.6,71.6 290.3,71.9 289.9,72.1 289.6,72.3 289.4,72.4 288.9,72.6 288.6,72.7 288.1,72.8 287.6,72.8 287.1,72.7 286.9,72.6 286.6,72.4 286.5,71.9 286.4,71.4 286.4,70.9 286.4,70.6 286.3,70.1 286.3,69.6 286.6,69.4 286.9,69.3 287.4,69.3 287.9,69.3 288.4,69.3 288.9,69.3 289.4,69.3 289.9,69.3 290.4,69.4 290.9,69.4 291.4,69.4 291.6,69.4 292.1,69.4 292.6,69.5 293.1,69.5 293.6,69.5 294.1,69.5 294.6,69.5 295.1,69.5 295.6,69.5 296.1,69.4 296.6,69.4 297.1,69.4 297.4,69.4 297.9,69.4 298.4,69.4 298.9,69.4 299.4,69.4 299.7,69.4 300.1,69.4 300.4,69.4 300.9,69.4 301.4,69.4 301.9,69.4 302.4,69.3 302.9,69.3 303.4,69.3 303.9,69.3 304.4,69.3 304.9,69.3 305.4,69.4 305.6,69.4 306.1,69.6 306.6,69.6 307.1,69.6 307.6,69.6 308.1,69.6 308.6,69.5 309.1,69.5 309.6,69.5 310.1,69.5 310.6,69.5 311.1,69.6 311.6,69.6 312.1,69.6 312.6,69.6 312.9,69.7 313.4,69.9 313.8,69.9 314.1,69.9 314.6,70.0 315.1,70.0 315.6,70.0 316.1,70.0 316.6,70.1 317.1,70.1 317.6,70.0 318.1,70.0 318.6,70.0 319.1,69.9 319.6,69.9 319.9,69.9 320.4,69.9 320.9,69.9 321.4,69.8 321.9,69.8 322.3,69.6 322.6,69.6 323.1,69.6 323.6,69.5 324.1,69.4 324.4,69.3 324.9,69.3 325.4,69.3 325.9,69.2 326.1,69.1 326.6,69.1 327.1,69.1 327.6,69.0 327.9,68.9 328.4,68.8 328.9,68.8 329.4,68.8 329.9,68.6 330.1,68.6 330.6,68.6 331.1,68.5 331.5,68.4 331.9,68.3 332.4,68.3 332.9,68.3 333.4,68.1 333.6,68.1 334.1,68.0 334.6,68.0 335.1,67.9 335.4,67.8 335.9,67.8 336.4,67.8 336.9,67.8 337.4,67.8 337.9,67.8 338.4,67.8 338.9,67.8 339.4,67.7 339.6,67.6 340.1,67.6 340.6,67.6 341.1,67.6 341.6,67.6 342.1,67.6 342.6,67.6 343.1,67.6 343.6,67.5 344.1,67.4 344.4,67.3 344.9,67.3 345.4,67.3 345.9,67.3 346.4,67.3 346.9,67.3 347.2,67.4 347.4,67.6 347.4,68.1 347.4,68.6 347.4,69.1 347.4,69.6 347.4,70.1 347.4,70.6 347.4,71.1 347.5,71.6 347.6,72.1 347.6,72.4 347.6,72.9 347.6,73.4 347.6,73.9 347.6,74.4 347.6,74.8 347.6,75.1 347.6,75.6 347.6,76.0 347.7,76.4 347.8,76.9 347.8,77.4 347.8,77.9 347.8,78.4 347.8,78.9 347.9,79.4 347.9,79.9 347.9,80.1 347.9,80.6 347.9,81.1 348.1,81.6 348.1,81.9 348.2,82.4 348.2,82.9 348.2,83.4 348.2,83.9 348.2,84.4 348.2,84.9 348.2,85.4 348.3,85.9 348.3,86.4 348.3,86.9 348.3,87.4 348.3,87.9 348.3,88.4 348.3,88.9 348.3,89.4 348.3,89.9 348.2,90.4 348.1,90.8 348.0,91.1 348.0,91.6 348.0,92.1 348.0,92.6 348.0,93.1 348.0,93.6 348.0,94.1 348.0,94.6 348.0,95.1 347.9,95.6 347.8,95.9 347.8,96.4 347.8,96.9 347.8,97.4 347.8,97.9 347.8,98.4 347.8,98.9 347.8,99.4 347.7,99.9 347.6,100.2 347.6,100.6 347.6,101.1 347.6,101.6 347.6,102.1 347.6,102.6 347.6,103.1 347.6,103.6 347.6,104.1 347.4,104.5M347.4,104.5 346.9,104.6 346.4,104.6 345.9,104.6 345.4,104.6 344.9,104.5 344.4,104.5 343.9,104.5 343.4,104.5 342.9,104.4 342.4,104.4 341.9,104.4 341.5,104.4 341.1,104.3 340.6,104.2 340.1,104.2 339.8,104.1 339.5,103.9 339.4,103.6 339.1,103.1 339.0,102.9 338.8,102.6 338.6,102.3 338.4,101.9 338.3,101.6 338.2,101.1 338.2,100.6 338.2,100.1 338.2,99.6 338.2,99.1 338.3,98.6 338.4,98.1 338.4,97.9 338.5,97.4 338.6,97.0 338.8,96.6 338.9,96.4 339.1,95.9 339.3,95.6 339.4,95.3 339.5,94.9 339.6,94.4 339.7,94.1 339.7,93.6 339.8,93.1 339.9,92.8 340.1,92.4 340.2,92.1 340.5,91.9 340.7,91.6 341.0,91.4 341.3,91.1 341.5,90.9 341.7,90.6 341.9,90.3 342.0,89.9 342.1,89.5 342.2,89.1 342.3,88.6 342.3,88.1 342.4,87.9 342.5,87.4 342.5,86.9 342.6,86.4 342.6,85.9 342.6,85.6 342.6,85.2 342.6,84.9 342.5,84.4 342.4,83.9 342.4,83.4 342.4,83.4 342.4,82.9 342.5,82.4 342.6,82.0 342.8,81.6 342.9,81.3 343.0,80.9 343.1,80.5 343.2,80.1 343.4,79.7 343.5,79.4 343.6,78.9 343.7,78.6 343.8,78.1 343.9,77.9 344.0,77.4 344.0,76.9 344.0,76.4 343.9,75.9 343.9,75.6 343.7,75.1 343.6,74.8 343.5,74.4 343.4,74.0 343.3,73.6 343.3,73.1 343.3,72.6 343.4,72.1 343.4,71.9 343.5,71.4 343.4,70.9 343.1,70.8 342.6,70.7 342.1,70.7 341.6,70.6 341.4,70.6 340.9,70.6 340.4,70.5 339.9,70.5 339.4,70.5 338.9,70.6 338.5,70.6 338.1,70.7 337.6,70.8 337.1,70.9 336.9,70.9 336.4,71.0 335.9,71.1 335.6,71.2 335.1,71.3 334.6,71.4 334.4,71.4 333.9,71.5 333.4,71.6 333.1,71.7 332.6,71.7 332.1,71.8 331.6,71.8 331.1,71.7 330.6,71.6 330.4,71.6 329.9,71.5 329.6,71.4 329.1,71.3 328.6,71.1 328.4,71.1 327.9,71.0 327.4,71.0 326.9,71.0 326.4,70.9 325.9,70.9 325.4,70.9 325.0,70.9 324.6,70.9 324.1,70.9 323.6,70.9 323.3,70.9 322.9,70.9 322.4,70.9 321.9,71.0 321.4,70.9 320.9,70.9 320.6,70.9 320.1,70.8 319.7,70.6 319.4,70.5 319.1,70.4 319.1,70.1 319.6,70.1 320.1,70.0 320.6,70.0 321.1,70.0 321.6,69.9 321.9,69.9 322.4,69.7 322.9,69.7 323.4,69.7 323.6,69.6 324.1,69.5 324.6,69.4 325.1,69.4 325.5,69.4 325.9,69.3 326.4,69.2 326.9,69.2 327.2,69.1 327.6,69.1 328.1,69.0 328.6,69.0 329.1,68.9 329.4,68.9 329.9,68.8 330.4,68.7 330.9,68.7 331.1,68.6 331.6,68.4 332.0,68.4 332.4,68.4 332.9,68.3 333.4,68.2 333.6,68.1 334.1,68.1 334.6,68.1 335.1,68.0 335.4,67.9 335.9,67.8 336.4,67.8 336.9,67.8 337.4,67.8 337.9,67.8 338.4,67.8 338.9,67.8 339.4,67.8 339.9,67.6 340.1,67.6 340.6,67.6 341.1,67.6 341.6,67.6 342.1,67.6 342.6,67.6 343.1,67.6 343.6,67.6 344.1,67.5 344.5,67.4 344.9,67.4 345.4,67.3 345.9,67.4 346.4,67.4 346.7,67.4 347.1,67.4 347.3,67.9 347.3,68.4 347.3,68.9 347.3,69.4 347.3,69.9 347.3,70.4 347.3,70.9 347.3,71.4 347.4,71.6 347.5,72.1 347.5,72.6 347.5,73.1 347.5,73.6 347.5,74.1 347.5,74.6 347.4,75.1 347.4,75.6 347.4,76.1 347.5,76.6 347.6,76.9 347.7,77.4 347.7,77.9 347.7,78.4 347.7,78.9 347.7,79.4 347.7,79.9 347.7,80.4 347.8,80.9 347.9,81.2 348.0,81.6 348.0,82.1 348.1,82.6 348.1,83.1 348.1,83.4 348.1,83.9 348.2,84.4 348.2,84.9 348.2,85.4 348.2,85.9 348.2,86.4 348.2,86.9 348.2,87.4 348.2,87.9 348.2,88.4 348.2,88.9 348.2,89.4 348.2,89.9 348.2,90.4 348.1,90.6 348.0,91.1 348.0,91.6 348.0,92.1 348.0,92.6 348.0,93.1 348.0,93.6 348.0,94.1 348.0,94.6 347.9,95.1 347.9,95.4 347.7,95.9 347.7,96.4 347.7,96.9 347.7,97.4 347.7,97.9 347.7,98.4 347.7,98.9 347.7,99.4 347.7,99.9 347.6,100.1 347.5,100.6 347.5,101.1 347.5,101.6 347.5,102.1 347.5,102.6 347.5,103.1 347.6,103.6 347.5,104.1 347.4,104.5M288.6,71.9 288.1,72.0 287.6,72.0 287.2,71.9 286.9,71.7 286.6,71.4 286.6,71.1 286.5,70.6 286.4,70.1 286.5,69.6 286.9,69.4 287.4,69.4 287.9,69.4 288.4,69.4 288.9,69.4 289.4,69.5 289.9,69.5 290.4,69.5 290.9,69.5 291.4,69.5 291.9,69.6 292.4,69.6 292.6,69.8 292.6,69.9 292.3,70.1 291.9,70.3 291.6,70.4 291.2,70.6 290.9,70.8 290.6,70.9 290.2,71.1 289.9,71.3 289.6,71.4 289.3,71.6 288.9,71.8 288.6,71.9M311.4,71.1 310.9,71.2 310.4,71.3 309.9,71.3 309.4,71.3 308.9,71.3 308.4,71.3 307.9,71.2 307.4,71.1 307.1,71.1 306.6,71.1 306.1,71.1 305.6,71.1 305.1,71.1 304.6,71.1 304.3,71.1 304.0,71.1 303.6,71.1 303.1,71.1 302.6,71.0 302.1,70.9 301.9,70.9 301.4,70.8 300.9,70.7 300.6,70.6 300.1,70.6 299.6,70.6 299.1,70.6 298.6,70.6 298.1,70.6 297.6,70.5 297.1,70.5 296.6,70.4 296.4,70.3 295.9,70.2 295.6,70.0 295.6,69.8 295.9,69.6 296.4,69.6 296.9,69.6 297.4,69.5 297.9,69.5 298.4,69.5 298.9,69.5 299.4,69.5 299.9,69.6 300.4,69.5 300.9,69.5 301.4,69.5 301.9,69.5 302.4,69.5 302.9,69.4 303.4,69.4 303.9,69.4 304.4,69.4 304.9,69.4 305.4,69.5 305.9,69.6 306.1,69.6 306.6,69.7 307.1,69.6 307.5,69.6 307.9,69.6 308.4,69.6 308.9,69.6 309.4,69.6 309.9,69.6 310.4,69.6 310.9,69.6 311.4,69.6 311.7,69.6 312.1,69.7 312.6,69.7 313.0,69.9 313.4,70.0 313.9,70.1 314.3,70.1 314.1,70.4 313.6,70.6 313.4,70.7 312.9,70.8 312.6,70.9 312.1,71.0 311.6,71.1 311.4,71.1M345.4,75.4 345.2,75.1 345.1,74.9 344.9,74.4 344.8,74.1 344.7,73.6 344.6,73.4 344.5,72.9 344.5,72.4 344.5,71.9 344.6,71.4 344.6,70.9 344.5,70.4 344.3,70.1 343.9,69.9 343.4,69.9 343.1,69.9 342.6,69.8 342.1,69.8 341.6,69.8 341.1,69.8 340.6,69.8 340.1,69.8 339.6,69.8 339.1,69.9 338.9,69.9 338.4,70.0 337.9,70.0 337.5,70.1 337.1,70.2 336.6,70.3 336.3,70.4 335.9,70.5 335.4,70.6 335.0,70.6 334.6,70.7 334.1,70.8 333.6,70.9 333.4,70.9 332.9,70.9 332.4,71.0 331.9,71.0 331.4,70.9 331.1,70.9 330.6,70.7 330.2,70.6 329.9,70.5 329.4,70.4 329.1,70.4 328.6,70.3 328.1,70.2 327.6,70.2 327.1,70.2 326.6,70.2 326.1,70.2 325.6,70.2 325.1,70.2 324.6,70.1 324.1,70.1 323.6,70.1 323.1,70.2 322.6,70.2 322.1,70.2 322.1,70.1 322.6,69.9 323.1,70.0 323.5,69.9 323.9,69.8 324.4,69.6 324.6,69.6 325.1,69.6 325.6,69.6 326.1,69.4 326.4,69.3 326.9,69.3 327.4,69.3 327.9,69.2 328.1,69.1 328.5,69.1 328.9,69.2 329.2,69.1 329.6,69.1 330.1,68.9 330.4,68.9 330.9,68.8 331.4,68.7 331.6,68.6 332.1,68.5 332.6,68.5 333.1,68.4 333.4,68.3 333.9,68.2 334.4,68.2 334.8,68.1 335.1,68.1 335.6,68.0 336.1,67.9 336.6,68.0 337.1,68.0 337.6,68.0 338.1,68.0 338.6,68.0 339.1,67.9 339.4,67.9 339.9,67.8 340.4,67.7 340.9,67.8 341.4,67.8 341.9,67.8 342.4,67.8 342.9,67.8 343.4,67.8 343.9,67.7 344.1,67.6 344.6,67.5 345.1,67.5 345.6,67.5 346.1,67.5 346.6,67.5 347.1,67.6 347.2,67.9 347.2,68.4 347.2,68.9 347.2,69.4 347.2,69.9 347.2,70.4 347.2,70.9 347.2,71.4 347.2,71.9 347.3,72.4 347.2,72.9 347.1,73.4 347.0,73.6 346.8,73.9 346.6,74.1 346.4,74.4 346.1,74.7 345.9,75.0 345.6,75.3 345.4,75.4M289.1,70.6 288.6,70.8 288.1,70.8 287.6,70.8 287.1,70.8 286.8,70.6 286.6,70.3 286.6,69.9 286.7,69.6 287.1,69.6 287.6,69.6 288.1,69.6 288.6,69.6 289.1,69.6 289.6,69.6 289.9,69.6 290.4,69.8 290.6,69.9 290.4,70.1 290.1,70.2 289.8,70.4 289.4,70.6 289.1,70.6M310.9,70.7 310.4,70.7 309.9,70.8 309.4,70.8 308.9,70.8 308.4,70.7 307.9,70.6 307.6,70.6 307.1,70.5 306.6,70.4 306.1,70.4 305.6,70.4 305.1,70.4 304.6,70.5 304.1,70.5 303.6,70.4 303.1,70.4 302.9,70.3 302.4,70.2 302.1,70.1 301.8,69.9 302.1,69.8 302.5,69.6 302.9,69.6 303.4,69.6 303.9,69.6 304.4,69.6 304.9,69.6 305.4,69.6 305.6,69.7 306.1,69.8 306.6,69.8 307.1,69.8 307.6,69.8 308.1,69.8 308.6,69.7 309.1,69.7 309.6,69.7 310.1,69.7 310.6,69.7 311.1,69.8 311.6,69.8 312.1,69.8 312.5,69.9 312.7,70.1 312.4,70.3 312.1,70.4 311.6,70.5 311.1,70.6 310.9,70.7M347.4,104.4 346.9,104.5 346.4,104.5 345.9,104.5 345.4,104.5 344.9,104.5 344.4,104.5 343.9,104.4 343.4,104.4 342.9,104.4 342.6,104.4 342.1,104.3 341.6,104.2 341.1,104.2 340.9,104.1 340.6,103.9 340.5,103.4 340.3,103.1 340.1,102.8 339.9,102.4 339.7,102.1 339.6,101.9 339.4,101.5 339.2,101.1 339.1,100.8 339.1,100.4 339.0,99.9 339.0,99.4 339.0,98.9 339.1,98.4 339.1,98.1 339.2,97.6 339.4,97.2 339.5,96.9 339.6,96.6 339.9,96.2 340.1,95.9 340.2,95.6 340.4,95.3 340.6,94.9 340.6,94.6 340.8,94.1 340.9,93.9 341.1,93.4 341.3,93.1 341.5,92.9 341.7,92.6 341.9,92.4 342.2,92.1 342.4,91.9 342.6,91.6 342.8,91.1 342.9,90.9 343.0,90.4 343.1,89.9 343.1,89.4 343.1,89.1 343.2,88.6 343.2,88.1 343.3,87.6 343.4,87.2 343.4,86.9 343.5,86.4 343.5,85.9 343.6,85.4 343.5,84.9 343.4,84.4 343.4,83.9 343.4,83.6 343.4,83.4 343.4,82.9 343.6,82.4 343.6,82.1 343.8,81.6 343.9,81.3 344.0,80.9 344.1,80.5 344.3,80.1 344.4,79.8 344.5,79.4 344.6,79.1 344.8,78.6 344.9,78.4 345.1,77.9 345.3,77.6 345.4,77.6 345.7,77.9 345.9,78.2 346.1,78.6 346.3,78.9 346.4,79.1 346.6,79.5 346.8,79.9 346.9,80.1 347.1,80.4 347.4,80.9 347.4,81.1 347.6,81.4 347.8,81.9 347.9,82.1 347.9,82.6 348.0,83.1 348.0,83.6 348.0,84.1 348.1,84.6 348.1,85.1 348.1,85.4 348.2,85.9 348.2,86.4 348.2,86.9 348.2,87.4 348.2,87.9 348.2,88.4 348.2,88.9 348.2,89.4 348.2,89.9 348.1,90.4 348.0,90.6 347.9,91.1 347.9,91.6 347.9,92.1 347.9,92.6 347.9,93.1 347.9,93.6 347.9,94.1 347.9,94.6 347.9,95.1 347.8,95.4 347.7,95.9 347.7,96.4 347.7,96.9 347.7,97.4 347.7,97.9 347.7,98.4 347.7,98.9 347.7,99.4 347.6,99.8 347.5,100.1 347.5,100.6 347.5,101.1 347.5,101.6 347.5,102.1 347.5,102.6 347.5,103.1 347.5,103.6 347.5,104.1 347.4,104.4" stroke="#111" stroke-width=".6" fill="none" stroke-linejoin="round"/>
<path d="M287.5,70.2 C292,69 300,69.3 310,69.7 C320,70.1 330,68.5 345.5,67.6 C347.2,67.8 347.6,69 347.6,71 L347.5,101.5 C347.4,103.6 346.5,104 344.5,104 L289.5,104 C287.6,104 286.8,103.3 286.8,101.5 L286.6,72 C286.6,71 286.8,70.4 287.5,70.2 Z" stroke="#111" stroke-width="1.8" fill="none"/>
<path d="M290.2,73.5 L290.8,100.8 L344.5,100.9" stroke="#111" stroke-width="1.6" fill="none"/>
<path d="M345.2,71.5 L345.1,99" stroke="#111" stroke-width="1.2" fill="none"/></g>
<rect x="278.5" y="21.5" width="110" height="104.5" fill="none" stroke="#555" stroke-width="1"/>
<rect x="324.6" y="32.6" width="30" height="20.6" fill="none" stroke="#5c5cd2" stroke-width="0.9"/>
<rect x="314.8" y="61.3" width="41" height="63.5" fill="none" stroke="#5c5cd2" stroke-width="0.9"/>
<text x="371.8" y="45.5" font-size="5.3" text-anchor="start" fill="#111" >0.44</text>
<text x="371.2" y="96.3" font-size="5.3" text-anchor="start" fill="#111" >57.3</text>
<line x1="380.2" y1="34.9" x2="395.5" y2="34.9" stroke="#111" stroke-width="0.9" />
<path d="M399.2,34.9 L395.0,32.9 L395.0,36.9 Z" fill="#111"/>
<line x1="380.2" y1="87.5" x2="395.5" y2="87.5" stroke="#111" stroke-width="0.9" />
<path d="M399.2,87.5 L395.0,85.5 L395.0,89.5 Z" fill="#111"/>
<text transform="translate(268.8,122.8) rotate(-90)" font-size="10" fill="#111" font-family="Liberation Sans, sans-serif">Tetramer</text>
<line x1="264.6" y1="76.5" x2="264.6" y2="62.1" stroke="#111" stroke-width="0.9" />
<path d="M264.6,58.6 L262.70000000000005,62.6 L266.5,62.6 Z" fill="#111"/>
<text x="279.5" y="147.3" font-size="10" text-anchor="start" fill="#111" >CD8</text>
<line x1="305.8" y1="142.7" x2="320.3" y2="142.7" stroke="#111" stroke-width="0.9" />
<path d="M324,142.7 L319.8,140.7 L319.8,144.7 Z" fill="#111"/>
<rect x="176.3" y="4.4" width="70.6" height="67.6" fill="none" stroke="#808080" stroke-width="0.9"/>
<path d="M176.50,71.40 L177.40,71.37 L178.30,71.23 L179.20,71.10 L180.12,70.92 L181.04,70.74 L181.96,70.56 L182.88,70.37 L183.80,70.20 L184.83,70.50 L185.87,70.80 L186.90,71.10 L187.68,70.55 L188.45,69.97 L189.22,69.50 L190.00,68.90 L191.00,68.66 L192.00,68.32 L193.00,68.00 L193.97,67.62 L194.95,67.69 L195.93,67.74 L196.90,67.40 L197.22,65.98 L197.54,65.35 L197.86,63.62 L198.18,63.01 L198.50,62.80 L199.65,61.14 L200.80,61.50 L201.17,60.49 L201.53,59.04 L201.90,59.00 L202.27,58.05 L202.63,56.98 L203.00,56.20 L204.20,54.82 L205.40,56.20 L205.85,55.05 L206.30,54.47 L206.75,53.71 L207.20,52.80 L207.87,52.83 L208.53,54.27 L209.20,55.40 L210.00,55.76 L210.80,57.20 L211.38,57.46 L211.95,59.18 L212.53,58.86 L213.10,60.00 L213.88,60.76 L214.65,62.04 L215.42,62.00 L216.20,63.10 L216.80,63.86 L217.40,64.80 L218.00,65.59 L218.60,65.92 L219.20,67.20 L219.49,66.33 L219.77,66.04 L220.06,63.65 L220.35,64.07 L220.64,62.77 L220.93,61.45 L221.21,62.00 L221.50,60.00 L221.71,59.50 L221.91,57.50 L222.12,57.28 L222.33,56.64 L222.53,55.30 L222.74,54.86 L222.95,53.52 L223.15,53.01 L223.36,52.51 L223.57,50.43 L223.77,49.99 L223.98,48.71 L224.19,48.11 L224.39,46.47 L224.60,46.20 L224.66,44.98 L224.73,44.28 L224.79,43.98 L224.86,43.21 L224.92,40.94 L224.99,40.33 L225.05,40.21 L225.12,37.86 L225.18,37.79 L225.25,37.09 L225.31,36.93 L225.38,35.71 L225.44,34.24 L225.51,33.31 L225.57,32.47 L225.64,32.54 L225.70,30.80 L225.78,29.64 L225.87,28.77 L225.95,28.21 L226.03,27.02 L226.12,26.05 L226.20,24.61 L226.28,24.29 L226.37,23.12 L226.45,23.08 L226.53,21.87 L226.62,20.57 L226.70,20.02 L226.78,18.53 L226.87,18.37 L226.95,16.86 L227.03,16.25 L227.12,14.29 L227.20,14.27 L227.28,12.22 L227.37,11.10 L227.45,11.12 L227.53,9.86 L227.62,9.52 L227.70,8.50 L227.80,10.66 L227.89,9.90 L227.99,10.94 L228.08,12.33 L228.18,13.42 L228.27,13.98 L228.37,14.89 L228.47,16.32 L228.56,17.15 L228.66,17.22 L228.75,18.68 L228.85,19.67 L228.95,20.00 L229.04,21.65 L229.14,21.97 L229.23,23.90 L229.33,24.40 L229.43,25.27 L229.52,25.83 L229.62,27.02 L229.71,26.91 L229.81,28.32 L229.90,30.07 L230.00,30.80 L230.14,30.54 L230.27,33.08 L230.41,32.56 L230.54,34.84 L230.68,34.86 L230.81,36.66 L230.95,37.21 L231.08,37.20 L231.22,39.64 L231.35,40.65 L231.49,40.73 L231.62,41.52 L231.76,42.49 L231.89,42.95 L232.03,44.99 L232.16,45.00 L232.30,46.20 L232.42,47.09 L232.53,47.60 L232.65,48.62 L232.76,49.18 L232.88,51.49 L232.99,51.64 L233.11,53.17 L233.22,53.57 L233.34,54.10 L233.45,55.22 L233.56,56.01 L233.68,57.24 L233.79,57.95 L233.91,58.92 L234.03,59.24 L234.14,60.48 L234.25,62.75 L234.37,62.39 L234.48,63.10 L234.60,64.60 L234.83,65.74 L235.06,67.08 L235.29,67.16 L235.51,68.51 L235.74,69.47 L235.97,70.51 L236.20,71.40 L237.17,71.40 L238.15,71.40 L239.12,71.40 L240.09,71.40 L241.06,71.40 L242.04,71.40 L243.01,71.40 L243.98,71.40 L244.95,71.40 L245.93,71.40 L246.90,71.50" fill="none" stroke="#222" stroke-width="0.95" stroke-linejoin="round"/>
<line x1="214.6" y1="35.1" x2="246.5" y2="35.1" stroke="#3a3a3a" stroke-width="0.95" />
<line x1="214.6" y1="33.5" x2="214.6" y2="36.7" stroke="#3a3a3a" stroke-width="0.7" />
<line x1="246.5" y1="33.5" x2="246.5" y2="36.7" stroke="#3a3a3a" stroke-width="0.7" />
<text x="229.6" y="33.5" font-size="3.8" text-anchor="middle" fill="#333" >85.1</text>
<rect x="176.3" y="75.4" width="70.6" height="68.0" fill="none" stroke="#808080" stroke-width="0.9"/>
<path d="M176.50,142.30 C176.95,141.40 178.53,137.15 179.20,136.90 C179.87,136.65 179.47,140.28 180.50,140.80 C181.53,141.32 183.30,140.72 185.40,140.00 C187.50,139.28 191.05,138.30 193.10,136.50 C195.15,134.70 196.42,131.57 197.70,129.20 C198.98,126.83 199.90,125.25 200.80,122.30 C201.70,119.35 202.28,114.58 203.10,111.50 C203.92,108.42 205.07,105.47 205.70,103.80 C206.33,102.13 206.32,101.10 206.90,101.50 C207.48,101.90 208.43,104.02 209.20,106.20 C209.97,108.38 210.60,111.40 211.50,114.60 C212.40,117.80 213.37,122.45 214.60,125.40 C215.83,128.35 217.62,131.92 218.90,132.30 C220.18,132.68 221.48,130.38 222.30,127.70 C223.12,125.02 223.28,121.97 223.80,116.20 C224.32,110.43 224.75,99.13 225.40,93.10 C226.05,87.07 227.07,80.52 227.70,80.00 C228.33,79.48 228.77,86.92 229.20,90.00 C229.63,93.08 229.92,94.92 230.30,98.50 C230.68,102.08 230.92,105.48 231.50,111.50 C232.08,117.52 233.02,129.47 233.80,134.60 C234.58,139.73 234.02,141.02 236.20,142.30 C238.38,143.58 245.12,142.30 246.90,142.30" fill="none" stroke="#222" stroke-width="0.95" stroke-linejoin="round"/>
<line x1="214.6" y1="106.5" x2="246.5" y2="106.5" stroke="#3a3a3a" stroke-width="0.95" />
<line x1="214.6" y1="104.9" x2="214.6" y2="108.1" stroke="#3a3a3a" stroke-width="0.7" />
<line x1="246.5" y1="104.9" x2="246.5" y2="108.1" stroke="#3a3a3a" stroke-width="0.7" />
<text x="229.8" y="104.9" font-size="3.8" text-anchor="middle" fill="#333" >47.7</text>
<rect x="402.6" y="4.2" width="71.09999999999997" height="67.8" fill="none" stroke="#808080" stroke-width="0.9"/>
<path d="M403.10,56.90 L403.28,57.52 L403.47,58.86 L403.65,59.58 L403.83,60.26 L404.02,61.12 L404.20,62.30 L405.20,63.15 L406.20,63.13 L407.20,63.80 L407.44,62.83 L407.68,62.04 L407.92,61.79 L408.15,60.64 L408.39,59.59 L408.63,58.18 L408.87,56.85 L409.11,57.25 L409.35,56.37 L409.58,54.88 L409.82,54.37 L410.06,53.61 L410.30,52.30 L410.56,53.70 L410.81,54.70 L411.07,54.88 L411.32,56.91 L411.58,56.34 L411.83,58.44 L412.09,59.18 L412.34,60.34 L412.60,60.80 L412.81,60.92 L413.02,59.80 L413.23,57.44 L413.44,56.23 L413.65,56.70 L413.85,54.79 L414.06,54.43 L414.27,53.99 L414.48,51.71 L414.69,50.55 L414.90,50.80 L415.67,50.31 L416.43,49.56 L417.20,48.90 L417.34,47.82 L417.49,47.03 L417.63,45.60 L417.77,44.29 L417.92,44.09 L418.06,42.70 L418.21,41.39 L418.35,41.63 L418.49,40.37 L418.64,39.69 L418.78,37.97 L418.93,37.21 L419.07,36.08 L419.21,35.20 L419.36,34.85 L419.50,33.80 L419.69,32.48 L419.88,32.22 L420.07,31.32 L420.26,31.35 L420.45,28.58 L420.64,28.95 L420.83,27.52 L421.02,26.67 L421.21,24.99 L421.40,24.90 L421.70,25.51 L422.00,27.03 L422.30,27.43 L422.60,28.38 L422.90,29.20 L423.10,28.08 L423.30,27.91 L423.50,26.30 L423.70,24.14 L423.90,24.01 L424.10,22.34 L424.30,20.67 L424.50,21.50 L424.60,20.25 L424.70,20.32 L424.80,18.65 L424.90,17.02 L425.00,16.19 L425.10,16.37 L425.20,14.88 L425.30,13.86 L425.40,12.85 L425.50,11.94 L425.60,11.40 L425.70,10.00 L426.20,9.44 L426.70,8.39 L427.20,7.40 L427.38,7.72 L427.56,9.46 L427.73,9.69 L427.91,11.56 L428.09,11.15 L428.27,12.66 L428.44,13.62 L428.62,13.78 L428.80,15.40 L428.95,17.31 L429.10,18.13 L429.25,18.03 L429.40,19.67 L429.55,20.42 L429.70,19.74 L429.85,22.28 L430.00,23.10 L430.21,24.05 L430.43,25.12 L430.64,25.46 L430.86,26.89 L431.07,27.93 L431.29,29.67 L431.50,30.00 L431.70,29.22 L431.90,28.07 L432.10,27.95 L432.30,25.84 L432.50,24.97 L432.70,23.23 L432.90,24.13 L433.10,22.30 L433.36,23.82 L433.61,24.78 L433.87,25.63 L434.13,26.30 L434.39,27.35 L434.64,28.08 L434.90,29.20 L434.97,30.00 L435.05,31.05 L435.12,32.76 L435.19,33.14 L435.26,33.71 L435.34,34.34 L435.41,35.21 L435.48,37.35 L435.55,37.66 L435.63,38.33 L435.70,39.01 L435.77,39.50 L435.85,40.98 L435.92,42.41 L435.99,42.62 L436.06,43.62 L436.14,44.53 L436.21,45.62 L436.28,45.60 L436.35,47.25 L436.43,47.82 L436.50,49.20 L437.40,49.34 L438.30,48.50 L438.59,49.06 L438.87,50.79 L439.16,52.30 L439.44,52.27 L439.73,53.10 L440.01,54.52 L440.30,55.40 L440.52,56.28 L440.74,56.61 L440.96,58.29 L441.19,60.02 L441.41,59.65 L441.63,60.56 L441.85,60.98 L442.07,62.60 L442.29,62.62 L442.51,63.58 L442.74,65.70 L442.96,65.56 L443.18,67.19 L443.40,67.70 L444.35,67.60 L445.30,66.64 L446.25,66.20 L447.20,65.40 L448.10,66.63 L449.00,66.09 L449.90,66.34 L450.80,66.49 L451.70,67.33 L452.60,67.70 L453.12,67.42 L453.63,66.55 L454.15,64.96 L454.67,64.17 L455.18,63.59 L455.70,63.10 L455.93,62.33 L456.16,61.13 L456.39,60.43 L456.62,59.54 L456.85,58.29 L457.08,57.50 L457.31,56.70 L457.54,55.61 L457.77,55.01 L458.00,53.80 L458.26,55.73 L458.52,55.93 L458.77,56.53 L459.03,56.47 L459.29,58.51 L459.55,58.13 L459.81,59.33 L460.07,61.47 L460.33,62.29 L460.58,62.72 L460.84,62.76 L461.10,64.60 L461.44,65.29 L461.78,66.07 L462.11,67.38 L462.45,68.56 L462.79,68.94 L463.12,69.72 L463.46,70.64 L463.80,71.40 L464.79,71.40 L465.78,71.40 L466.77,71.40 L467.76,71.40 L468.75,71.40 L469.74,71.40 L470.73,71.40 L471.72,71.40 L472.71,71.40 L473.70,71.50" fill="none" stroke="#222" stroke-width="0.95" stroke-linejoin="round"/>
<line x1="441.1" y1="35.1" x2="473.4" y2="35.1" stroke="#3a3a3a" stroke-width="0.95" />
<line x1="441.1" y1="33.5" x2="441.1" y2="36.7" stroke="#3a3a3a" stroke-width="0.7" />
<line x1="473.4" y1="33.5" x2="473.4" y2="36.7" stroke="#3a3a3a" stroke-width="0.7" />
<text x="456.4" y="33.5" font-size="3.8" text-anchor="middle" fill="#333" >11.6</text>
<rect x="402.6" y="75.4" width="71.09999999999997" height="67.69999999999999" fill="none" stroke="#808080" stroke-width="0.9"/>
<path d="M404.90,142.30 C405.08,136.53 405.62,109.37 406.00,107.70 C406.38,106.03 406.23,129.62 407.20,132.30 C408.17,134.98 410.00,127.77 411.80,123.80 C413.60,119.83 416.20,113.88 418.00,108.50 C419.80,103.12 421.32,96.25 422.60,91.50 C423.88,86.75 424.42,79.73 425.70,80.00 C426.98,80.27 428.77,86.57 430.30,93.10 C431.83,99.63 433.37,112.15 434.90,119.20 C436.43,126.25 437.45,131.85 439.50,135.40 C441.55,138.95 444.88,140.12 447.20,140.50 C449.52,140.88 451.73,139.32 453.40,137.70 C455.07,136.08 456.23,133.12 457.20,130.80 C458.17,128.48 458.55,123.68 459.20,123.80 C459.85,123.92 460.33,128.47 461.10,131.50 C461.87,134.53 461.70,140.20 463.80,142.00 C465.90,143.80 472.05,142.25 473.70,142.30" fill="none" stroke="#222" stroke-width="0.95" stroke-linejoin="round"/>
<line x1="441.1" y1="106.5" x2="473.4" y2="106.5" stroke="#3a3a3a" stroke-width="0.95" />
<line x1="441.1" y1="104.9" x2="441.1" y2="108.1" stroke="#3a3a3a" stroke-width="0.7" />
<line x1="473.4" y1="104.9" x2="473.4" y2="108.1" stroke="#3a3a3a" stroke-width="0.7" />
<text x="456.4" y="104.9" font-size="3.8" text-anchor="middle" fill="#333" >11.6</text>
<text x="176.3" y="153.7" font-size="9.75" text-anchor="start" fill="#111" >AnnexinV</text>
<line x1="223.2" y1="151.0" x2="237.8" y2="151.0" stroke="#111" stroke-width="0.9" />
<path d="M241.5,151.0 L237.3,149.0 L237.3,153.0 Z" fill="#111"/>
<text x="408.2" y="156.5" font-size="10" text-anchor="start" fill="#111" >AnnexinV</text>
<line x1="455.4" y1="153.1" x2="469.90000000000003" y2="153.1" stroke="#111" stroke-width="0.9" />
<path d="M473.6,153.1 L469.40000000000003,151.1 L469.40000000000003,155.1 Z" fill="#111"/>
<text x="2.7" y="194.8" font-size="14.5" font-weight="bold" text-anchor="start" fill="#111" >B</text>
<line x1="66.3" y1="201" x2="66.3" y2="336.5" stroke="#111" stroke-width="2" />
<line x1="62.5" y1="335.5" x2="66.3" y2="335.5" stroke="#111" stroke-width="1.6" />
<text x="61.8" y="338.9" font-size="9.5" font-weight="bold" text-anchor="end" fill="#111" >0</text>
<line x1="62.5" y1="313.28" x2="66.3" y2="313.28" stroke="#111" stroke-width="1.6" />
<text x="61.8" y="316.67999999999995" font-size="9.5" font-weight="bold" text-anchor="end" fill="#111" >10</text>
<line x1="62.5" y1="291.06" x2="66.3" y2="291.06" stroke="#111" stroke-width="1.6" />
<text x="61.8" y="294.46" font-size="9.5" font-weight="bold" text-anchor="end" fill="#111" >20</text>
<line x1="62.5" y1="268.84000000000003" x2="66.3" y2="268.84000000000003" stroke="#111" stroke-width="1.6" />
<text x="61.8" y="272.24" font-size="9.5" font-weight="bold" text-anchor="end" fill="#111" >30</text>
<line x1="62.5" y1="246.62" x2="66.3" y2="246.62" stroke="#111" stroke-width="1.6" />
<text x="61.8" y="250.02" font-size="9.5" font-weight="bold" text-anchor="end" fill="#111" >40</text>
<line x1="62.5" y1="224.4" x2="66.3" y2="224.4" stroke="#111" stroke-width="1.6" />
<text x="61.8" y="227.8" font-size="9.5" font-weight="bold" text-anchor="end" fill="#111" >50</text>
<line x1="62.5" y1="202.18" x2="66.3" y2="202.18" stroke="#111" stroke-width="1.6" />
<text x="61.8" y="205.58" font-size="9.5" font-weight="bold" text-anchor="end" fill="#111" >60</text>
<line x1="65.3" y1="335.5" x2="206" y2="335.5" stroke="#111" stroke-width="2" />
<line x1="101.75" y1="335.5" x2="101.75" y2="340" stroke="#111" stroke-width="1.6" />
<line x1="171.2" y1="335.5" x2="171.2" y2="340" stroke="#111" stroke-width="1.6" />
<text x="101.75" y="350.3" font-size="10" font-weight="bold" text-anchor="middle" fill="#111" >Primary</text>
<text x="171.2" y="350.3" font-size="10" font-weight="bold" text-anchor="middle" fill="#111" >Chronic</text>
<text transform="translate(42.0,336.9) rotate(-90) scale(1,1.08)" font-size="10.8" font-weight="bold" fill="#111" font-family="Liberation Sans, sans-serif">% of CD8+ AnnexinV+ cells</text>
<line x1="101.9" y1="191" x2="171.8" y2="191" stroke="#111" stroke-width="1.5" />
<text x="141.75" y="189.6" font-size="13" font-weight="bold" text-anchor="middle" fill="#111" >***</text>
<path d="M98.95,199.68 L104.55,199.68 L101.75,205.12 Z" fill="#111"/>
<path d="M98.95,212.28 L104.55,212.28 L101.75,217.72 Z" fill="#111"/>
<path d="M98.95,226.78 L104.55,226.78 L101.75,232.22 Z" fill="#111"/>
<path d="M82.95,230.78 L88.55,230.78 L85.75,236.22 Z" fill="#111"/>
<path d="M90.95,233.28 L96.55,233.28 L93.75,238.72 Z" fill="#111"/>
<path d="M98.95,234.53 L104.55,234.53 L101.75,239.97 Z" fill="#111"/>
<path d="M107.20,233.28 L112.80,233.28 L110.00,238.72 Z" fill="#111"/>
<path d="M115.20,230.28 L120.80,230.28 L118.00,235.72 Z" fill="#111"/>
<path d="M90.95,246.53 L96.55,246.53 L93.75,251.97 Z" fill="#111"/>
<path d="M98.95,246.53 L104.55,246.53 L101.75,251.97 Z" fill="#111"/>
<path d="M107.20,246.53 L112.80,246.53 L110.00,251.97 Z" fill="#111"/>
<path d="M95.20,263.28 L100.80,263.28 L98.00,268.72 Z" fill="#111"/>
<path d="M103.20,264.78 L108.80,264.78 L106.00,270.22 Z" fill="#111"/>
<path d="M90.95,271.53 L96.55,271.53 L93.75,276.97 Z" fill="#111"/>
<path d="M98.95,274.78 L104.55,274.78 L101.75,280.22 Z" fill="#111"/>
<path d="M107.20,272.78 L112.80,272.78 L110.00,278.22 Z" fill="#111"/>
<path d="M95.20,281.53 L100.80,281.53 L98.00,286.97 Z" fill="#111"/>
<path d="M103.20,288.53 L108.80,288.53 L106.00,293.97 Z" fill="#111"/>
<path d="M103.20,297.78 L108.80,297.78 L106.00,303.22 Z" fill="#111"/>
<path d="M95.20,304.03 L100.80,304.03 L98.00,309.47 Z" fill="#111"/>
<path d="M168.30,260.19 L174.10,260.19 L171.20,265.81 Z" fill="none" stroke="#111" stroke-width="1.0" stroke-linejoin="miter"/>
<path d="M164.50,268.69 L170.30,268.69 L167.40,274.31 Z" fill="none" stroke="#111" stroke-width="1.0" stroke-linejoin="miter"/>
<path d="M172.50,267.59 L178.30,267.59 L175.40,273.21 Z" fill="none" stroke="#111" stroke-width="1.0" stroke-linejoin="miter"/>
<path d="M164.50,284.59 L170.30,284.59 L167.40,290.21 Z" fill="none" stroke="#111" stroke-width="1.0" stroke-linejoin="miter"/>
<path d="M172.50,289.39 L178.30,289.39 L175.40,295.01 Z" fill="none" stroke="#111" stroke-width="1.0" stroke-linejoin="miter"/>
<path d="M156.40,301.39 L162.20,301.39 L159.30,307.01 Z" fill="none" stroke="#111" stroke-width="1.0" stroke-linejoin="miter"/>
<path d="M164.50,306.09 L170.30,306.09 L167.40,311.71 Z" fill="none" stroke="#111" stroke-width="1.0" stroke-linejoin="miter"/>
<path d="M172.50,304.79 L178.30,304.79 L175.40,310.41 Z" fill="none" stroke="#111" stroke-width="1.0" stroke-linejoin="miter"/>
<path d="M180.50,300.29 L186.30,300.29 L183.40,305.91 Z" fill="none" stroke="#111" stroke-width="1.0" stroke-linejoin="miter"/>
<path d="M168.30,316.19 L174.10,316.19 L171.20,321.81 Z" fill="none" stroke="#111" stroke-width="1.0" stroke-linejoin="miter"/>
<path d="M172.50,317.99 L178.30,317.99 L175.40,323.61 Z" fill="none" stroke="#111" stroke-width="1.0" stroke-linejoin="miter"/>
<path d="M164.50,324.39 L170.30,324.39 L167.40,330.01 Z" fill="none" stroke="#111" stroke-width="1.0" stroke-linejoin="miter"/>
<line x1="79.5" y1="255.8" x2="125" y2="255.8" stroke="#111" stroke-width="1.5" />
<line x1="148.4" y1="297.8" x2="194.1" y2="297.8" stroke="#111" stroke-width="1.5" />
<text x="227.8" y="194.2" font-size="14" font-weight="bold" text-anchor="start" fill="#111" >C</text>
<line x1="290.9" y1="200.5" x2="290.9" y2="334.1" stroke="#111" stroke-width="2" />
<line x1="286.5" y1="333.1" x2="290.9" y2="333.1" stroke="#111" stroke-width="1.6" />
<text x="285.4" y="336.5" font-size="9.5" font-weight="bold" text-anchor="end" fill="#111" >0</text>
<line x1="286.5" y1="316.75" x2="290.9" y2="316.75" stroke="#111" stroke-width="1.6" />
<text x="285.4" y="320.15" font-size="9.5" font-weight="bold" text-anchor="end" fill="#111" >10</text>
<line x1="286.5" y1="300.40000000000003" x2="290.9" y2="300.40000000000003" stroke="#111" stroke-width="1.6" />
<text x="285.4" y="303.8" font-size="9.5" font-weight="bold" text-anchor="end" fill="#111" >20</text>
<line x1="286.5" y1="284.05" x2="290.9" y2="284.05" stroke="#111" stroke-width="1.6" />
<text x="285.4" y="287.45" font-size="9.5" font-weight="bold" text-anchor="end" fill="#111" >30</text>
<line x1="286.5" y1="267.70000000000005" x2="290.9" y2="267.70000000000005" stroke="#111" stroke-width="1.6" />
<text x="285.4" y="271.1" font-size="9.5" font-weight="bold" text-anchor="end" fill="#111" >40</text>
<line x1="286.5" y1="251.35000000000002" x2="290.9" y2="251.35000000000002" stroke="#111" stroke-width="1.6" />
<text x="285.4" y="254.75000000000003" font-size="9.5" font-weight="bold" text-anchor="end" fill="#111" >50</text>
<line x1="286.5" y1="235.00000000000003" x2="290.9" y2="235.00000000000003" stroke="#111" stroke-width="1.6" />
<text x="285.4" y="238.40000000000003" font-size="9.5" font-weight="bold" text-anchor="end" fill="#111" >60</text>
<line x1="286.5" y1="218.65000000000003" x2="290.9" y2="218.65000000000003" stroke="#111" stroke-width="1.6" />
<text x="285.4" y="222.05000000000004" font-size="9.5" font-weight="bold" text-anchor="end" fill="#111" >70</text>
<line x1="286.5" y1="202.3" x2="290.9" y2="202.3" stroke="#111" stroke-width="1.6" />
<text x="285.4" y="205.70000000000002" font-size="9.5" font-weight="bold" text-anchor="end" fill="#111" >80</text>
<line x1="289.9" y1="333.1" x2="489.3" y2="333.1" stroke="#111" stroke-width="2" />
<line x1="315.9" y1="333.1" x2="315.9" y2="337.6" stroke="#111" stroke-width="1.6" />
<text x="315.9" y="347.4" font-size="9.3" font-weight="bold" text-anchor="middle" fill="#111" >HIV P</text>
<line x1="365" y1="333.1" x2="365" y2="337.6" stroke="#111" stroke-width="1.6" />
<text x="365" y="347.4" font-size="9.3" font-weight="bold" text-anchor="middle" fill="#111" >CMV P</text>
<line x1="414.9" y1="333.1" x2="414.9" y2="337.6" stroke="#111" stroke-width="1.6" />
<text x="414.9" y="347.4" font-size="9.3" font-weight="bold" text-anchor="middle" fill="#111" >HIV C</text>
<line x1="463.9" y1="333.1" x2="463.9" y2="337.6" stroke="#111" stroke-width="1.6" />
<text x="463.9" y="347.4" font-size="9.3" font-weight="bold" text-anchor="middle" fill="#111" >CMV C</text>
<text transform="translate(268.5,345.6) rotate(-90) scale(1,1.08)" font-size="10.55" font-weight="bold" fill="#111" font-family="Liberation Sans, sans-serif">% of Tetramer+ AnnexinV+ cells</text>
<line x1="309.5" y1="181.8" x2="413.8" y2="181.8" stroke="#111" stroke-width="1.5" />
<text x="367.1" y="181.0" font-size="13" font-weight="bold" text-anchor="middle" fill="#111" >***</text>
<line x1="309.5" y1="195.8" x2="365" y2="195.8" stroke="#111" stroke-width="1.5" />
<text x="338.9" y="196.6" font-size="13" font-weight="bold" text-anchor="middle" fill="#111" >***</text>
<line x1="408.5" y1="195.2" x2="462" y2="195.2" stroke="#111" stroke-width="1.5" />
<text x="437.6" y="191.0" font-size="10.3" font-weight="bold" text-anchor="middle" fill="#111" >ns</text>
<path d="M315.80,199.40 L318.30,201.90 L315.80,204.40 L313.30,201.90 Z" fill="#111"/>
<path d="M303.90,203.10 L306.40,205.60 L303.90,208.10 L301.40,205.60 Z" fill="#111"/>
<path d="M327.70,205.10 L330.20,207.60 L327.70,210.10 L325.20,207.60 Z" fill="#111"/>
<path d="M311.80,208.10 L314.30,210.60 L311.80,213.10 L309.30,210.60 Z" fill="#111"/>
<path d="M319.70,208.60 L322.20,211.10 L319.70,213.60 L317.20,211.10 Z" fill="#111"/>
<path d="M307.80,216.10 L310.30,218.60 L307.80,221.10 L305.30,218.60 Z" fill="#111"/>
<path d="M311.80,214.30 L314.30,216.80 L311.80,219.30 L309.30,216.80 Z" fill="#111"/>
<path d="M315.80,217.00 L318.30,219.50 L315.80,222.00 L313.30,219.50 Z" fill="#111"/>
<path d="M319.70,216.10 L322.20,218.60 L319.70,221.10 L317.20,218.60 Z" fill="#111"/>
<path d="M323.70,217.00 L326.20,219.50 L323.70,222.00 L321.20,219.50 Z" fill="#111"/>
<path d="M311.80,220.00 L314.30,222.50 L311.80,225.00 L309.30,222.50 Z" fill="#111"/>
<path d="M319.70,226.60 L322.20,229.10 L319.70,231.60 L317.20,229.10 Z" fill="#111"/>
<path d="M327.70,228.90 L330.20,231.40 L327.70,233.90 L325.20,231.40 Z" fill="#111"/>
<path d="M303.90,232.50 L306.40,235.00 L303.90,237.50 L301.40,235.00 Z" fill="#111"/>
<path d="M311.80,235.50 L314.30,238.00 L311.80,240.50 L309.30,238.00 Z" fill="#111"/>
<path d="M319.70,235.50 L322.20,238.00 L319.70,240.50 L317.20,238.00 Z" fill="#111"/>
<path d="M311.80,249.70 L314.30,252.20 L311.80,254.70 L309.30,252.20 Z" fill="#111"/>
<path d="M319.70,251.40 L322.20,253.90 L319.70,256.40 L317.20,253.90 Z" fill="#111"/>
<path d="M315.80,271.90 L318.30,274.40 L315.80,276.90 L313.30,274.40 Z" fill="#111"/>
<circle cx="365.1" cy="239" r="1.9" fill="#111"/>
<circle cx="365.1" cy="250.5" r="1.9" fill="#111"/>
<circle cx="362.2" cy="265.1" r="1.9" fill="#111"/>
<circle cx="368.2" cy="268" r="1.9" fill="#111"/>
<circle cx="368.2" cy="277" r="1.9" fill="#111"/>
<circle cx="362.2" cy="280.7" r="1.9" fill="#111"/>
<circle cx="365.1" cy="291.6" r="1.9" fill="#111"/>
<circle cx="365.1" cy="306.8" r="1.9" fill="#111"/>
<path d="M414.70,219.90 L417.00,222.20 L414.70,224.50 L412.40,222.20 Z" fill="none" stroke="#111" stroke-width="0.95"/>
<path d="M406.70,228.10 L409.00,230.40 L406.70,232.70 L404.40,230.40 Z" fill="none" stroke="#111" stroke-width="0.95"/>
<path d="M414.70,230.20 L417.00,232.50 L414.70,234.80 L412.40,232.50 Z" fill="none" stroke="#111" stroke-width="0.95"/>
<path d="M422.80,225.20 L425.10,227.50 L422.80,229.80 L420.50,227.50 Z" fill="none" stroke="#111" stroke-width="0.95"/>
<path d="M414.70,256.90 L417.00,259.20 L414.70,261.50 L412.40,259.20 Z" fill="none" stroke="#111" stroke-width="0.95"/>
<path d="M402.70,273.00 L405.00,275.30 L402.70,277.60 L400.40,275.30 Z" fill="none" stroke="#111" stroke-width="0.95"/>
<path d="M410.80,273.50 L413.10,275.80 L410.80,278.10 L408.50,275.80 Z" fill="none" stroke="#111" stroke-width="0.95"/>
<path d="M418.60,275.80 L420.90,278.10 L418.60,280.40 L416.30,278.10 Z" fill="none" stroke="#111" stroke-width="0.95"/>
<path d="M426.70,273.50 L429.00,275.80 L426.70,278.10 L424.40,275.80 Z" fill="none" stroke="#111" stroke-width="0.95"/>
<path d="M414.70,285.20 L417.00,287.50 L414.70,289.80 L412.40,287.50 Z" fill="none" stroke="#111" stroke-width="0.95"/>
<path d="M422.80,291.20 L425.10,293.50 L422.80,295.80 L420.50,293.50 Z" fill="none" stroke="#111" stroke-width="0.95"/>
<path d="M406.70,297.20 L409.00,299.50 L406.70,301.80 L404.40,299.50 Z" fill="none" stroke="#111" stroke-width="0.95"/>
<path d="M414.70,297.50 L417.00,299.80 L414.70,302.10 L412.40,299.80 Z" fill="none" stroke="#111" stroke-width="0.95"/>
<path d="M414.70,314.10 L417.00,316.40 L414.70,318.70 L412.40,316.40 Z" fill="none" stroke="#111" stroke-width="0.95"/>
<circle cx="464.3" cy="235.9" r="1.65" fill="none" stroke="#111" stroke-width="0.9"/>
<circle cx="461" cy="268.9" r="1.65" fill="none" stroke="#111" stroke-width="0.9"/>
<circle cx="467.6" cy="271.1" r="1.65" fill="none" stroke="#111" stroke-width="0.9"/>
<circle cx="467.6" cy="297.1" r="1.65" fill="none" stroke="#111" stroke-width="0.9"/>
<circle cx="461" cy="302.1" r="1.65" fill="none" stroke="#111" stroke-width="0.9"/>
<circle cx="461" cy="304.4" r="1.65" fill="none" stroke="#111" stroke-width="0.9"/>
<circle cx="467.6" cy="309.1" r="1.65" fill="none" stroke="#111" stroke-width="0.9"/>
<circle cx="464.3" cy="317.7" r="1.65" fill="none" stroke="#111" stroke-width="0.9"/>
<line x1="299.2" y1="226.5" x2="332.3" y2="226.5" stroke="#111" stroke-width="1.5" />
<line x1="349" y1="272.4" x2="381.8" y2="272.4" stroke="#111" stroke-width="1.5" />
<line x1="398.4" y1="269.8" x2="431.3" y2="269.8" stroke="#111" stroke-width="1.5" />
<line x1="448.1" y1="288.1" x2="480.8" y2="288.1" stroke="#111" stroke-width="1.5" />
<text x="2.0" y="387.4" font-size="13.5" font-weight="bold" text-anchor="start" fill="#111" >D</text>
<rect x="41.3" y="456.2" width="25.700000000000003" height="4.800000000000011" fill="#e84fd6"/>
<rect x="67" y="456.2" width="26" height="4.800000000000011" fill="#3cc4ee"/>
<rect x="93" y="456.2" width="26.700000000000003" height="4.800000000000011" fill="#c6e84a"/>
<rect x="41.3" y="462.50" width="25.700000000000003" height="8.43" fill="#d92a24"/>
<rect x="67" y="462.50" width="26" height="8.43" fill="#9cc6df"/>
<rect x="93" y="462.50" width="26.700000000000003" height="8.43" fill="#c4e1ee"/>
<rect x="41.3" y="470.93" width="25.700000000000003" height="8.43" fill="#d92a24"/>
<rect x="67" y="470.93" width="26" height="8.43" fill="#95c2dc"/>
<rect x="93" y="470.93" width="26.700000000000003" height="8.43" fill="#c4e1ee"/>
<rect x="41.3" y="479.36" width="25.700000000000003" height="8.43" fill="#d92a24"/>
<rect x="67" y="479.36" width="26" height="8.43" fill="#a6cde3"/>
<rect x="93" y="479.36" width="26.700000000000003" height="8.43" fill="#b8d9ea"/>
<rect x="41.3" y="487.79" width="25.700000000000003" height="8.43" fill="#d92a24"/>
<rect x="67" y="487.79" width="26" height="8.43" fill="#d5ecf4"/>
<rect x="93" y="487.79" width="26.700000000000003" height="8.43" fill="#9cc6df"/>
<rect x="41.3" y="496.22" width="25.700000000000003" height="8.43" fill="#d92a24"/>
<rect x="67" y="496.22" width="26" height="8.43" fill="#d5ecf4"/>
<rect x="93" y="496.22" width="26.700000000000003" height="8.43" fill="#9cc6df"/>
<rect x="41.3" y="504.65" width="25.700000000000003" height="8.43" fill="#d92a24"/>
<rect x="67" y="504.65" width="26" height="8.43" fill="#d0e9f2"/>
<rect x="93" y="504.65" width="26.700000000000003" height="8.43" fill="#9cc6df"/>
<rect x="41.3" y="513.08" width="25.700000000000003" height="8.43" fill="#d92a24"/>
<rect x="67" y="513.08" width="26" height="8.43" fill="#c4e1ee"/>
<rect x="93" y="513.08" width="26.700000000000003" height="8.43" fill="#a1c9e1"/>
<rect x="41.3" y="521.51" width="25.700000000000003" height="8.43" fill="#d92a24"/>
<rect x="67" y="521.51" width="26" height="8.43" fill="#6e9dc9"/>
<rect x="93" y="521.51" width="26.700000000000003" height="8.43" fill="#ecf8e1"/>
<rect x="41.3" y="529.94" width="25.700000000000003" height="8.43" fill="#e03f2f"/>
<rect x="67" y="529.94" width="26" height="8.43" fill="#fbfec6"/>
<rect x="93" y="529.94" width="26.700000000000003" height="8.43" fill="#6392c3"/>
<rect x="41.3" y="538.37" width="25.700000000000003" height="8.43" fill="#e03f2f"/>
<rect x="67" y="538.37" width="26" height="8.43" fill="#fbfec6"/>
<rect x="93" y="538.37" width="26.700000000000003" height="8.43" fill="#6392c3"/>
<rect x="41.3" y="546.80" width="25.700000000000003" height="8.43" fill="#e03f2f"/>
<rect x="67" y="546.80" width="26" height="8.43" fill="#fcfec4"/>
<rect x="93" y="546.80" width="26.700000000000003" height="8.43" fill="#5c8bc0"/>
<rect x="41.3" y="555.23" width="25.700000000000003" height="8.43" fill="#db3027"/>
<rect x="67" y="555.23" width="26" height="8.43" fill="#eef9de"/>
<rect x="93" y="555.23" width="26.700000000000003" height="8.43" fill="#77a6ce"/>
<rect x="41.3" y="563.66" width="25.700000000000003" height="8.43" fill="#db3027"/>
<rect x="67" y="563.66" width="26" height="8.43" fill="#eef9de"/>
<rect x="93" y="563.66" width="26.700000000000003" height="8.43" fill="#77a6ce"/>
<rect x="41.3" y="572.09" width="25.700000000000003" height="8.43" fill="#db3027"/>
<rect x="67" y="572.09" width="26" height="8.43" fill="#eef9de"/>
<rect x="93" y="572.09" width="26.700000000000003" height="8.43" fill="#73a1cb"/>
<rect x="41.3" y="580.52" width="25.700000000000003" height="8.43" fill="#db3027"/>
<rect x="67" y="580.52" width="26" height="8.43" fill="#eef9de"/>
<rect x="93" y="580.52" width="26.700000000000003" height="8.43" fill="#73a1cb"/>
<rect x="41.3" y="588.95" width="25.700000000000003" height="8.43" fill="#5080ba"/>
<rect x="67" y="588.95" width="26" height="8.43" fill="#fee395"/>
<rect x="93" y="588.95" width="26.700000000000003" height="8.43" fill="#f67d51"/>
<rect x="41.3" y="597.38" width="25.700000000000003" height="8.43" fill="#5080ba"/>
<rect x="67" y="597.38" width="26" height="8.43" fill="#fee89c"/>
<rect x="93" y="597.38" width="26.700000000000003" height="8.43" fill="#e9573c"/>
<rect x="41.3" y="605.81" width="25.700000000000003" height="8.43" fill="#4c7cb8"/>
<rect x="67" y="605.81" width="26" height="8.43" fill="#fc9961"/>
<rect x="93" y="605.81" width="26.700000000000003" height="8.43" fill="#fecf85"/>
<path d="M41.3,470.93H119.7M41.3,479.36H119.7M41.3,487.79H119.7M41.3,496.22H119.7M41.3,504.65H119.7M41.3,513.08H119.7M41.3,521.51H119.7M41.3,529.94H119.7M41.3,538.37H119.7M41.3,546.80H119.7M41.3,555.23H119.7M41.3,563.66H119.7M41.3,572.09H119.7M41.3,580.52H119.7M41.3,588.95H119.7M41.3,597.38H119.7M41.3,605.81H119.7M67,462.5V614.24M93,462.5V614.24" stroke="#fff" stroke-opacity="0.35" stroke-width="0.5"/>
<text x="120.9" y="469.81" font-size="8.6" text-anchor="start" fill="#151515" >ATP5C1</text>
<text x="120.9" y="478.24" font-size="8.6" text-anchor="start" fill="#151515" >HADH2</text>
<text x="120.9" y="486.67" font-size="8.6" text-anchor="start" fill="#151515" >NDUFB7</text>
<text x="120.9" y="495.10" font-size="8.6" text-anchor="start" fill="#151515" >COX6A1</text>
<text x="120.9" y="503.53" font-size="8.6" text-anchor="start" fill="#151515" >PSENEN</text>
<text x="120.9" y="511.96" font-size="8.6" text-anchor="start" fill="#151515" >NDUFB11</text>
<text x="120.9" y="520.39" font-size="8.6" text-anchor="start" fill="#151515" >NDUFA12</text>
<text x="120.9" y="528.82" font-size="8.6" text-anchor="start" fill="#151515" >NDUFB8</text>
<text x="120.9" y="537.25" font-size="8.6" text-anchor="start" fill="#151515" >NDUFS5</text>
<text x="120.9" y="545.68" font-size="8.6" text-anchor="start" fill="#151515" >NDUFB10</text>
<text x="120.9" y="554.11" font-size="8.6" text-anchor="start" fill="#151515" >FIS1</text>
<text x="120.9" y="562.54" font-size="8.6" text-anchor="start" fill="#151515" >COX7C</text>
<text x="120.9" y="570.97" font-size="8.6" text-anchor="start" fill="#151515" >NDUFA7</text>
<text x="120.9" y="579.40" font-size="8.6" text-anchor="start" fill="#151515" >NDUFS7</text>
<text x="120.9" y="587.83" font-size="8.6" text-anchor="start" fill="#151515" >NDUFA3</text>
<text x="120.9" y="596.26" font-size="8.6" text-anchor="start" fill="#151515" >CPT1B</text>
<text x="120.9" y="604.69" font-size="8.6" text-anchor="start" fill="#151515" >COX10</text>
<text x="120.9" y="613.12" font-size="8.6" text-anchor="start" fill="#151515" >CYCS</text>
<text x="88.8" y="386.2" font-size="9.2" font-weight="bold" text-anchor="middle" fill="#111" >Mitochondrial</text>
<text x="88.8" y="397.0" font-size="9.2" font-weight="bold" text-anchor="middle" fill="#111" >Dysfunction</text>
<text x="88.8" y="407.4" font-size="9.2" font-weight="bold" text-anchor="middle" fill="#111" >p-value = 2.39E-05</text>
<path d="M80.00,456.20 V443.00 H106.35 V456.20M54.15,456.20 V417.50 H93.17 V443.00" fill="none" stroke="#444" stroke-width="0.8"/>
<path d="M41.30,475.14 H40.00 V483.57 H41.30M41.30,466.71 H38.50 V479.36 H40.00M41.30,492.00 H40.00 V500.44 H41.30M41.30,508.87 H40.20 V517.29 H41.30M40.00,496.22 H39.00 V513.08 H40.20M38.50,473.04 H36.10 V504.65 H39.00M36.10,488.84 H32.40 V525.73 H41.30M41.30,534.15 H40.00 V542.59 H41.30M40.00,538.37 H39.00 V551.01 H41.30M41.30,559.44 H40.30 V567.88 H41.30M41.30,576.30 H40.00 V584.74 H41.30M40.30,563.66 H39.50 V580.52 H40.00M39.00,544.69 H37.40 V572.09 H39.50M32.40,507.28 H26.20 V558.39 H37.40M41.30,593.16 H37.40 V601.60 H41.30M37.40,597.38 H31.90 V610.02 H41.30M26.20,532.84 H4.00 V603.70 H31.90" fill="none" stroke="#444" stroke-width="0.8"/>
<rect x="205" y="449.5" width="26.19999999999999" height="5.5" fill="#e84fd6"/>
<rect x="231.2" y="449.5" width="25.900000000000034" height="5.5" fill="#3cc4ee"/>
<rect x="257.1" y="449.5" width="26.0" height="5.5" fill="#c6e84a"/>
<rect x="205" y="457.00" width="26.19999999999999" height="8.42" fill="#d92a24"/>
<rect x="231.2" y="457.00" width="25.900000000000034" height="8.42" fill="#c4e1ee"/>
<rect x="257.1" y="457.00" width="26.0" height="8.42" fill="#9ac5de"/>
<rect x="205" y="465.42" width="26.19999999999999" height="8.42" fill="#d92a24"/>
<rect x="231.2" y="465.42" width="25.900000000000034" height="8.42" fill="#c4e1ee"/>
<rect x="257.1" y="465.42" width="26.0" height="8.42" fill="#9ac5de"/>
<rect x="205" y="473.84" width="26.19999999999999" height="8.42" fill="#d92a24"/>
<rect x="231.2" y="473.84" width="25.900000000000034" height="8.42" fill="#b8d9ea"/>
<rect x="257.1" y="473.84" width="26.0" height="8.42" fill="#a6cde3"/>
<rect x="205" y="482.26" width="26.19999999999999" height="8.42" fill="#d92a24"/>
<rect x="231.2" y="482.26" width="25.900000000000034" height="8.42" fill="#add1e5"/>
<rect x="257.1" y="482.26" width="26.0" height="8.42" fill="#add1e5"/>
<rect x="205" y="490.68" width="26.19999999999999" height="8.42" fill="#d92a24"/>
<rect x="231.2" y="490.68" width="25.900000000000034" height="8.42" fill="#aad0e4"/>
<rect x="257.1" y="490.68" width="26.0" height="8.42" fill="#add1e5"/>
<rect x="205" y="499.10" width="26.19999999999999" height="8.42" fill="#d92a24"/>
<rect x="231.2" y="499.10" width="25.900000000000034" height="8.42" fill="#aad0e4"/>
<rect x="257.1" y="499.10" width="26.0" height="8.42" fill="#b8d9ea"/>
<rect x="205" y="507.52" width="26.19999999999999" height="8.42" fill="#d92a24"/>
<rect x="231.2" y="507.52" width="25.900000000000034" height="8.42" fill="#a1c9e1"/>
<rect x="257.1" y="507.52" width="26.0" height="8.42" fill="#c0deec"/>
<rect x="205" y="515.94" width="26.19999999999999" height="8.42" fill="#de392c"/>
<rect x="231.2" y="515.94" width="25.900000000000034" height="8.42" fill="#5c8bc0"/>
<rect x="257.1" y="515.94" width="26.0" height="8.42" fill="#ecf8e1"/>
<rect x="205" y="524.36" width="26.19999999999999" height="8.42" fill="#db3027"/>
<rect x="231.2" y="524.36" width="25.900000000000034" height="8.42" fill="#6796c6"/>
<rect x="257.1" y="524.36" width="26.0" height="8.42" fill="#e8f6ea"/>
<rect x="205" y="532.78" width="26.19999999999999" height="8.42" fill="#db3027"/>
<rect x="231.2" y="532.78" width="25.900000000000034" height="8.42" fill="#85b3d5"/>
<rect x="257.1" y="532.78" width="26.0" height="8.42" fill="#d5ecf4"/>
<rect x="205" y="541.20" width="26.19999999999999" height="8.42" fill="#e03f2f"/>
<rect x="231.2" y="541.20" width="25.900000000000034" height="8.42" fill="#f4fbd4"/>
<rect x="257.1" y="541.20" width="26.0" height="8.42" fill="#6090c2"/>
<rect x="205" y="549.62" width="26.19999999999999" height="8.42" fill="#e03f2f"/>
<rect x="231.2" y="549.62" width="25.900000000000034" height="8.42" fill="#f6fbd0"/>
<rect x="257.1" y="549.62" width="26.0" height="8.42" fill="#6090c2"/>
<rect x="205" y="558.04" width="26.19999999999999" height="8.42" fill="#e03f2f"/>
<rect x="231.2" y="558.04" width="25.900000000000034" height="8.42" fill="#fbfec6"/>
<rect x="257.1" y="558.04" width="26.0" height="8.42" fill="#5c8bc0"/>
<rect x="205" y="566.46" width="26.19999999999999" height="8.42" fill="#e03f2f"/>
<rect x="231.2" y="566.46" width="25.900000000000034" height="8.42" fill="#fbfec6"/>
<rect x="257.1" y="566.46" width="26.0" height="8.42" fill="#5c8bc0"/>
<rect x="205" y="574.88" width="26.19999999999999" height="8.42" fill="#e03f2f"/>
<rect x="231.2" y="574.88" width="25.900000000000034" height="8.42" fill="#fbfec6"/>
<rect x="257.1" y="574.88" width="26.0" height="8.42" fill="#5c8bc0"/>
<rect x="205" y="583.30" width="26.19999999999999" height="8.42" fill="#de392c"/>
<rect x="231.2" y="583.30" width="25.900000000000034" height="8.42" fill="#f6fbd0"/>
<rect x="257.1" y="583.30" width="26.0" height="8.42" fill="#6090c2"/>
<rect x="205" y="591.72" width="26.19999999999999" height="8.42" fill="#dc3329"/>
<rect x="231.2" y="591.72" width="25.900000000000034" height="8.42" fill="#e8f6ea"/>
<rect x="257.1" y="591.72" width="26.0" height="8.42" fill="#73a1cb"/>
<rect x="205" y="600.14" width="26.19999999999999" height="8.42" fill="#dc3329"/>
<rect x="231.2" y="600.14" width="25.900000000000034" height="8.42" fill="#e8f6ea"/>
<rect x="257.1" y="600.14" width="26.0" height="8.42" fill="#73a1cb"/>
<rect x="205" y="608.56" width="26.19999999999999" height="8.42" fill="#dc3329"/>
<rect x="231.2" y="608.56" width="25.900000000000034" height="8.42" fill="#dcf0f7"/>
<rect x="257.1" y="608.56" width="26.0" height="8.42" fill="#7eacd1"/>
<rect x="205" y="616.98" width="26.19999999999999" height="8.42" fill="#ee6544"/>
<rect x="231.2" y="616.98" width="25.900000000000034" height="8.42" fill="#fff1aa"/>
<rect x="257.1" y="616.98" width="26.0" height="8.42" fill="#5080ba"/>
<rect x="205" y="625.40" width="26.19999999999999" height="8.42" fill="#5080ba"/>
<rect x="231.2" y="625.40" width="25.900000000000034" height="8.42" fill="#fee89c"/>
<rect x="257.1" y="625.40" width="26.0" height="8.42" fill="#ec5f41"/>
<path d="M205,465.42H283.1M205,473.84H283.1M205,482.26H283.1M205,490.68H283.1M205,499.10H283.1M205,507.52H283.1M205,515.94H283.1M205,524.36H283.1M205,532.78H283.1M205,541.20H283.1M205,549.62H283.1M205,558.04H283.1M205,566.46H283.1M205,574.88H283.1M205,583.30H283.1M205,591.72H283.1M205,600.14H283.1M205,608.56H283.1M205,616.98H283.1M205,625.40H283.1M231.2,457.0V633.82M257.1,457.0V633.82" stroke="#fff" stroke-opacity="0.35" stroke-width="0.5"/>
<text x="285.6" y="464.31" font-size="8.6" text-anchor="start" fill="#151515" >NDUFB11</text>
<text x="285.6" y="472.73" font-size="8.6" text-anchor="start" fill="#151515" >COX6A1</text>
<text x="285.6" y="481.15" font-size="8.6" text-anchor="start" fill="#151515" >NDUFA12</text>
<text x="285.6" y="489.57" font-size="8.6" text-anchor="start" fill="#151515" >NDUFC1</text>
<text x="285.6" y="497.99" font-size="8.6" text-anchor="start" fill="#151515" >NDUFB7</text>
<text x="285.6" y="506.41" font-size="8.6" text-anchor="start" fill="#151515" >ATP5I</text>
<text x="285.6" y="514.83" font-size="8.6" text-anchor="start" fill="#151515" >ATP5C1</text>
<text x="285.6" y="523.25" font-size="8.6" text-anchor="start" fill="#151515" >ATP5G2</text>
<text x="285.6" y="531.67" font-size="8.6" text-anchor="start" fill="#151515" >NDUFB8</text>
<text x="285.6" y="540.09" font-size="8.6" text-anchor="start" fill="#151515" >ATP5G1</text>
<text x="285.6" y="548.51" font-size="8.6" text-anchor="start" fill="#151515" >NDUFS7</text>
<text x="285.6" y="556.93" font-size="8.6" text-anchor="start" fill="#151515" >NDUFA3</text>
<text x="285.6" y="565.35" font-size="8.6" text-anchor="start" fill="#151515" >ATP5D</text>
<text x="285.6" y="573.77" font-size="8.6" text-anchor="start" fill="#151515" >NDUFS5</text>
<text x="285.6" y="582.19" font-size="8.6" text-anchor="start" fill="#151515" >NDUFB10</text>
<text x="285.6" y="590.61" font-size="8.6" text-anchor="start" fill="#151515" >UQCRQ</text>
<text x="285.6" y="599.03" font-size="8.6" text-anchor="start" fill="#151515" >COX7C</text>
<text x="285.6" y="607.45" font-size="8.6" text-anchor="start" fill="#151515" >NDUFA7</text>
<text x="285.6" y="615.87" font-size="8.6" text-anchor="start" fill="#151515" >ATP5J2</text>
<text x="285.6" y="624.29" font-size="8.6" text-anchor="start" fill="#151515" >UCRC</text>
<text x="285.6" y="632.71" font-size="8.6" text-anchor="start" fill="#151515" >COX10</text>
<text x="245.7" y="385.6" font-size="9.2" font-weight="bold" text-anchor="middle" fill="#111" >Oxidative</text>
<text x="245.7" y="396.6" font-size="9.2" font-weight="bold" text-anchor="middle" fill="#111" >Phosphorylation</text>
<text x="245.7" y="407.2" font-size="9.2" font-weight="bold" text-anchor="middle" fill="#111" >p-value = 5.87E-6</text>
<path d="M244.15,449.50 V436.30 H270.10 V449.50M218.10,449.50 V412.00 H257.12 V436.30" fill="none" stroke="#444" stroke-width="0.8"/>
<path d="M205.00,461.21 H203.00 V469.63 H205.00M205.00,478.05 H203.00 V486.47 H205.00M203.00,465.42 H202.00 V482.26 H203.00M205.00,503.31 H203.50 V511.73 H205.00M205.00,494.89 H202.00 V507.52 H203.50M202.00,473.84 H200.00 V501.20 H202.00M205.00,520.15 H203.00 V528.57 H205.00M203.00,524.36 H201.40 V536.99 H205.00M200.00,487.52 H195.50 V530.67 H201.40M205.00,545.41 H203.00 V553.83 H205.00M205.00,562.25 H203.50 V570.67 H205.00M203.50,566.46 H203.00 V579.09 H205.00M203.00,549.62 H202.00 V572.78 H203.00M205.00,587.51 H203.00 V595.93 H205.00M205.00,604.35 H203.50 V612.77 H205.00M203.00,591.72 H202.00 V608.56 H203.50M202.00,561.20 H200.80 V600.14 H202.00M200.80,580.67 H199.30 V621.19 H205.00M195.50,509.10 H188.50 V600.93 H199.30M188.50,555.01 H168.60 V629.61 H205.00" fill="none" stroke="#444" stroke-width="0.8"/>
<rect x="368" y="465.8" width="26.600000000000023" height="5.399999999999977" fill="#e84fd6"/>
<rect x="394.6" y="465.8" width="26.599999999999966" height="5.399999999999977" fill="#3cc4ee"/>
<rect x="421.2" y="465.8" width="26.400000000000034" height="5.399999999999977" fill="#c6e84a"/>
<rect x="368" y="472.50" width="26.600000000000023" height="8.45" fill="#5080ba"/>
<rect x="394.6" y="472.50" width="26.599999999999966" height="8.45" fill="#fee395"/>
<rect x="421.2" y="472.50" width="26.400000000000034" height="8.45" fill="#f06b47"/>
<rect x="368" y="480.95" width="26.600000000000023" height="8.45" fill="#5080ba"/>
<rect x="394.6" y="480.95" width="26.599999999999966" height="8.45" fill="#fee395"/>
<rect x="421.2" y="480.95" width="26.400000000000034" height="8.45" fill="#f06b47"/>
<rect x="368" y="489.40" width="26.600000000000023" height="8.45" fill="#5080ba"/>
<rect x="394.6" y="489.40" width="26.599999999999966" height="8.45" fill="#fee395"/>
<rect x="421.2" y="489.40" width="26.400000000000034" height="8.45" fill="#ee6544"/>
<rect x="368" y="497.85" width="26.600000000000023" height="8.45" fill="#5080ba"/>
<rect x="394.6" y="497.85" width="26.599999999999966" height="8.45" fill="#fee395"/>
<rect x="421.2" y="497.85" width="26.400000000000034" height="8.45" fill="#ec5f41"/>
<rect x="368" y="506.30" width="26.600000000000023" height="8.45" fill="#5080ba"/>
<rect x="394.6" y="506.30" width="26.599999999999966" height="8.45" fill="#fee192"/>
<rect x="421.2" y="506.30" width="26.400000000000034" height="8.45" fill="#f98354"/>
<rect x="368" y="514.75" width="26.600000000000023" height="8.45" fill="#5080ba"/>
<rect x="394.6" y="514.75" width="26.599999999999966" height="8.45" fill="#fedc8d"/>
<rect x="421.2" y="514.75" width="26.400000000000034" height="8.45" fill="#f98354"/>
<rect x="368" y="523.20" width="26.600000000000023" height="8.45" fill="#6796c6"/>
<rect x="394.6" y="523.20" width="26.599999999999966" height="8.45" fill="#ffffbf"/>
<rect x="421.2" y="523.20" width="26.400000000000034" height="8.45" fill="#de392c"/>
<rect x="368" y="531.65" width="26.600000000000023" height="8.45" fill="#6796c6"/>
<rect x="394.6" y="531.65" width="26.599999999999966" height="8.45" fill="#ffffbf"/>
<rect x="421.2" y="531.65" width="26.400000000000034" height="8.45" fill="#de392c"/>
<rect x="368" y="540.10" width="26.600000000000023" height="8.45" fill="#5080ba"/>
<rect x="394.6" y="540.10" width="26.599999999999966" height="8.45" fill="#f67d51"/>
<rect x="421.2" y="540.10" width="26.400000000000034" height="8.45" fill="#fee395"/>
<rect x="368" y="548.55" width="26.600000000000023" height="8.45" fill="#5080ba"/>
<rect x="394.6" y="548.55" width="26.599999999999966" height="8.45" fill="#f67d51"/>
<rect x="421.2" y="548.55" width="26.400000000000034" height="8.45" fill="#fee395"/>
<rect x="368" y="557.00" width="26.600000000000023" height="8.45" fill="#5585bc"/>
<rect x="394.6" y="557.00" width="26.599999999999966" height="8.45" fill="#fdaa6c"/>
<rect x="421.2" y="557.00" width="26.400000000000034" height="8.45" fill="#fdb674"/>
<rect x="368" y="565.45" width="26.600000000000023" height="8.45" fill="#e64e37"/>
<rect x="394.6" y="565.45" width="26.599999999999966" height="8.45" fill="#fdfec2"/>
<rect x="421.2" y="565.45" width="26.400000000000034" height="8.45" fill="#6090c2"/>
<rect x="368" y="573.90" width="26.600000000000023" height="8.45" fill="#e64e37"/>
<rect x="394.6" y="573.90" width="26.599999999999966" height="8.45" fill="#fdfec2"/>
<rect x="421.2" y="573.90" width="26.400000000000034" height="8.45" fill="#6090c2"/>
<rect x="368" y="582.35" width="26.600000000000023" height="8.45" fill="#d92a24"/>
<rect x="394.6" y="582.35" width="26.599999999999966" height="8.45" fill="#add1e5"/>
<rect x="421.2" y="582.35" width="26.400000000000034" height="8.45" fill="#b8d9ea"/>
<path d="M368,480.95H447.6M368,489.40H447.6M368,497.85H447.6M368,506.30H447.6M368,514.75H447.6M368,523.20H447.6M368,531.65H447.6M368,540.10H447.6M368,548.55H447.6M368,557.00H447.6M368,565.45H447.6M368,573.90H447.6M368,582.35H447.6M394.6,472.5V590.80M421.2,472.5V590.80" stroke="#fff" stroke-opacity="0.35" stroke-width="0.5"/>
<text x="449.6" y="479.82" font-size="8.6" text-anchor="start" fill="#151515" >GSTM2</text>
<text x="449.6" y="488.27" font-size="8.6" text-anchor="start" fill="#151515" >DNAJC14</text>
<text x="449.6" y="496.72" font-size="8.6" text-anchor="start" fill="#151515" >GSTM1</text>
<text x="449.6" y="505.17" font-size="8.6" text-anchor="start" fill="#151515" >DNAJB6</text>
<text x="449.6" y="513.62" font-size="8.6" text-anchor="start" fill="#151515" >ACTB</text>
<text x="449.6" y="522.07" font-size="8.6" text-anchor="start" fill="#151515" >MAP3K7</text>
<text x="449.6" y="530.52" font-size="8.6" text-anchor="start" fill="#151515" >GSTM3</text>
<text x="449.6" y="538.97" font-size="8.6" text-anchor="start" fill="#151515" >FOS</text>
<text x="449.6" y="547.42" font-size="8.6" text-anchor="start" fill="#151515" >AKT1</text>
<text x="449.6" y="555.87" font-size="8.6" text-anchor="start" fill="#151515" >PIK3CB</text>
<text x="449.6" y="564.32" font-size="8.6" text-anchor="start" fill="#151515" >KRAS</text>
<text x="449.6" y="572.77" font-size="8.6" text-anchor="start" fill="#151515" >ATF4</text>
<text x="449.6" y="581.22" font-size="8.6" text-anchor="start" fill="#151515" >RBX1</text>
<text x="449.6" y="589.67" font-size="8.6" text-anchor="start" fill="#151515" >CLPP</text>
<text x="416.3" y="386.1" font-size="9.2" font-weight="bold" text-anchor="middle" fill="#111" >NRF2-mediated</text>
<text x="416.3" y="397.1" font-size="9.2" font-weight="bold" text-anchor="middle" fill="#111" >Oxidative Stress Response</text>
<text x="416.3" y="407.3" font-size="9.2" font-weight="bold" text-anchor="middle" fill="#111" >p-value = 0.0288</text>
<path d="M407.90,465.80 V450.50 H434.40 V465.80M381.30,465.80 V427.50 H421.15 V450.50" fill="none" stroke="#444" stroke-width="0.8"/>
<path d="M368.00,476.73 H366.50 V485.18 H368.00M366.50,480.95 H365.50 V493.62 H368.00M368.00,510.52 H366.50 V518.98 H368.00M368.00,502.07 H365.50 V514.75 H366.50M365.50,487.29 H364.50 V508.41 H365.50M368.00,527.42 H365.00 V535.88 H368.00M364.50,497.85 H363.20 V531.65 H365.00M368.00,544.33 H365.50 V552.77 H368.00M365.50,548.55 H363.50 V561.23 H368.00M363.20,514.75 H353.80 V554.89 H363.50M368.00,569.67 H365.50 V578.12 H368.00M365.50,573.90 H358.80 V586.58 H368.00M353.80,534.82 H331.30 V580.24 H358.80" fill="none" stroke="#444" stroke-width="0.8"/>
<line x1="329.3" y1="448" x2="329.3" y2="503" stroke="#d4d4d4" stroke-width="0.6" />
<defs><linearGradient id="cs" x1="0" y1="1" x2="0" y2="0"><stop offset="0.0000" stop-color="#4575B4"/><stop offset="0.1667" stop-color="#91BFDB"/><stop offset="0.3333" stop-color="#E0F3F8"/><stop offset="0.5000" stop-color="#FFFFBF"/><stop offset="0.6667" stop-color="#FEE090"/><stop offset="0.8333" stop-color="#FC8D59"/><stop offset="1.0000" stop-color="#D92A24"/></linearGradient></defs>
<rect x="492.5" y="464.3" width="7.2" height="104.7" fill="url(#cs)"/>
<text x="501.6" y="474.6" font-size="8.4" text-anchor="start" fill="#222" >1</text>
<text x="501.6" y="497.2" font-size="8.4" text-anchor="start" fill="#222" >0.5</text>
<text x="501.6" y="520.2" font-size="8.4" text-anchor="start" fill="#222" >0</text>
<text x="501.6" y="543.2" font-size="8.4" text-anchor="start" fill="#222" >-0.5</text>
<text x="501.6" y="566" font-size="8.4" text-anchor="start" fill="#222" >-1</text>
<text x="424.8" y="603.8" font-size="10.8" font-weight="bold" text-anchor="start" fill="#111" >Class</text>
<rect x="424.3" y="608.0" width="7.7" height="7.7" fill="#6fbf4e"/>
<text x="435" y="615.6" font-size="11.1" text-anchor="start" fill="#151515" >Chronic CMV</text>
<rect x="424.3" y="619.5" width="7.7" height="7.7" fill="#5ab2ea"/>
<text x="435" y="627.1" font-size="11.1" text-anchor="start" fill="#151515" >Chronic HIV</text>
<rect x="424.3" y="631.0" width="7.7" height="7.7" fill="#f28cab"/>
<text x="435" y="638.6" font-size="11.1" text-anchor="start" fill="#151515" >Primary HIV</text>
</svg>
</body></html>
